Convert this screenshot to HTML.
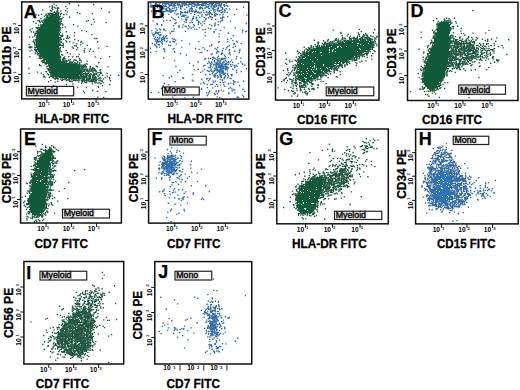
<!DOCTYPE html><html><head><meta charset="utf-8"><style>html,body{margin:0;padding:0;background:#fff;overflow:hidden}svg{display:block}</style></head><body>
<svg width="520" height="390" viewBox="0 0 520 390" font-family='"Liberation Sans", sans-serif'>
<rect width="520" height="390" fill="#fff"/>
<g><path fill="#1f5740" d="M0 0m68.8 3.1h1.35v1.35h-1.35zm-15.4 0.4h1.35v1.35h-1.35zm39.7 0.3h1.35v1.35h-1.35zm-41.4 1.4h1.35v1.35h-1.35zm3.9 -0.2h1.35v1.35h-1.35zm22.3 -0.2h1.35v1.35h-1.35zm-28.8 1.4h1.35v1.35h-1.35zm16 -0.3h1.35v1.35h-1.35zm-13.4 0.7h1.35v1.35h-1.35zm1.7 0.2h1.35v1.35h-1.35zm3.8 -0.1h1.35v1.35h-1.35zm-5.8 1.3h1.35v1.35h-1.35zm3.5 -0.5h1.35v1.35h-1.35zm1.8 0.2h1.35v1.35h-1.35zm1.3 -0.3h1.35v1.35h-1.35zm8.6 0.5h1.35v1.35h-1.35zm34.2 -0.2h1.35v1.35h-1.35zm-48.9 1.2h1.35v1.35h-1.35zm5.1 -0.3h1.35v1.35h-1.35zm-14.9 0.8h1.35v1.35h-1.35zm7.7 0.3h1.35v1.35h-1.35zm1.1 0.5h1.35v1.35h-1.35zm6.3 -0.4h1.35v1.35h-1.35zm7.8 0.2h1.35v1.35h-1.35zm-14.4 0.5h1.35v1.35h-1.35zm3.2 0.2h1.35v1.35h-1.35zm2.2 -0.3h1.35v1.35h-1.35zm0.7 0.5h1.35v1.35h-1.35zm3.5 -0.4h1.35v1.35h-1.35zm6.5 0.7h1.35v1.35h-1.35zm-13.2 0.7h1.35v1.35h-1.35zm1.4 0.3h1.35v1.35h-1.35zm1 0h1.35v1.35h-1.35zm1 -0.6h1.35v1.35h-1.35zm1.1 0.6h1.35v1.35h-1.35zm18.7 -0.2h1.35v1.35h-1.35zm31.8 -0.4h1.35v1.35h-1.35zm-60.8 1.5h1.35v1.35h-1.35zm1.2 -0.5h1.35v1.35h-1.35zm0.8 0.1h1.35v1.35h-1.35zm1.4 0.4h1.35v1.35h-1.35zm1.1 -0.1h1.35v1.35h-1.35zm0.2 -0.4h1.35v1.35h-1.35zm4.7 0.2h1.35v1.35h-1.35zm0.7 0.4h1.35v1.35h-1.35zm3.1 -0.2h1.35v1.35h-1.35zm18.3 0h1.35v1.35h-1.35zm12.7 -0.1h1.35v1.35h-1.35zm-56.5 1.2h1.35v1.35h-1.35zm5.4 -0.4h1.35v1.35h-1.35zm4.8 -0.1h1.35v1.35h-1.35zm2 0h1.35v1.35h-1.35zm1.4 0.1h1.35v1.35h-1.35zm0.9 0.5h1.35v1.35h-1.35zm1.1 0h1.35v1.35h-1.35zm6.7 -0.1h1.35v1.35h-1.35zm2.1 -0.5h1.35v1.35h-1.35zm3.4 0.5h1.35v1.35h-1.35zm2.7 -0.5h1.35v1.35h-1.35zm-27.9 1h1.35v1.35h-1.35zm7.2 -0.2h1.35v1.35h-1.35zm1.2 0.7h1.35v1.35h-1.35zm1.7 0.1h1.35v1.35h-1.35zm1.5 -0.4h1.35v1.35h-1.35zm-5.8 0.6h1.35v1.35h-1.35zm3.4 0h1.35v1.35h-1.35zm2 0.1h1.35v1.35h-1.35zm9.9 0.5h1.35v1.35h-1.35zm0.4 -0.5h1.35v1.35h-1.35zm-13.7 1.1h1.35v1.35h-1.35zm1.1 0h1.35v1.35h-1.35zm11.5 0h1.35v1.35h-1.35zm4 0.1h1.35v1.35h-1.35zm6.5 -0.1h1.35v1.35h-1.35zm-28.7 1.5h1.35v1.35h-1.35zm5.4 -0.5h1.35v1.35h-1.35zm13 0h1.35v1.35h-1.35zm1.5 0.4h1.35v1.35h-1.35zm1.1 -0.1h1.35v1.35h-1.35zm-18 1.3h1.35v1.35h-1.35zm0.7 -0.8h1.35v1.35h-1.35zm1 0.3h1.35v1.35h-1.35zm14.2 0.3h1.35v1.35h-1.35zm1.4 0.1h1.35v1.35h-1.35zm32.5 -0.4h1.35v1.35h-1.35zm-55.6 1.4h1.35v1.35h-1.35zm1.2 -0.4h1.35v1.35h-1.35zm3.9 0h1.35v1.35h-1.35zm1.6 0.1h1.35v1.35h-1.35zm43.5 0.1h1.35v1.35h-1.35zm-54.8 1h1.35v1.35h-1.35zm6.2 0h1.35v1.35h-1.35zm1.8 -0.4h1.35v1.35h-1.35zm1.4 0.7h1.35v1.35h-1.35zm16.4 -0.5h1.35v1.35h-1.35zm1 0.5h1.35v1.35h-1.35zm1.1 -0.5h1.35v1.35h-1.35zm25.2 -0.2h1.35v1.35h-1.35zm-46.4 1.5h1.35v1.35h-1.35zm2.2 -0.2h1.35v1.35h-1.35zm1.1 -0.3h1.35v1.35h-1.35zm16 0.3h1.35v1.35h-1.35zm0.8 0.2h1.35v1.35h-1.35zm34.1 -0.5h1.35v1.35h-1.35zm11.8 0.5h1.35v1.35h-1.35zm-70 0.7h1.35v1.35h-1.35zm23.3 0.1h1.35v1.35h-1.35zm0.8 0.4h1.35v1.35h-1.35zm1.5 -0.2h1.35v1.35h-1.35zm-21 0.9h1.35v1.35h-1.35zm18.8 0h1.35v1.35h-1.35zm0.6 -0.1h1.35v1.35h-1.35zm2.6 0.1h1.35v1.35h-1.35zm10.8 0.1h1.35v1.35h-1.35zm18 -0.3h1.35v1.35h-1.35zm-53 0.8h1.35v1.35h-1.35zm2.1 0h1.35v1.35h-1.35zm19 0.2h1.35v1.35h-1.35zm2.9 -0.2h1.35v1.35h-1.35zm-21.8 1.4h1.35v1.35h-1.35zm18.6 -0.1h1.35v1.35h-1.35zm18.5 -0.3h1.35v1.35h-1.35zm-41.6 1.7h1.35v1.35h-1.35zm1 -0.1h1.35v1.35h-1.35zm1 -0.4h1.35v1.35h-1.35zm1 0.2h1.35v1.35h-1.35zm20.2 0.3h1.35v1.35h-1.35zm0.6 -0.1h1.35v1.35h-1.35zm2.4 -0.3h1.35v1.35h-1.35zm2.9 -0.3h1.35v1.35h-1.35zm-33.1 1.5h1.35v1.35h-1.35zm4.9 -0.3h1.35v1.35h-1.35zm1.3 0.5h1.35v1.35h-1.35zm20.8 -0.1h1.35v1.35h-1.35zm1.3 -0.7h1.35v1.35h-1.35zm-30.3 1.7h1.35v1.35h-1.35zm7.9 -0.1h1.35v1.35h-1.35zm21.1 0.1h1.35v1.35h-1.35zm0.9 0.1h1.35v1.35h-1.35zm-22.8 0.6h1.35v1.35h-1.35zm0.8 -0.1h1.35v1.35h-1.35zm21.6 0.2h1.35v1.35h-1.35zm22.1 0.1h1.35v1.35h-1.35zm-50.5 1.1h1.35v1.35h-1.35zm4.9 -0.4h1.35v1.35h-1.35zm1.2 0.2h1.35v1.35h-1.35zm22 -0.4h1.35v1.35h-1.35zm6.9 0.6h1.35v1.35h-1.35zm20.2 -0.2h1.35v1.35h-1.35zm-52.9 0.7h1.35v1.35h-1.35zm2.7 0.6h1.35v1.35h-1.35zm1.3 0h1.35v1.35h-1.35zm22.8 -0.5h1.35v1.35h-1.35zm14 0.4h1.35v1.35h-1.35zm-39.3 0.9h1.35v1.35h-1.35zm1.1 -0.3h1.35v1.35h-1.35zm23 0h1.35v1.35h-1.35zm-24.1 0.8h1.35v1.35h-1.35zm24.2 0.1h1.35v1.35h-1.35zm3.2 -0.1h1.35v1.35h-1.35zm29.2 0.5h1.35v1.35h-1.35zm-57.2 1.2h1.35v1.35h-1.35zm0.7 -0.5h1.35v1.35h-1.35zm1.5 0.5h1.35v1.35h-1.35zm23.4 -0.4h1.35v1.35h-1.35zm1.4 0.1h1.35v1.35h-1.35zm1.2 0h1.35v1.35h-1.35zm4.7 0.2h1.35v1.35h-1.35zm6.9 0.1h1.35v1.35h-1.35zm-37.5 0.8h1.35v1.35h-1.35zm24.4 -0.2h1.35v1.35h-1.35zm0.9 -0.1h1.35v1.35h-1.35zm-32.6 0.8h1.35v1.35h-1.35zm3.2 0h1.35v1.35h-1.35zm3.9 0.6h1.35v1.35h-1.35zm23.2 0h1.35v1.35h-1.35zm0.7 0h1.35v1.35h-1.35zm6.8 -0.5h1.35v1.35h-1.35zm2.2 0.2h1.35v1.35h-1.35zm-32.8 1.1h1.35v1.35h-1.35zm22.7 0.2h1.35v1.35h-1.35zm1 -0.7h1.35v1.35h-1.35zm6.2 0.3h1.35v1.35h-1.35zm1.5 0h1.35v1.35h-1.35zm26.7 0.1h1.35v1.35h-1.35zm1.8 0h1.35v1.35h-1.35zm-61.3 1.2h1.35v1.35h-1.35zm1.4 -0.4h1.35v1.35h-1.35zm23.1 0.3h1.35v1.35h-1.35zm0.9 0h1.35v1.35h-1.35zm0.7 -0.2h1.35v1.35h-1.35zm2.2 0h1.35v1.35h-1.35zm11.1 0.2h1.35v1.35h-1.35zm-41 0.6h1.35v1.35h-1.35zm1.9 0h1.35v1.35h-1.35zm23.6 0.6h1.35v1.35h-1.35zm6.6 -0.2h1.35v1.35h-1.35zm12.5 0.1h1.35v1.35h-1.35zm-45.1 1.1h1.35v1.35h-1.35zm1.9 0.1h1.35v1.35h-1.35zm24.1 -0.1h1.35v1.35h-1.35zm1.6 -0.4h1.35v1.35h-1.35zm5.7 0.2h1.35v1.35h-1.35zm3.2 0.1h1.35v1.35h-1.35zm11.5 -0.2h1.35v1.35h-1.35zm16.3 0.3h1.35v1.35h-1.35zm-63.4 0.9h1.35v1.35h-1.35zm25.7 -0.5h1.35v1.35h-1.35zm1.5 0.2h1.35v1.35h-1.35zm11.8 0.5h1.35v1.35h-1.35zm7.6 -0.3h1.35v1.35h-1.35zm-46.3 1.1h1.35v1.35h-1.35zm25.3 -0.1h1.35v1.35h-1.35zm3.5 0h1.35v1.35h-1.35zm13.6 0h1.35v1.35h-1.35zm6 -0.4h1.35v1.35h-1.35zm-53.7 1.5h1.35v1.35h-1.35zm5.9 -0.5h1.35v1.35h-1.35zm24.4 0.2h1.35v1.35h-1.35zm1 0.3h1.35v1.35h-1.35zm2.9 0.2h1.35v1.35h-1.35zm17.3 0h1.35v1.35h-1.35zm-45.6 0.4h1.35v1.35h-1.35zm24.3 0.3h1.35v1.35h-1.35zm0.8 0h1.35v1.35h-1.35zm1.5 -0.1h1.35v1.35h-1.35zm1.2 0.2h1.35v1.35h-1.35zm11.9 0h1.35v1.35h-1.35zm1.5 0h1.35v1.35h-1.35zm11 -0.3h1.35v1.35h-1.35zm-57 1.2h1.35v1.35h-1.35zm46 -0.5h1.35v1.35h-1.35zm30.8 0.3h1.35v1.35h-1.35zm-78 0.9h1.35v1.35h-1.35zm1.4 0.6h1.35v1.35h-1.35zm1.3 -0.6h1.35v1.35h-1.35zm3.1 0h1.35v1.35h-1.35zm1 -0.2h1.35v1.35h-1.35zm0.5 0.2h1.35v1.35h-1.35zm23.9 0.4h1.35v1.35h-1.35zm3.1 -0.4h1.35v1.35h-1.35zm8.9 -0.1h1.35v1.35h-1.35zm5.5 0.6h1.35v1.35h-1.35zm-42.2 1.1h1.35v1.35h-1.35zm24.3 -0.1h1.35v1.35h-1.35zm13.5 -0.5h1.35v1.35h-1.35zm11.5 0.4h1.35v1.35h-1.35zm13.8 -0.5h1.35v1.35h-1.35zm-64 1.2h1.35v1.35h-1.35zm0.5 0h1.35v1.35h-1.35zm1.4 0.4h1.35v1.35h-1.35zm22.9 -0.4h1.35v1.35h-1.35zm17.3 0.2h1.35v1.35h-1.35zm13.8 -0.3h1.35v1.35h-1.35zm-58.7 0.9h1.35v1.35h-1.35zm3.4 0.2h1.35v1.35h-1.35zm1.2 0.4h1.35v1.35h-1.35zm23.4 -0.5h1.35v1.35h-1.35zm0.2 0.6h1.35v1.35h-1.35zm6.2 -0.2h1.35v1.35h-1.35zm18.1 0h1.35v1.35h-1.35zm-54.2 0.5h1.35v1.35h-1.35zm6.2 0.1h1.35v1.35h-1.35zm0.8 -0.1h1.35v1.35h-1.35zm22.2 0.6h1.35v1.35h-1.35zm1.8 -0.3h1.35v1.35h-1.35zm28.3 -0.2h1.35v1.35h-1.35zm3.8 0.1h1.35v1.35h-1.35zm-57.9 0.8h1.35v1.35h-1.35zm2 0.6h1.35v1.35h-1.35zm21.9 -0.5h1.35v1.35h-1.35zm8.1 0.5h1.35v1.35h-1.35zm17.1 -0.6h1.35v1.35h-1.35zm-49 1.4h1.35v1.35h-1.35zm2 -0.3h1.35v1.35h-1.35zm1.4 0.5h1.35v1.35h-1.35zm20.3 -0.1h1.35v1.35h-1.35zm11.2 0.2h1.35v1.35h-1.35zm-32.8 0.9h1.35v1.35h-1.35zm1.8 -0.7h1.35v1.35h-1.35zm19.8 0.7h1.35v1.35h-1.35zm2.5 -0.1h1.35v1.35h-1.35zm17.5 -0.3h1.35v1.35h-1.35zm-39.9 1.2h1.35v1.35h-1.35zm1.2 -0.1h1.35v1.35h-1.35zm18.9 0h1.35v1.35h-1.35zm3.4 -0.4h1.35v1.35h-1.35zm-32.9 1.6h1.35v1.35h-1.35zm9.8 0.2h1.35v1.35h-1.35zm0.7 0h1.35v1.35h-1.35zm1.4 -0.3h1.35v1.35h-1.35zm17.4 0.1h1.35v1.35h-1.35zm1.3 -0.3h1.35v1.35h-1.35zm4.2 0.5h1.35v1.35h-1.35zm4.2 -0.3h1.35v1.35h-1.35zm3.6 0.3h1.35v1.35h-1.35zm4.1 -0.3h1.35v1.35h-1.35zm1.6 -0.1h1.35v1.35h-1.35zm17.1 0.4h1.35v1.35h-1.35zm14.3 -0.3h1.35v1.35h-1.35zm-69.7 0.6h1.35v1.35h-1.35zm2.3 0.1h1.35v1.35h-1.35zm18.5 0h1.35v1.35h-1.35zm3 0.3h1.35v1.35h-1.35zm-24.6 0.8h1.35v1.35h-1.35zm1.5 0.1h1.35v1.35h-1.35zm0.9 -0.1h1.35v1.35h-1.35zm1.8 0h1.35v1.35h-1.35zm20.2 -0.1h1.35v1.35h-1.35zm1.2 0.4h1.35v1.35h-1.35zm0.6 0.2h1.35v1.35h-1.35zm14.2 -0.4h1.35v1.35h-1.35zm21.1 -0.1h1.35v1.35h-1.35zm-56.8 1.3h1.35v1.35h-1.35zm16.7 -0.5h1.35v1.35h-1.35zm2.1 0.1h1.35v1.35h-1.35zm0.7 0.2h1.35v1.35h-1.35zm7.1 0.1h1.35v1.35h-1.35zm4.3 0.1h1.35v1.35h-1.35zm-32 1.1h1.35v1.35h-1.35zm0.6 -0.1h1.35v1.35h-1.35zm1.5 0h1.35v1.35h-1.35zm15.5 -0.3h1.35v1.35h-1.35zm2.3 0.5h1.35v1.35h-1.35zm1.1 -0.2h1.35v1.35h-1.35zm0.5 -0.2h1.35v1.35h-1.35zm1.7 0.3h1.35v1.35h-1.35zm0.8 -0.2h1.35v1.35h-1.35zm2.1 -0.3h1.35v1.35h-1.35zm5.3 -0.2h1.35v1.35h-1.35zm1.8 0.5h1.35v1.35h-1.35zm0.6 -0.2h1.35v1.35h-1.35zm3.2 -0.1h1.35v1.35h-1.35zm1.1 0h1.35v1.35h-1.35zm-39.4 0.9h1.35v1.35h-1.35zm2.5 0.3h1.35v1.35h-1.35zm0.4 0.4h1.35v1.35h-1.35zm17.9 -0.7h1.35v1.35h-1.35zm1.3 0.4h1.35v1.35h-1.35zm0.8 0.3h1.35v1.35h-1.35zm1.4 0h1.35v1.35h-1.35zm1.1 -0.2h1.35v1.35h-1.35zm0.4 -0.2h1.35v1.35h-1.35zm2.7 -0.3h1.35v1.35h-1.35zm3.5 0.5h1.35v1.35h-1.35zm4.3 0.1h1.35v1.35h-1.35zm3.8 0.1h1.35v1.35h-1.35zm5.8 -0.7h1.35v1.35h-1.35zm-44.5 1.3h1.35v1.35h-1.35zm1.4 -0.1h1.35v1.35h-1.35zm1.2 0.3h1.35v1.35h-1.35zm1.1 -0.6h1.35v1.35h-1.35zm19.8 0.6h1.35v1.35h-1.35zm3.2 -0.1h1.35v1.35h-1.35zm1.3 -0.1h1.35v1.35h-1.35zm0.7 -0.3h1.35v1.35h-1.35zm0.9 0.5h1.35v1.35h-1.35zm2.3 0.1h1.35v1.35h-1.35zm5.1 -0.3h1.35v1.35h-1.35zm19 0.3h1.35v1.35h-1.35zm-53.9 1.1h1.35v1.35h-1.35zm0.3 -0.4h1.35v1.35h-1.35zm1.2 -0.1h1.35v1.35h-1.35zm1.4 -0.1h1.35v1.35h-1.35zm23 0h1.35v1.35h-1.35zm0.6 -0.1h1.35v1.35h-1.35zm1.5 0.6h1.35v1.35h-1.35zm0.3 0h1.35v1.35h-1.35zm2 -0.5h1.35v1.35h-1.35zm1.4 0.2h1.35v1.35h-1.35zm0.8 -0.4h1.35v1.35h-1.35zm2.1 0.3h1.35v1.35h-1.35zm6.7 0.5h1.35v1.35h-1.35zm-46.7 0.7h1.35v1.35h-1.35zm6.8 -0.5h1.35v1.35h-1.35zm31.4 0.8h1.35v1.35h-1.35zm1.2 -0.2h1.35v1.35h-1.35zm0.9 -0.1h1.35v1.35h-1.35zm5 -0.2h1.35v1.35h-1.35zm2.5 -0.2h1.35v1.35h-1.35zm-47.7 1.1h1.35v1.35h-1.35zm1.3 0.6h1.35v1.35h-1.35zm7.9 -0.1h1.35v1.35h-1.35zm30.5 -0.4h1.35v1.35h-1.35zm1.5 -0.2h1.35v1.35h-1.35zm1 0h1.35v1.35h-1.35zm1.7 0h1.35v1.35h-1.35zm1.9 0.5h1.35v1.35h-1.35zm-38.7 1.2h1.35v1.35h-1.35zm0.9 -0.6h1.35v1.35h-1.35zm33.1 0.4h1.35v1.35h-1.35zm0.7 0.1h1.35v1.35h-1.35zm1.5 -0.5h1.35v1.35h-1.35zm0.7 -0.1h1.35v1.35h-1.35zm1 0.1h1.35v1.35h-1.35zm1.9 0.5h1.35v1.35h-1.35zm3.7 -0.4h1.35v1.35h-1.35zm6.2 -0.1h1.35v1.35h-1.35zm1.1 0.5h1.35v1.35h-1.35zm10.4 0.1h1.35v1.35h-1.35zm-25.6 0.3h1.35v1.35h-1.35zm1.2 0.6h1.35v1.35h-1.35zm0.8 -0.6h1.35v1.35h-1.35zm1 0h1.35v1.35h-1.35zm5 -0.1h1.35v1.35h-1.35zm2.5 0.4h1.35v1.35h-1.35zm-63.9 1h1.35v1.35h-1.35zm18.4 0.1h1.35v1.35h-1.35zm1 0.1h1.35v1.35h-1.35zm1.1 0.2h1.35v1.35h-1.35zm30.7 -0.5h1.35v1.35h-1.35zm1.5 -0.2h1.35v1.35h-1.35zm0.8 0.3h1.35v1.35h-1.35zm3.5 0.4h1.35v1.35h-1.35zm4.2 -0.6h1.35v1.35h-1.35zm1.4 0.6h1.35v1.35h-1.35zm2.2 -0.5h1.35v1.35h-1.35zm0.6 0.1h1.35v1.35h-1.35zm-46 0.9h1.35v1.35h-1.35zm1.3 0.3h1.35v1.35h-1.35zm30.6 0.1h1.35v1.35h-1.35zm1.4 0h1.35v1.35h-1.35zm1 -0.5h1.35v1.35h-1.35zm0.8 0.3h1.35v1.35h-1.35zm1.3 -0.4h1.35v1.35h-1.35zm1.1 0.1h1.35v1.35h-1.35zm0.5 -0.1h1.35v1.35h-1.35zm1.1 0.1h1.35v1.35h-1.35zm2.1 0.2h1.35v1.35h-1.35zm0.6 -0.4h1.35v1.35h-1.35zm2.4 0h1.35v1.35h-1.35zm2.3 0.3h1.35v1.35h-1.35zm5.8 0.3h1.35v1.35h-1.35zm-52.1 0.8h1.35v1.35h-1.35zm0.7 0h1.35v1.35h-1.35zm32.6 -0.2h1.35v1.35h-1.35zm2.6 -0.1h1.35v1.35h-1.35zm2.1 -0.1h1.35v1.35h-1.35zm0.9 0.7h1.35v1.35h-1.35zm1.8 -0.6h1.35v1.35h-1.35zm1.4 0.7h1.35v1.35h-1.35zm1.1 -0.7h1.35v1.35h-1.35zm1 0h1.35v1.35h-1.35zm0.9 0h1.35v1.35h-1.35zm0.7 0.3h1.35v1.35h-1.35zm1 -0.3h1.35v1.35h-1.35zm4.8 0.4h1.35v1.35h-1.35zm-54.2 1h1.35v1.35h-1.35zm0.7 0.3h1.35v1.35h-1.35zm3.1 -0.5h1.35v1.35h-1.35zm30.9 -0.2h1.35v1.35h-1.35zm0.9 0.5h1.35v1.35h-1.35zm0.9 -0.1h1.35v1.35h-1.35zm1.1 -0.3h1.35v1.35h-1.35zm1 0.1h1.35v1.35h-1.35zm1.6 -0.2h1.35v1.35h-1.35zm1.2 0h1.35v1.35h-1.35zm1 0.1h1.35v1.35h-1.35zm1.1 0.6h1.35v1.35h-1.35zm1 -0.7h1.35v1.35h-1.35zm0.9 0h1.35v1.35h-1.35zm1.1 0.6h1.35v1.35h-1.35zm3.1 -0.7h1.35v1.35h-1.35zm0.9 0.2h1.35v1.35h-1.35zm-58.9 0.9h1.35v1.35h-1.35zm12.3 0.2h1.35v1.35h-1.35zm0.7 -0.2h1.35v1.35h-1.35zm30.1 0.3h1.35v1.35h-1.35zm0.8 0.4h1.35v1.35h-1.35zm1.3 -0.7h1.35v1.35h-1.35zm2.8 0.4h1.35v1.35h-1.35zm2.8 0.3h1.35v1.35h-1.35zm4.6 -0.7h1.35v1.35h-1.35zm0.4 0h1.35v1.35h-1.35zm4.4 0.7h1.35v1.35h-1.35zm1.5 -0.2h1.35v1.35h-1.35zm1.5 -0.5h1.35v1.35h-1.35zm-71.5 1.2h1.35v1.35h-1.35zm12.1 -0.3h1.35v1.35h-1.35zm6.4 0.8h1.35v1.35h-1.35zm3.2 -0.6h1.35v1.35h-1.35zm29.8 0.4h1.35v1.35h-1.35zm1 -0.4h1.35v1.35h-1.35zm1.8 0.5h1.35v1.35h-1.35zm1.3 -0.1h1.35v1.35h-1.35zm0.4 0h1.35v1.35h-1.35zm1.1 -0.1h1.35v1.35h-1.35zm1.5 -0.3h1.35v1.35h-1.35zm0.7 0.2h1.35v1.35h-1.35zm2.2 0.4h1.35v1.35h-1.35zm3.6 -0.3h1.35v1.35h-1.35zm1.6 -0.3h1.35v1.35h-1.35zm0.4 0.2h1.35v1.35h-1.35zm4.3 -0.1h1.35v1.35h-1.35zm1.1 -0.2h1.35v1.35h-1.35zm5.5 0.3h1.35v1.35h-1.35zm-63.8 1.2h1.35v1.35h-1.35zm5.2 0.1h1.35v1.35h-1.35zm2 -0.3h1.35v1.35h-1.35zm0.9 -0.4h1.35v1.35h-1.35zm28.8 0.3h1.35v1.35h-1.35zm1.2 -0.2h1.35v1.35h-1.35zm1.2 0.5h1.35v1.35h-1.35zm2.7 0h1.35v1.35h-1.35zm1.4 0.1h1.35v1.35h-1.35zm0.4 -0.6h1.35v1.35h-1.35zm2.7 0.5h1.35v1.35h-1.35zm1.4 -0.3h1.35v1.35h-1.35zm2.2 -0.1h1.35v1.35h-1.35zm1.3 0.4h1.35v1.35h-1.35zm1.7 -0.1h1.35v1.35h-1.35zm3.1 0.2h1.35v1.35h-1.35zm-48 1h1.35v1.35h-1.35zm28.7 -0.4h1.35v1.35h-1.35zm1.3 -0.3h1.35v1.35h-1.35zm2.1 0.3h1.35v1.35h-1.35zm1.6 -0.2h1.35v1.35h-1.35zm0.9 0.4h1.35v1.35h-1.35zm1.3 0.1h1.35v1.35h-1.35zm0.8 0.1h1.35v1.35h-1.35zm1.1 -0.3h1.35v1.35h-1.35zm1.2 -0.3h1.35v1.35h-1.35zm2 0.3h1.35v1.35h-1.35zm0.7 -0.2h1.35v1.35h-1.35zm1.3 0.1h1.35v1.35h-1.35zm3.2 0.2h1.35v1.35h-1.35zm5 -0.2h1.35v1.35h-1.35zm7.7 -0.2h1.35v1.35h-1.35zm8.2 0.1h1.35v1.35h-1.35zm-75.2 1.6h1.35v1.35h-1.35zm0.7 -0.7h1.35v1.35h-1.35zm6 0.2h1.35v1.35h-1.35zm1.2 -0.1h1.35v1.35h-1.35zm0.9 0.6h1.35v1.35h-1.35zm1.2 -0.3h1.35v1.35h-1.35zm0.8 -0.4h1.35v1.35h-1.35zm26.2 0h1.35v1.35h-1.35zm1.3 0h1.35v1.35h-1.35zm1 0.6h1.35v1.35h-1.35zm0.5 -0.2h1.35v1.35h-1.35zm1.2 0.1h1.35v1.35h-1.35zm0.9 0.1h1.35v1.35h-1.35zm1 0h1.35v1.35h-1.35zm2.2 -0.6h1.35v1.35h-1.35zm0.8 0.4h1.35v1.35h-1.35zm1 -0.3h1.35v1.35h-1.35zm2.1 0.6h1.35v1.35h-1.35zm1 -0.6h1.35v1.35h-1.35zm2 0.4h1.35v1.35h-1.35zm2.8 -0.3h1.35v1.35h-1.35zm8.9 0.1h1.35v1.35h-1.35zm-62.1 0.9h1.35v1.35h-1.35zm4.4 0.3h1.35v1.35h-1.35zm3.3 0h1.35v1.35h-1.35zm0.8 -0.6h1.35v1.35h-1.35zm2 0.8h1.35v1.35h-1.35zm0.7 -0.1h1.35v1.35h-1.35zm1.5 0h1.35v1.35h-1.35zm1.7 -0.5h1.35v1.35h-1.35zm21.4 0.1h1.35v1.35h-1.35zm0.4 -0.2h1.35v1.35h-1.35zm1.1 0.5h1.35v1.35h-1.35zm1.3 -0.2h1.35v1.35h-1.35zm1.2 0.3h1.35v1.35h-1.35zm0.8 -0.6h1.35v1.35h-1.35zm0.4 -0.1h1.35v1.35h-1.35zm1 0.7h1.35v1.35h-1.35zm1.4 0.1h1.35v1.35h-1.35zm1 -0.7h1.35v1.35h-1.35zm0.9 0.6h1.35v1.35h-1.35zm2.1 -0.2h1.35v1.35h-1.35zm1.2 -0.4h1.35v1.35h-1.35zm0.6 0.1h1.35v1.35h-1.35zm1 -0.1h1.35v1.35h-1.35zm0.9 0.5h1.35v1.35h-1.35zm4 -0.1h1.35v1.35h-1.35zm5.1 0.1h1.35v1.35h-1.35zm4 -0.2h1.35v1.35h-1.35zm-55.4 0.7h1.35v1.35h-1.35zm1.3 0.7h1.35v1.35h-1.35zm1.6 -0.6h1.35v1.35h-1.35zm1.5 0.5h1.35v1.35h-1.35zm3.9 -0.2h1.35v1.35h-1.35zm2.7 -0.1h1.35v1.35h-1.35zm0.5 -0.3h1.35v1.35h-1.35zm0.9 0.1h1.35v1.35h-1.35zm2.6 0.4h1.35v1.35h-1.35zm0.8 -0.6h1.35v1.35h-1.35zm0.8 0.3h1.35v1.35h-1.35zm0.8 0.3h1.35v1.35h-1.35zm7.9 -0.2h1.35v1.35h-1.35zm1.3 0h1.35v1.35h-1.35zm1.6 -0.3h1.35v1.35h-1.35zm1.2 0.6h1.35v1.35h-1.35zm1.3 -0.2h1.35v1.35h-1.35zm2.2 0.1h1.35v1.35h-1.35zm1.7 -0.1h1.35v1.35h-1.35zm0.8 0h1.35v1.35h-1.35zm1.4 0h1.35v1.35h-1.35zm1.9 -0.4h1.35v1.35h-1.35zm0.6 0.7h1.35v1.35h-1.35zm1.2 -0.3h1.35v1.35h-1.35zm1.5 -0.1h1.35v1.35h-1.35zm2.8 0.1h1.35v1.35h-1.35zm0.7 -0.4h1.35v1.35h-1.35zm1.7 0.4h1.35v1.35h-1.35zm8.5 0.2h1.35v1.35h-1.35zm-54.3 0.5h1.35v1.35h-1.35zm2.3 -0.1h1.35v1.35h-1.35zm3 0h1.35v1.35h-1.35zm2 -0.1h1.35v1.35h-1.35zm0.9 0.3h1.35v1.35h-1.35zm1.7 0.3h1.35v1.35h-1.35zm1.2 0.2h1.35v1.35h-1.35zm1.4 0h1.35v1.35h-1.35zm0.8 0h1.35v1.35h-1.35zm0.7 -0.5h1.35v1.35h-1.35zm2.1 -0.2h1.35v1.35h-1.35zm0.7 0.6h1.35v1.35h-1.35zm1.8 -0.6h1.35v1.35h-1.35zm2.2 -0.1h1.35v1.35h-1.35zm2.1 0.6h1.35v1.35h-1.35zm4.2 -0.3h1.35v1.35h-1.35zm1.1 0.5h1.35v1.35h-1.35zm1.1 -0.1h1.35v1.35h-1.35zm2.1 -0.6h1.35v1.35h-1.35zm1 0.2h1.35v1.35h-1.35zm1.1 -0.1h1.35v1.35h-1.35zm0.6 0.4h1.35v1.35h-1.35zm2.1 0h1.35v1.35h-1.35zm1.2 0.2h1.35v1.35h-1.35zm1.2 -0.2h1.35v1.35h-1.35zm1.4 -0.1h1.35v1.35h-1.35zm2 -0.4h1.35v1.35h-1.35zm6.2 0h1.35v1.35h-1.35zm-52.6 1.4h1.35v1.35h-1.35zm10.8 -0.2h1.35v1.35h-1.35zm0.9 0h1.35v1.35h-1.35zm3.9 0.1h1.35v1.35h-1.35zm2.7 0.2h1.35v1.35h-1.35zm4.4 -0.3h1.35v1.35h-1.35zm1.1 -0.2h1.35v1.35h-1.35zm0.5 0.5h1.35v1.35h-1.35zm1.2 -0.5h1.35v1.35h-1.35zm0.7 0.5h1.35v1.35h-1.35zm1.3 -0.6h1.35v1.35h-1.35zm1.3 0.1h1.35v1.35h-1.35zm1.9 0.1h1.35v1.35h-1.35zm0.7 0.4h1.35v1.35h-1.35zm2.3 0.1h1.35v1.35h-1.35zm1 -0.4h1.35v1.35h-1.35zm1.2 -0.2h1.35v1.35h-1.35zm1.4 0.1h1.35v1.35h-1.35zm2.3 0.1h1.35v1.35h-1.35zm0.9 0.2h1.35v1.35h-1.35zm1 -0.4h1.35v1.35h-1.35zm1.3 0.7h1.35v1.35h-1.35zm1.8 -0.2h1.35v1.35h-1.35zm0.7 -0.5h1.35v1.35h-1.35zm2.7 0.1h1.35v1.35h-1.35zm1.6 0.2h1.35v1.35h-1.35zm1.3 0.4h1.35v1.35h-1.35zm8.7 -0.1h1.35v1.35h-1.35zm-61.9 1h1.35v1.35h-1.35zm9.2 -0.5h1.35v1.35h-1.35zm11.9 0h1.35v1.35h-1.35zm1.1 0h1.35v1.35h-1.35zm1.6 0.4h1.35v1.35h-1.35zm6.4 0.2h1.35v1.35h-1.35zm3 -0.6h1.35v1.35h-1.35zm1.3 -0.1h1.35v1.35h-1.35zm1.6 0.5h1.35v1.35h-1.35zm2.2 -0.2h1.35v1.35h-1.35zm1.8 -0.3h1.35v1.35h-1.35zm1.1 0.7h1.35v1.35h-1.35zm1.4 -0.5h1.35v1.35h-1.35zm1.4 0h1.35v1.35h-1.35zm1 -0.2h1.35v1.35h-1.35zm0.9 0.5h1.35v1.35h-1.35zm1.7 -0.5h1.35v1.35h-1.35zm5.6 0.2h1.35v1.35h-1.35zm0.6 -0.1h1.35v1.35h-1.35zm-47 0.9h1.35v1.35h-1.35zm26.9 0h1.35v1.35h-1.35zm2.9 0.2h1.35v1.35h-1.35zm1.4 0.4h1.35v1.35h-1.35zm5.6 -0.6h1.35v1.35h-1.35zm2.9 0.7h1.35v1.35h-1.35zm1.1 -0.4h1.35v1.35h-1.35zm3 0h1.35v1.35h-1.35zm4.1 0.1h1.35v1.35h-1.35zm-21.8 0.8h1.35v1.35h-1.35zm10.9 0.5h1.35v1.35h-1.35zm5.5 -0.5h1.35v1.35h-1.35zm2.4 0.1h1.35v1.35h-1.35zm0.9 0.2h1.35v1.35h-1.35zm-34.7 0.9h1.35v1.35h-1.35zm6.3 -0.4h1.35v1.35h-1.35zm37 0.4h1.35v1.35h-1.35zm-56.2 1.2h1.35v1.35h-1.35zm48.8 -0.2h1.35v1.35h-1.35zm-4.1 0.8h1.35v1.35h-1.35zm-20.5 0.8h1.35v1.35h-1.35zm8.7 0.3h1.35v1.35h-1.35zm12.1 -0.2h1.35v1.35h-1.35zm-5.8 3.2h1.35v1.35h-1.35zm-9.1 0.9h1.35v1.35h-1.35zm13.8 0h1.35v1.35h-1.35zm8.4 0.2h1.35v1.35h-1.35zm-21.4 1.3h1.35v1.35h-1.35zm13.3 4.3h1.35v1.35h-1.35zm5.9 0.2h1.35v1.35h-1.35z"/><path fill="#0e5a3a" d="M55 13h2v1h-2zM52 14h6v1h-6zM51 15h8v1h-8zM50 16h9v1h-9zM48 17h11v1h-11zM47 18h12v1h-12zM46 19h13v1h-13zM45 20h14v1h-14zM44 21h15v1h-15zM44 22h15v1h-15zM43 23h16v1h-16zM42 24h17v1h-17zM41 25h18v1h-18zM41 26h18v1h-18zM40 27h19v1h-19zM39 28h20v1h-20zM39 29h20v1h-20zM39 30h20v1h-20zM38 31h21v1h-21zM38 32h21v1h-21zM37 33h22v1h-22zM37 34h22v1h-22zM37 35h22v1h-22zM37 36h22v1h-22zM37 37h22v1h-22zM37 38h22v1h-22zM37 39h22v1h-22zM36 40h23v1h-23zM36 41h23v1h-23zM36 42h23v1h-23zM36 43h23v1h-23zM36 44h23v1h-23zM36 45h23v1h-23zM36 46h23v1h-23zM37 47h22v1h-22zM37 48h22v1h-22zM37 49h22v1h-22zM38 50h21v1h-21zM38 51h21v1h-21zM39 52h20v1h-20zM39 53h20v1h-20zM40 54h19v1h-19zM41 55h18v1h-18zM42 56h17v1h-17zM43 57h17v1h-17zM44 58h16v1h-16zM44 59h16v1h-16zM46 60h14v1h-14zM46 61h16v1h-16zM47 62h18v1h-18zM48 63h22v1h-22zM48 64h29v1h-29zM49 65h30v1h-30zM49 66h31v1h-31zM49 67h31v1h-31zM50 68h30v1h-30zM50 69h30v1h-30zM50 70h30v1h-30zM51 71h29v1h-29zM51 72h29v1h-29zM51 73h29v1h-29zM52 74h28v1h-28zM52 75h27v1h-27zM55 76h25v1h-25zM60 77h20v1h-20zM72 78h7v1h-7z"/><path fill="#306aa6" d="M0 0m150.2 3.1h1.35v1.35h-1.35zm4.6 0h1.35v1.35h-1.35zm0.9 -0.5h1.35v1.35h-1.35zm3.7 0.1h1.35v1.35h-1.35zm2.8 0.2h1.35v1.35h-1.35zm1.5 0h1.35v1.35h-1.35zm1.1 0.1h1.35v1.35h-1.35zm1.3 -0.4h1.35v1.35h-1.35zm0.9 0.3h1.35v1.35h-1.35zm0.4 0h1.35v1.35h-1.35zm1.8 0.3h1.35v1.35h-1.35zm1.7 -0.8h1.35v1.35h-1.35zm0.8 0.4h1.35v1.35h-1.35zm1 0.4h1.35v1.35h-1.35zm1.4 -0.6h1.35v1.35h-1.35zm1 0h1.35v1.35h-1.35zm1.8 0.5h1.35v1.35h-1.35zm1.9 -0.6h1.35v1.35h-1.35zm2.4 0.6h1.35v1.35h-1.35zm1.7 0h1.35v1.35h-1.35zm0.7 -0.1h1.35v1.35h-1.35zm0.9 0.2h1.35v1.35h-1.35zm1 -0.2h1.35v1.35h-1.35zm3.1 -0.4h1.35v1.35h-1.35zm2.2 0.4h1.35v1.35h-1.35zm0.9 -0.4h1.35v1.35h-1.35zm1.1 0.2h1.35v1.35h-1.35zm0.7 0.2h1.35v1.35h-1.35zm3.2 0h1.35v1.35h-1.35zm0.8 -0.3h1.35v1.35h-1.35zm4.7 0.4h1.35v1.35h-1.35zm0.7 -0.3h1.35v1.35h-1.35zm1.5 0.3h1.35v1.35h-1.35zm1.3 -0.4h1.35v1.35h-1.35zm3.2 0.2h1.35v1.35h-1.35zm1.3 -0.2h1.35v1.35h-1.35zm0.4 0.1h1.35v1.35h-1.35zm1.3 -0.1h1.35v1.35h-1.35zm0.8 -0.1h1.35v1.35h-1.35zm2.4 0h1.35v1.35h-1.35zm0.9 0.6h1.35v1.35h-1.35zm0.4 -0.3h1.35v1.35h-1.35zm1.5 -0.3h1.35v1.35h-1.35zm0.7 0.3h1.35v1.35h-1.35zm2.2 0.2h1.35v1.35h-1.35zm4.9 -0.7h1.35v1.35h-1.35zm-71.2 1.7h1.35v1.35h-1.35zm1.3 0h1.35v1.35h-1.35zm1.1 -0.4h1.35v1.35h-1.35zm1.9 -0.2h1.35v1.35h-1.35zm3.1 0.1h1.35v1.35h-1.35zm3.6 0.2h1.35v1.35h-1.35zm2.5 0.2h1.35v1.35h-1.35zm2.7 -0.2h1.35v1.35h-1.35zm2.8 0.3h1.35v1.35h-1.35zm3.4 0h1.35v1.35h-1.35zm0.8 -0.3h1.35v1.35h-1.35zm1.4 0.1h1.35v1.35h-1.35zm2.9 -0.4h1.35v1.35h-1.35zm1.7 0.5h1.35v1.35h-1.35zm0.9 -0.2h1.35v1.35h-1.35zm1.5 0.3h1.35v1.35h-1.35zm2.1 -0.4h1.35v1.35h-1.35zm0.8 0h1.35v1.35h-1.35zm0.8 -0.1h1.35v1.35h-1.35zm1.2 0.3h1.35v1.35h-1.35zm2 -0.5h1.35v1.35h-1.35zm1.1 0.5h1.35v1.35h-1.35zm0.8 -0.3h1.35v1.35h-1.35zm1 0.5h1.35v1.35h-1.35zm0.6 0.1h1.35v1.35h-1.35zm1.2 -0.7h1.35v1.35h-1.35zm1.1 0.3h1.35v1.35h-1.35zm1.1 0.1h1.35v1.35h-1.35zm1.3 -0.3h1.35v1.35h-1.35zm0.7 0.3h1.35v1.35h-1.35zm0.9 0.3h1.35v1.35h-1.35zm2.2 -0.2h1.35v1.35h-1.35zm2.1 -0.2h1.35v1.35h-1.35zm1.1 0.2h1.35v1.35h-1.35zm2.4 -0.1h1.35v1.35h-1.35zm1.1 -0.2h1.35v1.35h-1.35zm2.9 0.3h1.35v1.35h-1.35zm3.9 0h1.35v1.35h-1.35zm1.6 0.1h1.35v1.35h-1.35zm3.6 -0.2h1.35v1.35h-1.35zm-73.7 1h1.35v1.35h-1.35zm1.2 0.3h1.35v1.35h-1.35zm0.4 -0.5h1.35v1.35h-1.35zm1.9 0.2h1.35v1.35h-1.35zm2.7 0h1.35v1.35h-1.35zm0.3 0.2h1.35v1.35h-1.35zm1.3 -0.6h1.35v1.35h-1.35zm1.8 0.4h1.35v1.35h-1.35zm1.5 0.3h1.35v1.35h-1.35zm1.9 -0.1h1.35v1.35h-1.35zm1.6 -0.4h1.35v1.35h-1.35zm4.2 0.4h1.35v1.35h-1.35zm0.8 -0.3h1.35v1.35h-1.35zm1 -0.1h1.35v1.35h-1.35zm0.8 0h1.35v1.35h-1.35zm1.7 0.2h1.35v1.35h-1.35zm1 0h1.35v1.35h-1.35zm0.6 0.1h1.35v1.35h-1.35zm1.9 -0.5h1.35v1.35h-1.35zm1.3 0h1.35v1.35h-1.35zm1.6 0.5h1.35v1.35h-1.35zm1.7 0h1.35v1.35h-1.35zm0.6 -0.2h1.35v1.35h-1.35zm2.2 0.2h1.35v1.35h-1.35zm3.7 -0.4h1.35v1.35h-1.35zm3.5 0.5h1.35v1.35h-1.35zm3.6 -0.6h1.35v1.35h-1.35zm1.8 0.3h1.35v1.35h-1.35zm1.6 0h1.35v1.35h-1.35zm2.9 -0.1h1.35v1.35h-1.35zm0.9 0.2h1.35v1.35h-1.35zm1.4 0.1h1.35v1.35h-1.35zm1.8 0.1h1.35v1.35h-1.35zm3 0.1h1.35v1.35h-1.35zm2.4 -0.6h1.35v1.35h-1.35zm1.5 0.6h1.35v1.35h-1.35zm1.6 -0.2h1.35v1.35h-1.35zm1.2 -0.5h1.35v1.35h-1.35zm1 0.4h1.35v1.35h-1.35zm1.8 -0.1h1.35v1.35h-1.35zm1.2 0.1h1.35v1.35h-1.35zm0.9 0.2h1.35v1.35h-1.35zm0.7 -0.6h1.35v1.35h-1.35zm2.6 0h1.35v1.35h-1.35zm2.4 0.2h1.35v1.35h-1.35zm1.2 0.5h1.35v1.35h-1.35zm-77 1h1.35v1.35h-1.35zm11.1 -0.2h1.35v1.35h-1.35zm0.8 -0.2h1.35v1.35h-1.35zm1.5 -0.3h1.35v1.35h-1.35zm0.5 0.5h1.35v1.35h-1.35zm1 -0.3h1.35v1.35h-1.35zm1.3 0.3h1.35v1.35h-1.35zm6.7 -0.2h1.35v1.35h-1.35zm7.4 -0.2h1.35v1.35h-1.35zm1.5 0.3h1.35v1.35h-1.35zm6.6 -0.1h1.35v1.35h-1.35zm3.5 -0.3h1.35v1.35h-1.35zm1.5 0.4h1.35v1.35h-1.35zm0.6 -0.4h1.35v1.35h-1.35zm12.2 0.7h1.35v1.35h-1.35zm1.9 -0.1h1.35v1.35h-1.35zm2.7 -0.4h1.35v1.35h-1.35zm2.3 0.5h1.35v1.35h-1.35zm0.7 0h1.35v1.35h-1.35zm2.1 -0.6h1.35v1.35h-1.35zm4.3 0.5h1.35v1.35h-1.35zm4.2 -0.5h1.35v1.35h-1.35zm3.1 0.1h1.35v1.35h-1.35zm-76 0.9h1.35v1.35h-1.35zm5.4 0.3h1.35v1.35h-1.35zm5.2 0.1h1.35v1.35h-1.35zm5.1 0.2h1.35v1.35h-1.35zm1.2 -0.7h1.35v1.35h-1.35zm5.9 -0.1h1.35v1.35h-1.35zm1.7 0.6h1.35v1.35h-1.35zm2.2 -0.5h1.35v1.35h-1.35zm2.1 0.2h1.35v1.35h-1.35zm6 0h1.35v1.35h-1.35zm4.7 0.4h1.35v1.35h-1.35zm5.3 -0.5h1.35v1.35h-1.35zm2.9 0.4h1.35v1.35h-1.35zm0.9 -0.4h1.35v1.35h-1.35zm1.4 0.4h1.35v1.35h-1.35zm4.3 0h1.35v1.35h-1.35zm1.7 -0.2h1.35v1.35h-1.35zm3.2 -0.3h1.35v1.35h-1.35zm3.8 0.2h1.35v1.35h-1.35zm3.6 0h1.35v1.35h-1.35zm2.9 -0.2h1.35v1.35h-1.35zm1.1 0.5h1.35v1.35h-1.35zm21.1 -0.4h1.35v1.35h-1.35zm-84.2 0.8h1.35v1.35h-1.35zm4.4 0.4h1.35v1.35h-1.35zm2.5 0.3h1.35v1.35h-1.35zm2.9 -0.4h1.35v1.35h-1.35zm3.2 0h1.35v1.35h-1.35zm1.8 0.2h1.35v1.35h-1.35zm6.4 0.1h1.35v1.35h-1.35zm9.8 -0.2h1.35v1.35h-1.35zm1.1 0.2h1.35v1.35h-1.35zm0.6 0.1h1.35v1.35h-1.35zm7.4 0.1h1.35v1.35h-1.35zm1.2 -0.3h1.35v1.35h-1.35zm2.1 0.2h1.35v1.35h-1.35zm2 -0.6h1.35v1.35h-1.35zm4 0.4h1.35v1.35h-1.35zm0.7 0.1h1.35v1.35h-1.35zm3 0.1h1.35v1.35h-1.35zm0.7 -0.6h1.35v1.35h-1.35zm4.2 0.2h1.35v1.35h-1.35zm1 -0.1h1.35v1.35h-1.35zm4.3 -0.1h1.35v1.35h-1.35zm3.6 0.6h1.35v1.35h-1.35zm3.4 0.1h1.35v1.35h-1.35zm-64.2 0.6h1.35v1.35h-1.35zm4.3 -0.3h1.35v1.35h-1.35zm0.7 0.3h1.35v1.35h-1.35zm6.3 -0.2h1.35v1.35h-1.35zm4.4 -0.1h1.35v1.35h-1.35zm3.5 0h1.35v1.35h-1.35zm5.2 0.3h1.35v1.35h-1.35zm2.5 -0.3h1.35v1.35h-1.35zm3.4 0.7h1.35v1.35h-1.35zm17.9 -0.7h1.35v1.35h-1.35zm1.4 0.4h1.35v1.35h-1.35zm2.4 0.3h1.35v1.35h-1.35zm5 -0.6h1.35v1.35h-1.35zm1.9 0.1h1.35v1.35h-1.35zm12.4 -0.1h1.35v1.35h-1.35zm-70 0.8h1.35v1.35h-1.35zm0.5 0.5h1.35v1.35h-1.35zm2.3 -0.4h1.35v1.35h-1.35zm0.8 0h1.35v1.35h-1.35zm0.9 0.6h1.35v1.35h-1.35zm0.9 -0.3h1.35v1.35h-1.35zm1.6 0.2h1.35v1.35h-1.35zm1.9 -0.2h1.35v1.35h-1.35zm13.6 0.2h1.35v1.35h-1.35zm2.5 -0.3h1.35v1.35h-1.35zm2 0.5h1.35v1.35h-1.35zm2.4 -0.2h1.35v1.35h-1.35zm7 -0.2h1.35v1.35h-1.35zm7.7 -0.4h1.35v1.35h-1.35zm2.9 0.7h1.35v1.35h-1.35zm3.5 0.1h1.35v1.35h-1.35zm1.4 -0.7h1.35v1.35h-1.35zm1.6 0.5h1.35v1.35h-1.35zm1.2 -0.5h1.35v1.35h-1.35zm3.4 0.6h1.35v1.35h-1.35zm0.4 -0.2h1.35v1.35h-1.35zm-73.7 0.7h1.35v1.35h-1.35zm11.3 -0.1h1.35v1.35h-1.35zm0.9 0.4h1.35v1.35h-1.35zm1.1 -0.1h1.35v1.35h-1.35zm1.5 -0.4h1.35v1.35h-1.35zm1.5 0.1h1.35v1.35h-1.35zm1.3 0.1h1.35v1.35h-1.35zm2.3 0.6h1.35v1.35h-1.35zm1.1 -0.6h1.35v1.35h-1.35zm3.2 -0.1h1.35v1.35h-1.35zm4.9 0.5h1.35v1.35h-1.35zm4.6 -0.3h1.35v1.35h-1.35zm2.3 0.1h1.35v1.35h-1.35zm2 0.3h1.35v1.35h-1.35zm1.8 -0.5h1.35v1.35h-1.35zm1.3 0.2h1.35v1.35h-1.35zm2.7 0.1h1.35v1.35h-1.35zm1.3 0.2h1.35v1.35h-1.35zm1.8 0.1h1.35v1.35h-1.35zm7.8 -0.1h1.35v1.35h-1.35zm3.1 -0.5h1.35v1.35h-1.35zm5.8 0.2h1.35v1.35h-1.35zm4.1 0h1.35v1.35h-1.35zm3.6 0.2h1.35v1.35h-1.35zm-61.3 0.9h1.35v1.35h-1.35zm8.7 -0.3h1.35v1.35h-1.35zm11.2 0.2h1.35v1.35h-1.35zm1.1 0.1h1.35v1.35h-1.35zm1.9 0.1h1.35v1.35h-1.35zm1.2 -0.2h1.35v1.35h-1.35zm0.6 0.1h1.35v1.35h-1.35zm1.4 0.3h1.35v1.35h-1.35zm7 -0.6h1.35v1.35h-1.35zm3.1 0.4h1.35v1.35h-1.35zm1.4 0h1.35v1.35h-1.35zm2 -0.4h1.35v1.35h-1.35zm2.6 0.4h1.35v1.35h-1.35zm3 -0.5h1.35v1.35h-1.35zm1.5 0.4h1.35v1.35h-1.35zm0.9 0.3h1.35v1.35h-1.35zm1.2 -0.3h1.35v1.35h-1.35zm3.9 -0.2h1.35v1.35h-1.35zm6.9 0.1h1.35v1.35h-1.35zm1.2 -0.2h1.35v1.35h-1.35zm2.4 0.1h1.35v1.35h-1.35zm2.6 0h1.35v1.35h-1.35zm-72.5 1h1.35v1.35h-1.35zm1.3 0.1h1.35v1.35h-1.35zm6.1 0.1h1.35v1.35h-1.35zm12.4 -0.5h1.35v1.35h-1.35zm2.5 0.8h1.35v1.35h-1.35zm1 0h1.35v1.35h-1.35zm2.4 -0.6h1.35v1.35h-1.35zm10.3 0.3h1.35v1.35h-1.35zm9.2 -0.4h1.35v1.35h-1.35zm9.6 0h1.35v1.35h-1.35zm1.2 0.3h1.35v1.35h-1.35zm4.4 0.2h1.35v1.35h-1.35zm0.9 0.1h1.35v1.35h-1.35zm-61.7 1.1h1.35v1.35h-1.35zm5.8 -0.7h1.35v1.35h-1.35zm2.4 0.6h1.35v1.35h-1.35zm6.1 -0.4h1.35v1.35h-1.35zm7.5 0.3h1.35v1.35h-1.35zm4.4 -0.2h1.35v1.35h-1.35zm13.7 0.1h1.35v1.35h-1.35zm7.8 -0.2h1.35v1.35h-1.35zm3.6 0.4h1.35v1.35h-1.35zm1.7 -0.6h1.35v1.35h-1.35zm1.8 0.3h1.35v1.35h-1.35zm2.1 -0.3h1.35v1.35h-1.35zm0.8 0.4h1.35v1.35h-1.35zm2.6 0.1h1.35v1.35h-1.35zm2.4 -0.2h1.35v1.35h-1.35zm2.7 0.4h1.35v1.35h-1.35zm3.4 -0.7h1.35v1.35h-1.35zm11.2 0.5h1.35v1.35h-1.35zm-51.6 0.6h1.35v1.35h-1.35zm0.9 -0.1h1.35v1.35h-1.35zm0.6 0.2h1.35v1.35h-1.35zm1 0h1.35v1.35h-1.35zm0.7 0.5h1.35v1.35h-1.35zm12.1 -0.4h1.35v1.35h-1.35zm3.7 0.4h1.35v1.35h-1.35zm4.8 -0.5h1.35v1.35h-1.35zm7.7 0.2h1.35v1.35h-1.35zm1.3 0.1h1.35v1.35h-1.35zm31.2 -0.6h1.35v1.35h-1.35zm-65.2 1.3h1.35v1.35h-1.35zm1 -0.1h1.35v1.35h-1.35zm1.5 0.2h1.35v1.35h-1.35zm9.3 0.1h1.35v1.35h-1.35zm8.3 -0.4h1.35v1.35h-1.35zm7.9 0.2h1.35v1.35h-1.35zm0.9 0.2h1.35v1.35h-1.35zm4.5 -0.4h1.35v1.35h-1.35zm7.7 0h1.35v1.35h-1.35zm4.9 0.4h1.35v1.35h-1.35zm-64.4 0.9h1.35v1.35h-1.35zm8.4 -0.2h1.35v1.35h-1.35zm6.8 0h1.35v1.35h-1.35zm8.8 0.2h1.35v1.35h-1.35zm1 -0.3h1.35v1.35h-1.35zm8.1 0.3h1.35v1.35h-1.35zm3.4 0h1.35v1.35h-1.35zm4.4 0.2h1.35v1.35h-1.35zm4.3 0.1h1.35v1.35h-1.35zm2.2 -0.6h1.35v1.35h-1.35zm1.5 0.6h1.35v1.35h-1.35zm10.1 -0.2h1.35v1.35h-1.35zm1.5 -0.2h1.35v1.35h-1.35zm-50.5 1.4h1.35v1.35h-1.35zm12.9 -0.7h1.35v1.35h-1.35zm6.5 0.4h1.35v1.35h-1.35zm0.6 -0.2h1.35v1.35h-1.35zm2.9 0.1h1.35v1.35h-1.35zm10 0.4h1.35v1.35h-1.35zm14.6 -0.5h1.35v1.35h-1.35zm1.5 0.3h1.35v1.35h-1.35zm-47.5 1h1.35v1.35h-1.35zm7 -0.5h1.35v1.35h-1.35zm3.7 0.6h1.35v1.35h-1.35zm1.3 -0.1h1.35v1.35h-1.35zm5.8 0.1h1.35v1.35h-1.35zm12.9 -0.2h1.35v1.35h-1.35zm6.1 -0.1h1.35v1.35h-1.35zm4.1 0.1h1.35v1.35h-1.35zm-62.6 1.4h1.35v1.35h-1.35zm10.6 -0.1h1.35v1.35h-1.35zm3.1 -0.4h1.35v1.35h-1.35zm3.5 0.1h1.35v1.35h-1.35zm5.5 -0.3h1.35v1.35h-1.35zm10.4 0.5h1.35v1.35h-1.35zm5.2 0.2h1.35v1.35h-1.35zm5.5 -0.7h1.35v1.35h-1.35zm0.7 0.1h1.35v1.35h-1.35zm23.7 0.6h1.35v1.35h-1.35zm1.2 -0.6h1.35v1.35h-1.35zm-38.1 1.4h1.35v1.35h-1.35zm14.1 -0.1h1.35v1.35h-1.35zm4.3 0.3h1.35v1.35h-1.35zm1.8 -0.5h1.35v1.35h-1.35zm14 0.5h1.35v1.35h-1.35zm1.8 0h1.35v1.35h-1.35zm10 -0.7h1.35v1.35h-1.35zm-54 1.5h1.35v1.35h-1.35zm9.9 -0.3h1.35v1.35h-1.35zm3.8 0.4h1.35v1.35h-1.35zm2.2 -0.1h1.35v1.35h-1.35zm6.2 0h1.35v1.35h-1.35zm1.2 -0.5h1.35v1.35h-1.35zm-42.8 1.6h1.35v1.35h-1.35zm17.9 -0.3h1.35v1.35h-1.35zm0.8 0.1h1.35v1.35h-1.35zm25.3 0h1.35v1.35h-1.35zm3.6 0h1.35v1.35h-1.35zm10.7 -0.3h1.35v1.35h-1.35zm31.1 0.2h1.35v1.35h-1.35zm-88.9 1h1.35v1.35h-1.35zm4.3 0.1h1.35v1.35h-1.35zm21.5 0.3h1.35v1.35h-1.35zm10.7 -0.3h1.35v1.35h-1.35zm4.4 -0.3h1.35v1.35h-1.35zm11.3 0.3h1.35v1.35h-1.35zm5.5 0.2h1.35v1.35h-1.35zm3.2 0h1.35v1.35h-1.35zm-56.5 0.8h1.35v1.35h-1.35zm11.7 0.1h1.35v1.35h-1.35zm5.4 -0.1h1.35v1.35h-1.35zm9.8 0.3h1.35v1.35h-1.35zm5.6 0h1.35v1.35h-1.35zm8 -0.8h1.35v1.35h-1.35zm9.4 0.4h1.35v1.35h-1.35zm3 0.3h1.35v1.35h-1.35zm-35.5 0.5h1.35v1.35h-1.35zm5.7 -0.1h1.35v1.35h-1.35zm1.3 0.6h1.35v1.35h-1.35zm-7.3 0.5h1.35v1.35h-1.35zm3.7 -0.1h1.35v1.35h-1.35zm7.2 -0.1h1.35v1.35h-1.35zm3.1 0.1h1.35v1.35h-1.35zm6.6 0.5h1.35v1.35h-1.35zm24.8 0h1.35v1.35h-1.35zm11 0.1h1.35v1.35h-1.35zm-79.4 0.8h1.35v1.35h-1.35zm3.7 0.3h1.35v1.35h-1.35zm14.6 0h1.35v1.35h-1.35zm14 -0.1h1.35v1.35h-1.35zm3.1 -0.5h1.35v1.35h-1.35zm17.2 -0.1h1.35v1.35h-1.35zm2 0.6h1.35v1.35h-1.35zm-49.9 1h1.35v1.35h-1.35zm3.1 -0.5h1.35v1.35h-1.35zm0.6 0.2h1.35v1.35h-1.35zm30.2 -0.3h1.35v1.35h-1.35zm2.2 0.3h1.35v1.35h-1.35zm6.2 0.2h1.35v1.35h-1.35zm2.5 -0.3h1.35v1.35h-1.35zm10.5 0.1h1.35v1.35h-1.35zm-64.1 1.1h1.35v1.35h-1.35zm5.4 -0.3h1.35v1.35h-1.35zm8 0.3h1.35v1.35h-1.35zm55.4 -0.2h1.35v1.35h-1.35zm22.1 0.1h1.35v1.35h-1.35zm-87.2 1.4h1.35v1.35h-1.35zm16.4 -0.4h1.35v1.35h-1.35zm0.9 0.1h1.35v1.35h-1.35zm0.9 -0.4h1.35v1.35h-1.35zm11.9 0.1h1.35v1.35h-1.35zm28.3 0.3h1.35v1.35h-1.35zm31.8 0.1h1.35v1.35h-1.35zm0.7 -0.4h1.35v1.35h-1.35zm-90.7 1.1h1.35v1.35h-1.35zm1.2 0.1h1.35v1.35h-1.35zm1.4 0.1h1.35v1.35h-1.35zm1.5 -0.5h1.35v1.35h-1.35zm45.6 0.3h1.35v1.35h-1.35zm8.9 0h1.35v1.35h-1.35zm28.2 -0.2h1.35v1.35h-1.35zm-90.3 1h1.35v1.35h-1.35zm3 0.5h1.35v1.35h-1.35zm1.7 -0.3h1.35v1.35h-1.35zm0.9 0h1.35v1.35h-1.35zm12.4 -0.1h1.35v1.35h-1.35zm49 0.6h1.35v1.35h-1.35zm9.1 -0.6h1.35v1.35h-1.35zm-75.4 1.6h1.35v1.35h-1.35zm1.3 -0.1h1.35v1.35h-1.35zm4.6 -0.4h1.35v1.35h-1.35zm2 0.4h1.35v1.35h-1.35zm-1.1 0.6h1.35v1.35h-1.35zm0.5 0.1h1.35v1.35h-1.35zm6.5 0.1h1.35v1.35h-1.35zm38.5 0.2h1.35v1.35h-1.35zm28.2 -0.2h1.35v1.35h-1.35zm-79.6 0.6h1.35v1.35h-1.35zm9.8 0.1h1.35v1.35h-1.35zm2.1 0.4h1.35v1.35h-1.35zm53.5 -0.1h1.35v1.35h-1.35zm-63.6 0.7h1.35v1.35h-1.35zm2 0.1h1.35v1.35h-1.35zm2 0.1h1.35v1.35h-1.35zm3.1 -0.3h1.35v1.35h-1.35zm0.9 0.4h1.35v1.35h-1.35zm-9.2 1.1h1.35v1.35h-1.35zm4.8 0h1.35v1.35h-1.35zm2.3 -0.2h1.35v1.35h-1.35zm2 -0.2h1.35v1.35h-1.35zm1.3 0h1.35v1.35h-1.35zm2 0h1.35v1.35h-1.35zm0.3 0.3h1.35v1.35h-1.35zm5.2 -0.1h1.35v1.35h-1.35zm58.8 0.1h1.35v1.35h-1.35zm-75.9 1.2h1.35v1.35h-1.35zm1 -0.4h1.35v1.35h-1.35zm1.7 0.1h1.35v1.35h-1.35zm0.7 -0.3h1.35v1.35h-1.35zm3.2 0.1h1.35v1.35h-1.35zm1.1 0.2h1.35v1.35h-1.35zm0.4 0h1.35v1.35h-1.35zm1.4 0.4h1.35v1.35h-1.35zm9.1 -0.3h1.35v1.35h-1.35zm0.4 -0.3h1.35v1.35h-1.35zm53.4 0h1.35v1.35h-1.35zm-70.1 1.5h1.35v1.35h-1.35zm4.2 -0.5h1.35v1.35h-1.35zm2.9 0.5h1.35v1.35h-1.35zm2.9 0.1h1.35v1.35h-1.35zm8.2 -0.7h1.35v1.35h-1.35zm6.2 0.5h1.35v1.35h-1.35zm51 0h1.35v1.35h-1.35zm-77.1 0.4h1.35v1.35h-1.35zm1 0.3h1.35v1.35h-1.35zm1.1 0.2h1.35v1.35h-1.35zm1 0.2h1.35v1.35h-1.35zm0.3 -0.5h1.35v1.35h-1.35zm1 0.3h1.35v1.35h-1.35zm2 -0.1h1.35v1.35h-1.35zm4.2 0.3h1.35v1.35h-1.35zm3.5 0.1h1.35v1.35h-1.35zm3 -0.4h1.35v1.35h-1.35zm0.9 0.3h1.35v1.35h-1.35zm1 0.1h1.35v1.35h-1.35zm24 -0.3h1.35v1.35h-1.35zm20.6 0h1.35v1.35h-1.35zm8.1 0.2h1.35v1.35h-1.35zm9.3 -0.5h1.35v1.35h-1.35zm-80.1 1.1h1.35v1.35h-1.35zm4.9 0.4h1.35v1.35h-1.35zm9.1 -0.6h1.35v1.35h-1.35zm47.7 0.2h1.35v1.35h-1.35zm18.9 0h1.35v1.35h-1.35zm-84.8 1.1h1.35v1.35h-1.35zm4 0.2h1.35v1.35h-1.35zm6.1 0.1h1.35v1.35h-1.35zm27.1 0.1h1.35v1.35h-1.35zm44.6 -0.2h1.35v1.35h-1.35zm6.9 0h1.35v1.35h-1.35zm-86.6 0.8h1.35v1.35h-1.35zm3.7 0.3h1.35v1.35h-1.35zm1.3 0h1.35v1.35h-1.35zm16.7 -0.6h1.35v1.35h-1.35zm35.5 0.4h1.35v1.35h-1.35zm22 -0.3h1.35v1.35h-1.35zm-78.6 1h1.35v1.35h-1.35zm13.6 0h1.35v1.35h-1.35zm1.8 0.2h1.35v1.35h-1.35zm41 0.2h1.35v1.35h-1.35zm17.9 -0.2h1.35v1.35h-1.35zm-73 0.9h1.35v1.35h-1.35zm53.2 -0.2h1.35v1.35h-1.35zm18.1 0.2h1.35v1.35h-1.35zm7.7 -0.1h1.35v1.35h-1.35zm-78.7 1.3h1.35v1.35h-1.35zm2.8 -0.4h1.35v1.35h-1.35zm22.1 -0.1h1.35v1.35h-1.35zm21.4 0.5h1.35v1.35h-1.35zm14.7 -0.1h1.35v1.35h-1.35zm9 0.1h1.35v1.35h-1.35zm6.4 -0.3h1.35v1.35h-1.35zm-82.8 1h1.35v1.35h-1.35zm13.4 0.5h1.35v1.35h-1.35zm10.3 -0.4h1.35v1.35h-1.35zm21.4 0.1h1.35v1.35h-1.35zm19.7 0h1.35v1.35h-1.35zm8 0h1.35v1.35h-1.35zm-58.5 1h1.35v1.35h-1.35zm8.5 -0.3h1.35v1.35h-1.35zm25.9 0.2h1.35v1.35h-1.35zm5.6 -0.2h1.35v1.35h-1.35zm12 0.3h1.35v1.35h-1.35zm9.1 -0.3h1.35v1.35h-1.35zm3.7 0.3h1.35v1.35h-1.35zm10.4 0h1.35v1.35h-1.35zm-32.4 1.3h1.35v1.35h-1.35zm15 0h1.35v1.35h-1.35zm6.9 -0.3h1.35v1.35h-1.35zm10.4 0.3h1.35v1.35h-1.35zm-83.4 0.6h1.35v1.35h-1.35zm8.4 0.1h1.35v1.35h-1.35zm9.6 0h1.35v1.35h-1.35zm43.2 -0.1h1.35v1.35h-1.35zm1 0.4h1.35v1.35h-1.35zm16.2 -0.5h1.35v1.35h-1.35zm-84.1 1.1h1.35v1.35h-1.35zm24.1 -0.2h1.35v1.35h-1.35zm25.4 0.4h1.35v1.35h-1.35zm1.7 -0.2h1.35v1.35h-1.35zm14.9 0.1h1.35v1.35h-1.35zm13 0.1h1.35v1.35h-1.35zm9.6 0h1.35v1.35h-1.35zm-58.7 1h1.35v1.35h-1.35zm31.6 0h1.35v1.35h-1.35zm4.3 -0.4h1.35v1.35h-1.35zm4.8 0.1h1.35v1.35h-1.35zm1.2 0h1.35v1.35h-1.35zm6.6 0.2h1.35v1.35h-1.35zm-17.9 1.1h1.35v1.35h-1.35zm10 -0.2h1.35v1.35h-1.35zm9.1 0.5h1.35v1.35h-1.35zm-44 0.3h1.35v1.35h-1.35zm38.1 0.1h1.35v1.35h-1.35zm-6 1h1.35v1.35h-1.35zm6.9 0.1h1.35v1.35h-1.35zm11.3 0.4h1.35v1.35h-1.35zm-73 1h1.35v1.35h-1.35zm48.8 -0.3h1.35v1.35h-1.35zm1.2 -0.3h1.35v1.35h-1.35zm3.7 0.3h1.35v1.35h-1.35zm11.2 0.1h1.35v1.35h-1.35zm-23 0.8h1.35v1.35h-1.35zm3.1 0.1h1.35v1.35h-1.35zm1.9 -0.1h1.35v1.35h-1.35zm3.5 0h1.35v1.35h-1.35zm1.1 0.1h1.35v1.35h-1.35zm3.1 0.4h1.35v1.35h-1.35zm1.5 -0.1h1.35v1.35h-1.35zm1.8 -0.4h1.35v1.35h-1.35zm1.3 0.4h1.35v1.35h-1.35zm1 -0.3h1.35v1.35h-1.35zm1 -0.2h1.35v1.35h-1.35zm0.9 0h1.35v1.35h-1.35zm10.6 0.6h1.35v1.35h-1.35zm4.3 -0.7h1.35v1.35h-1.35zm-35.9 1.3h1.35v1.35h-1.35zm7.8 0.1h1.35v1.35h-1.35zm4.3 0.1h1.35v1.35h-1.35zm0.2 0.1h1.35v1.35h-1.35zm4.2 0h1.35v1.35h-1.35zm1.3 -0.4h1.35v1.35h-1.35zm-48.1 1.1h1.35v1.35h-1.35zm39.8 0.2h1.35v1.35h-1.35zm3.3 0h1.35v1.35h-1.35zm0.6 0.2h1.35v1.35h-1.35zm2.1 0h1.35v1.35h-1.35zm4.9 -0.6h1.35v1.35h-1.35zm6.5 -0.1h1.35v1.35h-1.35zm-33.5 1.6h1.35v1.35h-1.35zm10.7 -0.4h1.35v1.35h-1.35zm5.7 0.4h1.35v1.35h-1.35zm4.5 -0.5h1.35v1.35h-1.35zm1 0.6h1.35v1.35h-1.35zm3.6 -0.5h1.35v1.35h-1.35zm2.6 -0.2h1.35v1.35h-1.35zm2.2 0.6h1.35v1.35h-1.35zm1.9 -0.2h1.35v1.35h-1.35zm10.4 0.2h1.35v1.35h-1.35zm-31.5 0.8h1.35v1.35h-1.35zm2.3 -0.3h1.35v1.35h-1.35zm4.3 0.6h1.35v1.35h-1.35zm1.5 -0.4h1.35v1.35h-1.35zm6 -0.4h1.35v1.35h-1.35zm0.8 0.3h1.35v1.35h-1.35zm3 0.5h1.35v1.35h-1.35zm1.6 -0.1h1.35v1.35h-1.35zm3.9 -0.3h1.35v1.35h-1.35zm-43 0.9h1.35v1.35h-1.35zm18 0h1.35v1.35h-1.35zm2.8 0.4h1.35v1.35h-1.35zm1.7 -0.6h1.35v1.35h-1.35zm4.2 0.1h1.35v1.35h-1.35zm1.3 0.1h1.35v1.35h-1.35zm1.1 -0.2h1.35v1.35h-1.35zm1 0h1.35v1.35h-1.35zm0.8 0.5h1.35v1.35h-1.35zm2 -0.5h1.35v1.35h-1.35zm3.2 0.3h1.35v1.35h-1.35zm0.8 0.3h1.35v1.35h-1.35zm11.9 -0.2h1.35v1.35h-1.35zm3.9 0.1h1.35v1.35h-1.35zm-30.9 0.9h1.35v1.35h-1.35zm2.2 0.3h1.35v1.35h-1.35zm0.6 -0.6h1.35v1.35h-1.35zm1 0.6h1.35v1.35h-1.35zm1.2 -0.3h1.35v1.35h-1.35zm1.2 -0.2h1.35v1.35h-1.35zm1.5 0.4h1.35v1.35h-1.35zm2.4 -0.6h1.35v1.35h-1.35zm0.6 0.7h1.35v1.35h-1.35zm0.9 -0.8h1.35v1.35h-1.35zm1.5 0.3h1.35v1.35h-1.35zm1.1 0.5h1.35v1.35h-1.35zm1.2 -0.3h1.35v1.35h-1.35zm1.6 0.1h1.35v1.35h-1.35zm2.2 0h1.35v1.35h-1.35zm2.2 0.2h1.35v1.35h-1.35zm9.8 -0.5h1.35v1.35h-1.35zm-49.3 1.4h1.35v1.35h-1.35zm10.3 0h1.35v1.35h-1.35zm1.4 -0.4h1.35v1.35h-1.35zm5.2 0.4h1.35v1.35h-1.35zm6 0h1.35v1.35h-1.35zm1.9 -0.1h1.35v1.35h-1.35zm1.5 0.1h1.35v1.35h-1.35zm0.8 -0.4h1.35v1.35h-1.35zm1 0.4h1.35v1.35h-1.35zm0.6 -0.5h1.35v1.35h-1.35zm3.1 0.1h1.35v1.35h-1.35zm9.3 0.4h1.35v1.35h-1.35zm1.8 -0.6h1.35v1.35h-1.35zm8.5 0.1h1.35v1.35h-1.35zm-68.9 1.2h1.35v1.35h-1.35zm34.8 -0.1h1.35v1.35h-1.35zm5.4 -0.1h1.35v1.35h-1.35zm2.1 0.6h1.35v1.35h-1.35zm1.7 -0.4h1.35v1.35h-1.35zm0.8 -0.2h1.35v1.35h-1.35zm0.7 0.3h1.35v1.35h-1.35zm1.1 -0.3h1.35v1.35h-1.35zm1.1 0h1.35v1.35h-1.35zm0.5 0.5h1.35v1.35h-1.35zm1.6 0h1.35v1.35h-1.35zm1.2 -0.2h1.35v1.35h-1.35zm4.4 -0.3h1.35v1.35h-1.35zm3.9 0.6h1.35v1.35h-1.35zm2.1 -0.5h1.35v1.35h-1.35zm-28.5 1.2h1.35v1.35h-1.35zm1.6 0h1.35v1.35h-1.35zm2.2 -0.5h1.35v1.35h-1.35zm3.8 0.4h1.35v1.35h-1.35zm1.9 0h1.35v1.35h-1.35zm1.2 0.2h1.35v1.35h-1.35zm0.9 -0.3h1.35v1.35h-1.35zm1.4 0h1.35v1.35h-1.35zm2 0.5h1.35v1.35h-1.35zm2 -0.5h1.35v1.35h-1.35zm0.7 0.5h1.35v1.35h-1.35zm1.3 -0.2h1.35v1.35h-1.35zm0.4 0h1.35v1.35h-1.35zm6.7 -0.2h1.35v1.35h-1.35zm-20.4 1.3h1.35v1.35h-1.35zm0.8 -0.7h1.35v1.35h-1.35zm1.4 0h1.35v1.35h-1.35zm4 0.6h1.35v1.35h-1.35zm1 -0.5h1.35v1.35h-1.35zm0.9 0.1h1.35v1.35h-1.35zm0.6 0.1h1.35v1.35h-1.35zm1.6 0.5h1.35v1.35h-1.35zm1 -0.7h1.35v1.35h-1.35zm2.1 0.6h1.35v1.35h-1.35zm18.5 0h1.35v1.35h-1.35zm-52.2 0.9h1.35v1.35h-1.35zm4 -0.4h1.35v1.35h-1.35zm6.3 0.2h1.35v1.35h-1.35zm6.7 -0.2h1.35v1.35h-1.35zm4.3 0.5h1.35v1.35h-1.35zm0.7 -0.2h1.35v1.35h-1.35zm1.4 -0.3h1.35v1.35h-1.35zm2.3 0.3h1.35v1.35h-1.35zm1.3 0h1.35v1.35h-1.35zm1.5 0.3h1.35v1.35h-1.35zm3 -0.1h1.35v1.35h-1.35zm0.8 -0.4h1.35v1.35h-1.35zm6.3 -0.1h1.35v1.35h-1.35zm-52.9 1h1.35v1.35h-1.35zm27.4 0.4h1.35v1.35h-1.35zm3.2 -0.1h1.35v1.35h-1.35zm3.8 0h1.35v1.35h-1.35zm2 -0.1h1.35v1.35h-1.35zm1.5 -0.2h1.35v1.35h-1.35zm0.6 0.5h1.35v1.35h-1.35zm0.9 -0.1h1.35v1.35h-1.35zm1.9 -0.2h1.35v1.35h-1.35zm2.1 -0.4h1.35v1.35h-1.35zm4.2 0.8h1.35v1.35h-1.35zm8.9 -0.4h1.35v1.35h-1.35zm-33.8 0.7h1.35v1.35h-1.35zm5.9 0h1.35v1.35h-1.35zm0.7 0.4h1.35v1.35h-1.35zm2.6 -0.3h1.35v1.35h-1.35zm2.1 0h1.35v1.35h-1.35zm4.3 0.5h1.35v1.35h-1.35zm1.1 -0.1h1.35v1.35h-1.35zm1.3 -0.4h1.35v1.35h-1.35zm0.8 -0.2h1.35v1.35h-1.35zm1.1 0h1.35v1.35h-1.35zm0.9 0.7h1.35v1.35h-1.35zm17.9 -0.3h1.35v1.35h-1.35zm-63.7 0.9h1.35v1.35h-1.35zm23.1 0h1.35v1.35h-1.35zm12.4 -0.1h1.35v1.35h-1.35zm4.1 0.2h1.35v1.35h-1.35zm2.7 0h1.35v1.35h-1.35zm1.9 0.4h1.35v1.35h-1.35zm0.7 -0.5h1.35v1.35h-1.35zm14.2 0h1.35v1.35h-1.35zm-24.3 1.3h1.35v1.35h-1.35zm2.9 0.2h1.35v1.35h-1.35zm0.9 -0.3h1.35v1.35h-1.35zm5 -0.2h1.35v1.35h-1.35zm2.2 -0.1h1.35v1.35h-1.35zm1 0.4h1.35v1.35h-1.35zm0.8 -0.4h1.35v1.35h-1.35zm2.4 0.1h1.35v1.35h-1.35zm-35.1 1.1h1.35v1.35h-1.35zm13.3 0.3h1.35v1.35h-1.35zm4.1 -0.2h1.35v1.35h-1.35zm5.2 0.2h1.35v1.35h-1.35zm4.5 -0.7h1.35v1.35h-1.35zm0.6 0.5h1.35v1.35h-1.35zm3 -0.1h1.35v1.35h-1.35zm1 -0.1h1.35v1.35h-1.35zm3.3 0.1h1.35v1.35h-1.35zm3.8 0.3h1.35v1.35h-1.35zm0.9 -0.2h1.35v1.35h-1.35zm-69 1.1h1.35v1.35h-1.35zm50.7 -0.3h1.35v1.35h-1.35zm1.4 0.3h1.35v1.35h-1.35zm1.9 0.1h1.35v1.35h-1.35zm3.2 0h1.35v1.35h-1.35zm1 0h1.35v1.35h-1.35zm4.2 -0.1h1.35v1.35h-1.35zm2.9 0.2h1.35v1.35h-1.35zm3.2 -0.1h1.35v1.35h-1.35zm-60.1 0.5h1.35v1.35h-1.35zm42.8 0.5h1.35v1.35h-1.35zm6.3 -0.2h1.35v1.35h-1.35zm0.5 -0.2h1.35v1.35h-1.35zm4 0.4h1.35v1.35h-1.35zm3.3 -0.7h1.35v1.35h-1.35zm-59.2 1.7h1.35v1.35h-1.35zm13.5 0h1.35v1.35h-1.35zm32.4 -0.6h1.35v1.35h-1.35zm2.4 0.7h1.35v1.35h-1.35zm1.1 -0.8h1.35v1.35h-1.35zm2.7 0.5h1.35v1.35h-1.35zm3.1 -0.1h1.35v1.35h-1.35zm3.4 0.3h1.35v1.35h-1.35zm-44.3 0.5h1.35v1.35h-1.35zm23.1 0.5h1.35v1.35h-1.35zm0.9 -0.2h1.35v1.35h-1.35zm2.5 -0.1h1.35v1.35h-1.35zm14 0.3h1.35v1.35h-1.35zm6.2 -0.4h1.35v1.35h-1.35zm0.9 0.2h1.35v1.35h-1.35zm-29.5 0.7h1.35v1.35h-1.35zm7.7 -0.1h1.35v1.35h-1.35zm11 0.3h1.35v1.35h-1.35zm1.9 0.4h1.35v1.35h-1.35zm-30 0.3h1.35v1.35h-1.35zm16.3 0.6h1.35v1.35h-1.35zm13.8 -0.1h1.35v1.35h-1.35zm11 0h1.35v1.35h-1.35zm-58 1h1.35v1.35h-1.35zm17.8 -0.6h1.35v1.35h-1.35zm20 0.1h1.35v1.35h-1.35zm2.1 0.1h1.35v1.35h-1.35zm18.5 0.5h1.35v1.35h-1.35zm1.1 0h1.35v1.35h-1.35zm8.6 -0.5h1.35v1.35h-1.35zm-40 1.2h1.35v1.35h-1.35zm10.4 0.1h1.35v1.35h-1.35zm6.3 -0.2h1.35v1.35h-1.35zm3 0.3h1.35v1.35h-1.35zm1.9 -0.5h1.35v1.35h-1.35zm13 0h1.35v1.35h-1.35zm-73.8 1.3h1.35v1.35h-1.35zm36.6 0.4h1.35v1.35h-1.35zm3.4 -0.3h1.35v1.35h-1.35zm24.2 -0.1h1.35v1.35h-1.35zm2.2 -0.3h1.35v1.35h-1.35zm2.8 0.2h1.35v1.35h-1.35zm-64.8 1.5h1.35v1.35h-1.35zm38.6 -0.4h1.35v1.35h-1.35zm3.6 0.1h1.35v1.35h-1.35zm1.6 -0.3h1.35v1.35h-1.35zm4.2 0.3h1.35v1.35h-1.35zm7 -0.1h1.35v1.35h-1.35zm4.9 -0.4h1.35v1.35h-1.35zm5.3 0.3h1.35v1.35h-1.35zm-70.6 1.4h1.35v1.35h-1.35zm57.2 -0.6h1.35v1.35h-1.35zm19.1 0.3h1.35v1.35h-1.35zm-24.3 0.7h1.35v1.35h-1.35zm2.4 -0.1h1.35v1.35h-1.35zm7.1 0.2h1.35v1.35h-1.35zm-17.5 1.4h1.35v1.35h-1.35zm5.6 0.2h1.35v1.35h-1.35zm17.6 -0.4h1.35v1.35h-1.35zm-69 1h1.35v1.35h-1.35zm40.1 0h1.35v1.35h-1.35zm27.1 0.2h1.35v1.35h-1.35zm3.1 -0.1h1.35v1.35h-1.35zm-30.3 1.1h1.35v1.35h-1.35zm31.7 -0.1h1.35v1.35h-1.35zm9.7 -0.3h1.35v1.35h-1.35zm-26.6 1.4h1.35v1.35h-1.35zm2.4 0.1h1.35v1.35h-1.35zm2.6 -0.7h1.35v1.35h-1.35zm10.9 0.7h1.35v1.35h-1.35zm2.5 -0.6h1.35v1.35h-1.35zm-25.1 1.1h1.35v1.35h-1.35zm6.5 0.4h1.35v1.35h-1.35zm7.5 -0.6h1.35v1.35h-1.35zm21.1 0.4h1.35v1.35h-1.35zm-93.3 1.1h1.35v1.35h-1.35zm7.2 0.1h1.35v1.35h-1.35zm47.9 -0.1h1.35v1.35h-1.35zm2.2 0h1.35v1.35h-1.35zm9.8 -0.4h1.35v1.35h-1.35zm10.4 0.3h1.35v1.35h-1.35zm6 0.4h1.35v1.35h-1.35zm-20.2 0.6h1.35v1.35h-1.35zm2.5 0.3h1.35v1.35h-1.35zm11.7 0.1h1.35v1.35h-1.35zm-20.7 0.4h1.35v1.35h-1.35zm7.1 0.4h1.35v1.35h-1.35zm-40.2 0.6h1.35v1.35h-1.35zm32.3 0.4h1.35v1.35h-1.35zm35.3 -0.4h1.35v1.35h-1.35zm-25.5 1.6h1.35v1.35h-1.35zm26.5 -0.1h1.35v1.35h-1.35zm-70.9 0.4h1.35v1.35h-1.35zm12.3 0.7h1.35v1.35h-1.35zm8.2 -0.6h1.35v1.35h-1.35zm26.6 0.5h1.35v1.35h-1.35zm17.3 -0.5h1.35v1.35h-1.35zm1.4 0h1.35v1.35h-1.35z"/><path fill="#1f5740" d="M0 0m358.7 28.7h1.35v1.35h-1.35zm15.3 0.1h1.35v1.35h-1.35zm-41.4 0.7h1.35v1.35h-1.35zm28 1.4h1.35v1.35h-1.35zm-20.5 0.8h1.35v1.35h-1.35zm17.5 0.4h1.35v1.35h-1.35zm15.2 0h1.35v1.35h-1.35zm-32.3 0.6h1.35v1.35h-1.35zm24.5 0.1h1.35v1.35h-1.35zm-17.4 0.9h1.35v1.35h-1.35zm10.5 0.1h1.35v1.35h-1.35zm0.6 -0.1h1.35v1.35h-1.35zm4.3 0.4h1.35v1.35h-1.35zm2.4 -0.2h1.35v1.35h-1.35zm-23.8 1.2h1.35v1.35h-1.35zm22.3 -0.3h1.35v1.35h-1.35zm2.2 0.2h1.35v1.35h-1.35zm0.7 -0.5h1.35v1.35h-1.35zm3.1 0.7h1.35v1.35h-1.35zm-23.1 0.3h1.35v1.35h-1.35zm2.9 0h1.35v1.35h-1.35zm7.3 0.1h1.35v1.35h-1.35zm2 0h1.35v1.35h-1.35zm3 0h1.35v1.35h-1.35zm1.1 0.5h1.35v1.35h-1.35zm3.5 -0.3h1.35v1.35h-1.35zm3.8 -0.4h1.35v1.35h-1.35zm1.8 0.7h1.35v1.35h-1.35zm4.4 -0.4h1.35v1.35h-1.35zm-34.6 1.3h1.35v1.35h-1.35zm6.7 -0.1h1.35v1.35h-1.35zm4.5 -0.3h1.35v1.35h-1.35zm0.5 0.3h1.35v1.35h-1.35zm3 0h1.35v1.35h-1.35zm3.8 0.2h1.35v1.35h-1.35zm1.1 -0.7h1.35v1.35h-1.35zm1.6 0.1h1.35v1.35h-1.35zm1.9 0.4h1.35v1.35h-1.35zm0.7 0.1h1.35v1.35h-1.35zm0.8 -0.1h1.35v1.35h-1.35zm1 -0.4h1.35v1.35h-1.35zm0.8 0.4h1.35v1.35h-1.35zm7.6 -0.3h1.35v1.35h-1.35zm-40.2 1.5h1.35v1.35h-1.35zm6.1 0.1h1.35v1.35h-1.35zm1.7 -0.7h1.35v1.35h-1.35zm1.1 0.2h1.35v1.35h-1.35zm4.5 0.2h1.35v1.35h-1.35zm1 -0.2h1.35v1.35h-1.35zm1.6 -0.2h1.35v1.35h-1.35zm0.8 0h1.35v1.35h-1.35zm0.8 0.4h1.35v1.35h-1.35zm1.8 0.2h1.35v1.35h-1.35zm0.8 -0.3h1.35v1.35h-1.35zm0.8 -0.1h1.35v1.35h-1.35zm2 0.5h1.35v1.35h-1.35zm0.9 -0.1h1.35v1.35h-1.35zm1.4 0.1h1.35v1.35h-1.35zm0.9 -0.4h1.35v1.35h-1.35zm2.1 -0.3h1.35v1.35h-1.35zm0.7 0h1.35v1.35h-1.35zm1 0.7h1.35v1.35h-1.35zm0.8 -0.2h1.35v1.35h-1.35zm1.2 -0.5h1.35v1.35h-1.35zm0.9 0.1h1.35v1.35h-1.35zm1.2 0.4h1.35v1.35h-1.35zm3.9 -0.6h1.35v1.35h-1.35zm0.7 0h1.35v1.35h-1.35zm-46.8 1.7h1.35v1.35h-1.35zm7 -0.5h1.35v1.35h-1.35zm3 -0.1h1.35v1.35h-1.35zm3.5 0h1.35v1.35h-1.35zm0.9 0.1h1.35v1.35h-1.35zm6.8 0.6h1.35v1.35h-1.35zm1 -0.1h1.35v1.35h-1.35zm0.6 -0.3h1.35v1.35h-1.35zm2.6 -0.3h1.35v1.35h-1.35zm0.8 0h1.35v1.35h-1.35zm0.7 0.3h1.35v1.35h-1.35zm1.5 -0.2h1.35v1.35h-1.35zm1.1 0.3h1.35v1.35h-1.35zm11.8 -0.3h1.35v1.35h-1.35zm1.2 0.4h1.35v1.35h-1.35zm0.6 -0.6h1.35v1.35h-1.35zm1 0.4h1.35v1.35h-1.35zm3.4 -0.3h1.35v1.35h-1.35zm-61.5 1.1h1.35v1.35h-1.35zm9.2 0.5h1.35v1.35h-1.35zm4.1 -0.3h1.35v1.35h-1.35zm6.4 0.4h1.35v1.35h-1.35zm1.6 -0.6h1.35v1.35h-1.35zm1.1 0.1h1.35v1.35h-1.35zm1.9 0.3h1.35v1.35h-1.35zm2.1 -0.3h1.35v1.35h-1.35zm2.6 0.5h1.35v1.35h-1.35zm1.2 -0.6h1.35v1.35h-1.35zm1.1 0h1.35v1.35h-1.35zm1.7 0.2h1.35v1.35h-1.35zm1.2 0.2h1.35v1.35h-1.35zm1.3 -0.6h1.35v1.35h-1.35zm1 0h1.35v1.35h-1.35zm0.6 0.3h1.35v1.35h-1.35zm1.1 0.5h1.35v1.35h-1.35zm18.1 -0.2h1.35v1.35h-1.35zm3.8 -0.6h1.35v1.35h-1.35zm-47 1h1.35v1.35h-1.35zm3.3 0.5h1.35v1.35h-1.35zm1.7 0.1h1.35v1.35h-1.35zm1.9 -0.5h1.35v1.35h-1.35zm3.3 0.3h1.35v1.35h-1.35zm0.9 -0.2h1.35v1.35h-1.35zm1.6 0.3h1.35v1.35h-1.35zm2 -0.2h1.35v1.35h-1.35zm2.3 -0.1h1.35v1.35h-1.35zm1.3 0.6h1.35v1.35h-1.35zm26.1 -0.5h1.35v1.35h-1.35zm0.4 0h1.35v1.35h-1.35zm1.5 0.3h1.35v1.35h-1.35zm1.5 -0.2h1.35v1.35h-1.35zm-57.4 0.8h1.35v1.35h-1.35zm0.8 0.4h1.35v1.35h-1.35zm6.6 -0.4h1.35v1.35h-1.35zm4.2 0.1h1.35v1.35h-1.35zm1 -0.2h1.35v1.35h-1.35zm2.3 0.3h1.35v1.35h-1.35zm3.7 0.4h1.35v1.35h-1.35zm1.3 0h1.35v1.35h-1.35zm0.4 -0.6h1.35v1.35h-1.35zm1.6 0.4h1.35v1.35h-1.35zm0.6 0h1.35v1.35h-1.35zm31.8 -0.2h1.35v1.35h-1.35zm1.3 0h1.35v1.35h-1.35zm-55.1 0.6h1.35v1.35h-1.35zm3.9 0.6h1.35v1.35h-1.35zm2.4 -0.4h1.35v1.35h-1.35zm1.5 -0.1h1.35v1.35h-1.35zm1.3 0.3h1.35v1.35h-1.35zm1.2 0.3h1.35v1.35h-1.35zm0.5 -0.5h1.35v1.35h-1.35zm1.3 0.6h1.35v1.35h-1.35zm0.9 -0.7h1.35v1.35h-1.35zm1.1 0.7h1.35v1.35h-1.35zm1.2 -0.7h1.35v1.35h-1.35zm0.7 0.4h1.35v1.35h-1.35zm1.2 -0.5h1.35v1.35h-1.35zm1.1 0.1h1.35v1.35h-1.35zm36 0.7h1.35v1.35h-1.35zm2.6 -0.4h1.35v1.35h-1.35zm-60.1 1h1.35v1.35h-1.35zm2.9 -0.2h1.35v1.35h-1.35zm5.2 0.1h1.35v1.35h-1.35zm0.8 0.1h1.35v1.35h-1.35zm1.2 -0.3h1.35v1.35h-1.35zm0.9 0.2h1.35v1.35h-1.35zm1.4 0.4h1.35v1.35h-1.35zm1.8 -0.5h1.35v1.35h-1.35zm1 0.3h1.35v1.35h-1.35zm1.1 0.1h1.35v1.35h-1.35zm40.8 -0.3h1.35v1.35h-1.35zm1.2 0.1h1.35v1.35h-1.35zm3.3 -0.4h1.35v1.35h-1.35zm-65.3 1.6h1.35v1.35h-1.35zm6 -0.1h1.35v1.35h-1.35zm1.7 0h1.35v1.35h-1.35zm2.6 0.3h1.35v1.35h-1.35zm1.6 -0.8h1.35v1.35h-1.35zm0.9 0.7h1.35v1.35h-1.35zm2.1 -0.2h1.35v1.35h-1.35zm45 -0.4h1.35v1.35h-1.35zm0.9 0.2h1.35v1.35h-1.35zm1.6 0.1h1.35v1.35h-1.35zm3 0.1h1.35v1.35h-1.35zm-65.8 1.2h1.35v1.35h-1.35zm2.5 0h1.35v1.35h-1.35zm2.2 -0.4h1.35v1.35h-1.35zm0.8 0.4h1.35v1.35h-1.35zm1 -0.2h1.35v1.35h-1.35zm1.7 0h1.35v1.35h-1.35zm2.3 -0.3h1.35v1.35h-1.35zm1 0.4h1.35v1.35h-1.35zm48.7 0.1h1.35v1.35h-1.35zm1.4 -0.5h1.35v1.35h-1.35zm-68.5 1h1.35v1.35h-1.35zm4.3 0.3h1.35v1.35h-1.35zm3.2 -0.1h1.35v1.35h-1.35zm4.9 0.2h1.35v1.35h-1.35zm1 -0.3h1.35v1.35h-1.35zm1.1 0.1h1.35v1.35h-1.35zm51.9 -0.2h1.35v1.35h-1.35zm1.1 0.4h1.35v1.35h-1.35zm1 -0.2h1.35v1.35h-1.35zm1.2 -0.1h1.35v1.35h-1.35zm-67.7 1.5h1.35v1.35h-1.35zm2.6 -0.5h1.35v1.35h-1.35zm0.4 0.4h1.35v1.35h-1.35zm1.1 -0.6h1.35v1.35h-1.35zm1.6 -0.1h1.35v1.35h-1.35zm1.7 0.4h1.35v1.35h-1.35zm1.2 0.1h1.35v1.35h-1.35zm54.9 0.1h1.35v1.35h-1.35zm0.7 0.2h1.35v1.35h-1.35zm1.9 -0.1h1.35v1.35h-1.35zm-65.8 0.3h1.35v1.35h-1.35zm1 0.5h1.35v1.35h-1.35zm2 0.3h1.35v1.35h-1.35zm1.3 -0.2h1.35v1.35h-1.35zm0.8 -0.1h1.35v1.35h-1.35zm57.1 -0.3h1.35v1.35h-1.35zm1.1 0.2h1.35v1.35h-1.35zm0.8 -0.1h1.35v1.35h-1.35zm1.7 -0.1h1.35v1.35h-1.35zm-67.7 0.9h1.35v1.35h-1.35zm3.3 0.6h1.35v1.35h-1.35zm0.7 -0.4h1.35v1.35h-1.35zm58.8 -0.2h1.35v1.35h-1.35zm1.3 0.6h1.35v1.35h-1.35zm0.5 -0.3h1.35v1.35h-1.35zm5 0.2h1.35v1.35h-1.35zm-76.7 0.6h1.35v1.35h-1.35zm5.1 0.6h1.35v1.35h-1.35zm1.7 -0.5h1.35v1.35h-1.35zm2.6 -0.3h1.35v1.35h-1.35zm0.6 0.8h1.35v1.35h-1.35zm58.2 -0.2h1.35v1.35h-1.35zm1.1 0.2h1.35v1.35h-1.35zm0.6 -0.1h1.35v1.35h-1.35zm0.8 -0.2h1.35v1.35h-1.35zm2 0h1.35v1.35h-1.35zm5 -0.1h1.35v1.35h-1.35zm-76 0.8h1.35v1.35h-1.35zm4 -0.1h1.35v1.35h-1.35zm1.3 0.6h1.35v1.35h-1.35zm1.8 -0.4h1.35v1.35h-1.35zm57.1 -0.1h1.35v1.35h-1.35zm3.3 0.6h1.35v1.35h-1.35zm-81 0.4h1.35v1.35h-1.35zm12.7 0.3h1.35v1.35h-1.35zm2 0.1h1.35v1.35h-1.35zm1.7 -0.1h1.35v1.35h-1.35zm1.8 -0.3h1.35v1.35h-1.35zm0.8 0.4h1.35v1.35h-1.35zm0.9 -0.5h1.35v1.35h-1.35zm55.9 0.5h1.35v1.35h-1.35zm2.9 0.2h1.35v1.35h-1.35zm1.2 -0.3h1.35v1.35h-1.35zm0.6 0.1h1.35v1.35h-1.35zm1 0.1h1.35v1.35h-1.35zm1.2 -0.6h1.35v1.35h-1.35zm4.5 0.5h1.35v1.35h-1.35zm-70.5 0.5h1.35v1.35h-1.35zm1.1 0.1h1.35v1.35h-1.35zm1.4 0.1h1.35v1.35h-1.35zm54.9 -0.1h1.35v1.35h-1.35zm0.7 0.1h1.35v1.35h-1.35zm2 -0.1h1.35v1.35h-1.35zm0.8 0.4h1.35v1.35h-1.35zm1 -0.3h1.35v1.35h-1.35zm2.4 -0.2h1.35v1.35h-1.35zm0.8 0.7h1.35v1.35h-1.35zm-66.7 0.5h1.35v1.35h-1.35zm0.5 0.1h1.35v1.35h-1.35zm0.9 0.4h1.35v1.35h-1.35zm1 0h1.35v1.35h-1.35zm54.7 -0.4h1.35v1.35h-1.35zm0.8 -0.1h1.35v1.35h-1.35zm1.6 0.2h1.35v1.35h-1.35zm1.5 -0.2h1.35v1.35h-1.35zm1 0.4h1.35v1.35h-1.35zm3.9 -0.6h1.35v1.35h-1.35zm5 0.6h1.35v1.35h-1.35zm-72.8 0.8h1.35v1.35h-1.35zm3 0h1.35v1.35h-1.35zm0.3 0.1h1.35v1.35h-1.35zm53.6 -0.3h1.35v1.35h-1.35zm1.1 0.2h1.35v1.35h-1.35zm0.4 0h1.35v1.35h-1.35zm0.9 -0.2h1.35v1.35h-1.35zm1.2 -0.1h1.35v1.35h-1.35zm2.8 0.6h1.35v1.35h-1.35zm2.2 -0.5h1.35v1.35h-1.35zm-68 0.8h1.35v1.35h-1.35zm3.2 0.5h1.35v1.35h-1.35zm0.7 -0.4h1.35v1.35h-1.35zm0.8 0.3h1.35v1.35h-1.35zm52.4 0.1h1.35v1.35h-1.35zm0.9 0h1.35v1.35h-1.35zm1.5 -0.4h1.35v1.35h-1.35zm1.3 0.2h1.35v1.35h-1.35zm2.3 0.3h1.35v1.35h-1.35zm7.8 -0.4h1.35v1.35h-1.35zm-68.4 1.2h1.35v1.35h-1.35zm0.3 0.3h1.35v1.35h-1.35zm1.9 -0.2h1.35v1.35h-1.35zm50.2 -0.1h1.35v1.35h-1.35zm1.5 0.3h1.35v1.35h-1.35zm1.8 -0.4h1.35v1.35h-1.35zm2.1 0.3h1.35v1.35h-1.35zm2.2 0.1h1.35v1.35h-1.35zm-72.5 0.4h1.35v1.35h-1.35zm11.5 -0.1h1.35v1.35h-1.35zm1 0.4h1.35v1.35h-1.35zm1.8 -0.2h1.35v1.35h-1.35zm48.9 0.2h1.35v1.35h-1.35zm1.2 0h1.35v1.35h-1.35zm1.5 0.2h1.35v1.35h-1.35zm1.6 -0.2h1.35v1.35h-1.35zm0.8 -0.1h1.35v1.35h-1.35zm1.8 0.2h1.35v1.35h-1.35zm15.4 -0.6h1.35v1.35h-1.35zm-82.1 1.1h1.35v1.35h-1.35zm5.6 0.1h1.35v1.35h-1.35zm2.1 0.2h1.35v1.35h-1.35zm1 0.3h1.35v1.35h-1.35zm1.1 0.1h1.35v1.35h-1.35zm48.3 -0.4h1.35v1.35h-1.35zm0.3 -0.3h1.35v1.35h-1.35zm4.1 0.5h1.35v1.35h-1.35zm2.1 0h1.35v1.35h-1.35zm1 -0.3h1.35v1.35h-1.35zm1.4 0h1.35v1.35h-1.35zm9.3 0.5h1.35v1.35h-1.35zm-76.3 0.9h1.35v1.35h-1.35zm2.4 -0.3h1.35v1.35h-1.35zm4.2 -0.1h1.35v1.35h-1.35zm2.3 0.5h1.35v1.35h-1.35zm46.6 -0.7h1.35v1.35h-1.35zm1.1 0h1.35v1.35h-1.35zm1 0.6h1.35v1.35h-1.35zm0.8 0.1h1.35v1.35h-1.35zm1.5 0h1.35v1.35h-1.35zm12.1 -0.6h1.35v1.35h-1.35zm-64.1 1.3h1.35v1.35h-1.35zm0.9 -0.4h1.35v1.35h-1.35zm44.7 0.1h1.35v1.35h-1.35zm1.2 0.1h1.35v1.35h-1.35zm0.8 -0.2h1.35v1.35h-1.35zm1.4 0.3h1.35v1.35h-1.35zm1.7 0.2h1.35v1.35h-1.35zm7.3 -0.3h1.35v1.35h-1.35zm4.2 -0.2h1.35v1.35h-1.35zm-74.3 1.2h1.35v1.35h-1.35zm12 0h1.35v1.35h-1.35zm45.3 0.2h1.35v1.35h-1.35zm0.7 -0.2h1.35v1.35h-1.35zm3.2 0.5h1.35v1.35h-1.35zm2.9 -0.2h1.35v1.35h-1.35zm7.2 -0.2h1.35v1.35h-1.35zm-70 0.9h1.35v1.35h-1.35zm8.4 0.4h1.35v1.35h-1.35zm2.4 -0.3h1.35v1.35h-1.35zm0.9 0h1.35v1.35h-1.35zm41 0.2h1.35v1.35h-1.35zm0.8 0.1h1.35v1.35h-1.35zm1.3 -0.3h1.35v1.35h-1.35zm2.9 0.4h1.35v1.35h-1.35zm2.8 -0.1h1.35v1.35h-1.35zm-54.2 0.8h1.35v1.35h-1.35zm3.1 0.2h1.35v1.35h-1.35zm1.1 -0.2h1.35v1.35h-1.35zm40.3 0.3h1.35v1.35h-1.35zm0.5 -0.1h1.35v1.35h-1.35zm1.6 -0.5h1.35v1.35h-1.35zm1.4 0.2h1.35v1.35h-1.35zm1.1 0.1h1.35v1.35h-1.35zm3.2 -0.3h1.35v1.35h-1.35zm10.8 0.2h1.35v1.35h-1.35zm-60 1h1.35v1.35h-1.35zm1.6 0.3h1.35v1.35h-1.35zm38 -0.6h1.35v1.35h-1.35zm0.4 0.3h1.35v1.35h-1.35zm1.5 -0.1h1.35v1.35h-1.35zm1.1 0.4h1.35v1.35h-1.35zm0.8 -0.7h1.35v1.35h-1.35zm2.1 0.7h1.35v1.35h-1.35zm3 -0.2h1.35v1.35h-1.35zm-52 0.8h1.35v1.35h-1.35zm1.9 0.1h1.35v1.35h-1.35zm0.7 0.2h1.35v1.35h-1.35zm2.1 0.1h1.35v1.35h-1.35zm37.2 0.1h1.35v1.35h-1.35zm1 -0.3h1.35v1.35h-1.35zm0.8 -0.2h1.35v1.35h-1.35zm2 0.4h1.35v1.35h-1.35zm4.1 -0.3h1.35v1.35h-1.35zm-55 1.2h1.35v1.35h-1.35zm6.8 0.1h1.35v1.35h-1.35zm1.3 -0.4h1.35v1.35h-1.35zm1.9 0.3h1.35v1.35h-1.35zm33.9 -0.2h1.35v1.35h-1.35zm1.1 -0.3h1.35v1.35h-1.35zm0.6 0h1.35v1.35h-1.35zm1.2 0.4h1.35v1.35h-1.35zm1.1 0.3h1.35v1.35h-1.35zm1.8 -0.1h1.35v1.35h-1.35zm-49.7 0.5h1.35v1.35h-1.35zm7.2 0h1.35v1.35h-1.35zm2.9 0.3h1.35v1.35h-1.35zm31.6 -0.1h1.35v1.35h-1.35zm2.3 -0.2h1.35v1.35h-1.35zm2 0.5h1.35v1.35h-1.35zm3.3 -0.5h1.35v1.35h-1.35zm-53.4 1.3h1.35v1.35h-1.35zm4.4 0h1.35v1.35h-1.35zm4.6 -0.5h1.35v1.35h-1.35zm1.8 0.4h1.35v1.35h-1.35zm2.6 -0.2h1.35v1.35h-1.35zm30.9 0.4h1.35v1.35h-1.35zm0.4 0.1h1.35v1.35h-1.35zm1.2 0.1h1.35v1.35h-1.35zm5.4 -0.6h1.35v1.35h-1.35zm1.8 -0.1h1.35v1.35h-1.35zm0.9 0.5h1.35v1.35h-1.35zm-45.8 1.1h1.35v1.35h-1.35zm4.9 0h1.35v1.35h-1.35zm1.2 0.1h1.35v1.35h-1.35zm27.6 -0.3h1.35v1.35h-1.35zm1 0h1.35v1.35h-1.35zm1 0.1h1.35v1.35h-1.35zm2 0.1h1.35v1.35h-1.35zm1.5 -0.1h1.35v1.35h-1.35zm3.3 0h1.35v1.35h-1.35zm6 0.1h1.35v1.35h-1.35zm-51.7 0.8h1.35v1.35h-1.35zm5.3 0.3h1.35v1.35h-1.35zm1.6 0h1.35v1.35h-1.35zm1.4 0h1.35v1.35h-1.35zm26.4 -0.3h1.35v1.35h-1.35zm1.6 0.3h1.35v1.35h-1.35zm1.1 -0.4h1.35v1.35h-1.35zm0.3 0.4h1.35v1.35h-1.35zm8 0h1.35v1.35h-1.35zm-43.9 0.4h1.35v1.35h-1.35zm6.5 0.4h1.35v1.35h-1.35zm1.4 -0.4h1.35v1.35h-1.35zm22.9 0.5h1.35v1.35h-1.35zm1.5 -0.6h1.35v1.35h-1.35zm1 0.3h1.35v1.35h-1.35zm0.6 -0.3h1.35v1.35h-1.35zm3.1 0.2h1.35v1.35h-1.35zm3.3 0.4h1.35v1.35h-1.35zm-44.1 0.8h1.35v1.35h-1.35zm1.1 0.1h1.35v1.35h-1.35zm2.2 -0.1h1.35v1.35h-1.35zm4.6 -0.2h1.35v1.35h-1.35zm3.8 0.1h1.35v1.35h-1.35zm22.3 0h1.35v1.35h-1.35zm2.3 0.3h1.35v1.35h-1.35zm1.9 0.1h1.35v1.35h-1.35zm3.9 -0.8h1.35v1.35h-1.35zm11.8 0.6h1.35v1.35h-1.35zm-51.7 1.2h1.35v1.35h-1.35zm4.9 -0.5h1.35v1.35h-1.35zm1.6 -0.1h1.35v1.35h-1.35zm2.5 0.6h1.35v1.35h-1.35zm0.9 -0.1h1.35v1.35h-1.35zm19.9 -0.1h1.35v1.35h-1.35zm0.9 -0.3h1.35v1.35h-1.35zm1 0h1.35v1.35h-1.35zm1.5 -0.1h1.35v1.35h-1.35zm0.8 0.3h1.35v1.35h-1.35zm0.7 -0.4h1.35v1.35h-1.35zm1.9 0.2h1.35v1.35h-1.35zm1 0.4h1.35v1.35h-1.35zm-30.4 0.8h1.35v1.35h-1.35zm0.4 0.2h1.35v1.35h-1.35zm0.9 -0.3h1.35v1.35h-1.35zm1.6 0.1h1.35v1.35h-1.35zm17.9 -0.3h1.35v1.35h-1.35zm0.9 0h1.35v1.35h-1.35zm0.7 -0.1h1.35v1.35h-1.35zm2.3 0.1h1.35v1.35h-1.35zm1 0.3h1.35v1.35h-1.35zm0.6 -0.4h1.35v1.35h-1.35zm14.3 0.4h1.35v1.35h-1.35zm-50.1 1.2h1.35v1.35h-1.35zm9.1 -0.1h1.35v1.35h-1.35zm3 -0.3h1.35v1.35h-1.35zm1.2 0h1.35v1.35h-1.35zm14.6 0h1.35v1.35h-1.35zm1.3 0.4h1.35v1.35h-1.35zm0.9 0.1h1.35v1.35h-1.35zm1.2 -0.7h1.35v1.35h-1.35zm3.2 0.4h1.35v1.35h-1.35zm7.3 0h1.35v1.35h-1.35zm9 -0.4h1.35v1.35h-1.35zm-51.5 1.5h1.35v1.35h-1.35zm3.8 0.2h1.35v1.35h-1.35zm4.1 -0.2h1.35v1.35h-1.35zm2.8 -0.1h1.35v1.35h-1.35zm0.9 0h1.35v1.35h-1.35zm1.1 -0.4h1.35v1.35h-1.35zm1 0.6h1.35v1.35h-1.35zm14.5 -0.5h1.35v1.35h-1.35zm1 0.3h1.35v1.35h-1.35zm0.7 0h1.35v1.35h-1.35zm2 -0.4h1.35v1.35h-1.35zm-33.2 1.2h1.35v1.35h-1.35zm5.9 0h1.35v1.35h-1.35zm1.3 0.3h1.35v1.35h-1.35zm3.9 -0.2h1.35v1.35h-1.35zm2.4 -0.2h1.35v1.35h-1.35zm0.2 0.3h1.35v1.35h-1.35zm1.6 0.2h1.35v1.35h-1.35zm11.8 -0.1h1.35v1.35h-1.35zm0.9 -0.5h1.35v1.35h-1.35zm1.4 0.7h1.35v1.35h-1.35zm3.6 -0.3h1.35v1.35h-1.35zm1.7 -0.2h1.35v1.35h-1.35zm1.7 -0.2h1.35v1.35h-1.35zm-37.4 1h1.35v1.35h-1.35zm0.9 0.7h1.35v1.35h-1.35zm3.2 -0.2h1.35v1.35h-1.35zm4.7 -0.5h1.35v1.35h-1.35zm1.3 0.7h1.35v1.35h-1.35zm2.3 -0.7h1.35v1.35h-1.35zm0.4 0.2h1.35v1.35h-1.35zm3.2 -0.2h1.35v1.35h-1.35zm0.9 0.1h1.35v1.35h-1.35zm1.5 0.2h1.35v1.35h-1.35zm8.9 0.2h1.35v1.35h-1.35zm1.6 0h1.35v1.35h-1.35zm3.2 -0.2h1.35v1.35h-1.35zm-33.7 1.2h1.35v1.35h-1.35zm10.1 0h1.35v1.35h-1.35zm0.4 0.2h1.35v1.35h-1.35zm3.5 -0.3h1.35v1.35h-1.35zm6 0.1h1.35v1.35h-1.35zm1.1 -0.1h1.35v1.35h-1.35zm3.9 0h1.35v1.35h-1.35zm1 -0.2h1.35v1.35h-1.35zm0.5 0.2h1.35v1.35h-1.35zm0.9 -0.4h1.35v1.35h-1.35zm2.4 0.6h1.35v1.35h-1.35zm9.3 -0.4h1.35v1.35h-1.35zm2.3 0h1.35v1.35h-1.35zm-36.6 1.3h1.35v1.35h-1.35zm7.8 0.1h1.35v1.35h-1.35zm1.4 -0.4h1.35v1.35h-1.35zm0.5 -0.3h1.35v1.35h-1.35zm3.4 0.7h1.35v1.35h-1.35zm0.9 0.1h1.35v1.35h-1.35zm3.3 0h1.35v1.35h-1.35zm0.4 -0.6h1.35v1.35h-1.35zm0.9 -0.1h1.35v1.35h-1.35zm1.5 0.4h1.35v1.35h-1.35zm3 -0.1h1.35v1.35h-1.35zm1.1 0.2h1.35v1.35h-1.35zm-18.9 0.8h1.35v1.35h-1.35zm3.6 -0.1h1.35v1.35h-1.35zm0.9 -0.2h1.35v1.35h-1.35zm3.3 0.4h1.35v1.35h-1.35zm1.7 0.1h1.35v1.35h-1.35zm3.3 -0.4h1.35v1.35h-1.35zm0.5 0h1.35v1.35h-1.35zm2 0.6h1.35v1.35h-1.35zm4.3 -0.4h1.35v1.35h-1.35zm1.4 0.1h1.35v1.35h-1.35zm13.3 0.1h1.35v1.35h-1.35zm-28.8 0.7h1.35v1.35h-1.35zm6 0.4h1.35v1.35h-1.35zm1.2 -0.5h1.35v1.35h-1.35zm0.6 0.6h1.35v1.35h-1.35zm2.5 -0.3h1.35v1.35h-1.35zm4.5 0h1.35v1.35h-1.35zm1 -0.5h1.35v1.35h-1.35zm4.7 0.7h1.35v1.35h-1.35zm0.3 -0.1h1.35v1.35h-1.35zm-25 0.5h1.35v1.35h-1.35zm2.2 0h1.35v1.35h-1.35zm0.9 0.5h1.35v1.35h-1.35zm3.4 -0.4h1.35v1.35h-1.35zm2 0.4h1.35v1.35h-1.35zm1.2 0.2h1.35v1.35h-1.35zm1.4 -0.6h1.35v1.35h-1.35zm1.4 0.4h1.35v1.35h-1.35zm12.7 -0.2h1.35v1.35h-1.35zm-25.1 1.4h1.35v1.35h-1.35zm3.3 -0.5h1.35v1.35h-1.35zm3 0.3h1.35v1.35h-1.35zm0.8 -0.3h1.35v1.35h-1.35zm1.2 0.2h1.35v1.35h-1.35zm4.2 -0.3h1.35v1.35h-1.35zm6.1 0h1.35v1.35h-1.35zm-33.7 1.6h1.35v1.35h-1.35zm12.7 -0.5h1.35v1.35h-1.35zm9.3 0h1.35v1.35h-1.35zm1.7 -0.1h1.35v1.35h-1.35zm1 0h1.35v1.35h-1.35zm1.5 0.1h1.35v1.35h-1.35zm1.5 -0.2h1.35v1.35h-1.35zm11.9 0.6h1.35v1.35h-1.35zm-24.9 0.9h1.35v1.35h-1.35zm3.8 0.1h1.35v1.35h-1.35zm3.6 -0.3h1.35v1.35h-1.35zm8.2 0h1.35v1.35h-1.35zm3.9 0.1h1.35v1.35h-1.35zm1.3 -0.1h1.35v1.35h-1.35zm-29 1h1.35v1.35h-1.35zm15.8 0.3h1.35v1.35h-1.35zm4 -0.5h1.35v1.35h-1.35zm5 0.2h1.35v1.35h-1.35zm2.2 -0.3h1.35v1.35h-1.35zm1.7 0.1h1.35v1.35h-1.35zm0.8 0.2h1.35v1.35h-1.35zm-25.7 1.3h1.35v1.35h-1.35zm3.1 0h1.35v1.35h-1.35zm5.6 -0.1h1.35v1.35h-1.35zm3.1 0.1h1.35v1.35h-1.35zm0.9 -0.6h1.35v1.35h-1.35zm-8.4 1.3h1.35v1.35h-1.35zm0.7 -0.2h1.35v1.35h-1.35zm12.1 0.2h1.35v1.35h-1.35zm0.7 0.2h1.35v1.35h-1.35zm3.5 -0.3h1.35v1.35h-1.35zm-15.2 1.3h1.35v1.35h-1.35zm8.1 -0.5h1.35v1.35h-1.35zm2 0.2h1.35v1.35h-1.35zm-10.8 1.4h1.35v1.35h-1.35zm1.4 -0.6h1.35v1.35h-1.35zm10.3 0h1.35v1.35h-1.35zm1 0.6h1.35v1.35h-1.35zm1.1 -0.5h1.35v1.35h-1.35zm-9.9 1.6h1.35v1.35h-1.35zm9.4 -0.1h1.35v1.35h-1.35zm-15.4 1.3h1.35v1.35h-1.35zm5.6 0.3h1.35v1.35h-1.35z"/><path fill="#0e5a3a" d="M359 39h7v1h-7zM367 39h2v1h-2zM353 40h6v1h-6zM360 40h6v1h-6zM367 40h3v1h-3zM346 41h23v1h-23zM370 41h1v1h-1zM341 42h3v1h-3zM345 42h7v1h-7zM353 42h19v1h-19zM338 43h19v1h-19zM359 43h9v1h-9zM369 43h3v1h-3zM333 44h27v1h-27zM361 44h11v1h-11zM327 45h30v1h-30zM358 45h5v1h-5zM364 45h7v1h-7zM323 46h8v1h-8zM332 46h5v1h-5zM339 46h1v1h-1zM341 46h5v1h-5zM347 46h24v1h-24zM319 47h10v1h-10zM330 47h7v1h-7zM338 47h3v1h-3zM342 47h28v1h-28zM315 48h20v1h-20zM336 48h23v1h-23zM360 48h9v1h-9zM312 49h17v1h-17zM330 49h3v1h-3zM334 49h26v1h-26zM361 49h7v1h-7zM310 50h19v1h-19zM330 50h2v1h-2zM333 50h33v1h-33zM309 51h4v1h-4zM314 51h1v1h-1zM316 51h16v1h-16zM333 51h2v1h-2zM336 51h21v1h-21zM358 51h7v1h-7zM307 52h5v1h-5zM313 52h7v1h-7zM322 52h7v1h-7zM330 52h33v1h-33zM306 53h55v1h-55zM305 54h54v1h-54zM304 55h4v1h-4zM309 55h12v1h-12zM322 55h35v1h-35zM303 56h51v1h-51zM302 57h3v1h-3zM306 57h9v1h-9zM316 57h37v1h-37zM302 58h1v1h-1zM305 58h46v1h-46zM301 59h9v1h-9zM311 59h6v1h-6zM318 59h31v1h-31zM300 60h47v1h-47zM299 61h13v1h-13zM313 61h26v1h-26zM340 61h5v1h-5zM299 62h36v1h-36zM336 62h2v1h-2zM339 62h2v1h-2zM342 62h1v1h-1zM299 63h2v1h-2zM302 63h12v1h-12zM315 63h26v1h-26zM299 64h4v1h-4zM304 64h19v1h-19zM324 64h10v1h-10zM336 64h1v1h-1zM298 65h16v1h-16zM315 65h8v1h-8zM324 65h12v1h-12zM298 66h12v1h-12zM311 66h3v1h-3zM315 66h20v1h-20zM298 67h14v1h-14zM313 67h1v1h-1zM315 67h11v1h-11zM327 67h2v1h-2zM330 67h3v1h-3zM299 68h8v1h-8zM308 68h8v1h-8zM317 68h3v1h-3zM321 68h6v1h-6zM328 68h3v1h-3zM298 69h13v1h-13zM312 69h1v1h-1zM314 69h2v1h-2zM317 69h12v1h-12zM299 70h9v1h-9zM309 70h12v1h-12zM322 70h5v1h-5zM298 71h3v1h-3zM302 71h4v1h-4zM307 71h5v1h-5zM313 71h10v1h-10zM324 71h1v1h-1zM298 72h15v1h-15zM314 72h9v1h-9zM299 73h4v1h-4zM304 73h3v1h-3zM308 73h6v1h-6zM316 73h5v1h-5zM300 74h1v1h-1zM302 74h18v1h-18zM299 75h7v1h-7zM307 75h4v1h-4zM312 75h6v1h-6zM299 76h11v1h-11zM311 76h5v1h-5zM300 77h4v1h-4zM305 77h7v1h-7zM313 77h1v1h-1zM300 78h5v1h-5zM307 78h6v1h-6zM301 79h10v1h-10zM302 80h3v1h-3zM306 80h3v1h-3zM303 81h3v1h-3z"/><path fill="#1f5740" d="M0 0m472.1 10h1.35v1.35h-1.35zm-36 8.1h1.35v1.35h-1.35zm10 -0.6h1.35v1.35h-1.35zm2.4 0.5h1.35v1.35h-1.35zm5.3 -0.4h1.35v1.35h-1.35zm-10.2 1h1.35v1.35h-1.35zm-10.8 1.3h1.35v1.35h-1.35zm11.2 -0.3h1.35v1.35h-1.35zm2.5 0.3h1.35v1.35h-1.35zm1.6 -0.4h1.35v1.35h-1.35zm1.7 0h1.35v1.35h-1.35zm-12.1 1.2h1.35v1.35h-1.35zm3.3 0.1h1.35v1.35h-1.35zm1.7 0.4h1.35v1.35h-1.35zm1.4 -0.5h1.35v1.35h-1.35zm1 -0.2h1.35v1.35h-1.35zm1.1 0.3h1.35v1.35h-1.35zm0.2 0h1.35v1.35h-1.35zm1.8 0h1.35v1.35h-1.35zm1.8 0.1h1.35v1.35h-1.35zm5 0.1h1.35v1.35h-1.35zm-15.9 0.9h1.35v1.35h-1.35zm9.8 -0.2h1.35v1.35h-1.35zm2.6 0.5h1.35v1.35h-1.35zm-14.5 0.3h1.35v1.35h-1.35zm0.4 0.7h1.35v1.35h-1.35zm1.4 -0.5h1.35v1.35h-1.35zm11.4 -0.1h1.35v1.35h-1.35zm5.4 -0.2h1.35v1.35h-1.35zm-19.5 1.4h1.35v1.35h-1.35zm0.7 0.3h1.35v1.35h-1.35zm1.4 -0.1h1.35v1.35h-1.35zm11.2 -0.3h1.35v1.35h-1.35zm-11.8 0.9h1.35v1.35h-1.35zm-1.1 1.1h1.35v1.35h-1.35zm15.2 0.3h1.35v1.35h-1.35zm1 0.1h1.35v1.35h-1.35zm4.2 -0.5h1.35v1.35h-1.35zm-20.3 1.6h1.35v1.35h-1.35zm13.5 -0.1h1.35v1.35h-1.35zm-13.4 0.7h1.35v1.35h-1.35zm13.2 -0.3h1.35v1.35h-1.35zm0.8 0.7h1.35v1.35h-1.35zm2 -0.4h1.35v1.35h-1.35zm8 0h1.35v1.35h-1.35zm-24.7 0.9h1.35v1.35h-1.35zm1.1 0.3h1.35v1.35h-1.35zm12.4 -0.4h1.35v1.35h-1.35zm-17.7 1h1.35v1.35h-1.35zm3.6 -0.1h1.35v1.35h-1.35zm14.3 0.5h1.35v1.35h-1.35zm38.7 -0.3h1.35v1.35h-1.35zm-55.4 1.5h1.35v1.35h-1.35zm0.9 -0.8h1.35v1.35h-1.35zm26.3 0.1h1.35v1.35h-1.35zm-39.6 1h1.35v1.35h-1.35zm12.5 0.6h1.35v1.35h-1.35zm1.8 0.1h1.35v1.35h-1.35zm1.1 0h1.35v1.35h-1.35zm16.8 -0.2h1.35v1.35h-1.35zm-19.3 0.7h1.35v1.35h-1.35zm1.5 0.4h1.35v1.35h-1.35zm25.7 -0.4h1.35v1.35h-1.35zm2.2 0.3h1.35v1.35h-1.35zm9.5 -0.5h1.35v1.35h-1.35zm12.6 0h1.35v1.35h-1.35zm-50.1 1.5h1.35v1.35h-1.35zm-1.3 0.6h1.35v1.35h-1.35zm16.4 0.6h1.35v1.35h-1.35zm0.7 -0.6h1.35v1.35h-1.35zm1.4 0.2h1.35v1.35h-1.35zm12.1 -0.2h1.35v1.35h-1.35zm-31.4 1.1h1.35v1.35h-1.35zm1.1 0.5h1.35v1.35h-1.35zm1.1 -0.8h1.35v1.35h-1.35zm14.1 0.1h1.35v1.35h-1.35zm0.9 0.7h1.35v1.35h-1.35zm2.1 -0.3h1.35v1.35h-1.35zm2.7 0.1h1.35v1.35h-1.35zm13.2 -0.1h1.35v1.35h-1.35zm-47.5 1h1.35v1.35h-1.35zm12.1 0.1h1.35v1.35h-1.35zm1.3 0.1h1.35v1.35h-1.35zm14.7 -0.1h1.35v1.35h-1.35zm1.3 -0.3h1.35v1.35h-1.35zm1.9 -0.1h1.35v1.35h-1.35zm7.2 0h1.35v1.35h-1.35zm0.7 0.2h1.35v1.35h-1.35zm8 -0.2h1.35v1.35h-1.35zm3.3 0.4h1.35v1.35h-1.35zm4.8 -0.1h1.35v1.35h-1.35zm20.3 0.3h1.35v1.35h-1.35zm-63.6 0.4h1.35v1.35h-1.35zm1 0.1h1.35v1.35h-1.35zm15.3 0.5h1.35v1.35h-1.35zm0.9 -0.2h1.35v1.35h-1.35zm0.8 -0.5h1.35v1.35h-1.35zm2.1 0.1h1.35v1.35h-1.35zm1.3 0.6h1.35v1.35h-1.35zm5.2 -0.7h1.35v1.35h-1.35zm7.3 0.2h1.35v1.35h-1.35zm10.5 0.1h1.35v1.35h-1.35zm-42.9 1.1h1.35v1.35h-1.35zm15.5 0.1h1.35v1.35h-1.35zm3.6 -0.5h1.35v1.35h-1.35zm1.8 0.4h1.35v1.35h-1.35zm1.1 0.2h1.35v1.35h-1.35zm0.9 -0.4h1.35v1.35h-1.35zm5 -0.1h1.35v1.35h-1.35zm3.6 0.3h1.35v1.35h-1.35zm2.1 -0.4h1.35v1.35h-1.35zm4.5 0.1h1.35v1.35h-1.35zm3.5 0.6h1.35v1.35h-1.35zm6.2 -0.6h1.35v1.35h-1.35zm5.2 0.2h1.35v1.35h-1.35zm3.9 -0.2h1.35v1.35h-1.35zm17.1 0.5h1.35v1.35h-1.35zm-77.2 0.3h1.35v1.35h-1.35zm19.1 0.7h1.35v1.35h-1.35zm0.6 0.1h1.35v1.35h-1.35zm2.1 -0.3h1.35v1.35h-1.35zm2.1 0h1.35v1.35h-1.35zm0.8 -0.1h1.35v1.35h-1.35zm3.6 -0.1h1.35v1.35h-1.35zm1.1 -0.2h1.35v1.35h-1.35zm0.3 0.4h1.35v1.35h-1.35zm3.9 0.2h1.35v1.35h-1.35zm1.6 -0.3h1.35v1.35h-1.35zm2.4 0.2h1.35v1.35h-1.35zm2.2 -0.3h1.35v1.35h-1.35zm4.4 -0.3h1.35v1.35h-1.35zm9.8 0.4h1.35v1.35h-1.35zm-53.7 0.7h1.35v1.35h-1.35zm18.8 0.6h1.35v1.35h-1.35zm1 -0.2h1.35v1.35h-1.35zm1.2 -0.3h1.35v1.35h-1.35zm0.8 -0.2h1.35v1.35h-1.35zm0.9 0.8h1.35v1.35h-1.35zm1.2 -0.1h1.35v1.35h-1.35zm1.6 -0.1h1.35v1.35h-1.35zm0.9 -0.2h1.35v1.35h-1.35zm3.9 -0.2h1.35v1.35h-1.35zm1.1 0.4h1.35v1.35h-1.35zm2.4 0.2h1.35v1.35h-1.35zm5.3 -0.5h1.35v1.35h-1.35zm2.3 0.1h1.35v1.35h-1.35zm1.4 0.2h1.35v1.35h-1.35zm13.1 -0.4h1.35v1.35h-1.35zm8.1 0h1.35v1.35h-1.35zm-65.1 1.6h1.35v1.35h-1.35zm1.1 -0.1h1.35v1.35h-1.35zm0.9 -0.3h1.35v1.35h-1.35zm1.1 0.2h1.35v1.35h-1.35zm15.6 0.2h1.35v1.35h-1.35zm1.2 -0.5h1.35v1.35h-1.35zm0.5 -0.1h1.35v1.35h-1.35zm1.2 0.6h1.35v1.35h-1.35zm1.9 -0.8h1.35v1.35h-1.35zm1.6 0.2h1.35v1.35h-1.35zm0.9 -0.1h1.35v1.35h-1.35zm0.7 0.6h1.35v1.35h-1.35zm1.5 0h1.35v1.35h-1.35zm0.4 -0.4h1.35v1.35h-1.35zm2.3 -0.1h1.35v1.35h-1.35zm2.1 0h1.35v1.35h-1.35zm3.1 -0.2h1.35v1.35h-1.35zm2.7 0.6h1.35v1.35h-1.35zm0.7 -0.4h1.35v1.35h-1.35zm2 0.2h1.35v1.35h-1.35zm1 -0.1h1.35v1.35h-1.35zm1.2 -0.1h1.35v1.35h-1.35zm-44 1.6h1.35v1.35h-1.35zm19.3 -0.2h1.35v1.35h-1.35zm0.6 -0.4h1.35v1.35h-1.35zm1.4 -0.1h1.35v1.35h-1.35zm2.5 0.3h1.35v1.35h-1.35zm1.2 -0.1h1.35v1.35h-1.35zm1.1 0.3h1.35v1.35h-1.35zm1.1 -0.1h1.35v1.35h-1.35zm1 0.3h1.35v1.35h-1.35zm1.2 -0.7h1.35v1.35h-1.35zm0.7 0.1h1.35v1.35h-1.35zm1.3 0.4h1.35v1.35h-1.35zm0.6 0.1h1.35v1.35h-1.35zm1.4 -0.1h1.35v1.35h-1.35zm0.4 -0.2h1.35v1.35h-1.35zm1.2 0.2h1.35v1.35h-1.35zm1.1 -0.3h1.35v1.35h-1.35zm1.1 0.2h1.35v1.35h-1.35zm0.6 -0.4h1.35v1.35h-1.35zm1.1 0.2h1.35v1.35h-1.35zm1.2 0.3h1.35v1.35h-1.35zm3.8 0.1h1.35v1.35h-1.35zm5.2 -0.4h1.35v1.35h-1.35zm3.8 0.3h1.35v1.35h-1.35zm3.3 -0.2h1.35v1.35h-1.35zm1.6 0.2h1.35v1.35h-1.35zm6.1 -0.2h1.35v1.35h-1.35zm-61.6 1h1.35v1.35h-1.35zm16.5 0.1h1.35v1.35h-1.35zm6 -0.1h1.35v1.35h-1.35zm1.1 0.1h1.35v1.35h-1.35zm1.5 -0.1h1.35v1.35h-1.35zm0.7 0h1.35v1.35h-1.35zm1.1 -0.3h1.35v1.35h-1.35zm0.6 0.5h1.35v1.35h-1.35zm1.2 -0.1h1.35v1.35h-1.35zm2.5 0.3h1.35v1.35h-1.35zm4.2 -0.4h1.35v1.35h-1.35zm1.7 -0.2h1.35v1.35h-1.35zm0.5 -0.2h1.35v1.35h-1.35zm1.1 0.7h1.35v1.35h-1.35zm1 0.1h1.35v1.35h-1.35zm8.2 -0.5h1.35v1.35h-1.35zm6 -0.1h1.35v1.35h-1.35zm-57.9 1.5h1.35v1.35h-1.35zm4.1 -0.2h1.35v1.35h-1.35zm16.7 -0.2h1.35v1.35h-1.35zm1.4 -0.2h1.35v1.35h-1.35zm1.7 0.2h1.35v1.35h-1.35zm1.2 0.5h1.35v1.35h-1.35zm0.8 -0.4h1.35v1.35h-1.35zm1.8 -0.3h1.35v1.35h-1.35zm1.3 0.1h1.35v1.35h-1.35zm0.9 -0.1h1.35v1.35h-1.35zm1.8 0.5h1.35v1.35h-1.35zm1.4 0.2h1.35v1.35h-1.35zm0.3 0h1.35v1.35h-1.35zm2.1 -0.6h1.35v1.35h-1.35zm2.2 -0.1h1.35v1.35h-1.35zm0.9 0.7h1.35v1.35h-1.35zm1.3 0h1.35v1.35h-1.35zm1.1 -0.6h1.35v1.35h-1.35zm1 0.1h1.35v1.35h-1.35zm2.1 0.4h1.35v1.35h-1.35zm0.8 -0.6h1.35v1.35h-1.35zm3.1 0.3h1.35v1.35h-1.35zm1.2 -0.3h1.35v1.35h-1.35zm2.8 0.1h1.35v1.35h-1.35zm2.8 -0.1h1.35v1.35h-1.35zm7.4 0.4h1.35v1.35h-1.35zm0.4 0h1.35v1.35h-1.35zm3 -0.1h1.35v1.35h-1.35zm7.9 0.3h1.35v1.35h-1.35zm-74.9 0.4h1.35v1.35h-1.35zm5.4 0.4h1.35v1.35h-1.35zm17.2 -0.3h1.35v1.35h-1.35zm0.5 0.6h1.35v1.35h-1.35zm1.4 -0.8h1.35v1.35h-1.35zm2.1 0.8h1.35v1.35h-1.35zm1.3 -0.3h1.35v1.35h-1.35zm1.6 0.2h1.35v1.35h-1.35zm1 -0.4h1.35v1.35h-1.35zm0.5 0.2h1.35v1.35h-1.35zm1.1 0.3h1.35v1.35h-1.35zm1.5 -0.1h1.35v1.35h-1.35zm2.3 0h1.35v1.35h-1.35zm1.2 -0.5h1.35v1.35h-1.35zm2.5 0.4h1.35v1.35h-1.35zm0.7 -0.4h1.35v1.35h-1.35zm2.6 0.5h1.35v1.35h-1.35zm1.6 0.1h1.35v1.35h-1.35zm0.6 -0.6h1.35v1.35h-1.35zm1.2 -0.2h1.35v1.35h-1.35zm5.7 0.4h1.35v1.35h-1.35zm3 -0.1h1.35v1.35h-1.35zm2.6 0.1h1.35v1.35h-1.35zm0.8 0h1.35v1.35h-1.35zm2.9 -0.3h1.35v1.35h-1.35zm9.8 0.4h1.35v1.35h-1.35zm-70.7 1.1h1.35v1.35h-1.35zm3.8 -0.5h1.35v1.35h-1.35zm17.7 0h1.35v1.35h-1.35zm1.2 0.1h1.35v1.35h-1.35zm1.1 -0.1h1.35v1.35h-1.35zm1.9 0.6h1.35v1.35h-1.35zm1.3 -0.3h1.35v1.35h-1.35zm1.1 -0.1h1.35v1.35h-1.35zm1.5 0h1.35v1.35h-1.35zm1 0h1.35v1.35h-1.35zm3.2 0.3h1.35v1.35h-1.35zm1.9 0.2h1.35v1.35h-1.35zm1 -0.1h1.35v1.35h-1.35zm1.3 -0.7h1.35v1.35h-1.35zm1 0.4h1.35v1.35h-1.35zm0.5 0.1h1.35v1.35h-1.35zm1.7 -0.3h1.35v1.35h-1.35zm0.6 0.6h1.35v1.35h-1.35zm0.7 -0.2h1.35v1.35h-1.35zm1.6 -0.5h1.35v1.35h-1.35zm0.9 0.5h1.35v1.35h-1.35zm1.2 -0.2h1.35v1.35h-1.35zm0.6 0.2h1.35v1.35h-1.35zm2.3 -0.1h1.35v1.35h-1.35zm4 0h1.35v1.35h-1.35zm2.6 0.3h1.35v1.35h-1.35zm19.8 0h1.35v1.35h-1.35zm-73.8 0.9h1.35v1.35h-1.35zm1.1 0h1.35v1.35h-1.35zm0.8 0h1.35v1.35h-1.35zm18.1 -0.4h1.35v1.35h-1.35zm1.9 0.3h1.35v1.35h-1.35zm1.4 0.2h1.35v1.35h-1.35zm3.1 -0.2h1.35v1.35h-1.35zm0.9 -0.3h1.35v1.35h-1.35zm0.7 0.1h1.35v1.35h-1.35zm2.1 0.1h1.35v1.35h-1.35zm1.1 0.3h1.35v1.35h-1.35zm0.7 -0.2h1.35v1.35h-1.35zm1.6 -0.4h1.35v1.35h-1.35zm0.7 0.5h1.35v1.35h-1.35zm0.6 0.1h1.35v1.35h-1.35zm1.4 -0.3h1.35v1.35h-1.35zm1 0h1.35v1.35h-1.35zm2.1 -0.1h1.35v1.35h-1.35zm0.7 0.1h1.35v1.35h-1.35zm2.4 -0.3h1.35v1.35h-1.35zm0.9 0h1.35v1.35h-1.35zm0.9 0h1.35v1.35h-1.35zm0.9 0.2h1.35v1.35h-1.35zm2.2 -0.1h1.35v1.35h-1.35zm1.6 0h1.35v1.35h-1.35zm3.3 0.1h1.35v1.35h-1.35zm0.7 0.1h1.35v1.35h-1.35zm1.6 0.1h1.35v1.35h-1.35zm0.7 -0.1h1.35v1.35h-1.35zm2.3 -0.2h1.35v1.35h-1.35zm2 0h1.35v1.35h-1.35zm5.7 0.3h1.35v1.35h-1.35zm-75.5 0.6h1.35v1.35h-1.35zm33.7 0h1.35v1.35h-1.35zm0.5 0.2h1.35v1.35h-1.35zm2.2 0h1.35v1.35h-1.35zm0.7 0.4h1.35v1.35h-1.35zm2.4 -0.1h1.35v1.35h-1.35zm1.8 0.1h1.35v1.35h-1.35zm1.5 -0.5h1.35v1.35h-1.35zm0.8 0.2h1.35v1.35h-1.35zm1.6 0h1.35v1.35h-1.35zm0.9 0.2h1.35v1.35h-1.35zm2.2 -0.4h1.35v1.35h-1.35zm0.9 0.1h1.35v1.35h-1.35zm1.4 -0.3h1.35v1.35h-1.35zm0.5 0.2h1.35v1.35h-1.35zm1 -0.1h1.35v1.35h-1.35zm2.5 0.1h1.35v1.35h-1.35zm0.8 -0.3h1.35v1.35h-1.35zm1.1 0.5h1.35v1.35h-1.35zm2.7 -0.1h1.35v1.35h-1.35zm2.2 0.4h1.35v1.35h-1.35zm3.6 0h1.35v1.35h-1.35zm6.8 -0.1h1.35v1.35h-1.35zm1.4 0h1.35v1.35h-1.35zm1.2 -0.6h1.35v1.35h-1.35zm-65.3 1.1h1.35v1.35h-1.35zm2.5 0h1.35v1.35h-1.35zm20.5 0h1.35v1.35h-1.35zm1.2 0.5h1.35v1.35h-1.35zm1.5 -0.6h1.35v1.35h-1.35zm0.3 0h1.35v1.35h-1.35zm1.4 0.1h1.35v1.35h-1.35zm1 0.6h1.35v1.35h-1.35zm2.2 -0.1h1.35v1.35h-1.35zm0.8 -0.6h1.35v1.35h-1.35zm0.6 -0.1h1.35v1.35h-1.35zm1.3 0.1h1.35v1.35h-1.35zm1.2 0h1.35v1.35h-1.35zm0.6 0.3h1.35v1.35h-1.35zm1.5 0h1.35v1.35h-1.35zm0.4 0.1h1.35v1.35h-1.35zm1.7 -0.2h1.35v1.35h-1.35zm0.5 -0.1h1.35v1.35h-1.35zm1.4 0.5h1.35v1.35h-1.35zm0.9 0h1.35v1.35h-1.35zm1.1 -0.3h1.35v1.35h-1.35zm0.7 -0.2h1.35v1.35h-1.35zm0.9 0.2h1.35v1.35h-1.35zm0.9 -0.2h1.35v1.35h-1.35zm2.5 0.5h1.35v1.35h-1.35zm0.5 -0.6h1.35v1.35h-1.35zm1.3 0.4h1.35v1.35h-1.35zm4.9 -0.2h1.35v1.35h-1.35zm3.2 -0.2h1.35v1.35h-1.35zm1.9 0.4h1.35v1.35h-1.35zm0.7 -0.4h1.35v1.35h-1.35zm0.9 0.5h1.35v1.35h-1.35zm3.5 0h1.35v1.35h-1.35zm-68.9 1.2h1.35v1.35h-1.35zm4.7 -0.8h1.35v1.35h-1.35zm1.2 0.8h1.35v1.35h-1.35zm0.5 -0.1h1.35v1.35h-1.35zm19.2 0h1.35v1.35h-1.35zm1.4 0h1.35v1.35h-1.35zm1.8 -0.5h1.35v1.35h-1.35zm1.3 0.4h1.35v1.35h-1.35zm1.9 0h1.35v1.35h-1.35zm0.5 -0.3h1.35v1.35h-1.35zm1.1 0.2h1.35v1.35h-1.35zm0.9 0h1.35v1.35h-1.35zm1.2 0.2h1.35v1.35h-1.35zm1.2 0.1h1.35v1.35h-1.35zm3.8 -0.3h1.35v1.35h-1.35zm1.3 -0.2h1.35v1.35h-1.35zm1 -0.1h1.35v1.35h-1.35zm1.6 0.6h1.35v1.35h-1.35zm1.5 0h1.35v1.35h-1.35zm0.3 -0.3h1.35v1.35h-1.35zm3.1 0.1h1.35v1.35h-1.35zm0.9 0h1.35v1.35h-1.35zm1.3 -0.1h1.35v1.35h-1.35zm1.3 -0.3h1.35v1.35h-1.35zm4.9 -0.1h1.35v1.35h-1.35zm5.2 0.1h1.35v1.35h-1.35zm7 0h1.35v1.35h-1.35zm-64.1 1.5h1.35v1.35h-1.35zm19.7 -0.5h1.35v1.35h-1.35zm1.2 -0.2h1.35v1.35h-1.35zm1 0.2h1.35v1.35h-1.35zm1.7 0.5h1.35v1.35h-1.35zm1.8 -0.5h1.35v1.35h-1.35zm1 0h1.35v1.35h-1.35zm2.2 -0.1h1.35v1.35h-1.35zm1.4 0.6h1.35v1.35h-1.35zm1.6 -0.6h1.35v1.35h-1.35zm1.5 0.1h1.35v1.35h-1.35zm0.8 -0.1h1.35v1.35h-1.35zm0.7 0.6h1.35v1.35h-1.35zm3.2 0h1.35v1.35h-1.35zm5.2 -0.3h1.35v1.35h-1.35zm0.8 0h1.35v1.35h-1.35zm1.2 0.1h1.35v1.35h-1.35zm1.4 0h1.35v1.35h-1.35zm2 -0.3h1.35v1.35h-1.35zm2.6 -0.1h1.35v1.35h-1.35zm0.7 0h1.35v1.35h-1.35zm3.1 0.4h1.35v1.35h-1.35zm2.2 0.1h1.35v1.35h-1.35zm3.6 -0.2h1.35v1.35h-1.35zm-66.7 0.7h1.35v1.35h-1.35zm4 0.5h1.35v1.35h-1.35zm1 0.2h1.35v1.35h-1.35zm0.7 -0.8h1.35v1.35h-1.35zm19.7 0.6h1.35v1.35h-1.35zm1.3 0.1h1.35v1.35h-1.35zm1.2 -0.5h1.35v1.35h-1.35zm0.8 0.6h1.35v1.35h-1.35zm1.9 -0.1h1.35v1.35h-1.35zm1.5 -0.6h1.35v1.35h-1.35zm0.7 0.7h1.35v1.35h-1.35zm0.8 -0.1h1.35v1.35h-1.35zm1.6 0h1.35v1.35h-1.35zm1.9 -0.5h1.35v1.35h-1.35zm0.4 0h1.35v1.35h-1.35zm2.1 0.4h1.35v1.35h-1.35zm0.9 -0.1h1.35v1.35h-1.35zm0.9 -0.2h1.35v1.35h-1.35zm2.1 -0.1h1.35v1.35h-1.35zm1.1 0.1h1.35v1.35h-1.35zm2 0.3h1.35v1.35h-1.35zm1.5 -0.2h1.35v1.35h-1.35zm0.7 -0.1h1.35v1.35h-1.35zm0.9 0.1h1.35v1.35h-1.35zm1.4 0.3h1.35v1.35h-1.35zm2.8 0.1h1.35v1.35h-1.35zm4.6 -0.6h1.35v1.35h-1.35zm1 -0.1h1.35v1.35h-1.35zm3.4 0.2h1.35v1.35h-1.35zm3.7 0.1h1.35v1.35h-1.35zm3.8 -0.3h1.35v1.35h-1.35zm-66.5 1.5h1.35v1.35h-1.35zm21.7 -0.5h1.35v1.35h-1.35zm1.6 0.4h1.35v1.35h-1.35zm0.3 -0.2h1.35v1.35h-1.35zm1.7 -0.2h1.35v1.35h-1.35zm1.8 0.1h1.35v1.35h-1.35zm0.7 0.2h1.35v1.35h-1.35zm1.4 -0.3h1.35v1.35h-1.35zm0.9 -0.1h1.35v1.35h-1.35zm2.6 0.6h1.35v1.35h-1.35zm1.4 -0.5h1.35v1.35h-1.35zm0.7 0.1h1.35v1.35h-1.35zm3 0.3h1.35v1.35h-1.35zm2.4 -0.4h1.35v1.35h-1.35zm1 0.4h1.35v1.35h-1.35zm0.9 -0.3h1.35v1.35h-1.35zm0.9 0.2h1.35v1.35h-1.35zm5.3 -0.2h1.35v1.35h-1.35zm0.9 -0.1h1.35v1.35h-1.35zm0.7 -0.1h1.35v1.35h-1.35zm0.7 0.4h1.35v1.35h-1.35zm3.5 -0.2h1.35v1.35h-1.35zm0.4 0.2h1.35v1.35h-1.35zm6 -0.2h1.35v1.35h-1.35zm2.7 0.2h1.35v1.35h-1.35zm16.1 0h1.35v1.35h-1.35zm-78.8 1h1.35v1.35h-1.35zm21.8 0h1.35v1.35h-1.35zm0.4 -0.1h1.35v1.35h-1.35zm0.9 0h1.35v1.35h-1.35zm1.5 0.2h1.35v1.35h-1.35zm2.7 -0.2h1.35v1.35h-1.35zm1.4 -0.2h1.35v1.35h-1.35zm0.5 0.1h1.35v1.35h-1.35zm1.4 -0.2h1.35v1.35h-1.35zm1.9 0.3h1.35v1.35h-1.35zm1.6 0.5h1.35v1.35h-1.35zm2.2 -0.7h1.35v1.35h-1.35zm0.8 0.3h1.35v1.35h-1.35zm1.1 0.2h1.35v1.35h-1.35zm1.1 -0.2h1.35v1.35h-1.35zm1 -0.3h1.35v1.35h-1.35zm3.2 0.6h1.35v1.35h-1.35zm0.6 -0.4h1.35v1.35h-1.35zm1.4 0.4h1.35v1.35h-1.35zm2.2 -0.3h1.35v1.35h-1.35zm1.1 0.4h1.35v1.35h-1.35zm3.7 -0.7h1.35v1.35h-1.35zm4 0.4h1.35v1.35h-1.35zm1.9 -0.3h1.35v1.35h-1.35zm3.9 0h1.35v1.35h-1.35zm-62.8 1.6h1.35v1.35h-1.35zm1.3 -0.7h1.35v1.35h-1.35zm20.7 0.3h1.35v1.35h-1.35zm1 -0.2h1.35v1.35h-1.35zm1.1 0.1h1.35v1.35h-1.35zm0.8 0h1.35v1.35h-1.35zm0.9 0.1h1.35v1.35h-1.35zm1.9 0.3h1.35v1.35h-1.35zm0.9 -0.3h1.35v1.35h-1.35zm4 0h1.35v1.35h-1.35zm1.3 -0.4h1.35v1.35h-1.35zm5.4 0.4h1.35v1.35h-1.35zm1.4 0.4h1.35v1.35h-1.35zm1.6 0h1.35v1.35h-1.35zm0.5 -0.1h1.35v1.35h-1.35zm0.9 -0.3h1.35v1.35h-1.35zm1.1 -0.4h1.35v1.35h-1.35zm1.3 0.5h1.35v1.35h-1.35zm0.8 0.1h1.35v1.35h-1.35zm1.3 -0.3h1.35v1.35h-1.35zm0.7 -0.2h1.35v1.35h-1.35zm1 0h1.35v1.35h-1.35zm1.1 0.5h1.35v1.35h-1.35zm1.6 -0.4h1.35v1.35h-1.35zm1.7 0.3h1.35v1.35h-1.35zm0.5 0h1.35v1.35h-1.35zm3.5 0.3h1.35v1.35h-1.35zm1.8 -0.4h1.35v1.35h-1.35zm5.1 0.3h1.35v1.35h-1.35zm0.6 -0.2h1.35v1.35h-1.35zm-70.2 0.7h1.35v1.35h-1.35zm3.2 -0.1h1.35v1.35h-1.35zm24.4 0h1.35v1.35h-1.35zm1.8 0.4h1.35v1.35h-1.35zm0.9 0h1.35v1.35h-1.35zm0.7 -0.2h1.35v1.35h-1.35zm1.2 0h1.35v1.35h-1.35zm0.8 0.3h1.35v1.35h-1.35zm6.6 -0.3h1.35v1.35h-1.35zm0.3 0.2h1.35v1.35h-1.35zm1.1 0h1.35v1.35h-1.35zm1.5 0h1.35v1.35h-1.35zm0.4 0.3h1.35v1.35h-1.35zm1.5 -0.2h1.35v1.35h-1.35zm1.1 -0.4h1.35v1.35h-1.35zm2.7 0.4h1.35v1.35h-1.35zm1.3 0.1h1.35v1.35h-1.35zm0.6 0h1.35v1.35h-1.35zm2.5 0.1h1.35v1.35h-1.35zm2.1 -0.2h1.35v1.35h-1.35zm0.3 -0.1h1.35v1.35h-1.35zm2.1 -0.4h1.35v1.35h-1.35zm2.4 0.7h1.35v1.35h-1.35zm1.6 0h1.35v1.35h-1.35zm-58.4 0.5h1.35v1.35h-1.35zm0.5 0.1h1.35v1.35h-1.35zm23 -0.2h1.35v1.35h-1.35zm1.5 0.2h1.35v1.35h-1.35zm0.5 0.3h1.35v1.35h-1.35zm0.7 0h1.35v1.35h-1.35zm1.7 -0.2h1.35v1.35h-1.35zm0.7 -0.2h1.35v1.35h-1.35zm0.8 -0.1h1.35v1.35h-1.35zm1.6 0.3h1.35v1.35h-1.35zm0.3 -0.1h1.35v1.35h-1.35zm1.6 -0.3h1.35v1.35h-1.35zm2.9 0.7h1.35v1.35h-1.35zm1.2 -0.5h1.35v1.35h-1.35zm0.4 -0.1h1.35v1.35h-1.35zm2.5 0h1.35v1.35h-1.35zm1 0.1h1.35v1.35h-1.35zm0.7 0.4h1.35v1.35h-1.35zm1.2 -0.4h1.35v1.35h-1.35zm0.5 -0.2h1.35v1.35h-1.35zm1.6 0.2h1.35v1.35h-1.35zm0.8 0.4h1.35v1.35h-1.35zm0.8 -0.2h1.35v1.35h-1.35zm2.4 -0.3h1.35v1.35h-1.35zm0.9 -0.1h1.35v1.35h-1.35zm0.6 0h1.35v1.35h-1.35zm4.2 0.5h1.35v1.35h-1.35zm6.2 -0.5h1.35v1.35h-1.35zm5.8 0.1h1.35v1.35h-1.35zm-69.3 1.6h1.35v1.35h-1.35zm2.7 -0.2h1.35v1.35h-1.35zm0.3 0h1.35v1.35h-1.35zm1.5 -0.3h1.35v1.35h-1.35zm21.2 0h1.35v1.35h-1.35zm0.9 0.3h1.35v1.35h-1.35zm0.5 0.1h1.35v1.35h-1.35zm1.4 0h1.35v1.35h-1.35zm0.8 -0.4h1.35v1.35h-1.35zm2.2 0.3h1.35v1.35h-1.35zm0.6 -0.2h1.35v1.35h-1.35zm0.9 0.3h1.35v1.35h-1.35zm1 -0.3h1.35v1.35h-1.35zm1.2 -0.3h1.35v1.35h-1.35zm1.4 0.6h1.35v1.35h-1.35zm0.8 -0.4h1.35v1.35h-1.35zm0.9 0.1h1.35v1.35h-1.35zm2.3 0.3h1.35v1.35h-1.35zm0.9 -0.5h1.35v1.35h-1.35zm1.7 0.2h1.35v1.35h-1.35zm2.4 0h1.35v1.35h-1.35zm1 0.1h1.35v1.35h-1.35zm2.7 -0.2h1.35v1.35h-1.35zm4.3 0.3h1.35v1.35h-1.35zm2.6 0.2h1.35v1.35h-1.35zm1.3 -0.1h1.35v1.35h-1.35zm7.9 -0.6h1.35v1.35h-1.35zm4.9 0h1.35v1.35h-1.35zm3.4 0.5h1.35v1.35h-1.35zm-72 1.2h1.35v1.35h-1.35zm25.9 -0.3h1.35v1.35h-1.35zm0.4 -0.1h1.35v1.35h-1.35zm1.3 0.2h1.35v1.35h-1.35zm1.2 -0.1h1.35v1.35h-1.35zm1.1 -0.3h1.35v1.35h-1.35zm4.5 0.3h1.35v1.35h-1.35zm1.4 -0.3h1.35v1.35h-1.35zm4.5 0.6h1.35v1.35h-1.35zm2.2 -0.3h1.35v1.35h-1.35zm2.4 -0.1h1.35v1.35h-1.35zm0.7 0.2h1.35v1.35h-1.35zm0.9 -0.2h1.35v1.35h-1.35zm10.4 -0.1h1.35v1.35h-1.35zm4 -0.2h1.35v1.35h-1.35zm10.9 0.1h1.35v1.35h-1.35zm0.9 0h1.35v1.35h-1.35zm1.3 -0.1h1.35v1.35h-1.35zm-74.6 1.4h1.35v1.35h-1.35zm1 -0.2h1.35v1.35h-1.35zm1.2 0.5h1.35v1.35h-1.35zm21.9 0h1.35v1.35h-1.35zm1.4 -0.4h1.35v1.35h-1.35zm0.4 -0.3h1.35v1.35h-1.35zm1.2 0.1h1.35v1.35h-1.35zm5 0.3h1.35v1.35h-1.35zm3.1 0.2h1.35v1.35h-1.35zm0.9 0h1.35v1.35h-1.35zm2 0h1.35v1.35h-1.35zm1.5 -0.2h1.35v1.35h-1.35zm0.7 -0.2h1.35v1.35h-1.35zm2.9 0.1h1.35v1.35h-1.35zm0.8 0.2h1.35v1.35h-1.35zm6.5 0h1.35v1.35h-1.35zm23 0h1.35v1.35h-1.35zm-73.4 1h1.35v1.35h-1.35zm2 0h1.35v1.35h-1.35zm23.2 -0.2h1.35v1.35h-1.35zm1.8 -0.2h1.35v1.35h-1.35zm1.2 0.3h1.35v1.35h-1.35zm0.9 0h1.35v1.35h-1.35zm1.7 -0.1h1.35v1.35h-1.35zm1.3 0h1.35v1.35h-1.35zm6.9 -0.3h1.35v1.35h-1.35zm1.3 0h1.35v1.35h-1.35zm1.5 0.7h1.35v1.35h-1.35zm2.2 -0.7h1.35v1.35h-1.35zm4 0h1.35v1.35h-1.35zm1.7 0h1.35v1.35h-1.35zm5.2 0.7h1.35v1.35h-1.35zm15.3 -0.6h1.35v1.35h-1.35zm-68.8 1h1.35v1.35h-1.35zm22.7 0.2h1.35v1.35h-1.35zm0.8 -0.2h1.35v1.35h-1.35zm1.4 0.1h1.35v1.35h-1.35zm0.6 0.5h1.35v1.35h-1.35zm1 -0.4h1.35v1.35h-1.35zm2.3 0.4h1.35v1.35h-1.35zm2.2 0h1.35v1.35h-1.35zm1 0h1.35v1.35h-1.35zm1.1 -0.1h1.35v1.35h-1.35zm0.6 -0.5h1.35v1.35h-1.35zm1 0.3h1.35v1.35h-1.35zm1.4 -0.2h1.35v1.35h-1.35zm0.5 0.1h1.35v1.35h-1.35zm1 0.2h1.35v1.35h-1.35zm1.9 -0.4h1.35v1.35h-1.35zm1.6 0.3h1.35v1.35h-1.35zm2.9 -0.2h1.35v1.35h-1.35zm0.5 0h1.35v1.35h-1.35zm20.4 -0.1h1.35v1.35h-1.35zm-42.8 1.2h1.35v1.35h-1.35zm0.4 0h1.35v1.35h-1.35zm2.2 0.4h1.35v1.35h-1.35zm1.9 0h1.35v1.35h-1.35zm0.9 0h1.35v1.35h-1.35zm2.3 0h1.35v1.35h-1.35zm0.8 -0.7h1.35v1.35h-1.35zm1.2 0.6h1.35v1.35h-1.35zm0.9 0.1h1.35v1.35h-1.35zm1.3 -0.7h1.35v1.35h-1.35zm0.6 0.7h1.35v1.35h-1.35zm3.1 -0.1h1.35v1.35h-1.35zm1.2 -0.6h1.35v1.35h-1.35zm1.1 0.1h1.35v1.35h-1.35zm2 0.3h1.35v1.35h-1.35zm4.4 -0.2h1.35v1.35h-1.35zm-47.7 1h1.35v1.35h-1.35zm0.6 0.2h1.35v1.35h-1.35zm22.2 0.1h1.35v1.35h-1.35zm1.6 -0.3h1.35v1.35h-1.35zm0.7 0.1h1.35v1.35h-1.35zm1 -0.3h1.35v1.35h-1.35zm0.7 0.6h1.35v1.35h-1.35zm0.9 -0.4h1.35v1.35h-1.35zm1.1 0.4h1.35v1.35h-1.35zm2.6 -0.5h1.35v1.35h-1.35zm3.3 -0.1h1.35v1.35h-1.35zm3.2 0h1.35v1.35h-1.35zm8.4 0.3h1.35v1.35h-1.35zm0.6 0h1.35v1.35h-1.35zm8.8 0.4h1.35v1.35h-1.35zm-58.9 0.5h1.35v1.35h-1.35zm3.6 -0.2h1.35v1.35h-1.35zm0.8 0.6h1.35v1.35h-1.35zm21.6 -0.3h1.35v1.35h-1.35zm1.4 -0.1h1.35v1.35h-1.35zm0.8 0.4h1.35v1.35h-1.35zm1.2 -0.6h1.35v1.35h-1.35zm2.7 0.7h1.35v1.35h-1.35zm1.9 0h1.35v1.35h-1.35zm1.9 -0.8h1.35v1.35h-1.35zm1.3 0.2h1.35v1.35h-1.35zm0.8 0.6h1.35v1.35h-1.35zm2.6 -0.3h1.35v1.35h-1.35zm17.4 0h1.35v1.35h-1.35zm-56.6 1.1h1.35v1.35h-1.35zm1.8 0h1.35v1.35h-1.35zm31.4 -0.4h1.35v1.35h-1.35zm1.9 0.4h1.35v1.35h-1.35zm1 -0.2h1.35v1.35h-1.35zm1 0.3h1.35v1.35h-1.35zm28.9 -0.1h1.35v1.35h-1.35zm-65.1 1h1.35v1.35h-1.35zm1.1 -0.2h1.35v1.35h-1.35zm22 0.2h1.35v1.35h-1.35zm0.8 -0.1h1.35v1.35h-1.35zm1 0.2h1.35v1.35h-1.35zm3.8 0h1.35v1.35h-1.35zm2 -0.4h1.35v1.35h-1.35zm2.3 0.4h1.35v1.35h-1.35zm0.6 -0.3h1.35v1.35h-1.35zm6.6 0.3h1.35v1.35h-1.35zm-43 0.5h1.35v1.35h-1.35zm2.8 0.2h1.35v1.35h-1.35zm1.1 -0.2h1.35v1.35h-1.35zm21.5 0.1h1.35v1.35h-1.35zm6.4 -0.3h1.35v1.35h-1.35zm6.8 0.4h1.35v1.35h-1.35zm1 0.2h1.35v1.35h-1.35zm15 -0.1h1.35v1.35h-1.35zm11.2 0h1.35v1.35h-1.35zm-65.4 0.9h1.35v1.35h-1.35zm1.3 -0.3h1.35v1.35h-1.35zm1.7 0h1.35v1.35h-1.35zm21.1 0.5h1.35v1.35h-1.35zm2.4 -0.3h1.35v1.35h-1.35zm2.5 0.3h1.35v1.35h-1.35zm15.1 -0.2h1.35v1.35h-1.35zm6 -0.2h1.35v1.35h-1.35zm-48 1.3h1.35v1.35h-1.35zm1.5 0.1h1.35v1.35h-1.35zm21.8 -0.3h1.35v1.35h-1.35zm1.1 0.2h1.35v1.35h-1.35zm2 -0.2h1.35v1.35h-1.35zm2.1 0h1.35v1.35h-1.35zm-28.9 1.5h1.35v1.35h-1.35zm0.5 0h1.35v1.35h-1.35zm23.4 -0.2h1.35v1.35h-1.35zm8.6 -0.3h1.35v1.35h-1.35zm-37.1 1.1h1.35v1.35h-1.35zm5.6 -0.2h1.35v1.35h-1.35zm20.9 0.3h1.35v1.35h-1.35zm0.9 -0.5h1.35v1.35h-1.35zm-23.2 1.2h1.35v1.35h-1.35zm0.7 0h1.35v1.35h-1.35zm21.4 0.4h1.35v1.35h-1.35zm1.7 0.2h1.35v1.35h-1.35zm1.1 -0.7h1.35v1.35h-1.35zm-24.8 1.2h1.35v1.35h-1.35zm1.2 0h1.35v1.35h-1.35zm20.8 0h1.35v1.35h-1.35zm2.6 0.4h1.35v1.35h-1.35zm-24.9 0.5h1.35v1.35h-1.35zm1.3 0.6h1.35v1.35h-1.35zm19.6 -0.4h1.35v1.35h-1.35zm1.2 0.2h1.35v1.35h-1.35zm-25.2 0.9h1.35v1.35h-1.35zm4.7 -0.2h1.35v1.35h-1.35zm19.5 0.5h1.35v1.35h-1.35zm1 -0.7h1.35v1.35h-1.35zm34.5 0.3h1.35v1.35h-1.35zm-56.5 0.9h1.35v1.35h-1.35zm1 0.3h1.35v1.35h-1.35zm19.3 -0.1h1.35v1.35h-1.35zm-21.4 0.6h1.35v1.35h-1.35zm1.4 0.5h1.35v1.35h-1.35zm1.2 -0.4h1.35v1.35h-1.35zm19 0.5h1.35v1.35h-1.35zm-20.2 0.9h1.35v1.35h-1.35zm0.9 -0.5h1.35v1.35h-1.35zm18.2 0.5h1.35v1.35h-1.35zm1 -0.3h1.35v1.35h-1.35zm-20.2 0.9h1.35v1.35h-1.35zm0.9 0.5h1.35v1.35h-1.35zm16.9 -0.3h1.35v1.35h-1.35zm0.8 0h1.35v1.35h-1.35zm-19 0.9h1.35v1.35h-1.35zm1.2 0h1.35v1.35h-1.35zm17.1 0.4h1.35v1.35h-1.35zm4.4 -0.2h1.35v1.35h-1.35zm2.9 0.1h1.35v1.35h-1.35zm-8.1 0.9h1.35v1.35h-1.35zm-15.4 0.9h1.35v1.35h-1.35zm14.5 0h1.35v1.35h-1.35zm1.9 0h1.35v1.35h-1.35zm2.5 -0.1h1.35v1.35h-1.35zm-5 1.3h1.35v1.35h-1.35zm1.2 -0.2h1.35v1.35h-1.35zm1.2 -0.1h1.35v1.35h-1.35zm-18.3 1.3h1.35v1.35h-1.35zm3 0.2h1.35v1.35h-1.35zm12.4 -0.2h1.35v1.35h-1.35zm0.7 -0.1h1.35v1.35h-1.35zm1.2 -0.1h1.35v1.35h-1.35zm-15.3 1.3h1.35v1.35h-1.35zm11.2 -0.1h1.35v1.35h-1.35zm1.3 -0.1h1.35v1.35h-1.35zm0.4 -0.1h1.35v1.35h-1.35zm3.6 0.4h1.35v1.35h-1.35zm-21.3 1h1.35v1.35h-1.35zm3.3 -0.6h1.35v1.35h-1.35zm1.6 0.1h1.35v1.35h-1.35zm3.1 -0.2h1.35v1.35h-1.35zm7.4 0.2h1.35v1.35h-1.35zm1.9 -0.2h1.35v1.35h-1.35zm0.7 0.2h1.35v1.35h-1.35zm2.4 0.1h1.35v1.35h-1.35zm4.8 0h1.35v1.35h-1.35zm-23.8 0.8h1.35v1.35h-1.35zm2.4 0.1h1.35v1.35h-1.35zm6.6 0h1.35v1.35h-1.35zm0.4 0.1h1.35v1.35h-1.35zm1 0.1h1.35v1.35h-1.35zm1.1 0h1.35v1.35h-1.35zm0.8 -0.2h1.35v1.35h-1.35zm1.1 0.4h1.35v1.35h-1.35zm2.1 0.1h1.35v1.35h-1.35zm1.5 -0.4h1.35v1.35h-1.35zm0.3 -0.3h1.35v1.35h-1.35zm-7.5 1.1h1.35v1.35h-1.35zm1.7 0h1.35v1.35h-1.35zm1.9 -0.1h1.35v1.35h-1.35zm0.9 0.2h1.35v1.35h-1.35zm-24.7 1.3h1.35v1.35h-1.35zm14.1 -0.1h1.35v1.35h-1.35zm2.2 -0.2h1.35v1.35h-1.35zm2 -0.1h1.35v1.35h-1.35zm1.7 0.1h1.35v1.35h-1.35zm2.1 -0.2h1.35v1.35h-1.35zm0.9 0h1.35v1.35h-1.35zm1.1 1h1.35v1.35h-1.35zm-2.2 1h1.35v1.35h-1.35zm3.1 0.7h1.35v1.35h-1.35zm-10 0.5h1.35v1.35h-1.35zm2.1 0.4h1.35v1.35h-1.35zm1.3 1.5h1.35v1.35h-1.35zm10.4 1.2h1.35v1.35h-1.35zm29.6 0.2h1.35v1.35h-1.35z"/><path fill="#0e5a3a" d="M440 22h9v1h-9zM440 23h9v1h-9zM439 24h11v1h-11zM439 25h11v1h-11zM438 26h12v1h-12zM438 27h12v1h-12zM438 28h12v1h-12zM438 29h12v1h-12zM437 30h13v1h-13zM437 31h13v1h-13zM437 32h13v1h-13zM436 33h14v1h-14zM436 34h13v1h-13zM436 35h13v1h-13zM436 36h13v1h-13zM435 37h14v1h-14zM435 38h14v1h-14zM435 39h15v1h-15zM434 40h16v1h-16zM434 41h16v1h-16zM434 42h15v1h-15zM433 43h16v1h-16zM434 44h15v1h-15zM433 45h16v1h-16zM433 46h16v1h-16zM432 47h17v1h-17zM432 48h17v1h-17zM431 49h18v1h-18zM431 50h18v1h-18zM431 51h18v1h-18zM430 52h19v1h-19zM430 53h19v1h-19zM430 54h19v1h-19zM429 55h20v1h-20zM429 56h20v1h-20zM428 57h21v1h-21zM428 58h20v1h-20zM428 59h20v1h-20zM427 60h21v1h-21zM427 61h21v1h-21zM427 62h21v1h-21zM426 63h22v1h-22zM426 64h21v1h-21zM426 65h21v1h-21zM426 66h21v1h-21zM425 67h22v1h-22zM425 68h21v1h-21zM425 69h21v1h-21zM425 70h20v1h-20zM425 71h20v1h-20zM424 72h21v1h-21zM424 73h20v1h-20zM424 74h20v1h-20zM424 75h20v1h-20zM424 76h19v1h-19zM424 77h19v1h-19zM424 78h18v1h-18zM424 79h18v1h-18zM424 80h17v1h-17zM424 81h16v1h-16zM424 82h15v1h-15zM424 83h15v1h-15zM425 84h13v1h-13zM425 85h12v1h-12zM426 86h11v1h-11zM427 87h8v1h-8zM428 88h6v1h-6z"/><path fill="#1f5740" d="M0 0m41.7 143.7h1.35v1.35h-1.35zm9.4 1.4h1.35v1.35h-1.35zm-15.9 0.4h1.35v1.35h-1.35zm9.7 0.1h1.35v1.35h-1.35zm8.1 0.1h1.35v1.35h-1.35zm-8 0.9h1.35v1.35h-1.35zm0.4 0.4h1.35v1.35h-1.35zm3.8 -0.4h1.35v1.35h-1.35zm3.8 0.3h1.35v1.35h-1.35zm-4.1 0.9h1.35v1.35h-1.35zm1.5 -0.2h1.35v1.35h-1.35zm4.3 -0.1h1.35v1.35h-1.35zm-14.6 1h1.35v1.35h-1.35zm1 0.1h1.35v1.35h-1.35zm3.8 0.3h1.35v1.35h-1.35zm2.9 0.1h1.35v1.35h-1.35zm1.2 0.1h1.35v1.35h-1.35zm1.9 -0.5h1.35v1.35h-1.35zm4.9 0.3h1.35v1.35h-1.35zm-12.8 0.6h1.35v1.35h-1.35zm0.6 0.5h1.35v1.35h-1.35zm1 -0.2h1.35v1.35h-1.35zm1.3 0.2h1.35v1.35h-1.35zm1.3 -0.5h1.35v1.35h-1.35zm0.7 0.2h1.35v1.35h-1.35zm4.5 0h1.35v1.35h-1.35zm5.1 0.1h1.35v1.35h-1.35zm-20.7 1h1.35v1.35h-1.35zm1.7 0.2h1.35v1.35h-1.35zm1.6 0h1.35v1.35h-1.35zm4.8 -0.2h1.35v1.35h-1.35zm1 -0.2h1.35v1.35h-1.35zm5.6 0.1h1.35v1.35h-1.35zm1.2 0.3h1.35v1.35h-1.35zm1.5 0h1.35v1.35h-1.35zm-13.1 0.9h1.35v1.35h-1.35zm3.9 0.2h1.35v1.35h-1.35zm8 -0.6h1.35v1.35h-1.35zm-16 1.1h1.35v1.35h-1.35zm4.5 0.1h1.35v1.35h-1.35zm1.4 0h1.35v1.35h-1.35zm1.3 0.1h1.35v1.35h-1.35zm7.5 -0.3h1.35v1.35h-1.35zm-11.5 1.4h1.35v1.35h-1.35zm0.9 0.1h1.35v1.35h-1.35zm0.7 -0.5h1.35v1.35h-1.35zm0.9 0.2h1.35v1.35h-1.35zm8.8 0.2h1.35v1.35h-1.35zm-14.7 0.8h1.35v1.35h-1.35zm2 0.3h1.35v1.35h-1.35zm1.4 -0.4h1.35v1.35h-1.35zm1.6 0.3h1.35v1.35h-1.35zm10.3 0h1.35v1.35h-1.35zm-14.4 0.7h1.35v1.35h-1.35zm2.5 0.3h1.35v1.35h-1.35zm0.6 0h1.35v1.35h-1.35zm11 -0.2h1.35v1.35h-1.35zm1 0.3h1.35v1.35h-1.35zm-19.1 1.1h1.35v1.35h-1.35zm0.9 -0.2h1.35v1.35h-1.35zm1.1 -0.4h1.35v1.35h-1.35zm3.5 0.7h1.35v1.35h-1.35zm0.6 -0.4h1.35v1.35h-1.35zm11.4 -0.2h1.35v1.35h-1.35zm0.5 0.1h1.35v1.35h-1.35zm1.1 0h1.35v1.35h-1.35zm-18 1.4h1.35v1.35h-1.35zm1.1 -0.1h1.35v1.35h-1.35zm2.3 -0.1h1.35v1.35h-1.35zm0.8 -0.3h1.35v1.35h-1.35zm11.8 0.1h1.35v1.35h-1.35zm1 0.4h1.35v1.35h-1.35zm1.2 -0.4h1.35v1.35h-1.35zm1.1 -0.2h1.35v1.35h-1.35zm0.6 0.1h1.35v1.35h-1.35zm-20.8 1h1.35v1.35h-1.35zm0.9 -0.1h1.35v1.35h-1.35zm16.2 0.7h1.35v1.35h-1.35zm0.4 0h1.35v1.35h-1.35zm-16.3 0.4h1.35v1.35h-1.35zm2 0.2h1.35v1.35h-1.35zm12.7 -0.1h1.35v1.35h-1.35zm0.6 0h1.35v1.35h-1.35zm1.4 0.3h1.35v1.35h-1.35zm0.7 -0.2h1.35v1.35h-1.35zm4.4 0.3h1.35v1.35h-1.35zm-23.3 1.1h1.35v1.35h-1.35zm3.4 -0.3h1.35v1.35h-1.35zm14.9 0h1.35v1.35h-1.35zm2.1 0.3h1.35v1.35h-1.35zm2.2 -0.4h1.35v1.35h-1.35zm-21.4 1.4h1.35v1.35h-1.35zm16.4 -0.5h1.35v1.35h-1.35zm0.3 0.2h1.35v1.35h-1.35zm-16.3 1h1.35v1.35h-1.35zm1 -0.1h1.35v1.35h-1.35zm13.3 0h1.35v1.35h-1.35zm2.4 -0.1h1.35v1.35h-1.35zm1 0.2h1.35v1.35h-1.35zm1.8 -0.4h1.35v1.35h-1.35zm1.2 0.1h1.35v1.35h-1.35zm-21.7 0.8h1.35v1.35h-1.35zm0.5 0.3h1.35v1.35h-1.35zm1.5 0.3h1.35v1.35h-1.35zm13.4 -0.4h1.35v1.35h-1.35zm-16.7 1.5h1.35v1.35h-1.35zm0.6 -0.5h1.35v1.35h-1.35zm1.2 0h1.35v1.35h-1.35zm14.3 -0.1h1.35v1.35h-1.35zm0.6 0h1.35v1.35h-1.35zm2.4 0.1h1.35v1.35h-1.35zm2.1 0.5h1.35v1.35h-1.35zm-23.4 0.6h1.35v1.35h-1.35zm4.2 0.4h1.35v1.35h-1.35zm14.8 -0.5h1.35v1.35h-1.35zm3.5 0.6h1.35v1.35h-1.35zm1.8 -0.7h1.35v1.35h-1.35zm-6.5 1.6h1.35v1.35h-1.35zm1.1 -0.2h1.35v1.35h-1.35zm-15.7 0.6h1.35v1.35h-1.35zm14.7 0.4h1.35v1.35h-1.35zm3.5 -0.3h1.35v1.35h-1.35zm-21 1.4h1.35v1.35h-1.35zm1.4 -0.1h1.35v1.35h-1.35zm1.1 0.1h1.35v1.35h-1.35zm14.8 0.2h1.35v1.35h-1.35zm1.4 -0.6h1.35v1.35h-1.35zm1 0.1h1.35v1.35h-1.35zm33.1 0.3h1.35v1.35h-1.35zm-50.9 0.5h1.35v1.35h-1.35zm0.8 0.4h1.35v1.35h-1.35zm14.4 0.1h1.35v1.35h-1.35zm0.8 -0.3h1.35v1.35h-1.35zm1.7 0.5h1.35v1.35h-1.35zm0.9 0h1.35v1.35h-1.35zm1.1 -0.1h1.35v1.35h-1.35zm1.2 -0.5h1.35v1.35h-1.35zm1.3 0.5h1.35v1.35h-1.35zm18.8 -0.2h1.35v1.35h-1.35zm-26.2 0.7h1.35v1.35h-1.35zm1 0.5h1.35v1.35h-1.35zm0.8 -0.5h1.35v1.35h-1.35zm3.2 0h1.35v1.35h-1.35zm-3.4 0.9h1.35v1.35h-1.35zm1.1 0h1.35v1.35h-1.35zm-20.1 0.9h1.35v1.35h-1.35zm2.3 0.6h1.35v1.35h-1.35zm15.5 -0.4h1.35v1.35h-1.35zm1.5 0.5h1.35v1.35h-1.35zm-19.1 1h1.35v1.35h-1.35zm2.2 -0.4h1.35v1.35h-1.35zm15.2 -0.1h1.35v1.35h-1.35zm0.7 0.3h1.35v1.35h-1.35zm1.3 -0.4h1.35v1.35h-1.35zm0.7 0.1h1.35v1.35h-1.35zm1.2 0.6h1.35v1.35h-1.35zm1.7 0h1.35v1.35h-1.35zm-22.7 0.9h1.35v1.35h-1.35zm1.7 -0.2h1.35v1.35h-1.35zm17.3 -0.3h1.35v1.35h-1.35zm1.6 0.6h1.35v1.35h-1.35zm-19.5 0.5h1.35v1.35h-1.35zm15.6 0.5h1.35v1.35h-1.35zm1.9 -0.2h1.35v1.35h-1.35zm1.3 -0.1h1.35v1.35h-1.35zm0.7 0.3h1.35v1.35h-1.35zm1.1 -0.7h1.35v1.35h-1.35zm-22 1h1.35v1.35h-1.35zm1.4 0.4h1.35v1.35h-1.35zm14.9 -0.4h1.35v1.35h-1.35zm0.7 0.1h1.35v1.35h-1.35zm1 0.3h1.35v1.35h-1.35zm1.3 -0.2h1.35v1.35h-1.35zm1.8 0h1.35v1.35h-1.35zm0.9 0.1h1.35v1.35h-1.35zm-20.6 1.3h1.35v1.35h-1.35zm14.6 -0.5h1.35v1.35h-1.35zm1.6 0.4h1.35v1.35h-1.35zm0.5 -0.5h1.35v1.35h-1.35zm2.1 0.6h1.35v1.35h-1.35zm-19.6 1.1h1.35v1.35h-1.35zm1 -0.1h1.35v1.35h-1.35zm14.4 -0.6h1.35v1.35h-1.35zm2.5 0.7h1.35v1.35h-1.35zm3.5 -0.3h1.35v1.35h-1.35zm-22.1 0.7h1.35v1.35h-1.35zm16.5 0.6h1.35v1.35h-1.35zm2.7 -0.7h1.35v1.35h-1.35zm-19.6 1.1h1.35v1.35h-1.35zm0.7 0.3h1.35v1.35h-1.35zm16.1 0.2h1.35v1.35h-1.35zm1.6 0.1h1.35v1.35h-1.35zm1 -0.4h1.35v1.35h-1.35zm1.3 0.3h1.35v1.35h-1.35zm0.8 0.1h1.35v1.35h-1.35zm3.3 -0.7h1.35v1.35h-1.35zm-26 1.4h1.35v1.35h-1.35zm1.1 0.2h1.35v1.35h-1.35zm0.4 0h1.35v1.35h-1.35zm16.8 -0.2h1.35v1.35h-1.35zm2.3 0.3h1.35v1.35h-1.35zm2.6 -0.3h1.35v1.35h-1.35zm1.7 0.1h1.35v1.35h-1.35zm14.3 -0.2h1.35v1.35h-1.35zm-42.5 0.7h1.35v1.35h-1.35zm1 0.4h1.35v1.35h-1.35zm3 -0.2h1.35v1.35h-1.35zm18.1 0.1h1.35v1.35h-1.35zm1.4 -0.3h1.35v1.35h-1.35zm1.8 0.6h1.35v1.35h-1.35zm0.8 -0.5h1.35v1.35h-1.35zm-20.7 1.6h1.35v1.35h-1.35zm15.7 -0.1h1.35v1.35h-1.35zm2.2 -0.1h1.35v1.35h-1.35zm0.7 -0.4h1.35v1.35h-1.35zm1 0.5h1.35v1.35h-1.35zm1.4 0h1.35v1.35h-1.35zm-22.8 1h1.35v1.35h-1.35zm1.8 -0.6h1.35v1.35h-1.35zm16.5 0h1.35v1.35h-1.35zm2.4 0.5h1.35v1.35h-1.35zm0.9 -0.1h1.35v1.35h-1.35zm-21.3 0.6h1.35v1.35h-1.35zm1.2 0.4h1.35v1.35h-1.35zm16 -0.1h1.35v1.35h-1.35zm0.8 0h1.35v1.35h-1.35zm-0.7 0.9h1.35v1.35h-1.35zm0.7 -0.1h1.35v1.35h-1.35zm2.1 -0.1h1.35v1.35h-1.35zm-20.1 1.1h1.35v1.35h-1.35zm16.4 0.6h1.35v1.35h-1.35zm1.1 -0.7h1.35v1.35h-1.35zm16.8 0.5h1.35v1.35h-1.35zm-34.3 1.1h1.35v1.35h-1.35zm16.5 -0.5h1.35v1.35h-1.35zm0.8 0.5h1.35v1.35h-1.35zm1.9 -0.6h1.35v1.35h-1.35zm1.3 0.1h1.35v1.35h-1.35zm0.8 0.6h1.35v1.35h-1.35zm-23.9 1h1.35v1.35h-1.35zm2.8 -0.1h1.35v1.35h-1.35zm15.8 -0.5h1.35v1.35h-1.35zm1.1 0.5h1.35v1.35h-1.35zm0.9 -0.6h1.35v1.35h-1.35zm1.2 0.3h1.35v1.35h-1.35zm1.4 -0.2h1.35v1.35h-1.35zm0.9 0h1.35v1.35h-1.35zm1.6 -0.1h1.35v1.35h-1.35zm-24.6 1h1.35v1.35h-1.35zm0.8 0.6h1.35v1.35h-1.35zm17.3 -0.6h1.35v1.35h-1.35zm0.9 0.4h1.35v1.35h-1.35zm11.5 -0.2h1.35v1.35h-1.35zm-29.9 1.2h1.35v1.35h-1.35zm17.5 -0.2h1.35v1.35h-1.35zm0.8 0.2h1.35v1.35h-1.35zm1.1 0.1h1.35v1.35h-1.35zm1.8 -0.3h1.35v1.35h-1.35zm-23.2 0.8h1.35v1.35h-1.35zm2.5 0.1h1.35v1.35h-1.35zm16.9 0h1.35v1.35h-1.35zm2.9 0.2h1.35v1.35h-1.35zm1 -0.1h1.35v1.35h-1.35zm-20 0.8h1.35v1.35h-1.35zm15.8 0.1h1.35v1.35h-1.35zm1.8 0.2h1.35v1.35h-1.35zm1.1 0.3h1.35v1.35h-1.35zm1.4 0.1h1.35v1.35h-1.35zm-20.8 0.9h1.35v1.35h-1.35zm16.8 0.1h1.35v1.35h-1.35zm2.2 -0.2h1.35v1.35h-1.35zm0.5 0.1h1.35v1.35h-1.35zm3.2 0.1h1.35v1.35h-1.35zm-27.2 0.4h1.35v1.35h-1.35zm4.3 -0.2h1.35v1.35h-1.35zm17.1 0.4h1.35v1.35h-1.35zm2.7 0.4h1.35v1.35h-1.35zm0.9 -0.5h1.35v1.35h-1.35zm-28.1 0.8h1.35v1.35h-1.35zm7.4 0.6h1.35v1.35h-1.35zm17.9 -0.2h1.35v1.35h-1.35zm0.8 -0.2h1.35v1.35h-1.35zm6.2 0.4h1.35v1.35h-1.35zm-26.4 0.8h1.35v1.35h-1.35zm1 0.1h1.35v1.35h-1.35zm16 -0.1h1.35v1.35h-1.35zm2.1 -0.4h1.35v1.35h-1.35zm2.2 0.1h1.35v1.35h-1.35zm3.1 0.4h1.35v1.35h-1.35zm15.2 0h1.35v1.35h-1.35zm-39.2 1h1.35v1.35h-1.35zm1.1 -0.4h1.35v1.35h-1.35zm15.9 0.1h1.35v1.35h-1.35zm0.8 0.3h1.35v1.35h-1.35zm1.5 0.1h1.35v1.35h-1.35zm-20.3 0.7h1.35v1.35h-1.35zm1.3 0.2h1.35v1.35h-1.35zm0.9 -0.4h1.35v1.35h-1.35zm16 0.5h1.35v1.35h-1.35zm1.1 -0.3h1.35v1.35h-1.35zm-22.1 0.7h1.35v1.35h-1.35zm3.6 0.3h1.35v1.35h-1.35zm1.4 -0.1h1.35v1.35h-1.35zm15.6 0.3h1.35v1.35h-1.35zm12.4 -0.4h1.35v1.35h-1.35zm-34 1.2h1.35v1.35h-1.35zm4.8 0.3h1.35v1.35h-1.35zm1.1 -0.2h1.35v1.35h-1.35zm16 0.1h1.35v1.35h-1.35zm5.6 0h1.35v1.35h-1.35zm-24.5 1.1h1.35v1.35h-1.35zm0.5 -0.2h1.35v1.35h-1.35zm1.1 -0.2h1.35v1.35h-1.35zm1 0.3h1.35v1.35h-1.35zm16.1 0h1.35v1.35h-1.35zm1.4 0h1.35v1.35h-1.35zm4.7 -0.6h1.35v1.35h-1.35zm-25.1 1.5h1.35v1.35h-1.35zm0.7 0.1h1.35v1.35h-1.35zm1.3 -0.4h1.35v1.35h-1.35zm1.3 -0.1h1.35v1.35h-1.35zm15 0.4h1.35v1.35h-1.35zm0.5 -0.1h1.35v1.35h-1.35zm1.1 0.2h1.35v1.35h-1.35zm2.8 -0.5h1.35v1.35h-1.35zm2.3 0.3h1.35v1.35h-1.35zm-27.3 0.8h1.35v1.35h-1.35zm5.7 0.4h1.35v1.35h-1.35zm14.5 -0.3h1.35v1.35h-1.35zm2.4 -0.2h1.35v1.35h-1.35zm1.9 0.6h1.35v1.35h-1.35zm4.1 -0.6h1.35v1.35h-1.35zm-27.4 1.3h1.35v1.35h-1.35zm3.9 0.4h1.35v1.35h-1.35zm15.3 -0.5h1.35v1.35h-1.35zm1.8 -0.1h1.35v1.35h-1.35zm-19.2 1.4h1.35v1.35h-1.35zm1.9 -0.4h1.35v1.35h-1.35zm15.5 0.5h1.35v1.35h-1.35zm0.9 -0.5h1.35v1.35h-1.35zm1 0.4h1.35v1.35h-1.35zm-0.8 1h1.35v1.35h-1.35zm0.7 -0.5h1.35v1.35h-1.35zm1.4 0.4h1.35v1.35h-1.35zm-21.4 0.8h1.35v1.35h-1.35zm3.2 0.3h1.35v1.35h-1.35zm13.8 0.2h1.35v1.35h-1.35zm1.5 -0.7h1.35v1.35h-1.35zm-14.5 1.7h1.35v1.35h-1.35zm12.8 -0.6h1.35v1.35h-1.35zm1.2 0h1.35v1.35h-1.35zm2.5 0.5h1.35v1.35h-1.35zm-18.3 0.8h1.35v1.35h-1.35zm1.8 0.3h1.35v1.35h-1.35zm13.1 -0.6h1.35v1.35h-1.35zm3.7 0.3h1.35v1.35h-1.35zm-19.3 0.6h1.35v1.35h-1.35zm1.7 0.1h1.35v1.35h-1.35zm13.1 -0.1h1.35v1.35h-1.35zm2.8 0.6h1.35v1.35h-1.35zm2.3 -0.5h1.35v1.35h-1.35zm-19.2 1.2h1.35v1.35h-1.35zm1 0.4h1.35v1.35h-1.35zm13.7 -0.4h1.35v1.35h-1.35zm11.3 -0.4h1.35v1.35h-1.35zm-28 1.1h1.35v1.35h-1.35zm5.8 0.3h1.35v1.35h-1.35zm10.1 0.2h1.35v1.35h-1.35zm2.2 -0.5h1.35v1.35h-1.35zm-3.2 1.1h1.35v1.35h-1.35zm0.7 0h1.35v1.35h-1.35zm3.6 -0.1h1.35v1.35h-1.35zm-18.6 1.3h1.35v1.35h-1.35zm5.1 -0.3h1.35v1.35h-1.35zm1.5 0.3h1.35v1.35h-1.35zm2.5 -0.3h1.35v1.35h-1.35zm1.1 0.6h1.35v1.35h-1.35zm1.9 -0.3h1.35v1.35h-1.35zm2.4 0.2h1.35v1.35h-1.35zm1.1 -0.5h1.35v1.35h-1.35zm-14.4 1h1.35v1.35h-1.35zm4.2 0h1.35v1.35h-1.35zm1.7 0h1.35v1.35h-1.35zm0.9 0.4h1.35v1.35h-1.35zm1.5 -0.2h1.35v1.35h-1.35zm0.9 -0.2h1.35v1.35h-1.35zm0.7 0h1.35v1.35h-1.35zm4 0h1.35v1.35h-1.35zm-15.5 1.5h1.35v1.35h-1.35zm4.1 -0.5h1.35v1.35h-1.35zm1.5 0.3h1.35v1.35h-1.35zm-5.3 1.3h1.35v1.35h-1.35zm11.1 -0.2h1.35v1.35h-1.35zm5.5 -0.2h1.35v1.35h-1.35zm-7.9 1.3h1.35v1.35h-1.35zm0.4 -0.5h1.35v1.35h-1.35zm3.5 0.6h1.35v1.35h-1.35zm2.9 -0.4h1.35v1.35h-1.35zm-8.2 1.1h1.35v1.35h-1.35zm2.3 0.2h1.35v1.35h-1.35z"/><path fill="#0e5a3a" d="M50 149h1v1h-1zM49 150h3v1h-3zM47 151h5v1h-5zM46 152h6v1h-6zM45 153h7v1h-7zM44 154h8v1h-8zM43 155h9v1h-9zM42 156h9v1h-9zM41 157h10v1h-10zM40 158h11v1h-11zM39 159h12v1h-12zM38 160h12v1h-12zM38 161h12v1h-12zM37 162h13v1h-13zM37 163h13v1h-13zM37 164h13v1h-13zM37 165h12v1h-12zM36 166h13v1h-13zM36 167h13v1h-13zM35 168h2v1h-2zM39 168h10v1h-10zM35 169h13v1h-13zM35 170h13v1h-13zM35 171h6v1h-6zM42 171h6v1h-6zM34 172h14v1h-14zM34 173h14v1h-14zM34 174h6v1h-6zM41 174h7v1h-7zM34 175h14v1h-14zM33 176h3v1h-3zM37 176h7v1h-7zM45 176h2v1h-2zM33 177h14v1h-14zM33 178h14v1h-14zM33 179h9v1h-9zM43 179h4v1h-4zM32 180h5v1h-5zM38 180h2v1h-2zM41 180h6v1h-6zM32 181h8v1h-8zM41 181h6v1h-6zM32 182h4v1h-4zM37 182h10v1h-10zM32 183h12v1h-12zM45 183h2v1h-2zM32 184h15v1h-15zM32 185h14v1h-14zM32 186h15v1h-15zM31 187h16v1h-16zM31 188h15v1h-15zM31 189h15v1h-15zM31 190h15v1h-15zM31 191h15v1h-15zM32 192h14v1h-14zM31 193h15v1h-15zM31 194h15v1h-15zM30 195h16v1h-16zM30 196h16v1h-16zM30 197h16v1h-16zM30 198h15v1h-15zM30 199h15v1h-15zM30 200h15v1h-15zM30 201h15v1h-15zM30 202h15v1h-15zM30 203h15v1h-15zM30 204h14v1h-14zM30 205h14v1h-14zM30 206h14v1h-14zM30 207h14v1h-14zM30 208h14v1h-14zM30 209h13v1h-13zM31 210h12v1h-12zM31 211h12v1h-12zM31 212h11v1h-11zM32 213h8v1h-8zM41 213h1v1h-1zM33 214h8v1h-8zM34 215h2v1h-2zM37 215h4v1h-4z"/><path fill="#306aa6" d="M0 0m170.8 146.9h1.35v1.35h-1.35zm-4 1.9h1.35v1.35h-1.35zm9.6 1h1.35v1.35h-1.35zm-6.6 1h1.35v1.35h-1.35zm9 -0.1h1.35v1.35h-1.35zm-2.8 1h1.35v1.35h-1.35zm-8.5 1.2h1.35v1.35h-1.35zm3.3 -0.4h1.35v1.35h-1.35zm12 0h1.35v1.35h-1.35zm-15.6 2.6h1.35v1.35h-1.35zm1.6 0.1h1.35v1.35h-1.35zm2.2 -0.6h1.35v1.35h-1.35zm0.9 0h1.35v1.35h-1.35zm3.1 -0.2h1.35v1.35h-1.35zm4.6 0.4h1.35v1.35h-1.35zm-17.1 0.7h1.35v1.35h-1.35zm1.4 0.4h1.35v1.35h-1.35zm3.1 0.1h1.35v1.35h-1.35zm1.8 0h1.35v1.35h-1.35zm0.7 -0.5h1.35v1.35h-1.35zm1.1 0.3h1.35v1.35h-1.35zm1.2 0.1h1.35v1.35h-1.35zm0.8 -0.4h1.35v1.35h-1.35zm1.3 -0.1h1.35v1.35h-1.35zm7 0.3h1.35v1.35h-1.35zm-26.7 1.5h1.35v1.35h-1.35zm7.5 -0.1h1.35v1.35h-1.35zm2.3 -0.1h1.35v1.35h-1.35zm2.7 -0.1h1.35v1.35h-1.35zm1.1 -0.2h1.35v1.35h-1.35zm0.9 0.3h1.35v1.35h-1.35zm0.8 -0.5h1.35v1.35h-1.35zm0.9 0.4h1.35v1.35h-1.35zm1.8 -0.5h1.35v1.35h-1.35zm2.7 0.4h1.35v1.35h-1.35zm-12.8 1.1h1.35v1.35h-1.35zm1.6 0h1.35v1.35h-1.35zm2.2 0.1h1.35v1.35h-1.35zm0.8 0.2h1.35v1.35h-1.35zm1.4 -0.1h1.35v1.35h-1.35zm2.7 -0.1h1.35v1.35h-1.35zm1 0h1.35v1.35h-1.35zm0.9 0.1h1.35v1.35h-1.35zm1.1 0h1.35v1.35h-1.35zm2.8 -0.6h1.35v1.35h-1.35zm1.1 0h1.35v1.35h-1.35zm2.8 0.1h1.35v1.35h-1.35zm-17.7 1.3h1.35v1.35h-1.35zm1 0h1.35v1.35h-1.35zm0.8 0.1h1.35v1.35h-1.35zm2.6 0.1h1.35v1.35h-1.35zm1.8 0.1h1.35v1.35h-1.35zm0.9 -0.6h1.35v1.35h-1.35zm0.5 0.2h1.35v1.35h-1.35zm1.5 0h1.35v1.35h-1.35zm2.2 -0.1h1.35v1.35h-1.35zm0.8 0.3h1.35v1.35h-1.35zm0.6 -0.1h1.35v1.35h-1.35zm-12.9 0.6h1.35v1.35h-1.35zm0.9 0.5h1.35v1.35h-1.35zm1 0h1.35v1.35h-1.35zm2.1 0.1h1.35v1.35h-1.35zm0.9 -0.7h1.35v1.35h-1.35zm1.7 0.5h1.35v1.35h-1.35zm0.6 -0.5h1.35v1.35h-1.35zm3.3 0.6h1.35v1.35h-1.35zm0.5 -0.3h1.35v1.35h-1.35zm0.9 0h1.35v1.35h-1.35zm4.9 0.2h1.35v1.35h-1.35zm-20 1.3h1.35v1.35h-1.35zm5.5 -0.1h1.35v1.35h-1.35zm0.6 -0.1h1.35v1.35h-1.35zm6.2 0h1.35v1.35h-1.35zm0.8 -0.2h1.35v1.35h-1.35zm1.1 0.2h1.35v1.35h-1.35zm0.8 -0.4h1.35v1.35h-1.35zm4 -0.1h1.35v1.35h-1.35zm3.1 0.3h1.35v1.35h-1.35zm9.2 -0.2h1.35v1.35h-1.35zm-29.1 1.2h1.35v1.35h-1.35zm1.3 0.1h1.35v1.35h-1.35zm0.7 -0.1h1.35v1.35h-1.35zm1 -0.2h1.35v1.35h-1.35zm8.9 0.5h1.35v1.35h-1.35zm2.3 -0.6h1.35v1.35h-1.35zm1.4 0.4h1.35v1.35h-1.35zm-14.8 1h1.35v1.35h-1.35zm1.3 -0.1h1.35v1.35h-1.35zm0.8 -0.3h1.35v1.35h-1.35zm8.4 0.6h1.35v1.35h-1.35zm0.8 0h1.35v1.35h-1.35zm0.8 -0.4h1.35v1.35h-1.35zm1.4 0h1.35v1.35h-1.35zm4.3 0.2h1.35v1.35h-1.35zm-19.2 0.6h1.35v1.35h-1.35zm0.7 0.2h1.35v1.35h-1.35zm1.2 -0.3h1.35v1.35h-1.35zm1.7 0.2h1.35v1.35h-1.35zm8.6 0.4h1.35v1.35h-1.35zm0.5 -0.4h1.35v1.35h-1.35zm1.3 0.1h1.35v1.35h-1.35zm3.6 0.3h1.35v1.35h-1.35zm11.3 0.1h1.35v1.35h-1.35zm-31.4 0.5h1.35v1.35h-1.35zm3.4 0.5h1.35v1.35h-1.35zm1.1 -0.4h1.35v1.35h-1.35zm0.8 0.1h1.35v1.35h-1.35zm9.4 0.4h1.35v1.35h-1.35zm1.5 -0.7h1.35v1.35h-1.35zm1.8 0.3h1.35v1.35h-1.35zm1.1 -0.3h1.35v1.35h-1.35zm1.4 0.2h1.35v1.35h-1.35zm-16.8 1h1.35v1.35h-1.35zm0.2 0.4h1.35v1.35h-1.35zm2.6 -0.2h1.35v1.35h-1.35zm8.4 -0.4h1.35v1.35h-1.35zm-12.4 1.1h1.35v1.35h-1.35zm2.1 -0.1h1.35v1.35h-1.35zm0.5 0.4h1.35v1.35h-1.35zm1.5 0.1h1.35v1.35h-1.35zm0.6 -0.3h1.35v1.35h-1.35zm6 0.4h1.35v1.35h-1.35zm1.3 0h1.35v1.35h-1.35zm1.7 -0.6h1.35v1.35h-1.35zm1 0.2h1.35v1.35h-1.35zm3 0.1h1.35v1.35h-1.35zm-20.7 1h1.35v1.35h-1.35zm0.9 -0.3h1.35v1.35h-1.35zm2.3 0.1h1.35v1.35h-1.35zm1.8 0.3h1.35v1.35h-1.35zm1.1 0.3h1.35v1.35h-1.35zm1.5 -0.5h1.35v1.35h-1.35zm1.1 0.1h1.35v1.35h-1.35zm1.1 -0.3h1.35v1.35h-1.35zm1.1 0.5h1.35v1.35h-1.35zm1.5 0.1h1.35v1.35h-1.35zm1 -0.6h1.35v1.35h-1.35zm1.8 0.7h1.35v1.35h-1.35zm0.6 0h1.35v1.35h-1.35zm3.2 -0.7h1.35v1.35h-1.35zm13.1 -0.1h1.35v1.35h-1.35zm-31.2 1.4h1.35v1.35h-1.35zm3.9 -0.4h1.35v1.35h-1.35zm1.7 0.8h1.35v1.35h-1.35zm1.6 -0.6h1.35v1.35h-1.35zm0.4 0h1.35v1.35h-1.35zm1.7 0.6h1.35v1.35h-1.35zm3.3 -0.2h1.35v1.35h-1.35zm1.4 0.1h1.35v1.35h-1.35zm1.1 -0.3h1.35v1.35h-1.35zm2 0.3h1.35v1.35h-1.35zm6 -0.5h1.35v1.35h-1.35zm18.8 0.1h1.35v1.35h-1.35zm-34.2 0.8h1.35v1.35h-1.35zm1.5 0.2h1.35v1.35h-1.35zm0.5 -0.1h1.35v1.35h-1.35zm1.5 -0.1h1.35v1.35h-1.35zm1.4 0.4h1.35v1.35h-1.35zm1.5 0.1h1.35v1.35h-1.35zm0.6 -0.4h1.35v1.35h-1.35zm1.3 0.3h1.35v1.35h-1.35zm0.7 -0.1h1.35v1.35h-1.35zm3.5 0.2h1.35v1.35h-1.35zm-17.4 1h1.35v1.35h-1.35zm1.3 -0.5h1.35v1.35h-1.35zm2.5 0.2h1.35v1.35h-1.35zm1.1 -0.3h1.35v1.35h-1.35zm1 0.2h1.35v1.35h-1.35zm1.3 0.4h1.35v1.35h-1.35zm1.7 -0.5h1.35v1.35h-1.35zm1.5 0.4h1.35v1.35h-1.35zm2.1 -0.4h1.35v1.35h-1.35zm0.6 0.3h1.35v1.35h-1.35zm4.7 -0.4h1.35v1.35h-1.35zm1.9 0.7h1.35v1.35h-1.35zm-23.2 0.9h1.35v1.35h-1.35zm4.4 0h1.35v1.35h-1.35zm4.6 0.1h1.35v1.35h-1.35zm0.7 -0.6h1.35v1.35h-1.35zm0.8 0.3h1.35v1.35h-1.35zm1.2 0.1h1.35v1.35h-1.35zm1.2 -0.3h1.35v1.35h-1.35zm2.4 0.6h1.35v1.35h-1.35zm17.4 -0.6h1.35v1.35h-1.35zm-30.4 1h1.35v1.35h-1.35zm1.4 0.2h1.35v1.35h-1.35zm2.1 0.1h1.35v1.35h-1.35zm1.8 -0.4h1.35v1.35h-1.35zm2.7 0h1.35v1.35h-1.35zm2 0.1h1.35v1.35h-1.35zm2.7 0.4h1.35v1.35h-1.35zm2.5 -0.2h1.35v1.35h-1.35zm0.7 0.1h1.35v1.35h-1.35zm20.1 -0.4h1.35v1.35h-1.35zm-35.4 0.9h1.35v1.35h-1.35zm5.6 0.5h1.35v1.35h-1.35zm0.8 -0.1h1.35v1.35h-1.35zm4.4 -0.2h1.35v1.35h-1.35zm1.1 0.2h1.35v1.35h-1.35zm7.5 0.1h1.35v1.35h-1.35zm4 -0.4h1.35v1.35h-1.35zm-20.6 1.5h1.35v1.35h-1.35zm2 -0.4h1.35v1.35h-1.35zm2.2 0.1h1.35v1.35h-1.35zm0.8 -0.2h1.35v1.35h-1.35zm10.7 0.4h1.35v1.35h-1.35zm-9.9 1.2h1.35v1.35h-1.35zm9 -0.1h1.35v1.35h-1.35zm10 0h1.35v1.35h-1.35zm-27.5 1.1h1.35v1.35h-1.35zm7.6 -0.2h1.35v1.35h-1.35zm7.7 0.1h1.35v1.35h-1.35zm-20.8 0.5h1.35v1.35h-1.35zm22.1 0h1.35v1.35h-1.35zm8.9 0.1h1.35v1.35h-1.35zm-25.8 1h1.35v1.35h-1.35zm8.2 0.5h1.35v1.35h-1.35zm10 -0.7h1.35v1.35h-1.35zm2.4 0.4h1.35v1.35h-1.35zm-6.3 2.2h1.35v1.35h-1.35zm9.6 -0.2h1.35v1.35h-1.35zm12 0.2h1.35v1.35h-1.35zm-25.3 0.9h1.35v1.35h-1.35zm1.2 -0.1h1.35v1.35h-1.35zm7.8 -0.4h1.35v1.35h-1.35zm-9.1 2.8h1.35v1.35h-1.35zm6.5 -0.5h1.35v1.35h-1.35zm12.7 1.4h1.35v1.35h-1.35zm14.3 0h1.35v1.35h-1.35zm-35.2 0.9h1.35v1.35h-1.35zm4.3 2.1h1.35v1.35h-1.35zm-10.5 0.4h1.35v1.35h-1.35zm14.6 0.6h1.35v1.35h-1.35zm3.8 0h1.35v1.35h-1.35zm-18.7 1h1.35v1.35h-1.35zm9.6 -0.6h1.35v1.35h-1.35zm-13.9 1.6h1.35v1.35h-1.35zm3.1 -0.3h1.35v1.35h-1.35zm7.1 -0.1h1.35v1.35h-1.35zm15.8 0.5h1.35v1.35h-1.35zm23.7 -0.4h1.35v1.35h-1.35zm-37 1.1h1.35v1.35h-1.35zm1.2 -0.4h1.35v1.35h-1.35zm2 0h1.35v1.35h-1.35zm17.9 0.7h1.35v1.35h-1.35zm-28.8 0.8h1.35v1.35h-1.35zm19.6 -0.2h1.35v1.35h-1.35zm-13.9 1h1.35v1.35h-1.35zm23 -0.2h1.35v1.35h-1.35zm-28.1 1.3h1.35v1.35h-1.35zm12.4 -0.4h1.35v1.35h-1.35zm6.6 1.4h1.35v1.35h-1.35zm-14.9 1.3h1.35v1.35h-1.35zm5.5 -0.1h1.35v1.35h-1.35zm8.7 0.1h1.35v1.35h-1.35zm4.1 -0.7h1.35v1.35h-1.35zm-9 1.7h1.35v1.35h-1.35zm0.8 0h1.35v1.35h-1.35zm2.9 -0.6h1.35v1.35h-1.35zm20.1 -0.1h1.35v1.35h-1.35zm-19.2 1.3h1.35v1.35h-1.35zm18.3 -0.1h1.35v1.35h-1.35zm2.2 0.1h1.35v1.35h-1.35zm-22.5 1h1.35v1.35h-1.35zm-12.8 2.8h1.35v1.35h-1.35zm19.1 -0.1h1.35v1.35h-1.35zm-12.3 1.1h1.35v1.35h-1.35zm5.6 0.8h1.35v1.35h-1.35zm-9.3 4.2h1.35v1.35h-1.35zm12.6 0.2h1.35v1.35h-1.35zm-13.5 1.3h1.35v1.35h-1.35zm14 0.4h1.35v1.35h-1.35zm-16.7 1.2h1.35v1.35h-1.35zm11 0.9h1.35v1.35h-1.35zm-2.1 1.1h1.35v1.35h-1.35zm-10 3h1.35v1.35h-1.35zm4 4.2h1.35v1.35h-1.35zm0.4 0.1h1.35v1.35h-1.35z"/><path fill="#2a74b8" d="M167 161h5v1h-5zM166 162h2v1h-2zM169 162h4v1h-4zM166 163h7v1h-7zM166 164h7v1h-7zM166 165h7v1h-7zM166 166h7v1h-7zM167 167h5v1h-5z"/><path fill="#1f5740" d="M0 0m365.7 138.1h1.35v1.35h-1.35zm7.3 0.4h1.35v1.35h-1.35zm-3.3 1.7h1.35v1.35h-1.35zm4.4 -0.3h1.35v1.35h-1.35zm3.1 -0.4h1.35v1.35h-1.35zm-15 1.2h1.35v1.35h-1.35zm1.3 1.1h1.35v1.35h-1.35zm0.9 -0.1h1.35v1.35h-1.35zm3.4 0h1.35v1.35h-1.35zm4.3 0.2h1.35v1.35h-1.35zm0.6 0h1.35v1.35h-1.35zm-6.8 0.6h1.35v1.35h-1.35zm-37.2 1.1h1.35v1.35h-1.35zm39.9 0h1.35v1.35h-1.35zm-6.9 1.5h1.35v1.35h-1.35zm2.4 0.1h1.35v1.35h-1.35zm1.7 -0.2h1.35v1.35h-1.35zm3.2 -0.6h1.35v1.35h-1.35zm-22.6 1.7h1.35v1.35h-1.35zm7 -0.4h1.35v1.35h-1.35zm6.3 0.2h1.35v1.35h-1.35zm1 -0.2h1.35v1.35h-1.35zm4.8 -0.1h1.35v1.35h-1.35zm1.1 0.2h1.35v1.35h-1.35zm4.6 -0.1h1.35v1.35h-1.35zm-16.7 1.5h1.35v1.35h-1.35zm10.5 -0.2h1.35v1.35h-1.35zm3.2 0h1.35v1.35h-1.35zm1.8 -0.5h1.35v1.35h-1.35zm0.6 0.2h1.35v1.35h-1.35zm0.9 -0.1h1.35v1.35h-1.35zm-5.6 1.2h1.35v1.35h-1.35zm0.8 0.2h1.35v1.35h-1.35zm6.5 0h1.35v1.35h-1.35zm3 -0.2h1.35v1.35h-1.35zm-49.2 0.9h1.35v1.35h-1.35zm5 -0.2h1.35v1.35h-1.35zm15.2 0.4h1.35v1.35h-1.35zm1.8 -0.2h1.35v1.35h-1.35zm12.6 0.2h1.35v1.35h-1.35zm1.5 -0.1h1.35v1.35h-1.35zm1 -0.3h1.35v1.35h-1.35zm-42.4 1.2h1.35v1.35h-1.35zm9.9 -0.2h1.35v1.35h-1.35zm14.3 0.4h1.35v1.35h-1.35zm18 0h1.35v1.35h-1.35zm-32.1 0.8h1.35v1.35h-1.35zm2.1 -0.2h1.35v1.35h-1.35zm15 0.1h1.35v1.35h-1.35zm16.9 0.5h1.35v1.35h-1.35zm1 -0.3h1.35v1.35h-1.35zm-57.6 1.2h1.35v1.35h-1.35zm34.9 0.1h1.35v1.35h-1.35zm8.4 -0.3h1.35v1.35h-1.35zm11.2 0.1h1.35v1.35h-1.35zm-17.7 1.2h1.35v1.35h-1.35zm16.6 -0.5h1.35v1.35h-1.35zm-20.7 0.9h1.35v1.35h-1.35zm6 0h1.35v1.35h-1.35zm2.2 0.7h1.35v1.35h-1.35zm-21 0.8h1.35v1.35h-1.35zm16.7 0.1h1.35v1.35h-1.35zm7.6 0h1.35v1.35h-1.35zm-4.7 0.5h1.35v1.35h-1.35zm3.3 -0.1h1.35v1.35h-1.35zm3.2 0.3h1.35v1.35h-1.35zm-0.7 1h1.35v1.35h-1.35zm-21.9 1.1h1.35v1.35h-1.35zm4.2 0.1h1.35v1.35h-1.35zm2.8 -0.3h1.35v1.35h-1.35zm11.5 0h1.35v1.35h-1.35zm7.1 -0.1h1.35v1.35h-1.35zm-40.3 1.6h1.35v1.35h-1.35zm23.7 -0.7h1.35v1.35h-1.35zm4.4 0.6h1.35v1.35h-1.35zm1.4 -0.3h1.35v1.35h-1.35zm1.2 -0.2h1.35v1.35h-1.35zm3 -0.1h1.35v1.35h-1.35zm14.4 0.3h1.35v1.35h-1.35zm-35.2 1.2h1.35v1.35h-1.35zm11.8 -0.3h1.35v1.35h-1.35zm2.9 0.4h1.35v1.35h-1.35zm11.3 -0.4h1.35v1.35h-1.35zm-27.2 1.2h1.35v1.35h-1.35zm9.2 -0.2h1.35v1.35h-1.35zm10.7 -0.3h1.35v1.35h-1.35zm1.2 0.6h1.35v1.35h-1.35zm1 -0.1h1.35v1.35h-1.35zm2.2 0.3h1.35v1.35h-1.35zm10.9 -0.7h1.35v1.35h-1.35zm6 0.2h1.35v1.35h-1.35zm-26.7 1h1.35v1.35h-1.35zm1.3 0.4h1.35v1.35h-1.35zm5.5 0h1.35v1.35h-1.35zm4.9 -0.1h1.35v1.35h-1.35zm-47.7 0.7h1.35v1.35h-1.35zm32.7 -0.1h1.35v1.35h-1.35zm0.7 0.5h1.35v1.35h-1.35zm-9.6 0.6h1.35v1.35h-1.35zm3.7 0.3h1.35v1.35h-1.35zm7.1 -0.3h1.35v1.35h-1.35zm2.8 -0.1h1.35v1.35h-1.35zm13.4 0.3h1.35v1.35h-1.35zm2.8 -0.2h1.35v1.35h-1.35zm9.1 0.2h1.35v1.35h-1.35zm-41.3 1.1h1.35v1.35h-1.35zm3.1 -0.6h1.35v1.35h-1.35zm1.3 0.8h1.35v1.35h-1.35zm0.9 -0.1h1.35v1.35h-1.35zm3.8 -0.7h1.35v1.35h-1.35zm0.8 0.2h1.35v1.35h-1.35zm4.4 0.6h1.35v1.35h-1.35zm2 -0.1h1.35v1.35h-1.35zm0.7 0h1.35v1.35h-1.35zm3.4 -0.2h1.35v1.35h-1.35zm2.6 -0.1h1.35v1.35h-1.35zm4.2 0.2h1.35v1.35h-1.35zm6.3 -0.5h1.35v1.35h-1.35zm-34.4 1.5h1.35v1.35h-1.35zm3.3 -0.5h1.35v1.35h-1.35zm5.2 0.3h1.35v1.35h-1.35zm0.9 0.4h1.35v1.35h-1.35zm3.9 -0.5h1.35v1.35h-1.35zm1.6 0h1.35v1.35h-1.35zm1 -0.3h1.35v1.35h-1.35zm1.7 0.1h1.35v1.35h-1.35zm4.7 0.2h1.35v1.35h-1.35zm0.8 0h1.35v1.35h-1.35zm1.9 0.2h1.35v1.35h-1.35zm12.3 -0.3h1.35v1.35h-1.35zm8.2 0.4h1.35v1.35h-1.35zm-29.3 0.6h1.35v1.35h-1.35zm3.1 0.5h1.35v1.35h-1.35zm1 0.1h1.35v1.35h-1.35zm7.9 -0.5h1.35v1.35h-1.35zm-43.2 0.7h1.35v1.35h-1.35zm11.9 0.6h1.35v1.35h-1.35zm10.3 0h1.35v1.35h-1.35zm1 -0.4h1.35v1.35h-1.35zm2.7 0.6h1.35v1.35h-1.35zm1.4 -0.1h1.35v1.35h-1.35zm2.6 -0.2h1.35v1.35h-1.35zm1.5 -0.2h1.35v1.35h-1.35zm0.4 0.4h1.35v1.35h-1.35zm6.1 0h1.35v1.35h-1.35zm7.3 -0.5h1.35v1.35h-1.35zm-49.7 1.5h1.35v1.35h-1.35zm3.4 -0.1h1.35v1.35h-1.35zm12.6 -0.1h1.35v1.35h-1.35zm1.8 0.1h1.35v1.35h-1.35zm6.2 0.1h1.35v1.35h-1.35zm2 -0.5h1.35v1.35h-1.35zm5 0h1.35v1.35h-1.35zm1.8 0h1.35v1.35h-1.35zm0.8 0.3h1.35v1.35h-1.35zm1.1 -0.3h1.35v1.35h-1.35zm1 -0.1h1.35v1.35h-1.35zm2.1 0.6h1.35v1.35h-1.35zm4.1 -0.3h1.35v1.35h-1.35zm5.8 -0.2h1.35v1.35h-1.35zm2.6 -0.1h1.35v1.35h-1.35zm-44.8 0.9h1.35v1.35h-1.35zm24.3 0.4h1.35v1.35h-1.35zm1 0.3h1.35v1.35h-1.35zm0.7 -0.3h1.35v1.35h-1.35zm1.4 -0.3h1.35v1.35h-1.35zm0.9 0.5h1.35v1.35h-1.35zm1 -0.2h1.35v1.35h-1.35zm1.1 0.2h1.35v1.35h-1.35zm2.1 -0.3h1.35v1.35h-1.35zm9 0.3h1.35v1.35h-1.35zm-47.1 1h1.35v1.35h-1.35zm21.1 0.2h1.35v1.35h-1.35zm3.6 -0.5h1.35v1.35h-1.35zm0.7 -0.3h1.35v1.35h-1.35zm2.1 0.2h1.35v1.35h-1.35zm2.3 0.6h1.35v1.35h-1.35zm0.7 -0.1h1.35v1.35h-1.35zm1.5 -0.5h1.35v1.35h-1.35zm0.5 -0.1h1.35v1.35h-1.35zm2.3 -0.1h1.35v1.35h-1.35zm1.9 0.5h1.35v1.35h-1.35zm2.2 -0.4h1.35v1.35h-1.35zm2.2 0.1h1.35v1.35h-1.35zm0.6 0.3h1.35v1.35h-1.35zm12.5 0.3h1.35v1.35h-1.35zm-59.6 0.4h1.35v1.35h-1.35zm14.3 -0.2h1.35v1.35h-1.35zm4.6 0.2h1.35v1.35h-1.35zm3.6 0.4h1.35v1.35h-1.35zm1.6 0.2h1.35v1.35h-1.35zm2 -0.2h1.35v1.35h-1.35zm2.7 -0.2h1.35v1.35h-1.35zm2.1 0.2h1.35v1.35h-1.35zm1.7 0h1.35v1.35h-1.35zm3.8 -0.1h1.35v1.35h-1.35zm1.2 0.3h1.35v1.35h-1.35zm0.4 -0.4h1.35v1.35h-1.35zm1.2 -0.2h1.35v1.35h-1.35zm1.3 0.4h1.35v1.35h-1.35zm0.4 0.2h1.35v1.35h-1.35zm3.7 -0.2h1.35v1.35h-1.35zm0.8 0.2h1.35v1.35h-1.35zm-50.4 0.6h1.35v1.35h-1.35zm11 0h1.35v1.35h-1.35zm8.6 0.1h1.35v1.35h-1.35zm1 0h1.35v1.35h-1.35zm3.4 -0.3h1.35v1.35h-1.35zm1.2 -0.1h1.35v1.35h-1.35zm7.2 0h1.35v1.35h-1.35zm3 0.4h1.35v1.35h-1.35zm0.5 -0.2h1.35v1.35h-1.35zm1.1 0.4h1.35v1.35h-1.35zm2.5 0h1.35v1.35h-1.35zm0.8 0h1.35v1.35h-1.35zm1.6 -0.5h1.35v1.35h-1.35zm1.3 0.3h1.35v1.35h-1.35zm3.1 -0.4h1.35v1.35h-1.35zm1.5 0.1h1.35v1.35h-1.35zm2.3 0.3h1.35v1.35h-1.35zm0.8 -0.4h1.35v1.35h-1.35zm-54.8 1.6h1.35v1.35h-1.35zm17.9 -0.5h1.35v1.35h-1.35zm3.4 0.4h1.35v1.35h-1.35zm7.7 0.1h1.35v1.35h-1.35zm3.4 0.1h1.35v1.35h-1.35zm0.5 -0.2h1.35v1.35h-1.35zm1.2 0.2h1.35v1.35h-1.35zm3.7 -0.6h1.35v1.35h-1.35zm1.2 0.3h1.35v1.35h-1.35zm1.5 0.1h1.35v1.35h-1.35zm1 -0.2h1.35v1.35h-1.35zm0.6 -0.1h1.35v1.35h-1.35zm2.2 -0.1h1.35v1.35h-1.35zm0.6 -0.1h1.35v1.35h-1.35zm1.5 0.6h1.35v1.35h-1.35zm0.7 -0.4h1.35v1.35h-1.35zm2.2 0h1.35v1.35h-1.35zm0.8 0.3h1.35v1.35h-1.35zm1.1 -0.1h1.35v1.35h-1.35zm1.1 -0.1h1.35v1.35h-1.35zm0.7 -0.2h1.35v1.35h-1.35zm4 0.6h1.35v1.35h-1.35zm7.1 -0.6h1.35v1.35h-1.35zm-50.1 1.4h1.35v1.35h-1.35zm5.2 0.1h1.35v1.35h-1.35zm1 -0.6h1.35v1.35h-1.35zm4.2 0.2h1.35v1.35h-1.35zm1.8 0.5h1.35v1.35h-1.35zm1.1 -0.4h1.35v1.35h-1.35zm2.1 0.1h1.35v1.35h-1.35zm0.9 0.3h1.35v1.35h-1.35zm2.1 -0.2h1.35v1.35h-1.35zm2.4 -0.2h1.35v1.35h-1.35zm1.2 -0.1h1.35v1.35h-1.35zm1.3 0.4h1.35v1.35h-1.35zm1 -0.4h1.35v1.35h-1.35zm1 -0.2h1.35v1.35h-1.35zm0.8 0.3h1.35v1.35h-1.35zm1.4 0.2h1.35v1.35h-1.35zm1.3 -0.3h1.35v1.35h-1.35zm1.3 -0.1h1.35v1.35h-1.35zm1.3 -0.1h1.35v1.35h-1.35zm1.4 0.3h1.35v1.35h-1.35zm1.3 -0.3h1.35v1.35h-1.35zm2.8 0h1.35v1.35h-1.35zm1.1 0.2h1.35v1.35h-1.35zm2.4 0.3h1.35v1.35h-1.35zm1 -0.6h1.35v1.35h-1.35zm-46 1.2h1.35v1.35h-1.35zm8.1 0.6h1.35v1.35h-1.35zm0.4 -0.1h1.35v1.35h-1.35zm6.4 0.1h1.35v1.35h-1.35zm1.1 -0.1h1.35v1.35h-1.35zm0.7 -0.4h1.35v1.35h-1.35zm3.1 -0.1h1.35v1.35h-1.35zm1.5 -0.1h1.35v1.35h-1.35zm3.7 0.3h1.35v1.35h-1.35zm0.6 -0.3h1.35v1.35h-1.35zm0.9 0.2h1.35v1.35h-1.35zm0.9 -0.2h1.35v1.35h-1.35zm3.2 0.6h1.35v1.35h-1.35zm1.4 0.1h1.35v1.35h-1.35zm0.9 -0.3h1.35v1.35h-1.35zm1.5 -0.3h1.35v1.35h-1.35zm2.3 0.6h1.35v1.35h-1.35zm0.8 -0.7h1.35v1.35h-1.35zm0.9 0.1h1.35v1.35h-1.35zm1.2 0.1h1.35v1.35h-1.35zm2.8 0.2h1.35v1.35h-1.35zm2.1 -0.3h1.35v1.35h-1.35zm1.3 0.1h1.35v1.35h-1.35zm0.7 0.5h1.35v1.35h-1.35zm1.2 -0.4h1.35v1.35h-1.35zm8 0.1h1.35v1.35h-1.35zm7.4 0.2h1.35v1.35h-1.35zm-58.7 0.9h1.35v1.35h-1.35zm2.7 -0.2h1.35v1.35h-1.35zm1.6 -0.1h1.35v1.35h-1.35zm0.7 -0.2h1.35v1.35h-1.35zm1.2 0h1.35v1.35h-1.35zm1.4 0.6h1.35v1.35h-1.35zm0.6 -0.5h1.35v1.35h-1.35zm1.2 0.5h1.35v1.35h-1.35zm4 -0.5h1.35v1.35h-1.35zm1.7 0.3h1.35v1.35h-1.35zm1.5 0.1h1.35v1.35h-1.35zm0.6 0.1h1.35v1.35h-1.35zm2 0h1.35v1.35h-1.35zm2.3 0h1.35v1.35h-1.35zm0.5 -0.5h1.35v1.35h-1.35zm4.6 0.1h1.35v1.35h-1.35zm2.5 0.5h1.35v1.35h-1.35zm1.5 -0.1h1.35v1.35h-1.35zm3.5 0.1h1.35v1.35h-1.35zm0.9 -0.1h1.35v1.35h-1.35zm1.6 -0.3h1.35v1.35h-1.35zm0.9 0.1h1.35v1.35h-1.35zm1.2 0.2h1.35v1.35h-1.35zm0.4 -0.4h1.35v1.35h-1.35zm-44.5 1.5h1.35v1.35h-1.35zm4.8 0h1.35v1.35h-1.35zm2.3 -0.2h1.35v1.35h-1.35zm0.6 -0.1h1.35v1.35h-1.35zm0.8 0.3h1.35v1.35h-1.35zm0.9 -0.1h1.35v1.35h-1.35zm9.7 -0.5h1.35v1.35h-1.35zm0.7 0h1.35v1.35h-1.35zm1.7 0h1.35v1.35h-1.35zm1.2 0.4h1.35v1.35h-1.35zm0.7 -0.5h1.35v1.35h-1.35zm3 0.6h1.35v1.35h-1.35zm1.6 -0.1h1.35v1.35h-1.35zm0.7 -0.3h1.35v1.35h-1.35zm0.9 -0.2h1.35v1.35h-1.35zm1.3 0.3h1.35v1.35h-1.35zm0.7 -0.2h1.35v1.35h-1.35zm2.4 0.5h1.35v1.35h-1.35zm1 -0.5h1.35v1.35h-1.35zm0.6 0.6h1.35v1.35h-1.35zm1.9 -0.2h1.35v1.35h-1.35zm1 -0.4h1.35v1.35h-1.35zm1.2 0.2h1.35v1.35h-1.35zm0.8 -0.2h1.35v1.35h-1.35zm2 0.5h1.35v1.35h-1.35zm2.3 -0.6h1.35v1.35h-1.35zm-43.1 1.7h1.35v1.35h-1.35zm2.2 0h1.35v1.35h-1.35zm2.6 -0.2h1.35v1.35h-1.35zm12.3 -0.1h1.35v1.35h-1.35zm0.8 0h1.35v1.35h-1.35zm1.5 0h1.35v1.35h-1.35zm0.7 0h1.35v1.35h-1.35zm3.2 -0.2h1.35v1.35h-1.35zm0.7 0.1h1.35v1.35h-1.35zm0.8 0.3h1.35v1.35h-1.35zm1.6 -0.1h1.35v1.35h-1.35zm0.8 0h1.35v1.35h-1.35zm2.9 -0.5h1.35v1.35h-1.35zm1.1 0.2h1.35v1.35h-1.35zm2.2 0.2h1.35v1.35h-1.35zm0.4 -0.3h1.35v1.35h-1.35zm2.5 0.4h1.35v1.35h-1.35zm1.5 -0.6h1.35v1.35h-1.35zm0.9 0.6h1.35v1.35h-1.35zm1 0h1.35v1.35h-1.35zm1.7 0.1h1.35v1.35h-1.35zm2.6 -0.1h1.35v1.35h-1.35zm4.1 -0.1h1.35v1.35h-1.35zm-44.1 1.3h1.35v1.35h-1.35zm13.2 -0.6h1.35v1.35h-1.35zm1.2 -0.1h1.35v1.35h-1.35zm1.5 0.2h1.35v1.35h-1.35zm2 -0.2h1.35v1.35h-1.35zm1.4 0.3h1.35v1.35h-1.35zm0.8 0.3h1.35v1.35h-1.35zm1.8 -0.1h1.35v1.35h-1.35zm1.4 -0.2h1.35v1.35h-1.35zm2.9 -0.3h1.35v1.35h-1.35zm0.6 0.2h1.35v1.35h-1.35zm1.1 0.3h1.35v1.35h-1.35zm1.4 -0.1h1.35v1.35h-1.35zm1.4 -0.4h1.35v1.35h-1.35zm1.3 0h1.35v1.35h-1.35zm2.1 0.3h1.35v1.35h-1.35zm2.1 0.2h1.35v1.35h-1.35zm0.8 -0.1h1.35v1.35h-1.35zm0.8 0.3h1.35v1.35h-1.35zm3.3 -0.6h1.35v1.35h-1.35zm-48.8 1.5h1.35v1.35h-1.35zm0.9 -0.3h1.35v1.35h-1.35zm0.8 -0.4h1.35v1.35h-1.35zm2.2 0.8h1.35v1.35h-1.35zm0.8 -0.2h1.35v1.35h-1.35zm0.9 -0.1h1.35v1.35h-1.35zm16.5 -0.1h1.35v1.35h-1.35zm1 -0.3h1.35v1.35h-1.35zm0.9 0.1h1.35v1.35h-1.35zm2.7 0.1h1.35v1.35h-1.35zm2.4 0.3h1.35v1.35h-1.35zm1.2 -0.5h1.35v1.35h-1.35zm2.7 0.6h1.35v1.35h-1.35zm1.4 -0.4h1.35v1.35h-1.35zm2.6 0.4h1.35v1.35h-1.35zm2.9 -0.5h1.35v1.35h-1.35zm1.1 0.6h1.35v1.35h-1.35zm0.3 -0.2h1.35v1.35h-1.35zm1.3 -0.3h1.35v1.35h-1.35zm2.1 0.4h1.35v1.35h-1.35zm1.9 0.1h1.35v1.35h-1.35zm-42.9 0.2h1.35v1.35h-1.35zm0.8 0.7h1.35v1.35h-1.35zm17.1 -0.6h1.35v1.35h-1.35zm0.9 -0.1h1.35v1.35h-1.35zm1 0.1h1.35v1.35h-1.35zm1.1 0.3h1.35v1.35h-1.35zm1.2 0.1h1.35v1.35h-1.35zm1.2 -0.4h1.35v1.35h-1.35zm1.1 0.2h1.35v1.35h-1.35zm1.8 0.1h1.35v1.35h-1.35zm1.6 -0.2h1.35v1.35h-1.35zm1.5 0h1.35v1.35h-1.35zm2.5 0.2h1.35v1.35h-1.35zm0.9 0.1h1.35v1.35h-1.35zm1.1 0.2h1.35v1.35h-1.35zm1.4 -0.7h1.35v1.35h-1.35zm0.6 0.2h1.35v1.35h-1.35zm1.5 0.4h1.35v1.35h-1.35zm0.5 0.2h1.35v1.35h-1.35zm1.3 -0.3h1.35v1.35h-1.35zm0.7 -0.2h1.35v1.35h-1.35zm1.6 -0.1h1.35v1.35h-1.35zm8 0h1.35v1.35h-1.35zm-53.2 1.3h1.35v1.35h-1.35zm22.5 -0.1h1.35v1.35h-1.35zm1.3 0h1.35v1.35h-1.35zm1.8 0.4h1.35v1.35h-1.35zm0.9 -0.8h1.35v1.35h-1.35zm1 0.3h1.35v1.35h-1.35zm1.1 -0.1h1.35v1.35h-1.35zm1.8 0.3h1.35v1.35h-1.35zm1.6 0.1h1.35v1.35h-1.35zm1.4 -0.2h1.35v1.35h-1.35zm1.5 -0.3h1.35v1.35h-1.35zm0.6 0.3h1.35v1.35h-1.35zm2.1 0.4h1.35v1.35h-1.35zm0.9 -0.1h1.35v1.35h-1.35zm1.4 0h1.35v1.35h-1.35zm0.8 -0.1h1.35v1.35h-1.35zm1.1 -0.5h1.35v1.35h-1.35zm1.1 0.5h1.35v1.35h-1.35zm3.9 0h1.35v1.35h-1.35zm5.8 0.2h1.35v1.35h-1.35zm-56.1 0.4h1.35v1.35h-1.35zm5.4 0.5h1.35v1.35h-1.35zm19.7 -0.4h1.35v1.35h-1.35zm0.9 0.4h1.35v1.35h-1.35zm3.3 -0.6h1.35v1.35h-1.35zm0.9 0.7h1.35v1.35h-1.35zm1 -0.4h1.35v1.35h-1.35zm1.5 -0.3h1.35v1.35h-1.35zm0.6 0.2h1.35v1.35h-1.35zm0.8 0.2h1.35v1.35h-1.35zm1.6 -0.3h1.35v1.35h-1.35zm0.7 0.3h1.35v1.35h-1.35zm6.9 -0.2h1.35v1.35h-1.35zm2 0.1h1.35v1.35h-1.35zm3.1 0.4h1.35v1.35h-1.35zm-46.4 0.9h1.35v1.35h-1.35zm1.7 -0.7h1.35v1.35h-1.35zm21.8 0.3h1.35v1.35h-1.35zm1.8 -0.2h1.35v1.35h-1.35zm0.7 0.1h1.35v1.35h-1.35zm1.2 -0.1h1.35v1.35h-1.35zm2.1 0.7h1.35v1.35h-1.35zm2.3 -0.2h1.35v1.35h-1.35zm1.4 -0.5h1.35v1.35h-1.35zm4.2 0.2h1.35v1.35h-1.35zm1.3 0h1.35v1.35h-1.35zm1.2 0.1h1.35v1.35h-1.35zm0.4 -0.3h1.35v1.35h-1.35zm4 0.6h1.35v1.35h-1.35zm1.6 0.1h1.35v1.35h-1.35zm0.4 -0.7h1.35v1.35h-1.35zm1.3 0.6h1.35v1.35h-1.35zm-51.9 1h1.35v1.35h-1.35zm0.9 -0.6h1.35v1.35h-1.35zm3 0.5h1.35v1.35h-1.35zm1.1 -0.6h1.35v1.35h-1.35zm0.9 0.3h1.35v1.35h-1.35zm20.6 0.3h1.35v1.35h-1.35zm1.1 0.1h1.35v1.35h-1.35zm1.5 -0.7h1.35v1.35h-1.35zm0.5 0.4h1.35v1.35h-1.35zm1.1 0.1h1.35v1.35h-1.35zm0.9 0.1h1.35v1.35h-1.35zm1.6 -0.2h1.35v1.35h-1.35zm0.9 0.1h1.35v1.35h-1.35zm4.1 -0.3h1.35v1.35h-1.35zm0.6 0h1.35v1.35h-1.35zm0.7 0.3h1.35v1.35h-1.35zm1.3 -0.2h1.35v1.35h-1.35zm1 0.3h1.35v1.35h-1.35zm0.7 -0.2h1.35v1.35h-1.35zm1.1 -0.1h1.35v1.35h-1.35zm1.2 0.5h1.35v1.35h-1.35zm1.2 -0.5h1.35v1.35h-1.35zm1.6 0.3h1.35v1.35h-1.35zm1.8 -0.1h1.35v1.35h-1.35zm3.8 0.2h1.35v1.35h-1.35zm-49.7 0.5h1.35v1.35h-1.35zm1 -0.2h1.35v1.35h-1.35zm23.5 0h1.35v1.35h-1.35zm0.6 0.3h1.35v1.35h-1.35zm1.4 0.2h1.35v1.35h-1.35zm1.7 -0.1h1.35v1.35h-1.35zm1.3 0.4h1.35v1.35h-1.35zm0.6 -0.2h1.35v1.35h-1.35zm0.9 -0.3h1.35v1.35h-1.35zm2.5 0.3h1.35v1.35h-1.35zm1 -0.2h1.35v1.35h-1.35zm1.6 -0.3h1.35v1.35h-1.35zm2.9 0.2h1.35v1.35h-1.35zm9.2 -0.1h1.35v1.35h-1.35zm-49.1 1.6h1.35v1.35h-1.35zm0.9 -0.4h1.35v1.35h-1.35zm1.1 0.1h1.35v1.35h-1.35zm23.1 -0.4h1.35v1.35h-1.35zm0.9 0h1.35v1.35h-1.35zm1.5 0.7h1.35v1.35h-1.35zm0.9 -0.2h1.35v1.35h-1.35zm0.9 -0.3h1.35v1.35h-1.35zm0.8 0h1.35v1.35h-1.35zm1.1 -0.1h1.35v1.35h-1.35zm3.9 0.5h1.35v1.35h-1.35zm1.2 -0.3h1.35v1.35h-1.35zm1.8 -0.1h1.35v1.35h-1.35zm3.5 0.5h1.35v1.35h-1.35zm1.4 -0.1h1.35v1.35h-1.35zm-44.7 1h1.35v1.35h-1.35zm3 0h1.35v1.35h-1.35zm23.2 -0.1h1.35v1.35h-1.35zm0.8 -0.3h1.35v1.35h-1.35zm2 0h1.35v1.35h-1.35zm1.5 0.4h1.35v1.35h-1.35zm1.5 -0.2h1.35v1.35h-1.35zm2.7 0h1.35v1.35h-1.35zm2.4 0h1.35v1.35h-1.35zm1.9 0.1h1.35v1.35h-1.35zm1.1 0.1h1.35v1.35h-1.35zm2.5 -0.5h1.35v1.35h-1.35zm2 0.1h1.35v1.35h-1.35zm-41.4 1.1h1.35v1.35h-1.35zm22.9 -0.1h1.35v1.35h-1.35zm0.8 0.2h1.35v1.35h-1.35zm2.4 0.3h1.35v1.35h-1.35zm0.5 -0.7h1.35v1.35h-1.35zm1.4 0h1.35v1.35h-1.35zm2 0.1h1.35v1.35h-1.35zm1 -0.2h1.35v1.35h-1.35zm1.1 0.1h1.35v1.35h-1.35zm0.4 0.3h1.35v1.35h-1.35zm0.9 0.1h1.35v1.35h-1.35zm2.6 -0.5h1.35v1.35h-1.35zm4.1 0.7h1.35v1.35h-1.35zm-47.3 0.4h1.35v1.35h-1.35zm4.1 0h1.35v1.35h-1.35zm1.1 0.6h1.35v1.35h-1.35zm23.7 -0.5h1.35v1.35h-1.35zm3.1 0.3h1.35v1.35h-1.35zm1.3 0h1.35v1.35h-1.35zm1.2 0h1.35v1.35h-1.35zm1.5 -0.2h1.35v1.35h-1.35zm2.3 0.3h1.35v1.35h-1.35zm0.6 -0.3h1.35v1.35h-1.35zm2.1 0.2h1.35v1.35h-1.35zm4.9 -0.5h1.35v1.35h-1.35zm12.7 0.8h1.35v1.35h-1.35zm-52.3 0.6h1.35v1.35h-1.35zm22.7 0.1h1.35v1.35h-1.35zm0.7 -0.4h1.35v1.35h-1.35zm1.4 0.4h1.35v1.35h-1.35zm0.4 -0.3h1.35v1.35h-1.35zm3.8 0.4h1.35v1.35h-1.35zm2.5 -0.3h1.35v1.35h-1.35zm1.2 0.3h1.35v1.35h-1.35zm0.7 -0.1h1.35v1.35h-1.35zm4 0.3h1.35v1.35h-1.35zm5.4 -0.2h1.35v1.35h-1.35zm-48.1 1.2h1.35v1.35h-1.35zm1.8 0h1.35v1.35h-1.35zm2.2 -0.3h1.35v1.35h-1.35zm24.2 0.2h1.35v1.35h-1.35zm4.4 0h1.35v1.35h-1.35zm1.7 -0.1h1.35v1.35h-1.35zm6.4 0.2h1.35v1.35h-1.35zm0.9 0h1.35v1.35h-1.35zm2.2 0h1.35v1.35h-1.35zm4.5 -0.2h1.35v1.35h-1.35zm-49.5 1h1.35v1.35h-1.35zm2.8 -0.2h1.35v1.35h-1.35zm1.7 -0.2h1.35v1.35h-1.35zm24.8 -0.2h1.35v1.35h-1.35zm1.1 0.1h1.35v1.35h-1.35zm0.8 0.6h1.35v1.35h-1.35zm2.1 -0.6h1.35v1.35h-1.35zm2.8 -0.1h1.35v1.35h-1.35zm-32.7 1.7h1.35v1.35h-1.35zm0.9 -0.1h1.35v1.35h-1.35zm24.2 -0.4h1.35v1.35h-1.35zm0.5 0.1h1.35v1.35h-1.35zm1.4 -0.1h1.35v1.35h-1.35zm1.1 0.1h1.35v1.35h-1.35zm4.9 0.2h1.35v1.35h-1.35zm1.4 -0.4h1.35v1.35h-1.35zm1.3 0h1.35v1.35h-1.35zm-34.8 1.3h1.35v1.35h-1.35zm26.6 0.2h1.35v1.35h-1.35zm4.4 -0.5h1.35v1.35h-1.35zm16.7 0.7h1.35v1.35h-1.35zm16.9 -0.1h1.35v1.35h-1.35zm-71 0.4h1.35v1.35h-1.35zm5.8 0.5h1.35v1.35h-1.35zm24.5 0.1h1.35v1.35h-1.35zm1.1 -0.5h1.35v1.35h-1.35zm1.2 0h1.35v1.35h-1.35zm-26.6 1h1.35v1.35h-1.35zm23.5 0h1.35v1.35h-1.35zm0.4 -0.2h1.35v1.35h-1.35zm4.4 0.8h1.35v1.35h-1.35zm0.7 -0.3h1.35v1.35h-1.35zm3.2 0.3h1.35v1.35h-1.35zm7.8 0h1.35v1.35h-1.35zm5.2 -0.7h1.35v1.35h-1.35zm-45.8 1.1h1.35v1.35h-1.35zm0.6 0.1h1.35v1.35h-1.35zm27.6 0.1h1.35v1.35h-1.35zm10.8 -0.2h1.35v1.35h-1.35zm-38.8 1.3h1.35v1.35h-1.35zm0.6 0.1h1.35v1.35h-1.35zm-6.2 1.1h1.35v1.35h-1.35zm28.1 -0.2h1.35v1.35h-1.35zm3 0.2h1.35v1.35h-1.35zm-24.9 1.1h1.35v1.35h-1.35zm21.2 -0.2h1.35v1.35h-1.35zm3.4 -0.1h1.35v1.35h-1.35zm-25.3 1h1.35v1.35h-1.35zm0.4 0h1.35v1.35h-1.35zm21.7 0.1h1.35v1.35h-1.35zm2.9 -0.4h1.35v1.35h-1.35zm3.7 0.6h1.35v1.35h-1.35zm-31.1 0.7h1.35v1.35h-1.35zm22.8 -0.4h1.35v1.35h-1.35zm4.4 0.7h1.35v1.35h-1.35zm2.1 -0.7h1.35v1.35h-1.35zm27.6 0.3h1.35v1.35h-1.35zm-56.5 0.8h1.35v1.35h-1.35zm2.7 0.3h1.35v1.35h-1.35zm19.6 0.3h1.35v1.35h-1.35zm1.7 -0.6h1.35v1.35h-1.35zm-21.1 0.9h1.35v1.35h-1.35zm18.4 0.7h1.35v1.35h-1.35zm1.3 -0.3h1.35v1.35h-1.35zm1 -0.3h1.35v1.35h-1.35zm-33.7 1.3h1.35v1.35h-1.35zm10.5 -0.2h1.35v1.35h-1.35zm2.6 0.5h1.35v1.35h-1.35zm20.9 -0.2h1.35v1.35h-1.35zm-21.8 1h1.35v1.35h-1.35zm0.5 -0.3h1.35v1.35h-1.35zm18.4 -0.1h1.35v1.35h-1.35zm0.7 0.2h1.35v1.35h-1.35zm10 0.1h1.35v1.35h-1.35zm-27.6 1.1h1.35v1.35h-1.35zm0.4 0h1.35v1.35h-1.35zm15.8 -0.2h1.35v1.35h-1.35zm2.2 0.4h1.35v1.35h-1.35zm1.2 0h1.35v1.35h-1.35zm-19.7 0.5h1.35v1.35h-1.35zm2 0.4h1.35v1.35h-1.35zm13.5 -0.5h1.35v1.35h-1.35zm-14 1h1.35v1.35h-1.35zm1.6 0.2h1.35v1.35h-1.35zm13 0.3h1.35v1.35h-1.35zm3.7 -0.1h1.35v1.35h-1.35zm-17 1.1h1.35v1.35h-1.35zm14.2 0.1h1.35v1.35h-1.35zm-16.2 0.9h1.35v1.35h-1.35zm1 -0.1h1.35v1.35h-1.35zm2.1 -0.2h1.35v1.35h-1.35zm0.5 0.3h1.35v1.35h-1.35zm1.1 -0.5h1.35v1.35h-1.35zm1 0.2h1.35v1.35h-1.35zm1.2 -0.1h1.35v1.35h-1.35zm2 -0.2h1.35v1.35h-1.35zm1.9 0.4h1.35v1.35h-1.35zm1 -0.3h1.35v1.35h-1.35zm2.1 -0.2h1.35v1.35h-1.35zm0.8 0.6h1.35v1.35h-1.35zm0.9 -0.3h1.35v1.35h-1.35zm-13.4 1.5h1.35v1.35h-1.35zm4.4 -0.3h1.35v1.35h-1.35zm2.3 -0.3h1.35v1.35h-1.35zm4.9 0.4h1.35v1.35h-1.35zm1.2 -0.2h1.35v1.35h-1.35zm-15.1 0.8h1.35v1.35h-1.35zm4.6 0h1.35v1.35h-1.35zm4.2 0.4h1.35v1.35h-1.35zm2.3 -0.2h1.35v1.35h-1.35zm1.3 0.4h1.35v1.35h-1.35zm5.6 -0.3h1.35v1.35h-1.35zm-1.9 0.8h1.35v1.35h-1.35zm-12.3 1.3h1.35v1.35h-1.35zm0.9 1.1h1.35v1.35h-1.35zm2.6 -0.1h1.35v1.35h-1.35zm18.9 0.6h1.35v1.35h-1.35z"/><path fill="#0e5a3a" d="M319 177h3v1h-3zM314 178h8v1h-8zM311 179h11v1h-11zM310 180h1v1h-1zM312 180h10v1h-10zM308 181h15v1h-15zM307 182h16v1h-16zM305 183h18v1h-18zM304 184h19v1h-19zM302 185h2v1h-2zM305 185h17v1h-17zM302 186h20v1h-20zM301 187h15v1h-15zM317 187h5v1h-5zM301 188h21v1h-21zM300 189h3v1h-3zM304 189h12v1h-12zM317 189h5v1h-5zM300 190h7v1h-7zM308 190h14v1h-14zM299 191h1v1h-1zM301 191h9v1h-9zM311 191h10v1h-10zM299 192h2v1h-2zM302 192h1v1h-1zM304 192h17v1h-17zM298 193h16v1h-16zM315 193h6v1h-6zM298 194h22v1h-22zM297 195h23v1h-23zM297 196h12v1h-12zM310 196h10v1h-10zM297 197h17v1h-17zM315 197h4v1h-4zM297 198h12v1h-12zM310 198h9v1h-9zM297 199h21v1h-21zM297 200h5v1h-5zM303 200h15v1h-15zM297 201h21v1h-21zM297 202h6v1h-6zM304 202h2v1h-2zM307 202h10v1h-10zM297 203h1v1h-1zM299 203h4v1h-4zM304 203h7v1h-7zM314 203h2v1h-2zM297 204h4v1h-4zM302 204h14v1h-14zM297 205h19v1h-19zM297 206h18v1h-18zM297 207h18v1h-18zM298 208h6v1h-6zM306 208h8v1h-8zM299 209h6v1h-6zM306 209h8v1h-8zM300 210h7v1h-7zM308 210h5v1h-5zM301 211h12v1h-12zM301 212h11v1h-11z"/><path fill="#306aa6" d="M0 0m445.8 143h1.35v1.35h-1.35zm-3.6 2.6h1.35v1.35h-1.35zm-5.2 1.1h1.35v1.35h-1.35zm1 0.1h1.35v1.35h-1.35zm1.4 -0.4h1.35v1.35h-1.35zm1.5 0.3h1.35v1.35h-1.35zm4.7 0h1.35v1.35h-1.35zm-12.9 1.3h1.35v1.35h-1.35zm5.1 -0.4h1.35v1.35h-1.35zm1.7 0.4h1.35v1.35h-1.35zm2.7 0.8h1.35v1.35h-1.35zm2.3 0.4h1.35v1.35h-1.35zm1.3 -0.5h1.35v1.35h-1.35zm-9.1 1.4h1.35v1.35h-1.35zm1.5 -0.2h1.35v1.35h-1.35zm1.8 -0.2h1.35v1.35h-1.35zm1.9 0.3h1.35v1.35h-1.35zm9.2 -0.3h1.35v1.35h-1.35zm-15.2 1h1.35v1.35h-1.35zm3 0.3h1.35v1.35h-1.35zm5.3 -0.6h1.35v1.35h-1.35zm-10.1 1.7h1.35v1.35h-1.35zm0.5 0h1.35v1.35h-1.35zm3.6 0.1h1.35v1.35h-1.35zm2.6 -0.2h1.35v1.35h-1.35zm2.4 -0.1h1.35v1.35h-1.35zm0.3 0.2h1.35v1.35h-1.35zm1.1 -0.3h1.35v1.35h-1.35zm1.2 -0.2h1.35v1.35h-1.35zm-9.8 1h1.35v1.35h-1.35zm1.2 0.1h1.35v1.35h-1.35zm4 -0.1h1.35v1.35h-1.35zm2.9 0.3h1.35v1.35h-1.35zm2.9 -0.4h1.35v1.35h-1.35zm0.6 0.4h1.35v1.35h-1.35zm1.9 0h1.35v1.35h-1.35zm1.2 -0.1h1.35v1.35h-1.35zm-17.8 0.9h1.35v1.35h-1.35zm1.6 -0.2h1.35v1.35h-1.35zm6 0.2h1.35v1.35h-1.35zm1.4 0.1h1.35v1.35h-1.35zm1.2 -0.1h1.35v1.35h-1.35zm2.4 0.3h1.35v1.35h-1.35zm1.7 -0.4h1.35v1.35h-1.35zm0.9 0.2h1.35v1.35h-1.35zm-16.1 1.1h1.35v1.35h-1.35zm2.9 -0.1h1.35v1.35h-1.35zm1.8 0.1h1.35v1.35h-1.35zm1.2 0.2h1.35v1.35h-1.35zm2.2 -0.6h1.35v1.35h-1.35zm0.8 0.7h1.35v1.35h-1.35zm4.8 -0.2h1.35v1.35h-1.35zm3.1 -0.5h1.35v1.35h-1.35zm0.7 0.3h1.35v1.35h-1.35zm-11.8 1.4h1.35v1.35h-1.35zm1.4 -0.6h1.35v1.35h-1.35zm0.8 0.3h1.35v1.35h-1.35zm0.6 0h1.35v1.35h-1.35zm3.6 -0.3h1.35v1.35h-1.35zm4.9 0h1.35v1.35h-1.35zm0.9 0.4h1.35v1.35h-1.35zm4.6 -0.5h1.35v1.35h-1.35zm-22.7 1.1h1.35v1.35h-1.35zm5 0.4h1.35v1.35h-1.35zm0.7 -0.3h1.35v1.35h-1.35zm2.5 0.4h1.35v1.35h-1.35zm1.9 -0.4h1.35v1.35h-1.35zm0.6 -0.2h1.35v1.35h-1.35zm3 0.4h1.35v1.35h-1.35zm1.4 0.1h1.35v1.35h-1.35zm0.8 0.1h1.35v1.35h-1.35zm1.4 -0.1h1.35v1.35h-1.35zm0.9 -0.5h1.35v1.35h-1.35zm0.9 0.2h1.35v1.35h-1.35zm-20.2 1.2h1.35v1.35h-1.35zm1.4 0.2h1.35v1.35h-1.35zm1.8 -0.1h1.35v1.35h-1.35zm1.3 -0.4h1.35v1.35h-1.35zm0.9 0.5h1.35v1.35h-1.35zm0.9 -0.5h1.35v1.35h-1.35zm0.6 0.6h1.35v1.35h-1.35zm5.5 -0.4h1.35v1.35h-1.35zm8 0.4h1.35v1.35h-1.35zm-15 0.9h1.35v1.35h-1.35zm0.4 -0.4h1.35v1.35h-1.35zm1 0.4h1.35v1.35h-1.35zm1.2 -0.2h1.35v1.35h-1.35zm2.3 0h1.35v1.35h-1.35zm1.9 0.3h1.35v1.35h-1.35zm1 -0.4h1.35v1.35h-1.35zm5.2 0.1h1.35v1.35h-1.35zm2.8 -0.4h1.35v1.35h-1.35zm-18.7 1.5h1.35v1.35h-1.35zm1.8 -0.4h1.35v1.35h-1.35zm7 0.1h1.35v1.35h-1.35zm0.6 -0.1h1.35v1.35h-1.35zm2.3 0.5h1.35v1.35h-1.35zm0.7 0h1.35v1.35h-1.35zm1.5 -0.2h1.35v1.35h-1.35zm2.4 0.1h1.35v1.35h-1.35zm1.3 -0.1h1.35v1.35h-1.35zm-21.1 0.8h1.35v1.35h-1.35zm2.5 0.3h1.35v1.35h-1.35zm0.5 -0.5h1.35v1.35h-1.35zm1.1 0.2h1.35v1.35h-1.35zm0.7 0.2h1.35v1.35h-1.35zm0.9 -0.1h1.35v1.35h-1.35zm2.8 -0.2h1.35v1.35h-1.35zm0.7 0.5h1.35v1.35h-1.35zm1.8 -0.5h1.35v1.35h-1.35zm0.9 0.4h1.35v1.35h-1.35zm1.2 0.2h1.35v1.35h-1.35zm0.7 -0.5h1.35v1.35h-1.35zm1.1 -0.3h1.35v1.35h-1.35zm1.3 0.1h1.35v1.35h-1.35zm3.9 0.4h1.35v1.35h-1.35zm3 -0.4h1.35v1.35h-1.35zm1.1 0.6h1.35v1.35h-1.35zm-19.2 1.1h1.35v1.35h-1.35zm4.5 -0.2h1.35v1.35h-1.35zm0.8 0.1h1.35v1.35h-1.35zm1.6 -0.2h1.35v1.35h-1.35zm6.9 0.3h1.35v1.35h-1.35zm1.3 -0.7h1.35v1.35h-1.35zm1.2 0.5h1.35v1.35h-1.35zm1.4 -0.6h1.35v1.35h-1.35zm1.4 0.5h1.35v1.35h-1.35zm-21.7 0.7h1.35v1.35h-1.35zm0.5 0.5h1.35v1.35h-1.35zm1.8 -0.5h1.35v1.35h-1.35zm5.7 0.4h1.35v1.35h-1.35zm0.5 -0.2h1.35v1.35h-1.35zm7.1 0h1.35v1.35h-1.35zm1 -0.2h1.35v1.35h-1.35zm3.3 -0.1h1.35v1.35h-1.35zm3.5 0h1.35v1.35h-1.35zm8.5 0.5h1.35v1.35h-1.35zm-37.8 0.9h1.35v1.35h-1.35zm2.3 -0.3h1.35v1.35h-1.35zm2.3 0h1.35v1.35h-1.35zm5.3 -0.1h1.35v1.35h-1.35zm1.1 0.3h1.35v1.35h-1.35zm0.8 0.3h1.35v1.35h-1.35zm0.9 -0.2h1.35v1.35h-1.35zm1.1 0.3h1.35v1.35h-1.35zm0.6 -0.7h1.35v1.35h-1.35zm2.1 0.7h1.35v1.35h-1.35zm2.5 -0.3h1.35v1.35h-1.35zm0.9 -0.2h1.35v1.35h-1.35zm3.1 -0.1h1.35v1.35h-1.35zm0.9 0.3h1.35v1.35h-1.35zm0.5 0.1h1.35v1.35h-1.35zm2 -0.5h1.35v1.35h-1.35zm2.2 0h1.35v1.35h-1.35zm-24.9 1.2h1.35v1.35h-1.35zm8 0.1h1.35v1.35h-1.35zm3.7 0.1h1.35v1.35h-1.35zm1.4 0.2h1.35v1.35h-1.35zm1.6 -0.4h1.35v1.35h-1.35zm1 -0.2h1.35v1.35h-1.35zm1.4 0.2h1.35v1.35h-1.35zm1.1 0.2h1.35v1.35h-1.35zm0.7 0.2h1.35v1.35h-1.35zm0.7 0h1.35v1.35h-1.35zm1.7 -0.6h1.35v1.35h-1.35zm0.9 0.1h1.35v1.35h-1.35zm0.4 0.5h1.35v1.35h-1.35zm1.3 -0.1h1.35v1.35h-1.35zm1.2 0.2h1.35v1.35h-1.35zm0.4 -0.5h1.35v1.35h-1.35zm-24.7 1.1h1.35v1.35h-1.35zm0.8 -0.1h1.35v1.35h-1.35zm4.5 -0.2h1.35v1.35h-1.35zm5.1 0.6h1.35v1.35h-1.35zm1.8 -0.4h1.35v1.35h-1.35zm3 0.3h1.35v1.35h-1.35zm0.5 0.2h1.35v1.35h-1.35zm4.4 -0.7h1.35v1.35h-1.35zm2.4 0.3h1.35v1.35h-1.35zm4.7 -0.1h1.35v1.35h-1.35zm0.9 0.2h1.35v1.35h-1.35zm-31.8 1.2h1.35v1.35h-1.35zm0.7 -0.5h1.35v1.35h-1.35zm1.3 0.4h1.35v1.35h-1.35zm0.5 -0.3h1.35v1.35h-1.35zm2.6 0h1.35v1.35h-1.35zm0.8 -0.2h1.35v1.35h-1.35zm2.9 0.5h1.35v1.35h-1.35zm2.3 -0.5h1.35v1.35h-1.35zm0.5 0.3h1.35v1.35h-1.35zm1.1 0h1.35v1.35h-1.35zm1.5 0.2h1.35v1.35h-1.35zm2.9 -0.5h1.35v1.35h-1.35zm1.4 0h1.35v1.35h-1.35zm2.3 0.1h1.35v1.35h-1.35zm1.7 -0.1h1.35v1.35h-1.35zm2.2 0.6h1.35v1.35h-1.35zm1.9 0h1.35v1.35h-1.35zm2.1 -0.5h1.35v1.35h-1.35zm1.1 0.4h1.35v1.35h-1.35zm-28.3 0.9h1.35v1.35h-1.35zm1.4 -0.3h1.35v1.35h-1.35zm1 0h1.35v1.35h-1.35zm1.3 0.3h1.35v1.35h-1.35zm0.7 0.3h1.35v1.35h-1.35zm1.3 -0.2h1.35v1.35h-1.35zm0.5 -0.1h1.35v1.35h-1.35zm1.8 0h1.35v1.35h-1.35zm3.5 -0.1h1.35v1.35h-1.35zm1.1 -0.1h1.35v1.35h-1.35zm1.4 -0.1h1.35v1.35h-1.35zm1.1 0.5h1.35v1.35h-1.35zm1.6 -0.4h1.35v1.35h-1.35zm0.4 0.5h1.35v1.35h-1.35zm1 -0.1h1.35v1.35h-1.35zm1 -0.2h1.35v1.35h-1.35zm4 -0.1h1.35v1.35h-1.35zm2.5 0.3h1.35v1.35h-1.35zm2.7 -0.3h1.35v1.35h-1.35zm3.3 -0.2h1.35v1.35h-1.35zm7 -0.1h1.35v1.35h-1.35zm-38.6 1.6h1.35v1.35h-1.35zm1.6 -0.2h1.35v1.35h-1.35zm0.7 0.1h1.35v1.35h-1.35zm1.7 -0.4h1.35v1.35h-1.35zm1.6 0.6h1.35v1.35h-1.35zm0.7 -0.1h1.35v1.35h-1.35zm6 -0.1h1.35v1.35h-1.35zm0.7 -0.5h1.35v1.35h-1.35zm2.2 0.4h1.35v1.35h-1.35zm4.3 -0.4h1.35v1.35h-1.35zm1.1 0h1.35v1.35h-1.35zm0.8 0.6h1.35v1.35h-1.35zm0.6 -0.2h1.35v1.35h-1.35zm2.4 0.3h1.35v1.35h-1.35zm2.8 0h1.35v1.35h-1.35zm1.8 -0.6h1.35v1.35h-1.35zm-27.3 0.9h1.35v1.35h-1.35zm0.6 0.6h1.35v1.35h-1.35zm1.7 -0.6h1.35v1.35h-1.35zm3.7 0.5h1.35v1.35h-1.35zm0.3 0.2h1.35v1.35h-1.35zm1.2 -0.7h1.35v1.35h-1.35zm1.4 0.4h1.35v1.35h-1.35zm0.4 -0.1h1.35v1.35h-1.35zm1.7 0.3h1.35v1.35h-1.35zm0.4 -0.4h1.35v1.35h-1.35zm2.9 0.3h1.35v1.35h-1.35zm1.7 0.2h1.35v1.35h-1.35zm0.7 -0.3h1.35v1.35h-1.35zm1.2 -0.4h1.35v1.35h-1.35zm1.9 0.6h1.35v1.35h-1.35zm2 -0.6h1.35v1.35h-1.35zm2.8 0.6h1.35v1.35h-1.35zm2.4 -0.4h1.35v1.35h-1.35zm1.7 0.2h1.35v1.35h-1.35zm-29.1 0.7h1.35v1.35h-1.35zm0.7 0.4h1.35v1.35h-1.35zm0.9 -0.1h1.35v1.35h-1.35zm3.8 -0.1h1.35v1.35h-1.35zm2.4 0h1.35v1.35h-1.35zm2.2 -0.2h1.35v1.35h-1.35zm0.9 0.3h1.35v1.35h-1.35zm1.2 0.3h1.35v1.35h-1.35zm1 0h1.35v1.35h-1.35zm0.9 -0.7h1.35v1.35h-1.35zm1.7 0h1.35v1.35h-1.35zm1.2 0.5h1.35v1.35h-1.35zm0.9 -0.1h1.35v1.35h-1.35zm1.1 0.3h1.35v1.35h-1.35zm1.2 -0.2h1.35v1.35h-1.35zm1.1 -0.5h1.35v1.35h-1.35zm1.8 0.2h1.35v1.35h-1.35zm1 0.1h1.35v1.35h-1.35zm3.3 -0.3h1.35v1.35h-1.35zm0.5 0.7h1.35v1.35h-1.35zm1 -0.2h1.35v1.35h-1.35zm-30.4 1.2h1.35v1.35h-1.35zm0.3 -0.7h1.35v1.35h-1.35zm1.1 0.6h1.35v1.35h-1.35zm4.8 -0.2h1.35v1.35h-1.35zm3.2 0h1.35v1.35h-1.35zm1.1 -0.1h1.35v1.35h-1.35zm11.5 0.3h1.35v1.35h-1.35zm1.4 -0.3h1.35v1.35h-1.35zm2.1 0.3h1.35v1.35h-1.35zm2.3 -0.1h1.35v1.35h-1.35zm1.9 -0.4h1.35v1.35h-1.35zm-35.1 1h1.35v1.35h-1.35zm6.3 0.1h1.35v1.35h-1.35zm1.7 0.1h1.35v1.35h-1.35zm2 0.2h1.35v1.35h-1.35zm1 -0.2h1.35v1.35h-1.35zm0.6 0.1h1.35v1.35h-1.35zm2.1 0.1h1.35v1.35h-1.35zm10 0.1h1.35v1.35h-1.35zm1 -0.6h1.35v1.35h-1.35zm1.2 0.1h1.35v1.35h-1.35zm1.3 0.4h1.35v1.35h-1.35zm0.9 -0.2h1.35v1.35h-1.35zm1.9 -0.1h1.35v1.35h-1.35zm1 0.5h1.35v1.35h-1.35zm1.4 -0.5h1.35v1.35h-1.35zm1.3 0.5h1.35v1.35h-1.35zm1.5 -0.4h1.35v1.35h-1.35zm6.8 -0.2h1.35v1.35h-1.35zm-37.9 1.1h1.35v1.35h-1.35zm2.3 0.1h1.35v1.35h-1.35zm1.6 0h1.35v1.35h-1.35zm1.4 0.4h1.35v1.35h-1.35zm1.2 -0.3h1.35v1.35h-1.35zm1.6 0h1.35v1.35h-1.35zm1 -0.2h1.35v1.35h-1.35zm0.8 0.2h1.35v1.35h-1.35zm11.8 -0.2h1.35v1.35h-1.35zm2.5 0.5h1.35v1.35h-1.35zm0.5 -0.1h1.35v1.35h-1.35zm2.3 0h1.35v1.35h-1.35zm1.8 -0.6h1.35v1.35h-1.35zm1.1 0.2h1.35v1.35h-1.35zm1.8 0.2h1.35v1.35h-1.35zm-34.4 1.2h1.35v1.35h-1.35zm3.4 0h1.35v1.35h-1.35zm1.3 0h1.35v1.35h-1.35zm2.2 -0.6h1.35v1.35h-1.35zm2.1 0.6h1.35v1.35h-1.35zm0.5 -0.1h1.35v1.35h-1.35zm2.3 -0.5h1.35v1.35h-1.35zm11.6 0h1.35v1.35h-1.35zm1.4 0.6h1.35v1.35h-1.35zm0.6 -0.2h1.35v1.35h-1.35zm3.5 0.1h1.35v1.35h-1.35zm2.9 -0.4h1.35v1.35h-1.35zm3.7 0.3h1.35v1.35h-1.35zm1 0.2h1.35v1.35h-1.35zm1.2 -0.2h1.35v1.35h-1.35zm2.9 -0.1h1.35v1.35h-1.35zm-37.3 1.4h1.35v1.35h-1.35zm2.5 -0.2h1.35v1.35h-1.35zm0.9 0.2h1.35v1.35h-1.35zm2 -0.3h1.35v1.35h-1.35zm0.7 -0.4h1.35v1.35h-1.35zm1.9 0.6h1.35v1.35h-1.35zm13.4 -0.5h1.35v1.35h-1.35zm1.1 0h1.35v1.35h-1.35zm1.4 0.5h1.35v1.35h-1.35zm1.1 -0.5h1.35v1.35h-1.35zm1.2 0.6h1.35v1.35h-1.35zm1.3 -0.6h1.35v1.35h-1.35zm0.8 0.4h1.35v1.35h-1.35zm2.9 0.1h1.35v1.35h-1.35zm0.9 -0.4h1.35v1.35h-1.35zm1.5 -0.1h1.35v1.35h-1.35zm0.4 0.1h1.35v1.35h-1.35zm3.7 0.4h1.35v1.35h-1.35zm3.7 -0.5h1.35v1.35h-1.35zm-44.4 1.3h1.35v1.35h-1.35zm4.5 0h1.35v1.35h-1.35zm1.4 0.1h1.35v1.35h-1.35zm3.8 -0.4h1.35v1.35h-1.35zm0.5 0.5h1.35v1.35h-1.35zm14.9 -0.4h1.35v1.35h-1.35zm1 -0.1h1.35v1.35h-1.35zm1.6 0.2h1.35v1.35h-1.35zm0.7 -0.3h1.35v1.35h-1.35zm2.9 0.4h1.35v1.35h-1.35zm2.2 0.2h1.35v1.35h-1.35zm0.8 -0.3h1.35v1.35h-1.35zm2.4 -0.3h1.35v1.35h-1.35zm0.7 0.4h1.35v1.35h-1.35zm5.3 0.2h1.35v1.35h-1.35zm3 -0.5h1.35v1.35h-1.35zm8 0.5h1.35v1.35h-1.35zm-54 0.7h1.35v1.35h-1.35zm2.7 0.2h1.35v1.35h-1.35zm4.3 -0.2h1.35v1.35h-1.35zm0.4 -0.2h1.35v1.35h-1.35zm0.9 -0.1h1.35v1.35h-1.35zm1.7 0.1h1.35v1.35h-1.35zm0.8 0.5h1.35v1.35h-1.35zm14.9 -0.4h1.35v1.35h-1.35zm1.3 0.3h1.35v1.35h-1.35zm2.9 -0.5h1.35v1.35h-1.35zm1 0.2h1.35v1.35h-1.35zm0.7 -0.1h1.35v1.35h-1.35zm0.9 -0.1h1.35v1.35h-1.35zm0.9 0.7h1.35v1.35h-1.35zm1.4 -0.5h1.35v1.35h-1.35zm1.7 0.4h1.35v1.35h-1.35zm1.5 -0.4h1.35v1.35h-1.35zm1 0h1.35v1.35h-1.35zm0.4 0.5h1.35v1.35h-1.35zm1.1 -0.5h1.35v1.35h-1.35zm-39.9 1.4h1.35v1.35h-1.35zm2 -0.1h1.35v1.35h-1.35zm0.6 -0.4h1.35v1.35h-1.35zm3.6 -0.1h1.35v1.35h-1.35zm0.7 0.4h1.35v1.35h-1.35zm1.3 0.3h1.35v1.35h-1.35zm0.8 -0.4h1.35v1.35h-1.35zm15.9 0h1.35v1.35h-1.35zm0.8 0.1h1.35v1.35h-1.35zm2.7 -0.3h1.35v1.35h-1.35zm1.4 0.1h1.35v1.35h-1.35zm1.5 0.2h1.35v1.35h-1.35zm0.4 -0.1h1.35v1.35h-1.35zm2.2 0h1.35v1.35h-1.35zm1 0.2h1.35v1.35h-1.35zm1.2 0.1h1.35v1.35h-1.35zm0.6 -0.4h1.35v1.35h-1.35zm1.1 -0.2h1.35v1.35h-1.35zm1.5 0.6h1.35v1.35h-1.35zm4.1 -0.5h1.35v1.35h-1.35zm1.4 -0.2h1.35v1.35h-1.35zm-41 1.5h1.35v1.35h-1.35zm2.3 -0.4h1.35v1.35h-1.35zm0.8 0.2h1.35v1.35h-1.35zm1.1 0.5h1.35v1.35h-1.35zm1 -0.2h1.35v1.35h-1.35zm16.3 -0.4h1.35v1.35h-1.35zm1 0h1.35v1.35h-1.35zm0.7 -0.2h1.35v1.35h-1.35zm0.7 0.6h1.35v1.35h-1.35zm1.2 -0.2h1.35v1.35h-1.35zm1.4 0.2h1.35v1.35h-1.35zm1.3 -0.4h1.35v1.35h-1.35zm1 0h1.35v1.35h-1.35zm1.8 0h1.35v1.35h-1.35zm0.8 0.1h1.35v1.35h-1.35zm1.9 0.4h1.35v1.35h-1.35zm0.7 -0.6h1.35v1.35h-1.35zm2.3 0.3h1.35v1.35h-1.35zm10.8 0h1.35v1.35h-1.35zm19 0h1.35v1.35h-1.35zm-71.7 0.8h1.35v1.35h-1.35zm0.8 0.4h1.35v1.35h-1.35zm4.2 0.2h1.35v1.35h-1.35zm1.9 0h1.35v1.35h-1.35zm1.3 -0.3h1.35v1.35h-1.35zm1.8 0h1.35v1.35h-1.35zm1 -0.2h1.35v1.35h-1.35zm15.9 0h1.35v1.35h-1.35zm1.3 0.2h1.35v1.35h-1.35zm0.5 -0.2h1.35v1.35h-1.35zm0.7 0.2h1.35v1.35h-1.35zm2.8 -0.3h1.35v1.35h-1.35zm1.4 0.5h1.35v1.35h-1.35zm0.8 0h1.35v1.35h-1.35zm1.5 -0.6h1.35v1.35h-1.35zm3.8 0.1h1.35v1.35h-1.35zm1 -0.2h1.35v1.35h-1.35zm0.8 0.2h1.35v1.35h-1.35zm1.1 0.2h1.35v1.35h-1.35zm-42.9 1.4h1.35v1.35h-1.35zm2.1 -0.7h1.35v1.35h-1.35zm1.3 0.3h1.35v1.35h-1.35zm0.7 0.3h1.35v1.35h-1.35zm1 -0.3h1.35v1.35h-1.35zm1.8 0.2h1.35v1.35h-1.35zm1.2 -0.3h1.35v1.35h-1.35zm1.3 0.5h1.35v1.35h-1.35zm0.6 -0.5h1.35v1.35h-1.35zm0.8 0.2h1.35v1.35h-1.35zm16.2 0.2h1.35v1.35h-1.35zm1 -0.1h1.35v1.35h-1.35zm0.7 -0.2h1.35v1.35h-1.35zm3.1 -0.3h1.35v1.35h-1.35zm6.5 0.3h1.35v1.35h-1.35zm7.9 -0.3h1.35v1.35h-1.35zm4.6 0.4h1.35v1.35h-1.35zm11.5 0.3h1.35v1.35h-1.35zm2.8 0h1.35v1.35h-1.35zm-61.6 0.7h1.35v1.35h-1.35zm2.3 0.3h1.35v1.35h-1.35zm1.9 0h1.35v1.35h-1.35zm3.6 -0.1h1.35v1.35h-1.35zm15.9 0h1.35v1.35h-1.35zm0.7 -0.5h1.35v1.35h-1.35zm1.4 0.3h1.35v1.35h-1.35zm0.6 0.1h1.35v1.35h-1.35zm1.3 -0.1h1.35v1.35h-1.35zm0.8 0.1h1.35v1.35h-1.35zm2.5 0.1h1.35v1.35h-1.35zm1.4 0h1.35v1.35h-1.35zm1.1 0h1.35v1.35h-1.35zm0.7 -0.2h1.35v1.35h-1.35zm2.8 0h1.35v1.35h-1.35zm1.8 -0.3h1.35v1.35h-1.35zm0.8 0.4h1.35v1.35h-1.35zm3.2 -0.5h1.35v1.35h-1.35zm3 0.7h1.35v1.35h-1.35zm13 -0.1h1.35v1.35h-1.35zm-58.2 0.6h1.35v1.35h-1.35zm3.8 -0.2h1.35v1.35h-1.35zm2.2 0.6h1.35v1.35h-1.35zm1.1 -0.5h1.35v1.35h-1.35zm15.8 0.5h1.35v1.35h-1.35zm1.4 -0.2h1.35v1.35h-1.35zm4.6 0.2h1.35v1.35h-1.35zm1.4 -0.3h1.35v1.35h-1.35zm2 0.4h1.35v1.35h-1.35zm1.1 0h1.35v1.35h-1.35zm3.3 -0.7h1.35v1.35h-1.35zm3.7 0.2h1.35v1.35h-1.35zm3.4 0.3h1.35v1.35h-1.35zm-49.1 1.1h1.35v1.35h-1.35zm5.5 -0.3h1.35v1.35h-1.35zm1.6 0.3h1.35v1.35h-1.35zm1.5 0h1.35v1.35h-1.35zm2.5 -0.5h1.35v1.35h-1.35zm17.2 0.5h1.35v1.35h-1.35zm2.2 -0.1h1.35v1.35h-1.35zm1.9 0h1.35v1.35h-1.35zm0.9 -0.5h1.35v1.35h-1.35zm2.1 0.4h1.35v1.35h-1.35zm0.9 0.1h1.35v1.35h-1.35zm1.1 0.2h1.35v1.35h-1.35zm0.9 -0.7h1.35v1.35h-1.35zm1.3 0h1.35v1.35h-1.35zm4 0.4h1.35v1.35h-1.35zm14.4 0h1.35v1.35h-1.35zm5.2 0h1.35v1.35h-1.35zm-58.6 0.8h1.35v1.35h-1.35zm0.8 0h1.35v1.35h-1.35zm1.1 0h1.35v1.35h-1.35zm1.1 0.5h1.35v1.35h-1.35zm0.8 -0.7h1.35v1.35h-1.35zm2.6 0.2h1.35v1.35h-1.35zm1.5 0.2h1.35v1.35h-1.35zm15.7 0.2h1.35v1.35h-1.35zm1.1 -0.2h1.35v1.35h-1.35zm2.2 0.1h1.35v1.35h-1.35zm0.4 -0.5h1.35v1.35h-1.35zm1.7 0.1h1.35v1.35h-1.35zm1.4 0.5h1.35v1.35h-1.35zm2.1 0h1.35v1.35h-1.35zm4.3 -0.1h1.35v1.35h-1.35zm1.1 -0.4h1.35v1.35h-1.35zm0.5 -0.1h1.35v1.35h-1.35zm1.3 0.7h1.35v1.35h-1.35zm3.3 -0.1h1.35v1.35h-1.35zm-47.9 0.5h1.35v1.35h-1.35zm6.4 0h1.35v1.35h-1.35zm1.3 0.2h1.35v1.35h-1.35zm3.6 -0.1h1.35v1.35h-1.35zm1.1 0.1h1.35v1.35h-1.35zm16.3 -0.1h1.35v1.35h-1.35zm1.2 0.5h1.35v1.35h-1.35zm0.9 -0.3h1.35v1.35h-1.35zm1.6 0.2h1.35v1.35h-1.35zm1 0h1.35v1.35h-1.35zm0.8 0h1.35v1.35h-1.35zm1.1 -0.5h1.35v1.35h-1.35zm3.4 0.4h1.35v1.35h-1.35zm0.6 -0.3h1.35v1.35h-1.35zm1.7 0h1.35v1.35h-1.35zm0.7 0.3h1.35v1.35h-1.35zm1.1 0.2h1.35v1.35h-1.35zm0.8 -0.2h1.35v1.35h-1.35zm5.3 0.2h1.35v1.35h-1.35zm14.5 -0.6h1.35v1.35h-1.35zm2.1 0.3h1.35v1.35h-1.35zm-62.6 0.8h1.35v1.35h-1.35zm4.4 0.1h1.35v1.35h-1.35zm1.4 -0.2h1.35v1.35h-1.35zm3.7 0.3h1.35v1.35h-1.35zm17.4 0.3h1.35v1.35h-1.35zm3 -0.8h1.35v1.35h-1.35zm2.7 0.2h1.35v1.35h-1.35zm3.1 0.2h1.35v1.35h-1.35zm0.9 0h1.35v1.35h-1.35zm2.3 -0.2h1.35v1.35h-1.35zm1.1 -0.1h1.35v1.35h-1.35zm1.9 0.3h1.35v1.35h-1.35zm0.5 0.2h1.35v1.35h-1.35zm8.4 -0.4h1.35v1.35h-1.35zm4.7 0h1.35v1.35h-1.35zm12 0.4h1.35v1.35h-1.35zm-66.8 1h1.35v1.35h-1.35zm1.1 -0.5h1.35v1.35h-1.35zm3.3 0.5h1.35v1.35h-1.35zm0.5 0h1.35v1.35h-1.35zm1 -0.3h1.35v1.35h-1.35zm1.2 -0.2h1.35v1.35h-1.35zm0.8 0.1h1.35v1.35h-1.35zm1.2 0.2h1.35v1.35h-1.35zm20.9 0h1.35v1.35h-1.35zm0.7 0h1.35v1.35h-1.35zm1.5 0h1.35v1.35h-1.35zm0.5 -0.2h1.35v1.35h-1.35zm1.5 -0.1h1.35v1.35h-1.35zm1.5 0.1h1.35v1.35h-1.35zm2.6 0h1.35v1.35h-1.35zm1.7 0h1.35v1.35h-1.35zm1.1 0.4h1.35v1.35h-1.35zm17 -0.5h1.35v1.35h-1.35zm5 0.4h1.35v1.35h-1.35zm0.8 -0.4h1.35v1.35h-1.35zm-64.3 1.5h1.35v1.35h-1.35zm2.3 -0.4h1.35v1.35h-1.35zm2.8 0.4h1.35v1.35h-1.35zm1.5 -0.3h1.35v1.35h-1.35zm0.7 0h1.35v1.35h-1.35zm0.9 -0.1h1.35v1.35h-1.35zm1.5 0.3h1.35v1.35h-1.35zm16 -0.1h1.35v1.35h-1.35zm1.9 -0.3h1.35v1.35h-1.35zm1.7 0.4h1.35v1.35h-1.35zm2.3 -0.2h1.35v1.35h-1.35zm1.1 0.1h1.35v1.35h-1.35zm0.8 -0.3h1.35v1.35h-1.35zm2.3 0.1h1.35v1.35h-1.35zm2.5 -0.1h1.35v1.35h-1.35zm3.2 0.3h1.35v1.35h-1.35zm0.6 0h1.35v1.35h-1.35zm3.6 -0.1h1.35v1.35h-1.35zm6.6 0.2h1.35v1.35h-1.35zm2.8 0h1.35v1.35h-1.35zm3.2 0.3h1.35v1.35h-1.35zm1.9 -0.5h1.35v1.35h-1.35zm2.4 0.1h1.35v1.35h-1.35zm3.8 0.1h1.35v1.35h-1.35zm-64 0.5h1.35v1.35h-1.35zm0.8 0.6h1.35v1.35h-1.35zm2.1 0h1.35v1.35h-1.35zm1 -0.5h1.35v1.35h-1.35zm1.2 0.2h1.35v1.35h-1.35zm1 0.5h1.35v1.35h-1.35zm0.8 -0.7h1.35v1.35h-1.35zm16.4 0.4h1.35v1.35h-1.35zm0.8 -0.4h1.35v1.35h-1.35zm1.8 0.5h1.35v1.35h-1.35zm1.4 0.2h1.35v1.35h-1.35zm1.6 -0.7h1.35v1.35h-1.35zm1.5 0.5h1.35v1.35h-1.35zm0.5 -0.3h1.35v1.35h-1.35zm2.9 -0.2h1.35v1.35h-1.35zm2.3 0.1h1.35v1.35h-1.35zm1.1 0h1.35v1.35h-1.35zm1.9 0.2h1.35v1.35h-1.35zm1.7 -0.3h1.35v1.35h-1.35zm6.2 0.4h1.35v1.35h-1.35zm4.6 0h1.35v1.35h-1.35zm1.6 -0.3h1.35v1.35h-1.35zm-51.3 1.6h1.35v1.35h-1.35zm2.3 -0.4h1.35v1.35h-1.35zm0.7 -0.3h1.35v1.35h-1.35zm1.3 0.2h1.35v1.35h-1.35zm0.5 0.2h1.35v1.35h-1.35zm16.6 -0.3h1.35v1.35h-1.35zm1 0.4h1.35v1.35h-1.35zm1.1 -0.3h1.35v1.35h-1.35zm0.8 -0.1h1.35v1.35h-1.35zm1.1 0h1.35v1.35h-1.35zm2.7 0.1h1.35v1.35h-1.35zm4.2 0h1.35v1.35h-1.35zm5.1 0.2h1.35v1.35h-1.35zm4.1 -0.5h1.35v1.35h-1.35zm7.3 0.3h1.35v1.35h-1.35zm6.1 0h1.35v1.35h-1.35zm9.5 0.3h1.35v1.35h-1.35zm-62.5 1.1h1.35v1.35h-1.35zm2.2 -0.5h1.35v1.35h-1.35zm1 0.5h1.35v1.35h-1.35zm15.9 -0.5h1.35v1.35h-1.35zm1.1 0.6h1.35v1.35h-1.35zm1.1 -0.3h1.35v1.35h-1.35zm1.2 0h1.35v1.35h-1.35zm1.5 -0.4h1.35v1.35h-1.35zm1.2 0h1.35v1.35h-1.35zm0.8 0.3h1.35v1.35h-1.35zm2.4 0h1.35v1.35h-1.35zm1.7 0.1h1.35v1.35h-1.35zm1.3 -0.1h1.35v1.35h-1.35zm2.1 0.3h1.35v1.35h-1.35zm1 -0.2h1.35v1.35h-1.35zm1.8 -0.1h1.35v1.35h-1.35zm1.2 0.3h1.35v1.35h-1.35zm3.6 -0.4h1.35v1.35h-1.35zm5 -0.3h1.35v1.35h-1.35zm1.4 0.8h1.35v1.35h-1.35zm1.9 -0.3h1.35v1.35h-1.35zm1.6 0.1h1.35v1.35h-1.35zm1.1 -0.2h1.35v1.35h-1.35zm3 0.2h1.35v1.35h-1.35zm8.2 -0.5h1.35v1.35h-1.35zm-67.2 1.7h1.35v1.35h-1.35zm3.2 0h1.35v1.35h-1.35zm2.3 -0.1h1.35v1.35h-1.35zm17.4 -0.3h1.35v1.35h-1.35zm1.5 -0.4h1.35v1.35h-1.35zm0.5 0.4h1.35v1.35h-1.35zm1.1 -0.2h1.35v1.35h-1.35zm1.2 0.4h1.35v1.35h-1.35zm1.7 0h1.35v1.35h-1.35zm4.4 -0.4h1.35v1.35h-1.35zm0.6 0.3h1.35v1.35h-1.35zm4 0.1h1.35v1.35h-1.35zm2.6 -0.3h1.35v1.35h-1.35zm1.5 -0.1h1.35v1.35h-1.35zm7 0.6h1.35v1.35h-1.35zm6 0h1.35v1.35h-1.35zm0.9 0h1.35v1.35h-1.35zm-56.5 0.4h1.35v1.35h-1.35zm1.7 0.1h1.35v1.35h-1.35zm2.3 0.1h1.35v1.35h-1.35zm1.9 -0.1h1.35v1.35h-1.35zm1 0.3h1.35v1.35h-1.35zm1 -0.4h1.35v1.35h-1.35zm16 0.5h1.35v1.35h-1.35zm4.5 -0.5h1.35v1.35h-1.35zm1 -0.2h1.35v1.35h-1.35zm1 0.1h1.35v1.35h-1.35zm1.1 0.4h1.35v1.35h-1.35zm1.5 -0.3h1.35v1.35h-1.35zm1.4 -0.1h1.35v1.35h-1.35zm2.4 0.5h1.35v1.35h-1.35zm0.7 -0.2h1.35v1.35h-1.35zm0.9 -0.3h1.35v1.35h-1.35zm3.5 0.2h1.35v1.35h-1.35zm1.2 0.3h1.35v1.35h-1.35zm0.8 -0.5h1.35v1.35h-1.35zm11 0.7h1.35v1.35h-1.35zm1.9 -0.1h1.35v1.35h-1.35zm4.1 -0.5h1.35v1.35h-1.35zm-61.3 1.3h1.35v1.35h-1.35zm0.8 -0.5h1.35v1.35h-1.35zm2.5 0.3h1.35v1.35h-1.35zm2.5 -0.1h1.35v1.35h-1.35zm1.6 0.1h1.35v1.35h-1.35zm0.6 0.3h1.35v1.35h-1.35zm1.1 -0.1h1.35v1.35h-1.35zm14.4 -0.4h1.35v1.35h-1.35zm0.6 0.6h1.35v1.35h-1.35zm1.4 0h1.35v1.35h-1.35zm0.8 -0.2h1.35v1.35h-1.35zm2.1 -0.3h1.35v1.35h-1.35zm0.7 -0.1h1.35v1.35h-1.35zm1.4 0.3h1.35v1.35h-1.35zm1.7 -0.1h1.35v1.35h-1.35zm4.9 -0.2h1.35v1.35h-1.35zm3 0.7h1.35v1.35h-1.35zm1.8 -0.3h1.35v1.35h-1.35zm13.6 -0.2h1.35v1.35h-1.35zm8.4 0.3h1.35v1.35h-1.35zm-66.8 0.5h1.35v1.35h-1.35zm5.7 0.3h1.35v1.35h-1.35zm1.6 -0.1h1.35v1.35h-1.35zm2.1 0.5h1.35v1.35h-1.35zm0.8 -0.4h1.35v1.35h-1.35zm0.9 0h1.35v1.35h-1.35zm0.6 -0.1h1.35v1.35h-1.35zm14.6 0.1h1.35v1.35h-1.35zm0.8 0.2h1.35v1.35h-1.35zm1.1 0.1h1.35v1.35h-1.35zm1.1 0h1.35v1.35h-1.35zm2 -0.3h1.35v1.35h-1.35zm1.9 0.3h1.35v1.35h-1.35zm0.7 -0.7h1.35v1.35h-1.35zm1.1 0.4h1.35v1.35h-1.35zm1.1 -0.2h1.35v1.35h-1.35zm1.6 0.6h1.35v1.35h-1.35zm1 -0.6h1.35v1.35h-1.35zm2.4 0.4h1.35v1.35h-1.35zm0.6 -0.1h1.35v1.35h-1.35zm1.1 0.1h1.35v1.35h-1.35zm0.9 -0.4h1.35v1.35h-1.35zm3.5 0.3h1.35v1.35h-1.35zm13.9 -0.3h1.35v1.35h-1.35zm-56.3 1.2h1.35v1.35h-1.35zm0.8 0h1.35v1.35h-1.35zm1.2 -0.2h1.35v1.35h-1.35zm0.9 0.1h1.35v1.35h-1.35zm1 0.5h1.35v1.35h-1.35zm2.1 -0.4h1.35v1.35h-1.35zm1.3 0.2h1.35v1.35h-1.35zm0.9 -0.5h1.35v1.35h-1.35zm13 0.6h1.35v1.35h-1.35zm2.2 -0.1h1.35v1.35h-1.35zm1.1 0.1h1.35v1.35h-1.35zm0.4 -0.2h1.35v1.35h-1.35zm1.6 -0.3h1.35v1.35h-1.35zm1.5 0.2h1.35v1.35h-1.35zm2.2 -0.4h1.35v1.35h-1.35zm6.3 0.4h1.35v1.35h-1.35zm0.9 0.3h1.35v1.35h-1.35zm1.8 -0.3h1.35v1.35h-1.35zm15.2 0.2h1.35v1.35h-1.35zm2.7 -0.3h1.35v1.35h-1.35zm-56.9 1h1.35v1.35h-1.35zm0.9 0.4h1.35v1.35h-1.35zm1.9 0h1.35v1.35h-1.35zm1.2 -0.5h1.35v1.35h-1.35zm1 0.5h1.35v1.35h-1.35zm2.1 0.1h1.35v1.35h-1.35zm1.3 -0.5h1.35v1.35h-1.35zm0.8 0.1h1.35v1.35h-1.35zm11.9 -0.1h1.35v1.35h-1.35zm1.1 0h1.35v1.35h-1.35zm0.8 0h1.35v1.35h-1.35zm0.7 0.4h1.35v1.35h-1.35zm4.3 -0.1h1.35v1.35h-1.35zm0.7 0h1.35v1.35h-1.35zm1.4 -0.4h1.35v1.35h-1.35zm1.6 0.5h1.35v1.35h-1.35zm1.7 -0.1h1.35v1.35h-1.35zm0.4 0.2h1.35v1.35h-1.35zm2.3 -0.7h1.35v1.35h-1.35zm1.2 0.5h1.35v1.35h-1.35zm0.6 -0.5h1.35v1.35h-1.35zm11.3 0.3h1.35v1.35h-1.35zm-50 0.8h1.35v1.35h-1.35zm1.7 0.6h1.35v1.35h-1.35zm3.9 -0.3h1.35v1.35h-1.35zm2 0h1.35v1.35h-1.35zm1 0.3h1.35v1.35h-1.35zm1.2 -0.1h1.35v1.35h-1.35zm11.8 0h1.35v1.35h-1.35zm3.2 -0.6h1.35v1.35h-1.35zm2.6 0.6h1.35v1.35h-1.35zm1.1 -0.2h1.35v1.35h-1.35zm2.4 -0.3h1.35v1.35h-1.35zm1.3 0.3h1.35v1.35h-1.35zm2 0.1h1.35v1.35h-1.35zm1.7 0.2h1.35v1.35h-1.35zm2.1 -0.6h1.35v1.35h-1.35zm12.6 -0.1h1.35v1.35h-1.35zm-46.7 1.7h1.35v1.35h-1.35zm1.7 0h1.35v1.35h-1.35zm2.4 -0.6h1.35v1.35h-1.35zm1 0.6h1.35v1.35h-1.35zm1.5 -0.7h1.35v1.35h-1.35zm1.7 0.1h1.35v1.35h-1.35zm0.8 0h1.35v1.35h-1.35zm1.5 0.1h1.35v1.35h-1.35zm1.1 0.1h1.35v1.35h-1.35zm1.1 0.1h1.35v1.35h-1.35zm1 0.2h1.35v1.35h-1.35zm0.8 0.1h1.35v1.35h-1.35zm0.9 -0.2h1.35v1.35h-1.35zm1.8 0.1h1.35v1.35h-1.35zm0.7 0.1h1.35v1.35h-1.35zm2.9 -0.3h1.35v1.35h-1.35zm1 0.2h1.35v1.35h-1.35zm0.8 -0.3h1.35v1.35h-1.35zm0.9 0.2h1.35v1.35h-1.35zm3.6 -0.4h1.35v1.35h-1.35zm0.9 0.6h1.35v1.35h-1.35zm1 -0.4h1.35v1.35h-1.35zm0.8 0.3h1.35v1.35h-1.35zm0.7 -0.1h1.35v1.35h-1.35zm2.6 -0.2h1.35v1.35h-1.35zm-39.3 1.4h1.35v1.35h-1.35zm2.9 0h1.35v1.35h-1.35zm1.5 0h1.35v1.35h-1.35zm2.7 -0.3h1.35v1.35h-1.35zm2.2 0.1h1.35v1.35h-1.35zm1.1 -0.2h1.35v1.35h-1.35zm0.7 0.1h1.35v1.35h-1.35zm1.8 -0.3h1.35v1.35h-1.35zm3 0.2h1.35v1.35h-1.35zm1.3 -0.3h1.35v1.35h-1.35zm0.6 0.6h1.35v1.35h-1.35zm1.1 -0.1h1.35v1.35h-1.35zm1.3 -0.1h1.35v1.35h-1.35zm0.9 0h1.35v1.35h-1.35zm4.1 0.3h1.35v1.35h-1.35zm1.2 -0.4h1.35v1.35h-1.35zm0.5 -0.2h1.35v1.35h-1.35zm2.2 0.5h1.35v1.35h-1.35zm1.2 -0.5h1.35v1.35h-1.35zm0.5 0h1.35v1.35h-1.35zm2.4 0h1.35v1.35h-1.35zm3.8 0h1.35v1.35h-1.35zm1 -0.2h1.35v1.35h-1.35zm3.2 0.3h1.35v1.35h-1.35zm-36.4 1.4h1.35v1.35h-1.35zm1.4 -0.2h1.35v1.35h-1.35zm0.5 0.1h1.35v1.35h-1.35zm1 0.2h1.35v1.35h-1.35zm2.5 -0.4h1.35v1.35h-1.35zm3.2 0.2h1.35v1.35h-1.35zm0.7 -0.5h1.35v1.35h-1.35zm2 0h1.35v1.35h-1.35zm0.7 0.5h1.35v1.35h-1.35zm2.2 -0.5h1.35v1.35h-1.35zm1.3 0.5h1.35v1.35h-1.35zm1.1 -0.4h1.35v1.35h-1.35zm0.5 0h1.35v1.35h-1.35zm1 0.6h1.35v1.35h-1.35zm1.9 0h1.35v1.35h-1.35zm1.9 -0.4h1.35v1.35h-1.35zm1.9 0.3h1.35v1.35h-1.35zm1.1 -0.5h1.35v1.35h-1.35zm2.6 0.2h1.35v1.35h-1.35zm0.4 0h1.35v1.35h-1.35zm2.5 -0.2h1.35v1.35h-1.35zm0.6 0.5h1.35v1.35h-1.35zm1.1 -0.5h1.35v1.35h-1.35zm2.2 0.1h1.35v1.35h-1.35zm-32 1.4h1.35v1.35h-1.35zm1 -0.1h1.35v1.35h-1.35zm0.6 0.1h1.35v1.35h-1.35zm1.3 -0.6h1.35v1.35h-1.35zm1.3 0.6h1.35v1.35h-1.35zm2 -0.3h1.35v1.35h-1.35zm1.1 -0.3h1.35v1.35h-1.35zm0.5 0.1h1.35v1.35h-1.35zm1.4 0.2h1.35v1.35h-1.35zm3.5 -0.2h1.35v1.35h-1.35zm1.3 0.6h1.35v1.35h-1.35zm0.8 -0.6h1.35v1.35h-1.35zm2.2 -0.1h1.35v1.35h-1.35zm1.1 0.5h1.35v1.35h-1.35zm2.5 0.2h1.35v1.35h-1.35zm1.2 -0.4h1.35v1.35h-1.35zm2 0.1h1.35v1.35h-1.35zm3.4 0.3h1.35v1.35h-1.35zm0.8 0h1.35v1.35h-1.35zm2.3 -0.3h1.35v1.35h-1.35zm0.6 0.1h1.35v1.35h-1.35zm1.4 -0.1h1.35v1.35h-1.35zm-36.1 1.3h1.35v1.35h-1.35zm1.4 -0.1h1.35v1.35h-1.35zm2 -0.1h1.35v1.35h-1.35zm1.5 -0.5h1.35v1.35h-1.35zm0.7 0.1h1.35v1.35h-1.35zm1.2 0.2h1.35v1.35h-1.35zm0.5 0h1.35v1.35h-1.35zm2.6 0h1.35v1.35h-1.35zm1.7 0.1h1.35v1.35h-1.35zm0.8 -0.4h1.35v1.35h-1.35zm2.7 0.1h1.35v1.35h-1.35zm1.8 0.2h1.35v1.35h-1.35zm0.8 0h1.35v1.35h-1.35zm1.1 -0.3h1.35v1.35h-1.35zm2.3 0h1.35v1.35h-1.35zm0.7 0.4h1.35v1.35h-1.35zm1.8 -0.2h1.35v1.35h-1.35zm3.5 0.1h1.35v1.35h-1.35zm2.6 -0.2h1.35v1.35h-1.35zm-23 0.9h1.35v1.35h-1.35zm0.7 0.4h1.35v1.35h-1.35zm1.3 0.3h1.35v1.35h-1.35zm1.1 -0.3h1.35v1.35h-1.35zm0.7 0h1.35v1.35h-1.35zm1.2 0h1.35v1.35h-1.35zm2 -0.4h1.35v1.35h-1.35zm4.9 0.2h1.35v1.35h-1.35zm0.8 -0.2h1.35v1.35h-1.35zm2.7 0.4h1.35v1.35h-1.35zm0.2 0.1h1.35v1.35h-1.35zm1.5 -0.6h1.35v1.35h-1.35zm0.7 0.1h1.35v1.35h-1.35zm1.3 0.3h1.35v1.35h-1.35zm1.6 0.3h1.35v1.35h-1.35zm1.2 -0.1h1.35v1.35h-1.35zm0.9 0.1h1.35v1.35h-1.35zm1.3 -0.3h1.35v1.35h-1.35zm-20.9 1.1h1.35v1.35h-1.35zm1.9 -0.4h1.35v1.35h-1.35zm1 0.4h1.35v1.35h-1.35zm3.1 -0.3h1.35v1.35h-1.35zm1.2 0.5h1.35v1.35h-1.35zm0.7 -0.2h1.35v1.35h-1.35zm0.5 0.2h1.35v1.35h-1.35zm1.4 -0.3h1.35v1.35h-1.35zm3.2 -0.2h1.35v1.35h-1.35zm0.6 0h1.35v1.35h-1.35zm6.6 0.1h1.35v1.35h-1.35zm9.5 -0.1h1.35v1.35h-1.35zm-32.2 1.4h1.35v1.35h-1.35zm1.1 0.1h1.35v1.35h-1.35zm6.3 -0.2h1.35v1.35h-1.35zm3.1 -0.4h1.35v1.35h-1.35zm0.8 0.5h1.35v1.35h-1.35zm0.8 -0.3h1.35v1.35h-1.35zm1 0.1h1.35v1.35h-1.35zm0.9 -0.1h1.35v1.35h-1.35zm2.1 0.4h1.35v1.35h-1.35zm1.3 -0.6h1.35v1.35h-1.35zm-24.3 1.3h1.35v1.35h-1.35zm2.9 0.3h1.35v1.35h-1.35zm4.2 -0.5h1.35v1.35h-1.35zm4.4 0.5h1.35v1.35h-1.35zm2.4 -0.1h1.35v1.35h-1.35zm5.3 -0.6h1.35v1.35h-1.35zm1.9 1.6h1.35v1.35h-1.35zm1.5 -0.2h1.35v1.35h-1.35zm-9.4 0.9h1.35v1.35h-1.35zm-0.8 0.8h1.35v1.35h-1.35zm8.1 0.4h1.35v1.35h-1.35zm4.8 -0.4h1.35v1.35h-1.35zm8.7 0.4h1.35v1.35h-1.35zm-36.6 0.5h1.35v1.35h-1.35zm31.8 0.7h1.35v1.35h-1.35zm-1.4 6.9h1.35v1.35h-1.35zm-4.2 0.6h1.35v1.35h-1.35z"/><path fill="#2a74b8" d="M440 172h7v1h-7zM438 173h6v1h-6zM446 173h1v1h-1zM438 174h10v1h-10zM437 175h2v1h-2zM440 175h6v1h-6zM447 175h1v1h-1zM437 176h12v1h-12zM436 177h9v1h-9zM446 177h4v1h-4zM436 178h5v1h-5zM442 178h8v1h-8zM435 179h7v1h-7zM443 179h7v1h-7zM435 180h3v1h-3zM440 180h3v1h-3zM444 180h6v1h-6zM435 181h2v1h-2zM438 181h12v1h-12zM435 182h3v1h-3zM439 182h4v1h-4zM444 182h3v1h-3zM448 182h2v1h-2zM435 183h14v1h-14zM435 184h2v1h-2zM438 184h1v1h-1zM440 184h10v1h-10zM435 185h6v1h-6zM442 185h4v1h-4zM447 185h3v1h-3zM436 186h12v1h-12zM449 186h1v1h-1zM435 187h6v1h-6zM442 187h8v1h-8zM435 188h6v1h-6zM443 188h7v1h-7zM435 189h15v1h-15zM435 190h1v1h-1zM437 190h13v1h-13zM435 191h4v1h-4zM440 191h10v1h-10zM435 192h15v1h-15zM435 193h1v1h-1zM437 193h13v1h-13zM435 194h15v1h-15zM435 195h12v1h-12zM448 195h2v1h-2zM436 196h6v1h-6zM443 196h5v1h-5zM436 197h13v1h-13zM437 198h12v1h-12zM438 199h8v1h-8zM447 199h2v1h-2zM439 200h9v1h-9z"/><path fill="#1f5740" d="M0 0m101.7 271.8h1.35v1.35h-1.35zm1.8 2.7h1.35v1.35h-1.35zm-1.7 3.5h1.35v1.35h-1.35zm-9.6 6.6h1.35v1.35h-1.35zm21.7 0.5h1.35v1.35h-1.35zm-20.2 0.5h1.35v1.35h-1.35zm3.7 1.6h1.35v1.35h-1.35zm0.8 0.2h1.35v1.35h-1.35zm3.3 0.7h1.35v1.35h-1.35zm-6.8 0.4h1.35v1.35h-1.35zm1 0h1.35v1.35h-1.35zm-10.8 1.6h1.35v1.35h-1.35zm1.8 0.1h1.35v1.35h-1.35zm3.2 0h1.35v1.35h-1.35zm4.3 -0.3h1.35v1.35h-1.35zm4.3 -0.2h1.35v1.35h-1.35zm-7 1.5h1.35v1.35h-1.35zm2.6 0h1.35v1.35h-1.35zm1.4 -0.5h1.35v1.35h-1.35zm-19.7 1h1.35v1.35h-1.35zm6 0h1.35v1.35h-1.35zm2.8 -0.3h1.35v1.35h-1.35zm4.2 0.5h1.35v1.35h-1.35zm1.9 -0.3h1.35v1.35h-1.35zm17.9 0h1.35v1.35h-1.35zm-28.6 1.4h1.35v1.35h-1.35zm2 0h1.35v1.35h-1.35zm3.2 -0.2h1.35v1.35h-1.35zm1.7 0.4h1.35v1.35h-1.35zm3.6 -0.6h1.35v1.35h-1.35zm2.2 -0.1h1.35v1.35h-1.35zm3.8 0.1h1.35v1.35h-1.35zm1.3 -0.1h1.35v1.35h-1.35zm4.2 0h1.35v1.35h-1.35zm1.5 0.2h1.35v1.35h-1.35zm-24 1.4h1.35v1.35h-1.35zm3.4 -0.4h1.35v1.35h-1.35zm1.3 0h1.35v1.35h-1.35zm0.2 0.3h1.35v1.35h-1.35zm4.2 -0.1h1.35v1.35h-1.35zm0.9 -0.1h1.35v1.35h-1.35zm5.3 0h1.35v1.35h-1.35zm4.9 -0.4h1.35v1.35h-1.35zm1.2 0.3h1.35v1.35h-1.35zm-23.5 1.5h1.35v1.35h-1.35zm1.5 -0.5h1.35v1.35h-1.35zm10.5 0.5h1.35v1.35h-1.35zm4.8 -0.5h1.35v1.35h-1.35zm0.6 -0.2h1.35v1.35h-1.35zm0.9 0.7h1.35v1.35h-1.35zm4.9 -0.4h1.35v1.35h-1.35zm1.5 -0.3h1.35v1.35h-1.35zm1.8 0.1h1.35v1.35h-1.35zm-23.2 1.5h1.35v1.35h-1.35zm5 -0.5h1.35v1.35h-1.35zm2.9 0.6h1.35v1.35h-1.35zm1.5 -0.6h1.35v1.35h-1.35zm0.6 0.4h1.35v1.35h-1.35zm0.8 0h1.35v1.35h-1.35zm2.3 0h1.35v1.35h-1.35zm5 0h1.35v1.35h-1.35zm2.3 -0.5h1.35v1.35h-1.35zm0.5 0.6h1.35v1.35h-1.35zm-28.4 0.5h1.35v1.35h-1.35zm9.7 0.3h1.35v1.35h-1.35zm1.1 0.3h1.35v1.35h-1.35zm1.6 -0.5h1.35v1.35h-1.35zm3.6 -0.1h1.35v1.35h-1.35zm4.9 0.1h1.35v1.35h-1.35zm2.7 -0.1h1.35v1.35h-1.35zm1.7 0h1.35v1.35h-1.35zm1.3 0.3h1.35v1.35h-1.35zm-24.6 0.6h1.35v1.35h-1.35zm3.3 0.2h1.35v1.35h-1.35zm1.1 0.1h1.35v1.35h-1.35zm4.5 0h1.35v1.35h-1.35zm3.5 0h1.35v1.35h-1.35zm1 -0.1h1.35v1.35h-1.35zm2.2 -0.2h1.35v1.35h-1.35zm1.9 0.5h1.35v1.35h-1.35zm7.8 -0.4h1.35v1.35h-1.35zm-21.3 1.4h1.35v1.35h-1.35zm0.3 -0.3h1.35v1.35h-1.35zm12.7 -0.2h1.35v1.35h-1.35zm2.9 0.4h1.35v1.35h-1.35zm1 -0.4h1.35v1.35h-1.35zm1.9 0h1.35v1.35h-1.35zm2.7 0.6h1.35v1.35h-1.35zm-26 0.4h1.35v1.35h-1.35zm2 0.4h1.35v1.35h-1.35zm1.8 0.2h1.35v1.35h-1.35zm3.6 -0.5h1.35v1.35h-1.35zm5.1 0h1.35v1.35h-1.35zm0.5 0.5h1.35v1.35h-1.35zm1.5 -0.6h1.35v1.35h-1.35zm1.7 0.6h1.35v1.35h-1.35zm3.2 -0.1h1.35v1.35h-1.35zm0.4 -0.4h1.35v1.35h-1.35zm1.2 0.5h1.35v1.35h-1.35zm1.8 -0.5h1.35v1.35h-1.35zm-20.9 1.3h1.35v1.35h-1.35zm2.1 -0.2h1.35v1.35h-1.35zm5.5 -0.1h1.35v1.35h-1.35zm0.5 0.4h1.35v1.35h-1.35zm2.3 -0.3h1.35v1.35h-1.35zm0.6 0.2h1.35v1.35h-1.35zm4.5 -0.5h1.35v1.35h-1.35zm1.6 0.1h1.35v1.35h-1.35zm1.3 0.4h1.35v1.35h-1.35zm0.7 -0.4h1.35v1.35h-1.35zm3.1 0.6h1.35v1.35h-1.35zm-15.1 0.8h1.35v1.35h-1.35zm4.4 0.1h1.35v1.35h-1.35zm0.7 0.1h1.35v1.35h-1.35zm3 -0.4h1.35v1.35h-1.35zm2 0h1.35v1.35h-1.35zm-19.3 1.3h1.35v1.35h-1.35zm1.3 -0.5h1.35v1.35h-1.35zm1.3 0.4h1.35v1.35h-1.35zm0.6 -0.3h1.35v1.35h-1.35zm1.4 0.5h1.35v1.35h-1.35zm4.7 -0.1h1.35v1.35h-1.35zm3.3 -0.3h1.35v1.35h-1.35zm0.5 0.4h1.35v1.35h-1.35zm1 -0.2h1.35v1.35h-1.35zm2.6 0.1h1.35v1.35h-1.35zm0.9 0.2h1.35v1.35h-1.35zm5.5 -0.4h1.35v1.35h-1.35zm1.9 0h1.35v1.35h-1.35zm2.7 0.3h1.35v1.35h-1.35zm12.7 -0.3h1.35v1.35h-1.35zm-39.4 0.8h1.35v1.35h-1.35zm1.2 0h1.35v1.35h-1.35zm0.9 0.4h1.35v1.35h-1.35zm1.3 0.1h1.35v1.35h-1.35zm3.6 -0.5h1.35v1.35h-1.35zm3.3 0.1h1.35v1.35h-1.35zm1.2 0.1h1.35v1.35h-1.35zm2.6 -0.3h1.35v1.35h-1.35zm1.3 0.2h1.35v1.35h-1.35zm2.7 0.2h1.35v1.35h-1.35zm1.2 -0.1h1.35v1.35h-1.35zm-12.6 0.7h1.35v1.35h-1.35zm6 0.2h1.35v1.35h-1.35zm2 0.4h1.35v1.35h-1.35zm0.5 -0.5h1.35v1.35h-1.35zm3.4 0h1.35v1.35h-1.35zm0.5 -0.1h1.35v1.35h-1.35zm1.1 0.4h1.35v1.35h-1.35zm1.4 0.2h1.35v1.35h-1.35zm1.8 -0.4h1.35v1.35h-1.35zm-39.8 0.9h1.35v1.35h-1.35zm13 0h1.35v1.35h-1.35zm2.4 -0.1h1.35v1.35h-1.35zm1 0.7h1.35v1.35h-1.35zm1.7 -0.4h1.35v1.35h-1.35zm1.7 0h1.35v1.35h-1.35zm0.7 0.3h1.35v1.35h-1.35zm1 -0.2h1.35v1.35h-1.35zm3 -0.4h1.35v1.35h-1.35zm1 0.6h1.35v1.35h-1.35zm5.2 -0.1h1.35v1.35h-1.35zm2.2 -0.1h1.35v1.35h-1.35zm8.1 0.3h1.35v1.35h-1.35zm-28.4 0.5h1.35v1.35h-1.35zm11.3 0.4h1.35v1.35h-1.35zm1.2 -0.5h1.35v1.35h-1.35zm3.8 0h1.35v1.35h-1.35zm1.2 -0.1h1.35v1.35h-1.35zm1.7 0.2h1.35v1.35h-1.35zm3.9 0.2h1.35v1.35h-1.35zm1.4 -0.3h1.35v1.35h-1.35zm6.5 0.5h1.35v1.35h-1.35zm-40 1h1.35v1.35h-1.35zm9.3 -0.6h1.35v1.35h-1.35zm0.8 0h1.35v1.35h-1.35zm0.9 0.7h1.35v1.35h-1.35zm2.5 -0.5h1.35v1.35h-1.35zm0.5 0.3h1.35v1.35h-1.35zm3.9 -0.2h1.35v1.35h-1.35zm2.4 0.4h1.35v1.35h-1.35zm1.6 -0.5h1.35v1.35h-1.35zm1.4 0.1h1.35v1.35h-1.35zm2.2 0.1h1.35v1.35h-1.35zm1.6 0.2h1.35v1.35h-1.35zm10.3 -0.6h1.35v1.35h-1.35zm-38.7 1.6h1.35v1.35h-1.35zm10.1 0h1.35v1.35h-1.35zm2.1 -0.6h1.35v1.35h-1.35zm1.1 0h1.35v1.35h-1.35zm1.2 0.7h1.35v1.35h-1.35zm1.2 0h1.35v1.35h-1.35zm0.7 -0.3h1.35v1.35h-1.35zm1.1 -0.1h1.35v1.35h-1.35zm2.9 -0.1h1.35v1.35h-1.35zm2.2 -0.1h1.35v1.35h-1.35zm0.7 0.4h1.35v1.35h-1.35zm2.4 -0.3h1.35v1.35h-1.35zm0.6 0.4h1.35v1.35h-1.35zm1 -0.3h1.35v1.35h-1.35zm1.3 -0.3h1.35v1.35h-1.35zm0.9 0.5h1.35v1.35h-1.35zm0.6 -0.1h1.35v1.35h-1.35zm1.5 0.1h1.35v1.35h-1.35zm2.9 0h1.35v1.35h-1.35zm-23.2 0.7h1.35v1.35h-1.35zm3.4 -0.2h1.35v1.35h-1.35zm1 0.2h1.35v1.35h-1.35zm0.5 0.3h1.35v1.35h-1.35zm4.5 0.1h1.35v1.35h-1.35zm1.1 -0.5h1.35v1.35h-1.35zm0.2 0.3h1.35v1.35h-1.35zm2.1 0h1.35v1.35h-1.35zm3.7 0h1.35v1.35h-1.35zm0.6 0.2h1.35v1.35h-1.35zm1.2 -0.2h1.35v1.35h-1.35zm5 0.1h1.35v1.35h-1.35zm1.9 -0.5h1.35v1.35h-1.35zm-26.2 1.4h1.35v1.35h-1.35zm4 0.3h1.35v1.35h-1.35zm1.8 -0.6h1.35v1.35h-1.35zm1.1 0.5h1.35v1.35h-1.35zm1.4 -0.6h1.35v1.35h-1.35zm0.9 0.6h1.35v1.35h-1.35zm1.1 -0.4h1.35v1.35h-1.35zm1.1 -0.2h1.35v1.35h-1.35zm0.4 0.3h1.35v1.35h-1.35zm1.4 0h1.35v1.35h-1.35zm0.8 0.1h1.35v1.35h-1.35zm2.1 0.2h1.35v1.35h-1.35zm0.7 -0.5h1.35v1.35h-1.35zm6.7 0.4h1.35v1.35h-1.35zm-22 1h1.35v1.35h-1.35zm2.4 -0.4h1.35v1.35h-1.35zm1.1 0.2h1.35v1.35h-1.35zm0.8 -0.2h1.35v1.35h-1.35zm1.5 0.5h1.35v1.35h-1.35zm0.8 0h1.35v1.35h-1.35zm1.2 -0.5h1.35v1.35h-1.35zm1.2 0.2h1.35v1.35h-1.35zm1 0.2h1.35v1.35h-1.35zm1 0h1.35v1.35h-1.35zm0.7 0.2h1.35v1.35h-1.35zm1.3 -0.1h1.35v1.35h-1.35zm0.6 -0.1h1.35v1.35h-1.35zm1.1 0h1.35v1.35h-1.35zm1.1 -0.4h1.35v1.35h-1.35zm4.4 0.4h1.35v1.35h-1.35zm1.4 -0.3h1.35v1.35h-1.35zm-26.6 1.1h1.35v1.35h-1.35zm3.9 0.1h1.35v1.35h-1.35zm0.4 0.3h1.35v1.35h-1.35zm2.5 -0.1h1.35v1.35h-1.35zm0.6 -0.5h1.35v1.35h-1.35zm1.1 0.4h1.35v1.35h-1.35zm1.1 -0.3h1.35v1.35h-1.35zm1.1 0.1h1.35v1.35h-1.35zm1.3 -0.3h1.35v1.35h-1.35zm1.7 0.5h1.35v1.35h-1.35zm0.9 -0.1h1.35v1.35h-1.35zm1 -0.3h1.35v1.35h-1.35zm1.4 0h1.35v1.35h-1.35zm0.8 0h1.35v1.35h-1.35zm1.2 -0.1h1.35v1.35h-1.35zm1.9 0.4h1.35v1.35h-1.35zm0.6 -0.1h1.35v1.35h-1.35zm3.7 0h1.35v1.35h-1.35zm4 0.2h1.35v1.35h-1.35zm-40.8 0.8h1.35v1.35h-1.35zm16.6 0.4h1.35v1.35h-1.35zm0.9 -0.6h1.35v1.35h-1.35zm0.7 0.1h1.35v1.35h-1.35zm0.8 0.5h1.35v1.35h-1.35zm1.1 -0.3h1.35v1.35h-1.35zm1.3 -0.2h1.35v1.35h-1.35zm0.6 -0.2h1.35v1.35h-1.35zm1.3 0.5h1.35v1.35h-1.35zm1.2 0.1h1.35v1.35h-1.35zm0.5 0.1h1.35v1.35h-1.35zm2.3 0h1.35v1.35h-1.35zm1 -0.2h1.35v1.35h-1.35zm0.6 -0.2h1.35v1.35h-1.35zm1.6 0.3h1.35v1.35h-1.35zm0.6 -0.3h1.35v1.35h-1.35zm1.8 0.3h1.35v1.35h-1.35zm1.1 0.1h1.35v1.35h-1.35zm2.6 -0.7h1.35v1.35h-1.35zm-33.3 1.2h1.35v1.35h-1.35zm12.2 -0.3h1.35v1.35h-1.35zm1.1 0.2h1.35v1.35h-1.35zm0.8 0.4h1.35v1.35h-1.35zm1.2 -0.1h1.35v1.35h-1.35zm0.7 -0.4h1.35v1.35h-1.35zm0.9 0.5h1.35v1.35h-1.35zm1.3 -0.5h1.35v1.35h-1.35zm0.6 0.5h1.35v1.35h-1.35zm1.4 -0.1h1.35v1.35h-1.35zm1 0h1.35v1.35h-1.35zm2 -0.5h1.35v1.35h-1.35zm0.8 0.4h1.35v1.35h-1.35zm2.3 0h1.35v1.35h-1.35zm0.5 0.1h1.35v1.35h-1.35zm1 -0.2h1.35v1.35h-1.35zm0.9 -0.3h1.35v1.35h-1.35zm1.1 0.1h1.35v1.35h-1.35zm2.2 0h1.35v1.35h-1.35zm-28.3 1.5h1.35v1.35h-1.35zm4.3 -0.5h1.35v1.35h-1.35zm2.2 0.1h1.35v1.35h-1.35zm2.6 0.4h1.35v1.35h-1.35zm1.1 -0.3h1.35v1.35h-1.35zm1.3 0.1h1.35v1.35h-1.35zm0.9 0.1h1.35v1.35h-1.35zm1.9 -0.3h1.35v1.35h-1.35zm1.3 0.3h1.35v1.35h-1.35zm1 -0.4h1.35v1.35h-1.35zm0.5 0.2h1.35v1.35h-1.35zm2.8 0.3h1.35v1.35h-1.35zm1.2 -0.6h1.35v1.35h-1.35zm0.9 0.2h1.35v1.35h-1.35zm1.2 -0.1h1.35v1.35h-1.35zm1.3 0.2h1.35v1.35h-1.35zm0.5 0.2h1.35v1.35h-1.35zm1.3 -0.1h1.35v1.35h-1.35zm0.8 -0.2h1.35v1.35h-1.35zm2 0h1.35v1.35h-1.35zm4.4 0.1h1.35v1.35h-1.35zm-35.4 0.8h1.35v1.35h-1.35zm4.2 0.2h1.35v1.35h-1.35zm1.1 -0.2h1.35v1.35h-1.35zm1.6 0.1h1.35v1.35h-1.35zm0.9 -0.1h1.35v1.35h-1.35zm1.1 0h1.35v1.35h-1.35zm0.9 0h1.35v1.35h-1.35zm1.3 0.1h1.35v1.35h-1.35zm1 0.3h1.35v1.35h-1.35zm1.1 0h1.35v1.35h-1.35zm1.7 -0.1h1.35v1.35h-1.35zm2.6 0.2h1.35v1.35h-1.35zm0.9 0.1h1.35v1.35h-1.35zm1 -0.3h1.35v1.35h-1.35zm0.4 -0.1h1.35v1.35h-1.35zm1 0.1h1.35v1.35h-1.35zm1 -0.3h1.35v1.35h-1.35zm1.4 0h1.35v1.35h-1.35zm0.7 0.1h1.35v1.35h-1.35zm1.1 0.1h1.35v1.35h-1.35zm1.1 0.2h1.35v1.35h-1.35zm0.8 -0.2h1.35v1.35h-1.35zm1.2 0.3h1.35v1.35h-1.35zm0.7 -0.2h1.35v1.35h-1.35zm4.7 0.4h1.35v1.35h-1.35zm0.8 -0.2h1.35v1.35h-1.35zm9.8 -0.3h1.35v1.35h-1.35zm-59 1h1.35v1.35h-1.35zm21.1 -0.1h1.35v1.35h-1.35zm4 0h1.35v1.35h-1.35zm2.2 -0.1h1.35v1.35h-1.35zm0.8 0.4h1.35v1.35h-1.35zm3.3 0.3h1.35v1.35h-1.35zm1.6 -0.6h1.35v1.35h-1.35zm0.9 0.3h1.35v1.35h-1.35zm0.9 0.1h1.35v1.35h-1.35zm2.9 -0.2h1.35v1.35h-1.35zm1.7 0.1h1.35v1.35h-1.35zm0.5 0.1h1.35v1.35h-1.35zm0.8 0.1h1.35v1.35h-1.35zm1.1 -0.5h1.35v1.35h-1.35zm2 0.4h1.35v1.35h-1.35zm0.9 0h1.35v1.35h-1.35zm-46.4 0.5h1.35v1.35h-1.35zm18.1 0.7h1.35v1.35h-1.35zm2.3 -0.7h1.35v1.35h-1.35zm2.5 0.1h1.35v1.35h-1.35zm0.9 0.2h1.35v1.35h-1.35zm0.6 -0.3h1.35v1.35h-1.35zm1.3 0.4h1.35v1.35h-1.35zm1.1 -0.4h1.35v1.35h-1.35zm1 0.1h1.35v1.35h-1.35zm2.2 0.2h1.35v1.35h-1.35zm0.4 0.2h1.35v1.35h-1.35zm1.2 -0.2h1.35v1.35h-1.35zm0.9 0.2h1.35v1.35h-1.35zm2.5 -0.3h1.35v1.35h-1.35zm2.4 0h1.35v1.35h-1.35zm1.4 0.1h1.35v1.35h-1.35zm0.8 -0.3h1.35v1.35h-1.35zm2.1 0.7h1.35v1.35h-1.35zm1.3 -0.8h1.35v1.35h-1.35zm1.1 0.8h1.35v1.35h-1.35zm1.7 -0.8h1.35v1.35h-1.35zm1.7 0.2h1.35v1.35h-1.35zm10.5 0.6h1.35v1.35h-1.35zm12.7 -0.4h1.35v1.35h-1.35zm-54.3 0.7h1.35v1.35h-1.35zm5.7 0.2h1.35v1.35h-1.35zm0.3 0.4h1.35v1.35h-1.35zm1.6 -0.5h1.35v1.35h-1.35zm1 0.1h1.35v1.35h-1.35zm0.8 0h1.35v1.35h-1.35zm1.2 -0.2h1.35v1.35h-1.35zm0.6 0.1h1.35v1.35h-1.35zm1.3 0.2h1.35v1.35h-1.35zm1.1 0.2h1.35v1.35h-1.35zm0.8 0h1.35v1.35h-1.35zm0.8 -0.1h1.35v1.35h-1.35zm2 0.1h1.35v1.35h-1.35zm2.2 -0.5h1.35v1.35h-1.35zm0.8 0h1.35v1.35h-1.35zm1.5 0.4h1.35v1.35h-1.35zm0.8 0.3h1.35v1.35h-1.35zm0.5 -0.6h1.35v1.35h-1.35zm1.2 0.4h1.35v1.35h-1.35zm0.8 0.2h1.35v1.35h-1.35zm1 0h1.35v1.35h-1.35zm1.5 -0.8h1.35v1.35h-1.35zm1.7 0.5h1.35v1.35h-1.35zm0.9 -0.3h1.35v1.35h-1.35zm1 0.5h1.35v1.35h-1.35zm1.1 -0.3h1.35v1.35h-1.35zm13.2 -0.1h1.35v1.35h-1.35zm1.8 0h1.35v1.35h-1.35zm-78.5 1.5h1.35v1.35h-1.35zm32 -0.4h1.35v1.35h-1.35zm0.2 -0.3h1.35v1.35h-1.35zm1.1 0.5h1.35v1.35h-1.35zm4.7 0.2h1.35v1.35h-1.35zm0.3 -0.2h1.35v1.35h-1.35zm1.5 -0.3h1.35v1.35h-1.35zm0.5 0.5h1.35v1.35h-1.35zm1.2 -0.6h1.35v1.35h-1.35zm1.2 0.3h1.35v1.35h-1.35zm1.1 -0.1h1.35v1.35h-1.35zm1.1 0.2h1.35v1.35h-1.35zm0.9 0.1h1.35v1.35h-1.35zm0.6 -0.4h1.35v1.35h-1.35zm1 -0.2h1.35v1.35h-1.35zm1.1 0.1h1.35v1.35h-1.35zm2 0.4h1.35v1.35h-1.35zm1.8 0.2h1.35v1.35h-1.35zm2.5 -0.1h1.35v1.35h-1.35zm0.5 -0.5h1.35v1.35h-1.35zm1.1 -0.1h1.35v1.35h-1.35zm1.3 0.1h1.35v1.35h-1.35zm1.7 0.4h1.35v1.35h-1.35zm1.5 -0.1h1.35v1.35h-1.35zm2.1 0h1.35v1.35h-1.35zm1.3 -0.2h1.35v1.35h-1.35zm-30.6 1.2h1.35v1.35h-1.35zm0.6 -0.4h1.35v1.35h-1.35zm1 0h1.35v1.35h-1.35zm2.1 0.6h1.35v1.35h-1.35zm1.3 0h1.35v1.35h-1.35zm1 -0.6h1.35v1.35h-1.35zm0.8 0.4h1.35v1.35h-1.35zm1.1 0.3h1.35v1.35h-1.35zm1.2 -0.3h1.35v1.35h-1.35zm1 0.1h1.35v1.35h-1.35zm1 -0.4h1.35v1.35h-1.35zm1.7 0.3h1.35v1.35h-1.35zm1.1 -0.3h1.35v1.35h-1.35zm0.9 0.4h1.35v1.35h-1.35zm1.4 0h1.35v1.35h-1.35zm0.5 -0.3h1.35v1.35h-1.35zm1.4 0.4h1.35v1.35h-1.35zm1.1 -0.4h1.35v1.35h-1.35zm0.4 -0.3h1.35v1.35h-1.35zm1.5 0.8h1.35v1.35h-1.35zm1.1 -0.6h1.35v1.35h-1.35zm1.4 0.6h1.35v1.35h-1.35zm2.1 -0.1h1.35v1.35h-1.35zm1.5 -0.2h1.35v1.35h-1.35zm1.4 0h1.35v1.35h-1.35zm1.2 -0.5h1.35v1.35h-1.35zm-31.7 1.7h1.35v1.35h-1.35zm3 -0.1h1.35v1.35h-1.35zm1.2 0.2h1.35v1.35h-1.35zm0.7 -0.3h1.35v1.35h-1.35zm1.2 0.2h1.35v1.35h-1.35zm0.7 -0.5h1.35v1.35h-1.35zm0.7 0.1h1.35v1.35h-1.35zm1.5 0.2h1.35v1.35h-1.35zm0.9 0.1h1.35v1.35h-1.35zm1.3 -0.5h1.35v1.35h-1.35zm0.6 0.2h1.35v1.35h-1.35zm1.3 -0.2h1.35v1.35h-1.35zm0.7 0h1.35v1.35h-1.35zm0.9 0.3h1.35v1.35h-1.35zm3.1 -0.3h1.35v1.35h-1.35zm3.2 0.4h1.35v1.35h-1.35zm0.9 -0.1h1.35v1.35h-1.35zm0.9 0.1h1.35v1.35h-1.35zm0.8 -0.2h1.35v1.35h-1.35zm1.2 0.5h1.35v1.35h-1.35zm1.1 -0.6h1.35v1.35h-1.35zm0.6 -0.1h1.35v1.35h-1.35zm1.1 0.6h1.35v1.35h-1.35zm1.3 -0.5h1.35v1.35h-1.35zm1.8 0h1.35v1.35h-1.35zm-34.2 1.3h1.35v1.35h-1.35zm3 -0.3h1.35v1.35h-1.35zm2.5 0h1.35v1.35h-1.35zm1.2 0h1.35v1.35h-1.35zm0.8 0.1h1.35v1.35h-1.35zm0.9 0.3h1.35v1.35h-1.35zm0.8 0h1.35v1.35h-1.35zm1.4 0.2h1.35v1.35h-1.35zm0.9 -0.1h1.35v1.35h-1.35zm1.4 -0.7h1.35v1.35h-1.35zm1.7 0.1h1.35v1.35h-1.35zm0.7 0.2h1.35v1.35h-1.35zm1.2 0.4h1.35v1.35h-1.35zm0.6 0h1.35v1.35h-1.35zm1.8 -0.2h1.35v1.35h-1.35zm1.7 0.1h1.35v1.35h-1.35zm0.5 0.2h1.35v1.35h-1.35zm1.1 0h1.35v1.35h-1.35zm1.3 -0.2h1.35v1.35h-1.35zm0.7 -0.2h1.35v1.35h-1.35zm0.9 0.1h1.35v1.35h-1.35zm1.2 0.1h1.35v1.35h-1.35zm1.2 -0.2h1.35v1.35h-1.35zm1 -0.3h1.35v1.35h-1.35zm0.6 0.4h1.35v1.35h-1.35zm1.4 -0.1h1.35v1.35h-1.35zm0.8 0.3h1.35v1.35h-1.35zm0.9 0.1h1.35v1.35h-1.35zm0.9 -0.4h1.35v1.35h-1.35zm2.1 0.3h1.35v1.35h-1.35zm-32.9 0.5h1.35v1.35h-1.35zm2 0.3h1.35v1.35h-1.35zm0.9 -0.2h1.35v1.35h-1.35zm0.7 0.4h1.35v1.35h-1.35zm1.2 -0.2h1.35v1.35h-1.35zm0.8 0.1h1.35v1.35h-1.35zm1.7 0h1.35v1.35h-1.35zm1 -0.3h1.35v1.35h-1.35zm0.9 0.4h1.35v1.35h-1.35zm1.9 -0.3h1.35v1.35h-1.35zm1.8 -0.2h1.35v1.35h-1.35zm1.3 0.6h1.35v1.35h-1.35zm1.7 -0.7h1.35v1.35h-1.35zm1.4 0.6h1.35v1.35h-1.35zm0.4 -0.4h1.35v1.35h-1.35zm1.5 0.2h1.35v1.35h-1.35zm0.7 -0.2h1.35v1.35h-1.35zm1.4 0.4h1.35v1.35h-1.35zm2.7 -0.7h1.35v1.35h-1.35zm1.1 0.7h1.35v1.35h-1.35zm1 -0.4h1.35v1.35h-1.35zm1.1 0.4h1.35v1.35h-1.35zm1 -0.3h1.35v1.35h-1.35zm1 0h1.35v1.35h-1.35zm1.6 0.4h1.35v1.35h-1.35zm1.1 -0.3h1.35v1.35h-1.35zm2.3 0.3h1.35v1.35h-1.35zm4.1 -0.5h1.35v1.35h-1.35zm-36.9 1.4h1.35v1.35h-1.35zm1.4 -0.7h1.35v1.35h-1.35zm0.9 0.8h1.35v1.35h-1.35zm1 -0.4h1.35v1.35h-1.35zm1.7 0.3h1.35v1.35h-1.35zm0.6 -0.1h1.35v1.35h-1.35zm0.7 0.1h1.35v1.35h-1.35zm1.3 -0.5h1.35v1.35h-1.35zm0.7 -0.1h1.35v1.35h-1.35zm1.7 0.7h1.35v1.35h-1.35zm0.5 -0.1h1.35v1.35h-1.35zm2.5 0.1h1.35v1.35h-1.35zm1.9 -0.1h1.35v1.35h-1.35zm0.6 0.1h1.35v1.35h-1.35zm1 -0.7h1.35v1.35h-1.35zm2.1 0.1h1.35v1.35h-1.35zm1.1 0.1h1.35v1.35h-1.35zm1.1 0.1h1.35v1.35h-1.35zm0.9 0.4h1.35v1.35h-1.35zm1 -0.3h1.35v1.35h-1.35zm0.6 -0.1h1.35v1.35h-1.35zm1.6 0h1.35v1.35h-1.35zm0.5 -0.2h1.35v1.35h-1.35zm1.4 -0.1h1.35v1.35h-1.35zm0.9 0.7h1.35v1.35h-1.35zm1.3 0h1.35v1.35h-1.35zm5.4 -0.5h1.35v1.35h-1.35zm5.9 -0.2h1.35v1.35h-1.35zm-49.9 1.5h1.35v1.35h-1.35zm3.9 0.1h1.35v1.35h-1.35zm1.3 -0.5h1.35v1.35h-1.35zm0.7 0.5h1.35v1.35h-1.35zm4.3 -0.5h1.35v1.35h-1.35zm1.2 0.4h1.35v1.35h-1.35zm0.5 -0.5h1.35v1.35h-1.35zm1.4 0.7h1.35v1.35h-1.35zm0.8 -0.1h1.35v1.35h-1.35zm0.9 -0.6h1.35v1.35h-1.35zm1.3 0.1h1.35v1.35h-1.35zm0.8 0.3h1.35v1.35h-1.35zm1.3 0h1.35v1.35h-1.35zm0.7 -0.4h1.35v1.35h-1.35zm0.8 0h1.35v1.35h-1.35zm1.3 0.2h1.35v1.35h-1.35zm1.1 0.2h1.35v1.35h-1.35zm1.1 -0.2h1.35v1.35h-1.35zm1.1 0.3h1.35v1.35h-1.35zm0.7 -0.5h1.35v1.35h-1.35zm1.1 0.1h1.35v1.35h-1.35zm0.6 0.5h1.35v1.35h-1.35zm1.1 -0.6h1.35v1.35h-1.35zm1.1 0.7h1.35v1.35h-1.35zm1.4 -0.4h1.35v1.35h-1.35zm0.8 -0.2h1.35v1.35h-1.35zm0.5 -0.1h1.35v1.35h-1.35zm1.6 0h1.35v1.35h-1.35zm0.7 0.4h1.35v1.35h-1.35zm1.3 -0.2h1.35v1.35h-1.35zm0.5 0.3h1.35v1.35h-1.35zm1.5 -0.4h1.35v1.35h-1.35zm0.4 0.5h1.35v1.35h-1.35zm1.6 -0.5h1.35v1.35h-1.35zm1.7 0.3h1.35v1.35h-1.35zm2.3 0h1.35v1.35h-1.35zm7.8 0.1h1.35v1.35h-1.35zm-54 0.5h1.35v1.35h-1.35zm11.3 0.3h1.35v1.35h-1.35zm0.6 0.3h1.35v1.35h-1.35zm1.1 -0.6h1.35v1.35h-1.35zm0.9 0.6h1.35v1.35h-1.35zm1.4 -0.1h1.35v1.35h-1.35zm1 -0.3h1.35v1.35h-1.35zm0.4 0.4h1.35v1.35h-1.35zm2.2 -0.4h1.35v1.35h-1.35zm0.8 0.3h1.35v1.35h-1.35zm1 -0.3h1.35v1.35h-1.35zm1.5 0.5h1.35v1.35h-1.35zm1.1 -0.7h1.35v1.35h-1.35zm0.6 0.2h1.35v1.35h-1.35zm1.2 0.3h1.35v1.35h-1.35zm2.2 0h1.35v1.35h-1.35zm1.1 0h1.35v1.35h-1.35zm0.9 -0.3h1.35v1.35h-1.35zm1 -0.1h1.35v1.35h-1.35zm0.5 0.5h1.35v1.35h-1.35zm0.9 -0.2h1.35v1.35h-1.35zm1.2 -0.1h1.35v1.35h-1.35zm0.8 0.1h1.35v1.35h-1.35zm1.2 0h1.35v1.35h-1.35zm2.5 0h1.35v1.35h-1.35zm0.3 -0.4h1.35v1.35h-1.35zm1.7 0.7h1.35v1.35h-1.35zm0.8 -0.4h1.35v1.35h-1.35zm0.9 0.2h1.35v1.35h-1.35zm1.1 -0.5h1.35v1.35h-1.35zm-38.5 1.7h1.35v1.35h-1.35zm3.6 -0.5h1.35v1.35h-1.35zm2.8 0.4h1.35v1.35h-1.35zm2 -0.4h1.35v1.35h-1.35zm1 -0.2h1.35v1.35h-1.35zm0.7 0.2h1.35v1.35h-1.35zm1.5 0.1h1.35v1.35h-1.35zm0.9 0.4h1.35v1.35h-1.35zm1.2 -0.5h1.35v1.35h-1.35zm2.6 -0.2h1.35v1.35h-1.35zm2.1 0.7h1.35v1.35h-1.35zm0.7 -0.8h1.35v1.35h-1.35zm2 0.6h1.35v1.35h-1.35zm1.2 0h1.35v1.35h-1.35zm1.1 -0.2h1.35v1.35h-1.35zm1.2 -0.3h1.35v1.35h-1.35zm0.5 0.4h1.35v1.35h-1.35zm1.2 -0.3h1.35v1.35h-1.35zm0.8 0.5h1.35v1.35h-1.35zm1.2 -0.1h1.35v1.35h-1.35zm0.9 -0.3h1.35v1.35h-1.35zm1.4 -0.2h1.35v1.35h-1.35zm0.9 0h1.35v1.35h-1.35zm1.1 0.2h1.35v1.35h-1.35zm1.1 0.2h1.35v1.35h-1.35zm0.6 0.1h1.35v1.35h-1.35zm1.7 0h1.35v1.35h-1.35zm2.6 0.2h1.35v1.35h-1.35zm0.8 -0.2h1.35v1.35h-1.35zm-47.3 0.4h1.35v1.35h-1.35zm13.9 0.2h1.35v1.35h-1.35zm1.4 0h1.35v1.35h-1.35zm0.6 0.3h1.35v1.35h-1.35zm1.2 -0.3h1.35v1.35h-1.35zm2.3 0.3h1.35v1.35h-1.35zm0.9 -0.3h1.35v1.35h-1.35zm0.8 -0.1h1.35v1.35h-1.35zm1.2 0h1.35v1.35h-1.35zm1 0h1.35v1.35h-1.35zm0.8 0.3h1.35v1.35h-1.35zm1.4 -0.2h1.35v1.35h-1.35zm1 0.5h1.35v1.35h-1.35zm2 0h1.35v1.35h-1.35zm1 -0.3h1.35v1.35h-1.35zm0.9 -0.4h1.35v1.35h-1.35zm1 0.6h1.35v1.35h-1.35zm1.2 -0.4h1.35v1.35h-1.35zm0.3 0.5h1.35v1.35h-1.35zm1.2 -0.4h1.35v1.35h-1.35zm1.1 0.1h1.35v1.35h-1.35zm0.9 0.4h1.35v1.35h-1.35zm1.3 -0.8h1.35v1.35h-1.35zm0.9 0.5h1.35v1.35h-1.35zm1 -0.2h1.35v1.35h-1.35zm0.7 0.5h1.35v1.35h-1.35zm1.3 -0.5h1.35v1.35h-1.35zm1.1 0h1.35v1.35h-1.35zm2.1 0.1h1.35v1.35h-1.35zm0.8 0.3h1.35v1.35h-1.35zm-33.2 0.8h1.35v1.35h-1.35zm2.5 -0.3h1.35v1.35h-1.35zm0.7 0.1h1.35v1.35h-1.35zm1.2 0.3h1.35v1.35h-1.35zm0.7 -0.5h1.35v1.35h-1.35zm0.7 0.6h1.35v1.35h-1.35zm1.7 -0.6h1.35v1.35h-1.35zm0.7 0.1h1.35v1.35h-1.35zm0.9 0.4h1.35v1.35h-1.35zm1.1 0.2h1.35v1.35h-1.35zm1.2 -0.4h1.35v1.35h-1.35zm1 -0.1h1.35v1.35h-1.35zm0.4 -0.1h1.35v1.35h-1.35zm1.5 0h1.35v1.35h-1.35zm0.9 0.2h1.35v1.35h-1.35zm0.6 -0.4h1.35v1.35h-1.35zm1.3 0.2h1.35v1.35h-1.35zm1 0h1.35v1.35h-1.35zm1 0.1h1.35v1.35h-1.35zm0.9 0.3h1.35v1.35h-1.35zm0.9 -0.5h1.35v1.35h-1.35zm0.9 0h1.35v1.35h-1.35zm1.1 0.4h1.35v1.35h-1.35zm1.1 0.2h1.35v1.35h-1.35zm1.9 -0.3h1.35v1.35h-1.35zm1 -0.2h1.35v1.35h-1.35zm1.9 0.3h1.35v1.35h-1.35zm1.4 0.1h1.35v1.35h-1.35zm0.7 0.2h1.35v1.35h-1.35zm0.9 -0.1h1.35v1.35h-1.35zm1.1 -0.6h1.35v1.35h-1.35zm-44.2 1.4h1.35v1.35h-1.35zm5.4 -0.1h1.35v1.35h-1.35zm5.1 0.3h1.35v1.35h-1.35zm0.7 0.1h1.35v1.35h-1.35zm0.9 0h1.35v1.35h-1.35zm1.6 -0.2h1.35v1.35h-1.35zm0.6 0.2h1.35v1.35h-1.35zm1.1 -0.5h1.35v1.35h-1.35zm2.4 -0.1h1.35v1.35h-1.35zm1 0h1.35v1.35h-1.35zm0.9 0.1h1.35v1.35h-1.35zm0.8 -0.2h1.35v1.35h-1.35zm2.1 0.2h1.35v1.35h-1.35zm2 0.5h1.35v1.35h-1.35zm1 -0.3h1.35v1.35h-1.35zm0.8 -0.1h1.35v1.35h-1.35zm1 0.1h1.35v1.35h-1.35zm1.4 0.3h1.35v1.35h-1.35zm0.6 -0.4h1.35v1.35h-1.35zm0.7 -0.3h1.35v1.35h-1.35zm1.7 0h1.35v1.35h-1.35zm0.6 0.5h1.35v1.35h-1.35zm0.7 0.2h1.35v1.35h-1.35zm1.1 -0.2h1.35v1.35h-1.35zm1.3 -0.1h1.35v1.35h-1.35zm1 0.3h1.35v1.35h-1.35zm3.1 -0.6h1.35v1.35h-1.35zm0.9 -0.1h1.35v1.35h-1.35zm1.8 0.1h1.35v1.35h-1.35zm4.9 0.1h1.35v1.35h-1.35zm-39.7 0.7h1.35v1.35h-1.35zm1 0.3h1.35v1.35h-1.35zm1.1 -0.2h1.35v1.35h-1.35zm1.9 0.6h1.35v1.35h-1.35zm1.2 0.1h1.35v1.35h-1.35zm0.7 -0.4h1.35v1.35h-1.35zm1.2 0h1.35v1.35h-1.35zm1 0.3h1.35v1.35h-1.35zm1.1 -0.4h1.35v1.35h-1.35zm0.9 0.5h1.35v1.35h-1.35zm0.8 -0.6h1.35v1.35h-1.35zm0.7 0.3h1.35v1.35h-1.35zm1.2 0.3h1.35v1.35h-1.35zm1.2 -0.5h1.35v1.35h-1.35zm0.7 0.4h1.35v1.35h-1.35zm0.8 -0.6h1.35v1.35h-1.35zm1.4 0.7h1.35v1.35h-1.35zm0.8 0h1.35v1.35h-1.35zm1.3 -0.5h1.35v1.35h-1.35zm1 0.2h1.35v1.35h-1.35zm0.9 0.2h1.35v1.35h-1.35zm1.3 -0.1h1.35v1.35h-1.35zm0.6 -0.4h1.35v1.35h-1.35zm1 0.4h1.35v1.35h-1.35zm1 -0.5h1.35v1.35h-1.35zm0.8 0.7h1.35v1.35h-1.35zm1.2 -0.7h1.35v1.35h-1.35zm0.9 0.3h1.35v1.35h-1.35zm1.6 0.1h1.35v1.35h-1.35zm0.6 0h1.35v1.35h-1.35zm2.1 0h1.35v1.35h-1.35zm1 0.3h1.35v1.35h-1.35zm1 -0.4h1.35v1.35h-1.35zm0.8 0.2h1.35v1.35h-1.35zm1.4 -0.6h1.35v1.35h-1.35zm1 0.4h1.35v1.35h-1.35zm0.6 -0.1h1.35v1.35h-1.35zm5.9 0.5h1.35v1.35h-1.35zm-40.2 0.7h1.35v1.35h-1.35zm1.3 0h1.35v1.35h-1.35zm1.2 0.1h1.35v1.35h-1.35zm1.3 0.2h1.35v1.35h-1.35zm0.8 -0.8h1.35v1.35h-1.35zm1.2 0.3h1.35v1.35h-1.35zm0.3 -0.1h1.35v1.35h-1.35zm1 0.6h1.35v1.35h-1.35zm1.5 -0.5h1.35v1.35h-1.35zm2 -0.1h1.35v1.35h-1.35zm0.5 0h1.35v1.35h-1.35zm0.9 0.5h1.35v1.35h-1.35zm1 -0.5h1.35v1.35h-1.35zm1.4 0.4h1.35v1.35h-1.35zm1.7 0.1h1.35v1.35h-1.35zm1.5 -0.6h1.35v1.35h-1.35zm0.6 0.2h1.35v1.35h-1.35zm1.1 0.2h1.35v1.35h-1.35zm1 -0.4h1.35v1.35h-1.35zm1.3 0.6h1.35v1.35h-1.35zm0.8 -0.6h1.35v1.35h-1.35zm1.4 0.3h1.35v1.35h-1.35zm2 -0.3h1.35v1.35h-1.35zm0.5 0.6h1.35v1.35h-1.35zm1.4 -0.1h1.35v1.35h-1.35zm0.7 -0.1h1.35v1.35h-1.35zm1 -0.2h1.35v1.35h-1.35zm0.8 0.1h1.35v1.35h-1.35zm2.3 -0.2h1.35v1.35h-1.35zm2.1 0.4h1.35v1.35h-1.35zm18.9 0h1.35v1.35h-1.35zm-67.8 0.8h1.35v1.35h-1.35zm8.5 0.3h1.35v1.35h-1.35zm6 -0.3h1.35v1.35h-1.35zm1 -0.4h1.35v1.35h-1.35zm1.1 0.8h1.35v1.35h-1.35zm0.8 -0.1h1.35v1.35h-1.35zm1.3 -0.2h1.35v1.35h-1.35zm1.4 -0.2h1.35v1.35h-1.35zm0.6 0h1.35v1.35h-1.35zm1.4 -0.1h1.35v1.35h-1.35zm1.6 0.2h1.35v1.35h-1.35zm1.2 0h1.35v1.35h-1.35zm0.5 0.3h1.35v1.35h-1.35zm2.7 -0.2h1.35v1.35h-1.35zm0.5 0.3h1.35v1.35h-1.35zm2.3 -0.3h1.35v1.35h-1.35zm0.8 -0.2h1.35v1.35h-1.35zm0.7 0.3h1.35v1.35h-1.35zm1.1 -0.4h1.35v1.35h-1.35zm1.4 0.1h1.35v1.35h-1.35zm0.8 -0.2h1.35v1.35h-1.35zm1.4 0.1h1.35v1.35h-1.35zm0.6 -0.2h1.35v1.35h-1.35zm0.7 0.2h1.35v1.35h-1.35zm1.6 0.5h1.35v1.35h-1.35zm0.8 -0.5h1.35v1.35h-1.35zm1.3 -0.1h1.35v1.35h-1.35zm0.6 0.3h1.35v1.35h-1.35zm1.3 0.1h1.35v1.35h-1.35zm2 0.1h1.35v1.35h-1.35zm0.4 -0.3h1.35v1.35h-1.35zm1 0.4h1.35v1.35h-1.35zm-41 1h1.35v1.35h-1.35zm3.5 0h1.35v1.35h-1.35zm4.1 -0.3h1.35v1.35h-1.35zm0.5 -0.1h1.35v1.35h-1.35zm1.2 0.3h1.35v1.35h-1.35zm1.1 0h1.35v1.35h-1.35zm1.3 -0.2h1.35v1.35h-1.35zm0.4 0.2h1.35v1.35h-1.35zm0.9 0h1.35v1.35h-1.35zm1 0.1h1.35v1.35h-1.35zm1.3 -0.5h1.35v1.35h-1.35zm0.9 -0.2h1.35v1.35h-1.35zm1.4 0.7h1.35v1.35h-1.35zm1.1 -0.7h1.35v1.35h-1.35zm0.4 0.2h1.35v1.35h-1.35zm1.1 -0.1h1.35v1.35h-1.35zm0.8 0.5h1.35v1.35h-1.35zm1.5 0h1.35v1.35h-1.35zm1 -0.2h1.35v1.35h-1.35zm0.5 -0.1h1.35v1.35h-1.35zm1.4 -0.2h1.35v1.35h-1.35zm1.3 0.7h1.35v1.35h-1.35zm0.2 -0.2h1.35v1.35h-1.35zm1.3 0.1h1.35v1.35h-1.35zm1.5 0h1.35v1.35h-1.35zm0.5 -0.3h1.35v1.35h-1.35zm1.8 0.3h1.35v1.35h-1.35zm1.5 -0.4h1.35v1.35h-1.35zm0.6 -0.3h1.35v1.35h-1.35zm2.2 0.3h1.35v1.35h-1.35zm1.4 0h1.35v1.35h-1.35zm1.7 0.5h1.35v1.35h-1.35zm0.5 -0.7h1.35v1.35h-1.35zm1.6 0.1h1.35v1.35h-1.35zm1.5 0.3h1.35v1.35h-1.35zm15.4 -0.4h1.35v1.35h-1.35zm-57.2 1.3h1.35v1.35h-1.35zm4.8 -0.3h1.35v1.35h-1.35zm1.2 0.1h1.35v1.35h-1.35zm1.5 0.5h1.35v1.35h-1.35zm1.3 -0.6h1.35v1.35h-1.35zm2.6 -0.1h1.35v1.35h-1.35zm2.8 0.6h1.35v1.35h-1.35zm1.1 -0.4h1.35v1.35h-1.35zm0.8 0.5h1.35v1.35h-1.35zm1.3 -0.1h1.35v1.35h-1.35zm1.7 -0.2h1.35v1.35h-1.35zm2 -0.1h1.35v1.35h-1.35zm0.9 -0.1h1.35v1.35h-1.35zm1.3 0.1h1.35v1.35h-1.35zm1.1 0h1.35v1.35h-1.35zm0.5 0.2h1.35v1.35h-1.35zm1.4 0.2h1.35v1.35h-1.35zm0.8 -0.6h1.35v1.35h-1.35zm1.3 0.4h1.35v1.35h-1.35zm0.5 0.2h1.35v1.35h-1.35zm1.5 -0.5h1.35v1.35h-1.35zm0.9 -0.2h1.35v1.35h-1.35zm1 0.3h1.35v1.35h-1.35zm0.4 0.4h1.35v1.35h-1.35zm1.6 -0.2h1.35v1.35h-1.35zm0.5 0.2h1.35v1.35h-1.35zm1.7 -0.5h1.35v1.35h-1.35zm1 -0.1h1.35v1.35h-1.35zm0.6 0.6h1.35v1.35h-1.35zm1.1 -0.3h1.35v1.35h-1.35zm1.1 0.2h1.35v1.35h-1.35zm0.8 -0.1h1.35v1.35h-1.35zm-43.8 1.1h1.35v1.35h-1.35zm5.5 0.1h1.35v1.35h-1.35zm1 -0.6h1.35v1.35h-1.35zm2.2 0.4h1.35v1.35h-1.35zm1.3 0.3h1.35v1.35h-1.35zm0.5 -0.5h1.35v1.35h-1.35zm1 -0.2h1.35v1.35h-1.35zm1.7 0h1.35v1.35h-1.35zm0.4 0.3h1.35v1.35h-1.35zm1.6 -0.1h1.35v1.35h-1.35zm0.3 0.5h1.35v1.35h-1.35zm0.9 0h1.35v1.35h-1.35zm1.2 -0.4h1.35v1.35h-1.35zm2.5 0.1h1.35v1.35h-1.35zm1 0.3h1.35v1.35h-1.35zm0.9 0h1.35v1.35h-1.35zm0.5 -0.2h1.35v1.35h-1.35zm1.3 -0.1h1.35v1.35h-1.35zm1 -0.4h1.35v1.35h-1.35zm1.2 0.1h1.35v1.35h-1.35zm1.8 0.6h1.35v1.35h-1.35zm1.4 -0.2h1.35v1.35h-1.35zm0.3 -0.3h1.35v1.35h-1.35zm1.5 0.2h1.35v1.35h-1.35zm0.8 -0.3h1.35v1.35h-1.35zm0.7 -0.1h1.35v1.35h-1.35zm1.4 0.3h1.35v1.35h-1.35zm0.7 0.3h1.35v1.35h-1.35zm1.1 -0.7h1.35v1.35h-1.35zm0.8 0.6h1.35v1.35h-1.35zm1.2 -0.1h1.35v1.35h-1.35zm1.2 -0.4h1.35v1.35h-1.35zm0.7 0.3h1.35v1.35h-1.35zm2.6 0h1.35v1.35h-1.35zm0.7 0h1.35v1.35h-1.35zm-35.2 1.3h1.35v1.35h-1.35zm0.7 -0.4h1.35v1.35h-1.35zm3.2 -0.3h1.35v1.35h-1.35zm1.1 0.4h1.35v1.35h-1.35zm0.9 -0.1h1.35v1.35h-1.35zm0.9 -0.2h1.35v1.35h-1.35zm1.4 0.7h1.35v1.35h-1.35zm0.6 -0.5h1.35v1.35h-1.35zm2.9 0.4h1.35v1.35h-1.35zm1.1 -0.1h1.35v1.35h-1.35zm0.9 -0.3h1.35v1.35h-1.35zm1.1 -0.1h1.35v1.35h-1.35zm1.2 0.3h1.35v1.35h-1.35zm2.5 -0.4h1.35v1.35h-1.35zm0.6 0.2h1.35v1.35h-1.35zm0.8 0.1h1.35v1.35h-1.35zm1 0.2h1.35v1.35h-1.35zm0.9 0.2h1.35v1.35h-1.35zm0.9 -0.6h1.35v1.35h-1.35zm1.5 0.3h1.35v1.35h-1.35zm1 -0.1h1.35v1.35h-1.35zm0.6 0h1.35v1.35h-1.35zm1.5 -0.4h1.35v1.35h-1.35zm0.7 0.4h1.35v1.35h-1.35zm1.8 0.4h1.35v1.35h-1.35zm1.4 -0.6h1.35v1.35h-1.35zm0.7 0.6h1.35v1.35h-1.35zm1.6 -0.1h1.35v1.35h-1.35zm0.3 0h1.35v1.35h-1.35zm2.1 -0.5h1.35v1.35h-1.35zm-42.4 1.6h1.35v1.35h-1.35zm0.9 -0.6h1.35v1.35h-1.35zm7.3 0.3h1.35v1.35h-1.35zm1.3 -0.2h1.35v1.35h-1.35zm1.1 -0.3h1.35v1.35h-1.35zm1 0.4h1.35v1.35h-1.35zm1.2 0h1.35v1.35h-1.35zm0.8 0.2h1.35v1.35h-1.35zm1.1 -0.4h1.35v1.35h-1.35zm1 0.5h1.35v1.35h-1.35zm0.7 -0.4h1.35v1.35h-1.35zm1 -0.2h1.35v1.35h-1.35zm1.2 0.3h1.35v1.35h-1.35zm0.8 -0.1h1.35v1.35h-1.35zm2.4 0.2h1.35v1.35h-1.35zm2 -0.2h1.35v1.35h-1.35zm1.8 0.2h1.35v1.35h-1.35zm0.8 0.3h1.35v1.35h-1.35zm1.6 -0.5h1.35v1.35h-1.35zm1.7 0h1.35v1.35h-1.35zm1.1 0.1h1.35v1.35h-1.35zm0.9 0.3h1.35v1.35h-1.35zm0.5 -0.6h1.35v1.35h-1.35zm1.1 0.6h1.35v1.35h-1.35zm1.3 -0.1h1.35v1.35h-1.35zm0.8 -0.3h1.35v1.35h-1.35zm2 0.2h1.35v1.35h-1.35zm2 -0.1h1.35v1.35h-1.35zm1 0.3h1.35v1.35h-1.35zm1.9 -0.3h1.35v1.35h-1.35zm-47.6 1.3h1.35v1.35h-1.35zm4.6 -0.6h1.35v1.35h-1.35zm8 0.1h1.35v1.35h-1.35zm1.1 0.3h1.35v1.35h-1.35zm1.4 -0.5h1.35v1.35h-1.35zm0.7 0.6h1.35v1.35h-1.35zm1.2 0.1h1.35v1.35h-1.35zm0.6 0h1.35v1.35h-1.35zm1.4 -0.7h1.35v1.35h-1.35zm1.1 0.4h1.35v1.35h-1.35zm1.2 -0.3h1.35v1.35h-1.35zm0.4 0.3h1.35v1.35h-1.35zm0.9 0.1h1.35v1.35h-1.35zm2.4 0.1h1.35v1.35h-1.35zm1.2 -0.6h1.35v1.35h-1.35zm0.8 0.4h1.35v1.35h-1.35zm1.1 -0.3h1.35v1.35h-1.35zm2 0.2h1.35v1.35h-1.35zm0.9 -0.2h1.35v1.35h-1.35zm1.1 0.6h1.35v1.35h-1.35zm1.1 -0.2h1.35v1.35h-1.35zm0.7 -0.2h1.35v1.35h-1.35zm1.1 -0.1h1.35v1.35h-1.35zm1.2 0.6h1.35v1.35h-1.35zm1.1 -0.2h1.35v1.35h-1.35zm1.7 -0.5h1.35v1.35h-1.35zm1.1 0.2h1.35v1.35h-1.35zm1 0h1.35v1.35h-1.35zm2.1 0.3h1.35v1.35h-1.35zm1.1 0.1h1.35v1.35h-1.35zm3.8 -0.3h1.35v1.35h-1.35zm3.2 -0.1h1.35v1.35h-1.35zm-47.6 1h1.35v1.35h-1.35zm5.6 0.3h1.35v1.35h-1.35zm3.7 -0.2h1.35v1.35h-1.35zm0.6 0.4h1.35v1.35h-1.35zm1 0h1.35v1.35h-1.35zm1.6 -0.6h1.35v1.35h-1.35zm0.7 0.3h1.35v1.35h-1.35zm0.9 -0.4h1.35v1.35h-1.35zm2.4 0.7h1.35v1.35h-1.35zm0.6 0h1.35v1.35h-1.35zm0.7 -0.1h1.35v1.35h-1.35zm1.4 -0.2h1.35v1.35h-1.35zm1 -0.2h1.35v1.35h-1.35zm2 0.2h1.35v1.35h-1.35zm0.8 0.1h1.35v1.35h-1.35zm1.5 -0.5h1.35v1.35h-1.35zm2.6 0.4h1.35v1.35h-1.35zm1.9 -0.3h1.35v1.35h-1.35zm3.5 0.3h1.35v1.35h-1.35zm0.5 0.3h1.35v1.35h-1.35zm0.9 -0.4h1.35v1.35h-1.35zm1 -0.1h1.35v1.35h-1.35zm0.9 0.4h1.35v1.35h-1.35zm1.8 -0.2h1.35v1.35h-1.35zm0.9 0.3h1.35v1.35h-1.35zm0.7 -0.3h1.35v1.35h-1.35zm1.2 0.2h1.35v1.35h-1.35zm1 0h1.35v1.35h-1.35zm1.1 -0.2h1.35v1.35h-1.35zm2.9 -0.2h1.35v1.35h-1.35zm-40.3 1.5h1.35v1.35h-1.35zm2.1 -0.1h1.35v1.35h-1.35zm2 -0.1h1.35v1.35h-1.35zm1.3 0h1.35v1.35h-1.35zm1.6 -0.1h1.35v1.35h-1.35zm1.2 0.3h1.35v1.35h-1.35zm0.8 -0.4h1.35v1.35h-1.35zm0.8 0.4h1.35v1.35h-1.35zm1.7 -0.7h1.35v1.35h-1.35zm0.9 0.1h1.35v1.35h-1.35zm0.9 0.2h1.35v1.35h-1.35zm1.1 -0.3h1.35v1.35h-1.35zm1 0.3h1.35v1.35h-1.35zm0.8 0.1h1.35v1.35h-1.35zm2 -0.4h1.35v1.35h-1.35zm0.6 0.5h1.35v1.35h-1.35zm2.2 0h1.35v1.35h-1.35zm1.3 0.2h1.35v1.35h-1.35zm0.5 -0.2h1.35v1.35h-1.35zm3.3 0.1h1.35v1.35h-1.35zm1 -0.5h1.35v1.35h-1.35zm1.3 0.6h1.35v1.35h-1.35zm0.7 -0.5h1.35v1.35h-1.35zm0.8 -0.1h1.35v1.35h-1.35zm0.9 0.3h1.35v1.35h-1.35zm1.3 -0.1h1.35v1.35h-1.35zm0.9 0.2h1.35v1.35h-1.35zm0.9 -0.2h1.35v1.35h-1.35zm1.6 -0.3h1.35v1.35h-1.35zm1.8 0.5h1.35v1.35h-1.35zm4.2 0.2h1.35v1.35h-1.35zm-52 0.6h1.35v1.35h-1.35zm13 -0.2h1.35v1.35h-1.35zm2.6 0.2h1.35v1.35h-1.35zm0.7 0h1.35v1.35h-1.35zm2.5 0h1.35v1.35h-1.35zm0.9 0.4h1.35v1.35h-1.35zm1.1 -0.5h1.35v1.35h-1.35zm0.7 -0.2h1.35v1.35h-1.35zm0.8 0.3h1.35v1.35h-1.35zm1 -0.3h1.35v1.35h-1.35zm1.5 0.2h1.35v1.35h-1.35zm2.8 0.5h1.35v1.35h-1.35zm1.4 0h1.35v1.35h-1.35zm1 0h1.35v1.35h-1.35zm0.3 0h1.35v1.35h-1.35zm1.7 -0.6h1.35v1.35h-1.35zm0.4 0.5h1.35v1.35h-1.35zm2.9 -0.4h1.35v1.35h-1.35zm1.1 -0.1h1.35v1.35h-1.35zm2.5 0.4h1.35v1.35h-1.35zm0.6 0.1h1.35v1.35h-1.35zm1 0h1.35v1.35h-1.35zm1.4 -0.1h1.35v1.35h-1.35zm0.6 -0.2h1.35v1.35h-1.35zm2.3 -0.1h1.35v1.35h-1.35zm0.9 0.1h1.35v1.35h-1.35zm5.2 0.4h1.35v1.35h-1.35zm-45.3 0.9h1.35v1.35h-1.35zm6.1 -0.3h1.35v1.35h-1.35zm0.8 -0.2h1.35v1.35h-1.35zm1.2 0.4h1.35v1.35h-1.35zm3.5 0.1h1.35v1.35h-1.35zm1.8 -0.6h1.35v1.35h-1.35zm0.3 0.4h1.35v1.35h-1.35zm2.6 -0.2h1.35v1.35h-1.35zm0.6 0.4h1.35v1.35h-1.35zm2.1 -0.4h1.35v1.35h-1.35zm1.1 0.1h1.35v1.35h-1.35zm1.8 -0.3h1.35v1.35h-1.35zm1.3 0.1h1.35v1.35h-1.35zm1.5 0.4h1.35v1.35h-1.35zm1.4 -0.5h1.35v1.35h-1.35zm0.9 0.2h1.35v1.35h-1.35zm1 -0.1h1.35v1.35h-1.35zm1.3 0.2h1.35v1.35h-1.35zm1.7 0.2h1.35v1.35h-1.35zm1.4 -0.4h1.35v1.35h-1.35zm2 0.5h1.35v1.35h-1.35zm0.8 -0.6h1.35v1.35h-1.35zm0.8 0.7h1.35v1.35h-1.35zm1.2 -0.6h1.35v1.35h-1.35zm0.8 0.3h1.35v1.35h-1.35zm1.2 0h1.35v1.35h-1.35zm1.2 0h1.35v1.35h-1.35zm0.6 -0.4h1.35v1.35h-1.35zm1.2 -0.1h1.35v1.35h-1.35zm0.7 0.5h1.35v1.35h-1.35zm0.8 0.2h1.35v1.35h-1.35zm-44.3 0.5h1.35v1.35h-1.35zm5.6 0.1h1.35v1.35h-1.35zm4.3 0.1h1.35v1.35h-1.35zm1.1 0.1h1.35v1.35h-1.35zm0.9 -0.1h1.35v1.35h-1.35zm2 0.2h1.35v1.35h-1.35zm0.4 -0.5h1.35v1.35h-1.35zm1.2 0.2h1.35v1.35h-1.35zm1.3 0.5h1.35v1.35h-1.35zm0.8 -0.1h1.35v1.35h-1.35zm2.3 0h1.35v1.35h-1.35zm0.8 -0.1h1.35v1.35h-1.35zm0.9 -0.3h1.35v1.35h-1.35zm1.1 -0.2h1.35v1.35h-1.35zm0.6 0.6h1.35v1.35h-1.35zm1 0.1h1.35v1.35h-1.35zm1.4 -0.1h1.35v1.35h-1.35zm1.1 -0.3h1.35v1.35h-1.35zm1.1 -0.1h1.35v1.35h-1.35zm1.1 -0.2h1.35v1.35h-1.35zm0.5 0.5h1.35v1.35h-1.35zm1.1 -0.5h1.35v1.35h-1.35zm2.8 0h1.35v1.35h-1.35zm1.5 0.3h1.35v1.35h-1.35zm0.6 0.2h1.35v1.35h-1.35zm1.2 0h1.35v1.35h-1.35zm0.9 0.1h1.35v1.35h-1.35zm1.9 0h1.35v1.35h-1.35zm1.3 0.1h1.35v1.35h-1.35zm1.7 -0.5h1.35v1.35h-1.35zm2.3 0.5h1.35v1.35h-1.35zm-39.5 0.9h1.35v1.35h-1.35zm4.6 0h1.35v1.35h-1.35zm1.4 -0.5h1.35v1.35h-1.35zm1.6 0.1h1.35v1.35h-1.35zm1.5 0.1h1.35v1.35h-1.35zm0.8 -0.3h1.35v1.35h-1.35zm1.6 0h1.35v1.35h-1.35zm1.1 0h1.35v1.35h-1.35zm0.5 -0.1h1.35v1.35h-1.35zm2.5 0.3h1.35v1.35h-1.35zm2.8 0.1h1.35v1.35h-1.35zm1.2 -0.1h1.35v1.35h-1.35zm1.7 0.5h1.35v1.35h-1.35zm1.4 -0.4h1.35v1.35h-1.35zm0.6 -0.4h1.35v1.35h-1.35zm0.7 0.5h1.35v1.35h-1.35zm1.6 -0.2h1.35v1.35h-1.35zm0.5 -0.2h1.35v1.35h-1.35zm1.3 0.1h1.35v1.35h-1.35zm0.8 0.2h1.35v1.35h-1.35zm0.8 -0.3h1.35v1.35h-1.35zm1.1 0.2h1.35v1.35h-1.35zm1 0.1h1.35v1.35h-1.35zm1.2 -0.1h1.35v1.35h-1.35zm1.1 0h1.35v1.35h-1.35zm1.9 0.5h1.35v1.35h-1.35zm0.8 -0.3h1.35v1.35h-1.35zm-37.1 1.3h1.35v1.35h-1.35zm3.2 0h1.35v1.35h-1.35zm2.2 0h1.35v1.35h-1.35zm4.2 -0.6h1.35v1.35h-1.35zm1.7 0.1h1.35v1.35h-1.35zm0.7 -0.2h1.35v1.35h-1.35zm1.7 0.7h1.35v1.35h-1.35zm0.4 -0.1h1.35v1.35h-1.35zm3.1 0h1.35v1.35h-1.35zm1.2 -0.7h1.35v1.35h-1.35zm0.9 0.2h1.35v1.35h-1.35zm1.2 -0.1h1.35v1.35h-1.35zm0.5 0.7h1.35v1.35h-1.35zm1.1 -0.3h1.35v1.35h-1.35zm1.4 0.1h1.35v1.35h-1.35zm1.4 0h1.35v1.35h-1.35zm1.3 0.1h1.35v1.35h-1.35zm1.3 -0.6h1.35v1.35h-1.35zm0.9 0.6h1.35v1.35h-1.35zm1.2 -0.3h1.35v1.35h-1.35zm1.1 0.1h1.35v1.35h-1.35zm0.9 -0.5h1.35v1.35h-1.35zm1.8 0.2h1.35v1.35h-1.35zm1 0.6h1.35v1.35h-1.35zm1.2 -0.7h1.35v1.35h-1.35zm2.6 0h1.35v1.35h-1.35zm-46.1 1.1h1.35v1.35h-1.35zm7.5 0h1.35v1.35h-1.35zm8.6 0.1h1.35v1.35h-1.35zm0.8 0h1.35v1.35h-1.35zm3.2 0.3h1.35v1.35h-1.35zm2.3 -0.3h1.35v1.35h-1.35zm0.8 0.2h1.35v1.35h-1.35zm1 -0.4h1.35v1.35h-1.35zm1.8 0h1.35v1.35h-1.35zm0.9 0.3h1.35v1.35h-1.35zm2.2 0.2h1.35v1.35h-1.35zm3 -0.2h1.35v1.35h-1.35zm1.3 0.4h1.35v1.35h-1.35zm0.5 -0.7h1.35v1.35h-1.35zm1.2 0.3h1.35v1.35h-1.35zm0.9 0.1h1.35v1.35h-1.35zm1.3 -0.5h1.35v1.35h-1.35zm0.9 0.5h1.35v1.35h-1.35zm1 -0.3h1.35v1.35h-1.35zm0.9 -0.2h1.35v1.35h-1.35zm1.1 0.2h1.35v1.35h-1.35zm0.8 0.2h1.35v1.35h-1.35zm1.1 0.4h1.35v1.35h-1.35zm1.2 -0.2h1.35v1.35h-1.35zm3.7 0.1h1.35v1.35h-1.35zm-33 0.6h1.35v1.35h-1.35zm4.9 0.2h1.35v1.35h-1.35zm1.5 -0.3h1.35v1.35h-1.35zm1.2 0.4h1.35v1.35h-1.35zm0.3 -0.2h1.35v1.35h-1.35zm1.4 0.2h1.35v1.35h-1.35zm1 -0.5h1.35v1.35h-1.35zm0.6 0.1h1.35v1.35h-1.35zm1.7 0.1h1.35v1.35h-1.35zm1.9 0.3h1.35v1.35h-1.35zm0.4 0h1.35v1.35h-1.35zm1 0.1h1.35v1.35h-1.35zm1.1 -0.5h1.35v1.35h-1.35zm1.3 0.4h1.35v1.35h-1.35zm0.7 -0.4h1.35v1.35h-1.35zm2.1 0.3h1.35v1.35h-1.35zm0.8 0h1.35v1.35h-1.35zm1.3 -0.4h1.35v1.35h-1.35zm0.8 0h1.35v1.35h-1.35zm0.9 0h1.35v1.35h-1.35zm1.5 0.4h1.35v1.35h-1.35zm0.5 0.2h1.35v1.35h-1.35zm3 -0.6h1.35v1.35h-1.35zm1.5 0h1.35v1.35h-1.35zm2.1 0.2h1.35v1.35h-1.35zm7.5 -0.2h1.35v1.35h-1.35zm-49.6 1.2h1.35v1.35h-1.35zm8.1 0.2h1.35v1.35h-1.35zm3 0.2h1.35v1.35h-1.35zm1.3 -0.1h1.35v1.35h-1.35zm1.4 -0.3h1.35v1.35h-1.35zm1.7 0.5h1.35v1.35h-1.35zm1.7 -0.6h1.35v1.35h-1.35zm1.6 0.6h1.35v1.35h-1.35zm0.8 -0.2h1.35v1.35h-1.35zm1.2 -0.4h1.35v1.35h-1.35zm1.8 0.1h1.35v1.35h-1.35zm1.5 0.5h1.35v1.35h-1.35zm0.8 -0.6h1.35v1.35h-1.35zm1.7 -0.1h1.35v1.35h-1.35zm1.4 0.3h1.35v1.35h-1.35zm0.7 0h1.35v1.35h-1.35zm1.2 -0.3h1.35v1.35h-1.35zm1.3 0.3h1.35v1.35h-1.35zm0.9 -0.2h1.35v1.35h-1.35zm1.8 0.1h1.35v1.35h-1.35zm0.6 -0.2h1.35v1.35h-1.35zm1.2 0.3h1.35v1.35h-1.35zm-34.2 1.4h1.35v1.35h-1.35zm1 -0.8h1.35v1.35h-1.35zm9.7 0.2h1.35v1.35h-1.35zm1.4 0.4h1.35v1.35h-1.35zm2.1 -0.2h1.35v1.35h-1.35zm1 0h1.35v1.35h-1.35zm1.4 0.2h1.35v1.35h-1.35zm0.9 -0.2h1.35v1.35h-1.35zm1.5 0.3h1.35v1.35h-1.35zm1.3 -0.2h1.35v1.35h-1.35zm1.9 0.3h1.35v1.35h-1.35zm0.7 -0.7h1.35v1.35h-1.35zm2.6 -0.1h1.35v1.35h-1.35zm1.1 0.4h1.35v1.35h-1.35zm0.6 0.3h1.35v1.35h-1.35zm1.2 0h1.35v1.35h-1.35zm1.1 -0.4h1.35v1.35h-1.35zm0.8 0.1h1.35v1.35h-1.35zm5.4 -0.1h1.35v1.35h-1.35zm-20.6 1.2h1.35v1.35h-1.35zm1.5 0.1h1.35v1.35h-1.35zm1.1 -0.4h1.35v1.35h-1.35zm0.7 0h1.35v1.35h-1.35zm1.2 -0.1h1.35v1.35h-1.35zm1 0.4h1.35v1.35h-1.35zm0.7 -0.3h1.35v1.35h-1.35zm0.9 0.5h1.35v1.35h-1.35zm1.7 -0.1h1.35v1.35h-1.35zm2.4 0h1.35v1.35h-1.35zm1.2 -0.1h1.35v1.35h-1.35zm0.5 0h1.35v1.35h-1.35zm1.9 0.3h1.35v1.35h-1.35zm1.3 -0.6h1.35v1.35h-1.35zm2 0.5h1.35v1.35h-1.35zm-27.9 0.5h1.35v1.35h-1.35zm0.8 -0.1h1.35v1.35h-1.35zm2.1 0.5h1.35v1.35h-1.35zm5 0.1h1.35v1.35h-1.35zm4.1 -0.4h1.35v1.35h-1.35zm1.4 0.3h1.35v1.35h-1.35zm0.6 -0.2h1.35v1.35h-1.35zm1.3 -0.2h1.35v1.35h-1.35zm0.7 0.2h1.35v1.35h-1.35zm0.8 0h1.35v1.35h-1.35zm1.6 0.3h1.35v1.35h-1.35zm0.4 -0.2h1.35v1.35h-1.35zm1.2 -0.4h1.35v1.35h-1.35zm2.1 0h1.35v1.35h-1.35zm0.6 0.5h1.35v1.35h-1.35zm1.7 -0.4h1.35v1.35h-1.35zm0.5 0h1.35v1.35h-1.35zm2 0.5h1.35v1.35h-1.35zm-13.9 0.4h1.35v1.35h-1.35zm1.3 0.3h1.35v1.35h-1.35zm1.1 0h1.35v1.35h-1.35zm1.7 -0.1h1.35v1.35h-1.35zm3.1 -0.3h1.35v1.35h-1.35zm1.1 0.6h1.35v1.35h-1.35zm0.6 0.2h1.35v1.35h-1.35zm1.4 -0.5h1.35v1.35h-1.35zm6.6 0h1.35v1.35h-1.35zm-37.1 1.5h1.35v1.35h-1.35zm23.2 -0.2h1.35v1.35h-1.35zm4 0.2h1.35v1.35h-1.35zm1 -0.1h1.35v1.35h-1.35zm2.3 0h1.35v1.35h-1.35zm7.7 -0.1h1.35v1.35h-1.35zm-25.3 0.4h1.35v1.35h-1.35zm1.4 0.1h1.35v1.35h-1.35zm7.6 0.2h1.35v1.35h-1.35zm7.4 0.3h1.35v1.35h-1.35zm3.6 -0.2h1.35v1.35h-1.35zm-25.3 0.7h1.35v1.35h-1.35zm12.9 0.2h1.35v1.35h-1.35zm10.5 0.2h1.35v1.35h-1.35zm5.9 0.6h1.35v1.35h-1.35zm-31.4 1.1h1.35v1.35h-1.35zm25.6 0.5h1.35v1.35h-1.35zm27.3 1.8h1.35v1.35h-1.35z"/><path fill="#306aa6" d="M0 0m212.9 278.5h1.35v1.35h-1.35zm0.1 11.2h1.35v1.35h-1.35zm3.4 0.2h1.35v1.35h-1.35zm-9.2 4.1h1.35v1.35h-1.35zm37.5 0.8h1.35v1.35h-1.35zm-84.5 1.8h1.35v1.35h-1.35zm34 0h1.35v1.35h-1.35zm17.3 0.6h1.35v1.35h-1.35zm-14.4 0.4h1.35v1.35h-1.35zm14.8 0.2h1.35v1.35h-1.35zm-38.1 1.3h1.35v1.35h-1.35zm33.8 1.4h1.35v1.35h-1.35zm3.5 0.3h1.35v1.35h-1.35zm3.7 -0.2h1.35v1.35h-1.35zm3 0.3h1.35v1.35h-1.35zm-8.1 0.8h1.35v1.35h-1.35zm2.4 0h1.35v1.35h-1.35zm5.5 -0.2h1.35v1.35h-1.35zm-40.7 1.7h1.35v1.35h-1.35zm29.6 0.4h1.35v1.35h-1.35zm3.6 0.6h1.35v1.35h-1.35zm0.6 -0.3h1.35v1.35h-1.35zm7.5 0h1.35v1.35h-1.35zm-8.2 0.6h1.35v1.35h-1.35zm5.6 0.6h1.35v1.35h-1.35zm2.4 -0.1h1.35v1.35h-1.35zm-10.3 0.7h1.35v1.35h-1.35zm2.3 0.5h1.35v1.35h-1.35zm2.5 0h1.35v1.35h-1.35zm2.4 -0.2h1.35v1.35h-1.35zm3.7 0.1h1.35v1.35h-1.35zm-10.7 0.4h1.35v1.35h-1.35zm2.2 0.4h1.35v1.35h-1.35zm3.4 0.2h1.35v1.35h-1.35zm1.3 0.1h1.35v1.35h-1.35zm0.7 -0.7h1.35v1.35h-1.35zm-8.9 1h1.35v1.35h-1.35zm1.1 0.4h1.35v1.35h-1.35zm2.3 0.2h1.35v1.35h-1.35zm3.6 -0.1h1.35v1.35h-1.35zm1 0.1h1.35v1.35h-1.35zm2.4 -0.2h1.35v1.35h-1.35zm1.7 0.2h1.35v1.35h-1.35zm2.4 0h1.35v1.35h-1.35zm-55.5 0.5h1.35v1.35h-1.35zm39.9 0.1h1.35v1.35h-1.35zm2.5 -0.1h1.35v1.35h-1.35zm0.8 -0.1h1.35v1.35h-1.35zm1 0.1h1.35v1.35h-1.35zm4.9 -0.1h1.35v1.35h-1.35zm4.5 0.7h1.35v1.35h-1.35zm-18.5 0.8h1.35v1.35h-1.35zm4 -0.2h1.35v1.35h-1.35zm5.4 -0.3h1.35v1.35h-1.35zm2 0.6h1.35v1.35h-1.35zm0.9 -0.3h1.35v1.35h-1.35zm1.2 -0.1h1.35v1.35h-1.35zm0.4 0.5h1.35v1.35h-1.35zm-10.5 0.9h1.35v1.35h-1.35zm3 -0.4h1.35v1.35h-1.35zm2.8 -0.2h1.35v1.35h-1.35zm1.3 0h1.35v1.35h-1.35zm0.8 0.5h1.35v1.35h-1.35zm2.6 0h1.35v1.35h-1.35zm2.1 -0.2h1.35v1.35h-1.35zm0.8 0.1h1.35v1.35h-1.35zm-13.7 0.8h1.35v1.35h-1.35zm0.9 0.4h1.35v1.35h-1.35zm1.2 0h1.35v1.35h-1.35zm4.3 -0.2h1.35v1.35h-1.35zm0.4 -0.1h1.35v1.35h-1.35zm-8.1 1.1h1.35v1.35h-1.35zm3.5 -0.3h1.35v1.35h-1.35zm0.6 0.5h1.35v1.35h-1.35zm5.4 -0.3h1.35v1.35h-1.35zm1 0.3h1.35v1.35h-1.35zm1.8 -0.2h1.35v1.35h-1.35zm2.2 0h1.35v1.35h-1.35zm1.9 -0.1h1.35v1.35h-1.35zm-14.9 0.7h1.35v1.35h-1.35zm3.6 0.1h1.35v1.35h-1.35zm0.9 -0.1h1.35v1.35h-1.35zm4.5 0.1h1.35v1.35h-1.35zm1 0.3h1.35v1.35h-1.35zm4.8 0.3h1.35v1.35h-1.35zm-12 0.7h1.35v1.35h-1.35zm1.1 0h1.35v1.35h-1.35zm1.3 -0.3h1.35v1.35h-1.35zm2.3 -0.1h1.35v1.35h-1.35zm2.5 -0.1h1.35v1.35h-1.35zm0.7 0.5h1.35v1.35h-1.35zm1.1 -0.2h1.35v1.35h-1.35zm4.3 0.5h1.35v1.35h-1.35zm-11.1 0.9h1.35v1.35h-1.35zm2.1 -0.5h1.35v1.35h-1.35zm0.7 -0.1h1.35v1.35h-1.35zm1 0.1h1.35v1.35h-1.35zm1.3 0.3h1.35v1.35h-1.35zm1 -0.4h1.35v1.35h-1.35zm2.6 0.5h1.35v1.35h-1.35zm7 0.1h1.35v1.35h-1.35zm-21.2 0.6h1.35v1.35h-1.35zm5.4 0.3h1.35v1.35h-1.35zm0.7 -0.3h1.35v1.35h-1.35zm1.9 0.4h1.35v1.35h-1.35zm1.5 -0.3h1.35v1.35h-1.35zm1 0.1h1.35v1.35h-1.35zm1.2 -0.1h1.35v1.35h-1.35zm0.6 0h1.35v1.35h-1.35zm0.6 -0.2h1.35v1.35h-1.35zm4.7 0.3h1.35v1.35h-1.35zm7.6 -0.1h1.35v1.35h-1.35zm-60.2 1.1h1.35v1.35h-1.35zm21.6 -0.3h1.35v1.35h-1.35zm17.6 0.5h1.35v1.35h-1.35zm0.7 -0.5h1.35v1.35h-1.35zm1 0.3h1.35v1.35h-1.35zm1.7 -0.3h1.35v1.35h-1.35zm1 0h1.35v1.35h-1.35zm1.1 0h1.35v1.35h-1.35zm0.3 0.6h1.35v1.35h-1.35zm1.6 -0.4h1.35v1.35h-1.35zm5.9 -0.3h1.35v1.35h-1.35zm6.2 0h1.35v1.35h-1.35zm0.7 0.1h1.35v1.35h-1.35zm-41.4 1.1h1.35v1.35h-1.35zm25.7 0.1h1.35v1.35h-1.35zm1 -0.3h1.35v1.35h-1.35zm0.7 0.4h1.35v1.35h-1.35zm1.7 -0.5h1.35v1.35h-1.35zm1.4 0.1h1.35v1.35h-1.35zm-45.9 1.6h1.35v1.35h-1.35zm13.8 -0.6h1.35v1.35h-1.35zm21 0h1.35v1.35h-1.35zm3.3 0.6h1.35v1.35h-1.35zm4 -0.2h1.35v1.35h-1.35zm0.7 0h1.35v1.35h-1.35zm0.6 0h1.35v1.35h-1.35zm1.7 -0.4h1.35v1.35h-1.35zm0.4 0.6h1.35v1.35h-1.35zm1.1 -0.2h1.35v1.35h-1.35zm5 -0.5h1.35v1.35h-1.35zm-16.5 1.8h1.35v1.35h-1.35zm1.8 -0.5h1.35v1.35h-1.35zm1.9 0.4h1.35v1.35h-1.35zm1.1 -0.2h1.35v1.35h-1.35zm0.8 -0.2h1.35v1.35h-1.35zm1.3 -0.1h1.35v1.35h-1.35zm1.1 -0.1h1.35v1.35h-1.35zm0.3 0.4h1.35v1.35h-1.35zm1.4 0.2h1.35v1.35h-1.35zm5.1 -0.1h1.35v1.35h-1.35zm-24.5 1.1h1.35v1.35h-1.35zm8.6 -0.4h1.35v1.35h-1.35zm5 0.3h1.35v1.35h-1.35zm0.5 -0.5h1.35v1.35h-1.35zm1.5 0.1h1.35v1.35h-1.35zm1.7 0.4h1.35v1.35h-1.35zm1.4 -0.5h1.35v1.35h-1.35zm7.8 0.7h1.35v1.35h-1.35zm-60.5 0.3h1.35v1.35h-1.35zm46.5 0.1h1.35v1.35h-1.35zm0.7 0.4h1.35v1.35h-1.35zm1.5 0.1h1.35v1.35h-1.35zm0.3 -0.1h1.35v1.35h-1.35zm1.3 -0.5h1.35v1.35h-1.35zm1.8 0.7h1.35v1.35h-1.35zm1.2 -0.2h1.35v1.35h-1.35zm3 -0.5h1.35v1.35h-1.35zm3 0.2h1.35v1.35h-1.35zm-54.6 0.8h1.35v1.35h-1.35zm42.8 0.1h1.35v1.35h-1.35zm0.8 0h1.35v1.35h-1.35zm0.9 0.1h1.35v1.35h-1.35zm1 0.2h1.35v1.35h-1.35zm1.4 0.2h1.35v1.35h-1.35zm1 -0.4h1.35v1.35h-1.35zm1.7 0.3h1.35v1.35h-1.35zm0.7 0.1h1.35v1.35h-1.35zm1.5 -0.4h1.35v1.35h-1.35zm-55.1 0.8h1.35v1.35h-1.35zm43.7 0.6h1.35v1.35h-1.35zm2.1 -0.1h1.35v1.35h-1.35zm0.7 0h1.35v1.35h-1.35zm1.7 -0.3h1.35v1.35h-1.35zm0.6 0.4h1.35v1.35h-1.35zm1.3 -0.4h1.35v1.35h-1.35zm0.5 -0.1h1.35v1.35h-1.35zm5.4 0.1h1.35v1.35h-1.35zm-58.1 1h1.35v1.35h-1.35zm22.2 -0.2h1.35v1.35h-1.35zm23.5 0.2h1.35v1.35h-1.35zm2.3 0h1.35v1.35h-1.35zm0.9 0.2h1.35v1.35h-1.35zm0.7 -0.4h1.35v1.35h-1.35zm1.5 0.6h1.35v1.35h-1.35zm0.6 0h1.35v1.35h-1.35zm1.5 -0.5h1.35v1.35h-1.35zm1.5 0.3h1.35v1.35h-1.35zm3.7 -0.4h1.35v1.35h-1.35zm-52.1 1.7h1.35v1.35h-1.35zm5.5 -0.3h1.35v1.35h-1.35zm16.9 0.3h1.35v1.35h-1.35zm16.3 -0.2h1.35v1.35h-1.35zm1 0.2h1.35v1.35h-1.35zm1.3 -0.4h1.35v1.35h-1.35zm1.3 0.3h1.35v1.35h-1.35zm1.7 0.1h1.35v1.35h-1.35zm1 -0.3h1.35v1.35h-1.35zm1.1 0h1.35v1.35h-1.35zm0.7 0.3h1.35v1.35h-1.35zm0.7 -0.8h1.35v1.35h-1.35zm3.4 0.2h1.35v1.35h-1.35zm4.8 0h1.35v1.35h-1.35zm-48.8 0.8h1.35v1.35h-1.35zm6.1 0.6h1.35v1.35h-1.35zm2.1 -0.2h1.35v1.35h-1.35zm20.8 -0.1h1.35v1.35h-1.35zm3.1 0h1.35v1.35h-1.35zm2 0.3h1.35v1.35h-1.35zm0.5 -0.4h1.35v1.35h-1.35zm1.4 -0.1h1.35v1.35h-1.35zm0.6 0.7h1.35v1.35h-1.35zm1.1 -0.5h1.35v1.35h-1.35zm1.5 0.1h1.35v1.35h-1.35zm0.3 -0.1h1.35v1.35h-1.35zm6.5 0.4h1.35v1.35h-1.35zm3.1 0h1.35v1.35h-1.35zm-49.9 0.5h1.35v1.35h-1.35zm2.3 0.1h1.35v1.35h-1.35zm3 0.3h1.35v1.35h-1.35zm3.3 -0.3h1.35v1.35h-1.35zm27.3 0.1h1.35v1.35h-1.35zm2.6 0.2h1.35v1.35h-1.35zm0.8 -0.4h1.35v1.35h-1.35zm2.3 -0.1h1.35v1.35h-1.35zm0.8 0.4h1.35v1.35h-1.35zm-49.6 0.5h1.35v1.35h-1.35zm6.8 0.6h1.35v1.35h-1.35zm2.7 -0.6h1.35v1.35h-1.35zm10.3 0.6h1.35v1.35h-1.35zm18.9 -0.2h1.35v1.35h-1.35zm4.9 -0.3h1.35v1.35h-1.35zm0.9 0h1.35v1.35h-1.35zm2.3 0.3h1.35v1.35h-1.35zm2.1 0h1.35v1.35h-1.35zm3 0.1h1.35v1.35h-1.35zm-60.3 0.8h1.35v1.35h-1.35zm49.1 0.1h1.35v1.35h-1.35zm1.2 -0.1h1.35v1.35h-1.35zm1.8 0.3h1.35v1.35h-1.35zm0.9 -0.4h1.35v1.35h-1.35zm1.5 0.4h1.35v1.35h-1.35zm1.4 0.2h1.35v1.35h-1.35zm-35.7 0.7h1.35v1.35h-1.35zm26.9 -0.4h1.35v1.35h-1.35zm5.8 0.7h1.35v1.35h-1.35zm1.1 -0.4h1.35v1.35h-1.35zm1.6 0.3h1.35v1.35h-1.35zm2 -0.5h1.35v1.35h-1.35zm1.5 0.2h1.35v1.35h-1.35zm6.8 -0.3h1.35v1.35h-1.35zm-64.1 1.4h1.35v1.35h-1.35zm12.5 -0.3h1.35v1.35h-1.35zm20.3 -0.2h1.35v1.35h-1.35zm12 0.5h1.35v1.35h-1.35zm2.7 0.1h1.35v1.35h-1.35zm2 0.2h1.35v1.35h-1.35zm1.3 -0.5h1.35v1.35h-1.35zm2.9 0.2h1.35v1.35h-1.35zm1.5 -0.1h1.35v1.35h-1.35zm1.1 0h1.35v1.35h-1.35zm2.9 0h1.35v1.35h-1.35zm-11.9 0.8h1.35v1.35h-1.35zm3.3 0.1h1.35v1.35h-1.35zm0.7 -0.2h1.35v1.35h-1.35zm1.4 0.7h1.35v1.35h-1.35zm2.8 -0.1h1.35v1.35h-1.35zm1.1 -0.4h1.35v1.35h-1.35zm1.7 0.2h1.35v1.35h-1.35zm3.8 -0.4h1.35v1.35h-1.35zm-40.5 1.5h1.35v1.35h-1.35zm27.9 0h1.35v1.35h-1.35zm1.3 0.2h1.35v1.35h-1.35zm0.8 -0.7h1.35v1.35h-1.35zm3.1 0.3h1.35v1.35h-1.35zm2.5 0.3h1.35v1.35h-1.35zm-10.4 1.1h1.35v1.35h-1.35zm7.9 -0.3h1.35v1.35h-1.35zm0.9 0h1.35v1.35h-1.35zm-39.1 0.9h1.35v1.35h-1.35zm32.3 -0.2h1.35v1.35h-1.35zm4.4 0.6h1.35v1.35h-1.35zm3 0.5h1.35v1.35h-1.35zm20.5 -0.1h1.35v1.35h-1.35zm-49.9 1.5h1.35v1.35h-1.35zm21.8 -0.4h1.35v1.35h-1.35zm3.1 -0.1h1.35v1.35h-1.35zm3.7 1.4h1.35v1.35h-1.35zm3 -0.5h1.35v1.35h-1.35zm-9.6 1.2h1.35v1.35h-1.35zm25.5 -0.1h1.35v1.35h-1.35zm-18.9 1h1.35v1.35h-1.35zm-1 1.5h1.35v1.35h-1.35zm7.2 -0.2h1.35v1.35h-1.35zm3.2 0.3h1.35v1.35h-1.35zm-16.8 0.6h1.35v1.35h-1.35zm2.2 0.1h1.35v1.35h-1.35zm3.4 -0.3h1.35v1.35h-1.35zm-4.3 0.9h1.35v1.35h-1.35zm1.2 0.4h1.35v1.35h-1.35zm-2 0.6h1.35v1.35h-1.35zm2.3 0.6h1.35v1.35h-1.35zm4.5 -0.4h1.35v1.35h-1.35zm3.2 0.1h1.35v1.35h-1.35zm1.2 0.2h1.35v1.35h-1.35zm-3.5 1h1.35v1.35h-1.35zm1 0.1h1.35v1.35h-1.35zm-33.7 0.4h1.35v1.35h-1.35zm25 0.1h1.35v1.35h-1.35zm7.2 0.2h1.35v1.35h-1.35zm1.1 0.2h1.35v1.35h-1.35zm-5.7 0.6h1.35v1.35h-1.35zm10.3 0.3h1.35v1.35h-1.35zm-4.2 1.3h1.35v1.35h-1.35zm-11.1 0.3h1.35v1.35h-1.35zm6.5 0.1h1.35v1.35h-1.35zm0.7 0.5h1.35v1.35h-1.35zm2.2 -0.6h1.35v1.35h-1.35zm2.6 0.6h1.35v1.35h-1.35zm-13.6 0.5h1.35v1.35h-1.35zm8.9 -0.2h1.35v1.35h-1.35zm-4.1 1.8h1.35v1.35h-1.35zm4.2 -0.7h1.35v1.35h-1.35z"/></g>
<rect x="21.7" y="1.9" width="99.90" height="97.00" fill="none" stroke="#111" stroke-width="1.5"/>
<text x="23.85" y="17.6" font-size="18" font-weight="bold" fill="#000" stroke="#000" stroke-width="0.25">A</text>
<rect x="26.4" y="86.4" width="47.30" height="9.40" fill="#fff" stroke="#222" stroke-width="1.2"/>
<rect x="27.4" y="87.60000000000001" width="31.0" height="7.00" fill="#d0d0d0"/>
<text x="27.599999999999998" y="94.2" font-size="8.8" fill="#000" stroke="#000" stroke-width="0.3">Myeloid</text>
<text x="34.7" y="123.3" font-size="12.5" font-weight="bold" stroke="#000" stroke-width="0.3" textLength="74.5" lengthAdjust="spacingAndGlyphs" fill="#000">HLA-DR FITC</text>
<text transform="translate(10.8,83.5) rotate(-90)" font-size="12.3" font-weight="bold" stroke="#000" stroke-width="0.3" textLength="57.1" lengthAdjust="spacingAndGlyphs" fill="#000">CD11b PE</text>
<path d="M46.9 98.9v4" stroke="#111" stroke-width="1"/>
<text x="45.5" y="106.7" font-size="6.6" font-weight="bold" text-anchor="end" fill="#000">10</text>
<text x="47.5" y="104.5" font-size="4.4" font-weight="bold" fill="#222">1</text>
<path d="M71.5 98.9v4" stroke="#111" stroke-width="1"/>
<text x="70.1" y="106.7" font-size="6.6" font-weight="bold" text-anchor="end" fill="#000">10</text>
<text x="72.1" y="104.5" font-size="4.4" font-weight="bold" fill="#222">2</text>
<path d="M96.1 98.9v4" stroke="#111" stroke-width="1"/>
<text x="94.69999999999999" y="106.7" font-size="6.6" font-weight="bold" text-anchor="end" fill="#000">10</text>
<text x="96.69999999999999" y="104.5" font-size="4.4" font-weight="bold" fill="#222">3</text>
<path d="M21.7 25.6h-3.6" stroke="#111" stroke-width="1"/>
<text transform="translate(18.599999999999998,27.0) rotate(-90)" font-size="6.6" font-weight="bold" text-anchor="end" fill="#000">10</text>
<text transform="translate(16.299999999999997,25.0) rotate(-90)" font-size="4.4" font-weight="bold" fill="#222">3</text>
<path d="M21.7 49.6h-3.6" stroke="#111" stroke-width="1"/>
<text transform="translate(18.599999999999998,51.0) rotate(-90)" font-size="6.6" font-weight="bold" text-anchor="end" fill="#000">10</text>
<text transform="translate(16.299999999999997,49.0) rotate(-90)" font-size="4.4" font-weight="bold" fill="#222">2</text>
<path d="M21.7 74.4h-3.6" stroke="#111" stroke-width="1"/>
<text transform="translate(18.599999999999998,75.80000000000001) rotate(-90)" font-size="6.6" font-weight="bold" text-anchor="end" fill="#000">10</text>
<text transform="translate(16.299999999999997,73.80000000000001) rotate(-90)" font-size="4.4" font-weight="bold" fill="#222">1</text>
<rect x="148.3" y="2.0" width="100.50" height="97.10" fill="none" stroke="#111" stroke-width="1.5"/>
<text x="151.4" y="17.6" font-size="18" font-weight="bold" fill="#000" stroke="#000" stroke-width="0.25">B</text>
<rect x="162.5" y="87" width="36.75" height="8.00" fill="#fff" stroke="#222" stroke-width="1.2"/>
<rect x="163.5" y="88.2" width="22.8" height="5.60" fill="#d0d0d0"/>
<text x="163.7" y="93.4" font-size="8.8" fill="#000" stroke="#000" stroke-width="0.3">Mono</text>
<text x="167.5" y="123.3" font-size="12.5" font-weight="bold" stroke="#000" stroke-width="0.3" textLength="75.2" lengthAdjust="spacingAndGlyphs" fill="#000">HLA-DR FITC</text>
<text transform="translate(135.05,77.9) rotate(-90)" font-size="12.3" font-weight="bold" stroke="#000" stroke-width="0.3" textLength="55.8" lengthAdjust="spacingAndGlyphs" fill="#000">CD11b PE</text>
<path d="M175.2 99.1v4" stroke="#111" stroke-width="1"/>
<text x="173.79999999999998" y="106.89999999999999" font-size="6.6" font-weight="bold" text-anchor="end" fill="#000">10</text>
<text x="175.79999999999998" y="104.69999999999999" font-size="4.4" font-weight="bold" fill="#222">1</text>
<path d="M198.8 99.1v4" stroke="#111" stroke-width="1"/>
<text x="197.4" y="106.89999999999999" font-size="6.6" font-weight="bold" text-anchor="end" fill="#000">10</text>
<text x="199.4" y="104.69999999999999" font-size="4.4" font-weight="bold" fill="#222">2</text>
<path d="M223.7 99.1v4" stroke="#111" stroke-width="1"/>
<text x="222.29999999999998" y="106.89999999999999" font-size="6.6" font-weight="bold" text-anchor="end" fill="#000">10</text>
<text x="224.29999999999998" y="104.69999999999999" font-size="4.4" font-weight="bold" fill="#222">3</text>
<path d="M148.3 25.8h-3.6" stroke="#111" stroke-width="1"/>
<text transform="translate(145.20000000000002,27.2) rotate(-90)" font-size="6.6" font-weight="bold" text-anchor="end" fill="#000">10</text>
<text transform="translate(142.9,25.2) rotate(-90)" font-size="4.4" font-weight="bold" fill="#222">3</text>
<path d="M148.3 50h-3.6" stroke="#111" stroke-width="1"/>
<text transform="translate(145.20000000000002,51.4) rotate(-90)" font-size="6.6" font-weight="bold" text-anchor="end" fill="#000">10</text>
<text transform="translate(142.9,49.4) rotate(-90)" font-size="4.4" font-weight="bold" fill="#222">2</text>
<path d="M148.3 74.5h-3.6" stroke="#111" stroke-width="1"/>
<text transform="translate(145.20000000000002,75.9) rotate(-90)" font-size="6.6" font-weight="bold" text-anchor="end" fill="#000">10</text>
<text transform="translate(142.9,73.9) rotate(-90)" font-size="4.4" font-weight="bold" fill="#222">1</text>
<rect x="275.5" y="2.1" width="103.50" height="98.00" fill="none" stroke="#111" stroke-width="1.5"/>
<text x="278.56" y="16.9" font-size="18" font-weight="bold" fill="#000" stroke="#000" stroke-width="0.25">C</text>
<rect x="326.25" y="87" width="47.50" height="8.75" fill="#fff" stroke="#222" stroke-width="1.2"/>
<rect x="327.25" y="88.2" width="31.0" height="6.35" fill="#d0d0d0"/>
<text x="327.45" y="94.15" font-size="8.8" fill="#000" stroke="#000" stroke-width="0.3">Myeloid</text>
<text x="297.0" y="124.25" font-size="12.5" font-weight="bold" stroke="#000" stroke-width="0.3" textLength="59.8" lengthAdjust="spacingAndGlyphs" fill="#000">CD16 FITC</text>
<text transform="translate(264.85,76.5) rotate(-90)" font-size="12.3" font-weight="bold" stroke="#000" stroke-width="0.3" textLength="49.0" lengthAdjust="spacingAndGlyphs" fill="#000">CD13 PE</text>
<path d="M301.4 100.1v4" stroke="#111" stroke-width="1"/>
<text x="300.0" y="107.89999999999999" font-size="6.6" font-weight="bold" text-anchor="end" fill="#000">10</text>
<text x="302.0" y="105.69999999999999" font-size="4.4" font-weight="bold" fill="#222">1</text>
<path d="M327.4 100.1v4" stroke="#111" stroke-width="1"/>
<text x="326.0" y="107.89999999999999" font-size="6.6" font-weight="bold" text-anchor="end" fill="#000">10</text>
<text x="328.0" y="105.69999999999999" font-size="4.4" font-weight="bold" fill="#222">2</text>
<path d="M353.3 100.1v4" stroke="#111" stroke-width="1"/>
<text x="351.90000000000003" y="107.89999999999999" font-size="6.6" font-weight="bold" text-anchor="end" fill="#000">10</text>
<text x="353.90000000000003" y="105.69999999999999" font-size="4.4" font-weight="bold" fill="#222">3</text>
<path d="M275.5 26h-3.6" stroke="#111" stroke-width="1"/>
<text transform="translate(272.4,27.4) rotate(-90)" font-size="6.6" font-weight="bold" text-anchor="end" fill="#000">10</text>
<text transform="translate(270.1,25.4) rotate(-90)" font-size="4.4" font-weight="bold" fill="#222">3</text>
<path d="M275.5 50.5h-3.6" stroke="#111" stroke-width="1"/>
<text transform="translate(272.4,51.9) rotate(-90)" font-size="6.6" font-weight="bold" text-anchor="end" fill="#000">10</text>
<text transform="translate(270.1,49.9) rotate(-90)" font-size="4.4" font-weight="bold" fill="#222">2</text>
<path d="M275.5 75h-3.6" stroke="#111" stroke-width="1"/>
<text transform="translate(272.4,76.4) rotate(-90)" font-size="6.6" font-weight="bold" text-anchor="end" fill="#000">10</text>
<text transform="translate(270.1,74.4) rotate(-90)" font-size="4.4" font-weight="bold" fill="#222">1</text>
<rect x="407.5" y="2.3" width="110.50" height="98.20" fill="none" stroke="#111" stroke-width="1.5"/>
<text x="410.6" y="17.4" font-size="18" font-weight="bold" fill="#000" stroke="#000" stroke-width="0.25">D</text>
<rect x="458.75" y="85" width="46.75" height="9.25" fill="#fff" stroke="#222" stroke-width="1.2"/>
<rect x="459.75" y="86.2" width="31.0" height="6.85" fill="#d0d0d0"/>
<text x="459.95" y="92.65" font-size="8.8" fill="#000" stroke="#000" stroke-width="0.3">Myeloid</text>
<text x="422.0" y="124" font-size="12.5" font-weight="bold" stroke="#000" stroke-width="0.3" textLength="60.2" lengthAdjust="spacingAndGlyphs" fill="#000">CD16 FITC</text>
<text transform="translate(396.25,77.2) rotate(-90)" font-size="12.3" font-weight="bold" stroke="#000" stroke-width="0.3" textLength="48.8" lengthAdjust="spacingAndGlyphs" fill="#000">CD13 PE</text>
<path d="M436.1 100.5v4" stroke="#111" stroke-width="1"/>
<text x="434.70000000000005" y="108.3" font-size="6.6" font-weight="bold" text-anchor="end" fill="#000">10</text>
<text x="436.70000000000005" y="106.1" font-size="4.4" font-weight="bold" fill="#222">1</text>
<path d="M463 100.5v4" stroke="#111" stroke-width="1"/>
<text x="461.6" y="108.3" font-size="6.6" font-weight="bold" text-anchor="end" fill="#000">10</text>
<text x="463.6" y="106.1" font-size="4.4" font-weight="bold" fill="#222">2</text>
<path d="M490 100.5v4" stroke="#111" stroke-width="1"/>
<text x="488.6" y="108.3" font-size="6.6" font-weight="bold" text-anchor="end" fill="#000">10</text>
<text x="490.6" y="106.1" font-size="4.4" font-weight="bold" fill="#222">3</text>
<path d="M407.5 26.7h-3.6" stroke="#111" stroke-width="1"/>
<text transform="translate(404.4,28.099999999999998) rotate(-90)" font-size="6.6" font-weight="bold" text-anchor="end" fill="#000">10</text>
<text transform="translate(402.1,26.099999999999998) rotate(-90)" font-size="4.4" font-weight="bold" fill="#222">3</text>
<path d="M407.5 51h-3.6" stroke="#111" stroke-width="1"/>
<text transform="translate(404.4,52.4) rotate(-90)" font-size="6.6" font-weight="bold" text-anchor="end" fill="#000">10</text>
<text transform="translate(402.1,50.4) rotate(-90)" font-size="4.4" font-weight="bold" fill="#222">2</text>
<path d="M407.5 75.4h-3.6" stroke="#111" stroke-width="1"/>
<text transform="translate(404.4,76.80000000000001) rotate(-90)" font-size="6.6" font-weight="bold" text-anchor="end" fill="#000">10</text>
<text transform="translate(402.1,74.80000000000001) rotate(-90)" font-size="4.4" font-weight="bold" fill="#222">1</text>
<rect x="20.6" y="129.0" width="100.80" height="94.00" fill="none" stroke="#111" stroke-width="1.5"/>
<text x="23.9" y="145.1" font-size="18" font-weight="bold" fill="#000" stroke="#000" stroke-width="0.25">E</text>
<rect x="62.5" y="209.25" width="47.00" height="8.75" fill="#fff" stroke="#222" stroke-width="1.2"/>
<rect x="63.5" y="210.45" width="31.0" height="6.35" fill="#d0d0d0"/>
<text x="63.7" y="216.4" font-size="8.8" fill="#000" stroke="#000" stroke-width="0.3">Myeloid</text>
<text x="34.5" y="247.5" font-size="12.5" font-weight="bold" stroke="#000" stroke-width="0.3" textLength="53.5" lengthAdjust="spacingAndGlyphs" fill="#000">CD7 FITC</text>
<text transform="translate(11.15,203.2) rotate(-90)" font-size="12.3" font-weight="bold" stroke="#000" stroke-width="0.3" textLength="50.2" lengthAdjust="spacingAndGlyphs" fill="#000">CD56 PE</text>
<path d="M46.1 223.0v4" stroke="#111" stroke-width="1"/>
<text x="44.7" y="230.8" font-size="6.6" font-weight="bold" text-anchor="end" fill="#000">10</text>
<text x="46.7" y="228.6" font-size="4.4" font-weight="bold" fill="#222">1</text>
<path d="M71.4 223.0v4" stroke="#111" stroke-width="1"/>
<text x="70.0" y="230.8" font-size="6.6" font-weight="bold" text-anchor="end" fill="#000">10</text>
<text x="72.0" y="228.6" font-size="4.4" font-weight="bold" fill="#222">2</text>
<path d="M96.6 223.0v4" stroke="#111" stroke-width="1"/>
<text x="95.19999999999999" y="230.8" font-size="6.6" font-weight="bold" text-anchor="end" fill="#000">10</text>
<text x="97.19999999999999" y="228.6" font-size="4.4" font-weight="bold" fill="#222">3</text>
<path d="M20.6 151.7h-3.6" stroke="#111" stroke-width="1"/>
<text transform="translate(17.5,153.1) rotate(-90)" font-size="6.6" font-weight="bold" text-anchor="end" fill="#000">10</text>
<text transform="translate(15.200000000000001,151.1) rotate(-90)" font-size="4.4" font-weight="bold" fill="#222">3</text>
<path d="M20.6 175.5h-3.6" stroke="#111" stroke-width="1"/>
<text transform="translate(17.5,176.9) rotate(-90)" font-size="6.6" font-weight="bold" text-anchor="end" fill="#000">10</text>
<text transform="translate(15.200000000000001,174.9) rotate(-90)" font-size="4.4" font-weight="bold" fill="#222">2</text>
<path d="M20.6 199.5h-3.6" stroke="#111" stroke-width="1"/>
<text transform="translate(17.5,200.9) rotate(-90)" font-size="6.6" font-weight="bold" text-anchor="end" fill="#000">10</text>
<text transform="translate(15.200000000000001,198.9) rotate(-90)" font-size="4.4" font-weight="bold" fill="#222">1</text>
<rect x="148.6" y="129.0" width="102.90" height="94.10" fill="none" stroke="#111" stroke-width="1.5"/>
<text x="151.4" y="144.9" font-size="18" font-weight="bold" fill="#000" stroke="#000" stroke-width="0.25">F</text>
<rect x="170" y="136.25" width="36.25" height="8.75" fill="#fff" stroke="#222" stroke-width="1.2"/>
<rect x="171.0" y="137.45" width="22.8" height="6.35" fill="#d0d0d0"/>
<text x="171.2" y="143.4" font-size="8.8" fill="#000" stroke="#000" stroke-width="0.3">Mono</text>
<text x="167.0" y="247.5" font-size="12.5" font-weight="bold" stroke="#000" stroke-width="0.3" textLength="53.5" lengthAdjust="spacingAndGlyphs" fill="#000">CD7 FITC</text>
<text transform="translate(137.65,202.2) rotate(-90)" font-size="12.3" font-weight="bold" stroke="#000" stroke-width="0.3" textLength="48.8" lengthAdjust="spacingAndGlyphs" fill="#000">CD56 PE</text>
<path d="M174.8 223.1v4" stroke="#111" stroke-width="1"/>
<text x="173.4" y="230.9" font-size="6.6" font-weight="bold" text-anchor="end" fill="#000">10</text>
<text x="175.4" y="228.7" font-size="4.4" font-weight="bold" fill="#222">1</text>
<path d="M199.7 223.1v4" stroke="#111" stroke-width="1"/>
<text x="198.29999999999998" y="230.9" font-size="6.6" font-weight="bold" text-anchor="end" fill="#000">10</text>
<text x="200.29999999999998" y="228.7" font-size="4.4" font-weight="bold" fill="#222">2</text>
<path d="M225.3 223.1v4" stroke="#111" stroke-width="1"/>
<text x="223.9" y="230.9" font-size="6.6" font-weight="bold" text-anchor="end" fill="#000">10</text>
<text x="225.9" y="228.7" font-size="4.4" font-weight="bold" fill="#222">3</text>
<path d="M148.6 152h-3.6" stroke="#111" stroke-width="1"/>
<text transform="translate(145.5,153.4) rotate(-90)" font-size="6.6" font-weight="bold" text-anchor="end" fill="#000">10</text>
<text transform="translate(143.2,151.4) rotate(-90)" font-size="4.4" font-weight="bold" fill="#222">3</text>
<path d="M148.6 176.2h-3.6" stroke="#111" stroke-width="1"/>
<text transform="translate(145.5,177.6) rotate(-90)" font-size="6.6" font-weight="bold" text-anchor="end" fill="#000">10</text>
<text transform="translate(143.2,175.6) rotate(-90)" font-size="4.4" font-weight="bold" fill="#222">2</text>
<path d="M148.6 200.5h-3.6" stroke="#111" stroke-width="1"/>
<text transform="translate(145.5,201.9) rotate(-90)" font-size="6.6" font-weight="bold" text-anchor="end" fill="#000">10</text>
<text transform="translate(143.2,199.9) rotate(-90)" font-size="4.4" font-weight="bold" fill="#222">1</text>
<rect x="276.8" y="129.0" width="111.50" height="94.80" fill="none" stroke="#111" stroke-width="1.5"/>
<text x="279.26" y="145.2" font-size="18" font-weight="bold" fill="#000" stroke="#000" stroke-width="0.25">G</text>
<rect x="334.5" y="211.25" width="47.25" height="8.25" fill="#fff" stroke="#222" stroke-width="1.2"/>
<rect x="335.5" y="212.45" width="31.0" height="5.85" fill="#d0d0d0"/>
<text x="335.7" y="217.9" font-size="8.8" fill="#000" stroke="#000" stroke-width="0.3">Myeloid</text>
<text x="292.0" y="247.5" font-size="12.5" font-weight="bold" stroke="#000" stroke-width="0.3" textLength="74.8" lengthAdjust="spacingAndGlyphs" fill="#000">HLA-DR FITC</text>
<text transform="translate(265.05,202.8) rotate(-90)" font-size="12.3" font-weight="bold" stroke="#000" stroke-width="0.3" textLength="49.4" lengthAdjust="spacingAndGlyphs" fill="#000">CD34 PE</text>
<path d="M305.5 223.8v4" stroke="#111" stroke-width="1"/>
<text x="304.1" y="231.60000000000002" font-size="6.6" font-weight="bold" text-anchor="end" fill="#000">10</text>
<text x="306.1" y="229.4" font-size="4.4" font-weight="bold" fill="#222">1</text>
<path d="M332.4 223.8v4" stroke="#111" stroke-width="1"/>
<text x="331.0" y="231.60000000000002" font-size="6.6" font-weight="bold" text-anchor="end" fill="#000">10</text>
<text x="333.0" y="229.4" font-size="4.4" font-weight="bold" fill="#222">2</text>
<path d="M360 223.8v4" stroke="#111" stroke-width="1"/>
<text x="358.6" y="231.60000000000002" font-size="6.6" font-weight="bold" text-anchor="end" fill="#000">10</text>
<text x="360.6" y="229.4" font-size="4.4" font-weight="bold" fill="#222">3</text>
<path d="M276.8 152.4h-3.6" stroke="#111" stroke-width="1"/>
<text transform="translate(273.7,153.8) rotate(-90)" font-size="6.6" font-weight="bold" text-anchor="end" fill="#000">10</text>
<text transform="translate(271.40000000000003,151.8) rotate(-90)" font-size="4.4" font-weight="bold" fill="#222">3</text>
<path d="M276.8 176h-3.6" stroke="#111" stroke-width="1"/>
<text transform="translate(273.7,177.4) rotate(-90)" font-size="6.6" font-weight="bold" text-anchor="end" fill="#000">10</text>
<text transform="translate(271.40000000000003,175.4) rotate(-90)" font-size="4.4" font-weight="bold" fill="#222">2</text>
<path d="M276.8 200.3h-3.6" stroke="#111" stroke-width="1"/>
<text transform="translate(273.7,201.70000000000002) rotate(-90)" font-size="6.6" font-weight="bold" text-anchor="end" fill="#000">10</text>
<text transform="translate(271.40000000000003,199.70000000000002) rotate(-90)" font-size="4.4" font-weight="bold" fill="#222">1</text>
<rect x="415.6" y="129.25" width="102.60" height="94.65" fill="none" stroke="#111" stroke-width="1.5"/>
<text x="418.7" y="144.9" font-size="18" font-weight="bold" fill="#000" stroke="#000" stroke-width="0.25">H</text>
<rect x="453.25" y="136.25" width="35.50" height="8.25" fill="#fff" stroke="#222" stroke-width="1.2"/>
<rect x="454.25" y="137.45" width="22.8" height="5.85" fill="#d0d0d0"/>
<text x="454.45" y="142.9" font-size="8.8" fill="#000" stroke="#000" stroke-width="0.3">Mono</text>
<text x="437.0" y="247.5" font-size="12.5" font-weight="bold" stroke="#000" stroke-width="0.3" textLength="58.5" lengthAdjust="spacingAndGlyphs" fill="#000">CD15 FITC</text>
<text transform="translate(405.9,198.7) rotate(-90)" font-size="12.3" font-weight="bold" stroke="#000" stroke-width="0.3" textLength="49.4" lengthAdjust="spacingAndGlyphs" fill="#000">CD34 PE</text>
<path d="M441.4 223.9v4" stroke="#111" stroke-width="1"/>
<text x="440.0" y="231.70000000000002" font-size="6.6" font-weight="bold" text-anchor="end" fill="#000">10</text>
<text x="442.0" y="229.5" font-size="4.4" font-weight="bold" fill="#222">1</text>
<path d="M467 223.9v4" stroke="#111" stroke-width="1"/>
<text x="465.6" y="231.70000000000002" font-size="6.6" font-weight="bold" text-anchor="end" fill="#000">10</text>
<text x="467.6" y="229.5" font-size="4.4" font-weight="bold" fill="#222">2</text>
<path d="M492.6 223.9v4" stroke="#111" stroke-width="1"/>
<text x="491.20000000000005" y="231.70000000000002" font-size="6.6" font-weight="bold" text-anchor="end" fill="#000">10</text>
<text x="493.20000000000005" y="229.5" font-size="4.4" font-weight="bold" fill="#222">3</text>
<path d="M415.6 152.7h-3.6" stroke="#111" stroke-width="1"/>
<text transform="translate(412.5,154.1) rotate(-90)" font-size="6.6" font-weight="bold" text-anchor="end" fill="#000">10</text>
<text transform="translate(410.20000000000005,152.1) rotate(-90)" font-size="4.4" font-weight="bold" fill="#222">3</text>
<path d="M415.6 176.2h-3.6" stroke="#111" stroke-width="1"/>
<text transform="translate(412.5,177.6) rotate(-90)" font-size="6.6" font-weight="bold" text-anchor="end" fill="#000">10</text>
<text transform="translate(410.20000000000005,175.6) rotate(-90)" font-size="4.4" font-weight="bold" fill="#222">2</text>
<path d="M415.6 200.4h-3.6" stroke="#111" stroke-width="1"/>
<text transform="translate(412.5,201.8) rotate(-90)" font-size="6.6" font-weight="bold" text-anchor="end" fill="#000">10</text>
<text transform="translate(410.20000000000005,199.8) rotate(-90)" font-size="4.4" font-weight="bold" fill="#222">1</text>
<rect x="23.9" y="261.5" width="99.80" height="102.50" fill="none" stroke="#111" stroke-width="1.5"/>
<text x="26.3" y="278.6" font-size="18" font-weight="bold" fill="#000" stroke="#000" stroke-width="0.25">I</text>
<rect x="40" y="271.25" width="46.75" height="8.75" fill="#fff" stroke="#222" stroke-width="1.2"/>
<rect x="41.0" y="272.45" width="31.0" height="6.35" fill="#d0d0d0"/>
<text x="41.2" y="278.4" font-size="8.8" fill="#000" stroke="#000" stroke-width="0.3">Myeloid</text>
<text x="35.75" y="388" font-size="12.5" font-weight="bold" stroke="#000" stroke-width="0.3" textLength="53.5" lengthAdjust="spacingAndGlyphs" fill="#000">CD7 FITC</text>
<text transform="translate(12.95,338.1) rotate(-90)" font-size="12.3" font-weight="bold" stroke="#000" stroke-width="0.3" textLength="50.3" lengthAdjust="spacingAndGlyphs" fill="#000">CD56 PE</text>
<path d="M48.8 364.0v4" stroke="#111" stroke-width="1"/>
<text x="47.4" y="371.8" font-size="6.6" font-weight="bold" text-anchor="end" fill="#000">10</text>
<text x="49.4" y="369.6" font-size="4.4" font-weight="bold" fill="#222">1</text>
<path d="M73.7 364.0v4" stroke="#111" stroke-width="1"/>
<text x="72.3" y="371.8" font-size="6.6" font-weight="bold" text-anchor="end" fill="#000">10</text>
<text x="74.3" y="369.6" font-size="4.4" font-weight="bold" fill="#222">2</text>
<path d="M98.6 364.0v4" stroke="#111" stroke-width="1"/>
<text x="97.19999999999999" y="371.8" font-size="6.6" font-weight="bold" text-anchor="end" fill="#000">10</text>
<text x="99.19999999999999" y="369.6" font-size="4.4" font-weight="bold" fill="#222">3</text>
<path d="M23.9 287h-3.6" stroke="#111" stroke-width="1"/>
<text transform="translate(20.799999999999997,288.4) rotate(-90)" font-size="6.6" font-weight="bold" text-anchor="end" fill="#000">10</text>
<text transform="translate(18.5,286.4) rotate(-90)" font-size="4.4" font-weight="bold" fill="#222">3</text>
<path d="M23.9 312h-3.6" stroke="#111" stroke-width="1"/>
<text transform="translate(20.799999999999997,313.4) rotate(-90)" font-size="6.6" font-weight="bold" text-anchor="end" fill="#000">10</text>
<text transform="translate(18.5,311.4) rotate(-90)" font-size="4.4" font-weight="bold" fill="#222">2</text>
<path d="M23.9 337h-3.6" stroke="#111" stroke-width="1"/>
<text transform="translate(20.799999999999997,338.4) rotate(-90)" font-size="6.6" font-weight="bold" text-anchor="end" fill="#000">10</text>
<text transform="translate(18.5,336.4) rotate(-90)" font-size="4.4" font-weight="bold" fill="#222">1</text>
<rect x="154.8" y="261.6" width="96.95" height="102.40" fill="none" stroke="#111" stroke-width="1.5"/>
<text x="158.2" y="277.9" font-size="18" font-weight="bold" fill="#000" stroke="#000" stroke-width="0.25">J</text>
<rect x="175" y="271.25" width="36.75" height="8.75" fill="#fff" stroke="#222" stroke-width="1.2"/>
<rect x="176.0" y="272.45" width="22.8" height="6.35" fill="#d0d0d0"/>
<text x="176.2" y="278.4" font-size="8.8" fill="#000" stroke="#000" stroke-width="0.3">Mono</text>
<text x="166.5" y="388" font-size="12.5" font-weight="bold" stroke="#000" stroke-width="0.3" textLength="53.5" lengthAdjust="spacingAndGlyphs" fill="#000">CD7 FITC</text>
<text transform="translate(142.05,339.5) rotate(-90)" font-size="12.3" font-weight="bold" stroke="#000" stroke-width="0.3" textLength="48.6" lengthAdjust="spacingAndGlyphs" fill="#000">CD56 PE</text>
<path d="M180 365.0v5.5" stroke="#111" stroke-width="0.9"/>
<text x="170.7" y="370.4" font-size="6.6" font-weight="bold" text-anchor="end" fill="#000">10</text>
<text x="173.2" y="368.6" font-size="4.4" font-weight="bold" fill="#222">1</text>
<path d="M203.8 365.0v5.5" stroke="#111" stroke-width="0.9"/>
<text x="194.5" y="370.4" font-size="6.6" font-weight="bold" text-anchor="end" fill="#000">10</text>
<text x="197.0" y="368.6" font-size="4.4" font-weight="bold" fill="#222">2</text>
<path d="M226.9 365.0v5.5" stroke="#111" stroke-width="0.9"/>
<text x="217.6" y="370.4" font-size="6.6" font-weight="bold" text-anchor="end" fill="#000">10</text>
<text x="220.1" y="368.6" font-size="4.4" font-weight="bold" fill="#222">3</text>
<path d="M154.8 287.4h-3.6" stroke="#111" stroke-width="1"/>
<text transform="translate(151.70000000000002,288.79999999999995) rotate(-90)" font-size="6.6" font-weight="bold" text-anchor="end" fill="#000">10</text>
<text transform="translate(149.4,286.79999999999995) rotate(-90)" font-size="4.4" font-weight="bold" fill="#222">3</text>
<path d="M154.8 312.5h-3.6" stroke="#111" stroke-width="1"/>
<text transform="translate(151.70000000000002,313.9) rotate(-90)" font-size="6.6" font-weight="bold" text-anchor="end" fill="#000">10</text>
<text transform="translate(149.4,311.9) rotate(-90)" font-size="4.4" font-weight="bold" fill="#222">2</text>
<path d="M154.8 337.5h-3.6" stroke="#111" stroke-width="1"/>
<text transform="translate(151.70000000000002,338.9) rotate(-90)" font-size="6.6" font-weight="bold" text-anchor="end" fill="#000">10</text>
<text transform="translate(149.4,336.9) rotate(-90)" font-size="4.4" font-weight="bold" fill="#222">1</text>
</svg></body></html>
